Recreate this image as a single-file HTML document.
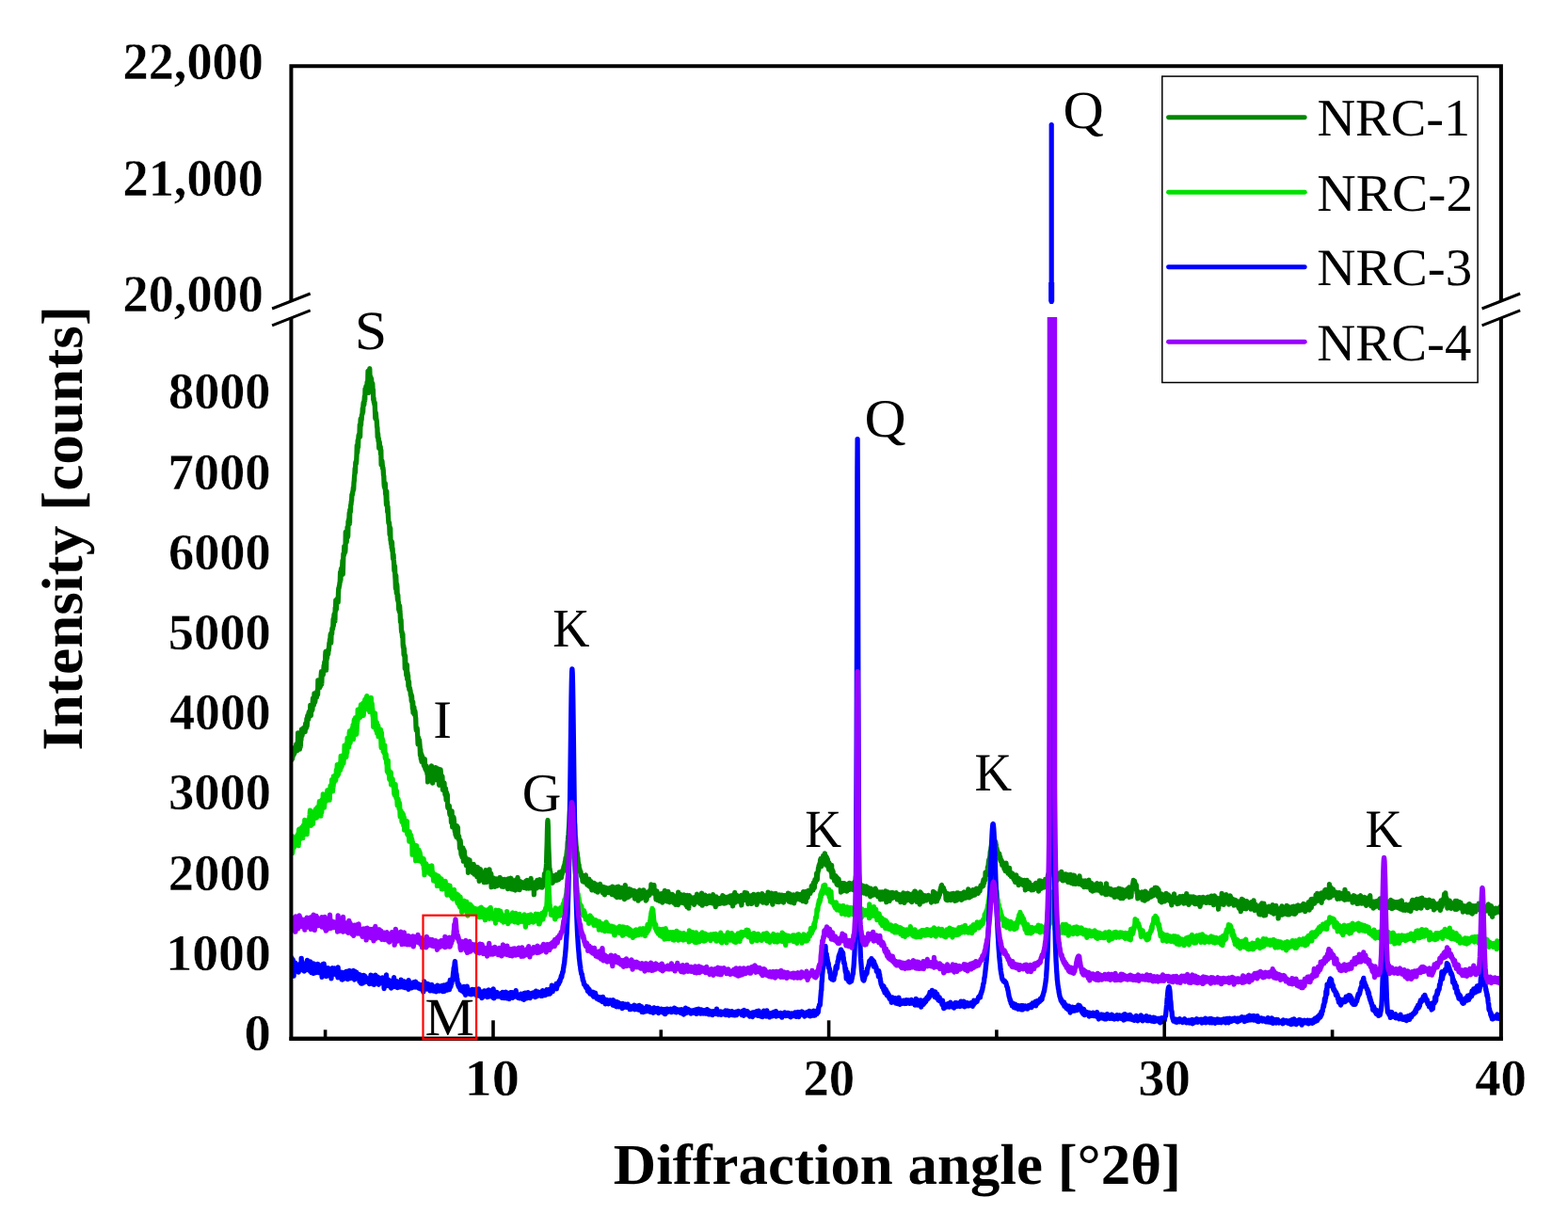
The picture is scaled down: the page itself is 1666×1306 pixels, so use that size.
<!DOCTYPE html>
<html lang="en"><head><meta charset="utf-8"><title>XRD patterns NRC-1 to NRC-4</title>
<style>html,body{margin:0;padding:0;background:#fff;}body{width:1666px;height:1306px;overflow:hidden;}svg{display:block;}</style></head>
<body>
<svg width="1666" height="1306" viewBox="0 0 1666 1306" role="img" aria-label="XRD patterns of samples NRC-1 to NRC-4">
<rect width="1666" height="1306" fill="#fff"/>
<defs><clipPath id="lo"><rect x="309.4" y="337.0" width="1285.5" height="766.8"/></clipPath></defs>
<g clip-path="url(#lo)" fill="none" stroke-width="5.3" stroke-linejoin="round" stroke-linecap="round">
<path stroke="#008800" d="M309.4,805.8 L309.7,807.6 L310.0,805.0 L310.3,797.3 L310.6,806.4 L310.9,803.8 L311.2,798.9 L311.5,803.2 L311.8,801.7 L312.1,800.8 L312.4,799.1 L312.7,800.8 L313.0,794.5 L313.3,796.5 L313.6,794.5 L313.9,798.6 L314.2,795.6 L314.5,793.6 L314.8,790.8 L315.1,792.5 L315.4,793.1 L315.7,791.3 L316.0,797.6 L316.3,795.8 L316.6,778.8 L316.9,781.8 L317.2,788.7 L317.5,787.0 L317.8,789.1 L318.1,788.4 L318.4,796.1 L318.7,781.2 L319.0,783.8 L319.3,793.7 L319.6,786.9 L319.9,786.3 L320.2,780.5 L320.5,774.8 L320.8,782.1 L321.1,781.2 L321.4,774.6 L321.7,776.3 L322.0,778.3 L322.3,773.8 L322.6,776.9 L322.9,777.0 L323.2,776.1 L323.5,773.0 L323.8,777.1 L324.1,777.7 L324.4,774.4 L324.7,768.6 L325.0,774.6 L325.3,768.3 L325.6,773.5 L325.9,764.0 L326.2,771.8 L326.5,766.8 L326.8,760.4 L327.1,763.6 L327.4,764.3 L327.7,764.4 L328.0,757.9 L328.3,756.5 L328.6,761.3 L328.9,757.4 L329.2,759.6 L329.5,761.0 L329.8,749.5 L330.1,756.9 L330.4,760.3 L330.7,752.7 L331.0,749.5 L331.3,755.4 L331.6,752.3 L331.9,754.3 L332.2,747.9 L332.5,742.0 L332.8,747.2 L333.1,744.8 L333.4,749.3 L333.7,745.9 L334.0,737.0 L334.3,738.0 L334.6,746.3 L334.9,744.5 L335.2,737.8 L335.5,739.8 L335.8,740.8 L336.1,740.1 L336.4,741.0 L336.7,737.4 L337.0,735.0 L337.3,733.4 L337.6,738.3 L337.9,722.9 L338.2,731.3 L338.5,731.1 L338.8,723.8 L339.1,730.5 L339.4,725.2 L339.7,730.8 L340.0,725.4 L340.3,727.8 L340.6,729.0 L340.9,724.2 L341.2,717.6 L341.5,713.6 L341.8,726.9 L342.1,717.5 L342.4,713.9 L342.7,716.4 L343.0,713.8 L343.3,717.2 L343.6,712.5 L343.9,711.3 L344.2,707.0 L344.5,711.0 L344.8,703.3 L345.1,709.6 L345.4,712.3 L345.7,697.7 L346.0,692.5 L346.3,704.9 L346.6,712.2 L346.9,695.5 L347.2,693.3 L347.5,700.2 L347.8,692.8 L348.1,693.1 L348.4,692.6 L348.7,695.2 L349.0,689.7 L349.3,691.2 L349.6,687.7 L349.9,683.1 L350.2,683.7 L350.5,679.3 L350.8,681.8 L351.1,675.1 L351.4,673.5 L351.7,683.1 L352.0,674.7 L352.3,673.0 L352.6,673.8 L352.9,668.0 L353.2,667.1 L353.5,668.3 L353.8,666.0 L354.1,657.9 L354.4,665.0 L354.7,657.0 L355.0,653.3 L355.3,652.2 L355.6,652.8 L355.9,659.9 L356.2,645.8 L356.5,649.8 L356.8,637.8 L357.1,645.3 L357.4,647.3 L357.7,640.3 L358.0,636.6 L358.3,638.4 L358.6,638.5 L358.9,636.3 L359.2,640.1 L359.5,630.3 L359.8,624.8 L360.1,624.9 L360.4,623.1 L360.7,621.9 L361.0,619.3 L361.3,618.3 L361.6,608.2 L361.9,617.2 L362.2,609.0 L362.5,604.4 L362.8,610.4 L363.1,611.4 L363.4,605.7 L363.7,602.3 L364.0,595.5 L364.3,610.2 L364.6,599.5 L364.9,588.6 L365.2,588.1 L365.5,589.9 L365.8,580.7 L366.1,586.2 L366.4,581.4 L366.7,586.7 L367.0,583.5 L367.3,565.3 L367.6,575.4 L367.9,566.0 L368.2,576.0 L368.5,569.8 L368.8,569.4 L369.1,560.3 L369.4,570.9 L369.7,569.7 L370.0,554.1 L370.3,558.4 L370.6,551.7 L370.9,552.4 L371.2,544.8 L371.5,556.4 L371.8,541.8 L372.1,542.5 L372.4,543.8 L372.7,536.5 L373.0,536.1 L373.3,532.5 L373.6,532.1 L373.9,525.4 L374.2,526.4 L374.5,525.2 L374.8,522.4 L375.1,521.8 L375.4,518.0 L375.7,520.2 L376.0,512.9 L376.3,511.0 L376.6,505.9 L376.9,503.6 L377.2,497.4 L377.5,502.2 L377.8,491.9 L378.1,490.7 L378.4,492.6 L378.7,489.8 L379.0,483.3 L379.3,473.4 L379.6,481.3 L379.9,478.0 L380.2,468.2 L380.5,475.4 L380.8,466.6 L381.1,462.5 L381.4,465.5 L381.7,462.1 L382.0,461.5 L382.3,451.3 L382.6,464.0 L382.9,451.2 L383.2,444.8 L383.5,452.0 L383.8,445.5 L384.1,446.3 L384.4,441.3 L384.7,440.5 L385.0,439.9 L385.3,433.7 L385.6,438.1 L385.9,431.3 L386.2,427.8 L386.5,430.2 L386.8,430.1 L387.1,425.4 L387.4,420.9 L387.7,425.7 L388.0,413.5 L388.3,415.0 L388.6,418.1 L388.9,410.4 L389.2,414.9 L389.5,412.9 L389.8,415.5 L390.1,406.0 L390.4,405.7 L390.7,408.4 L391.0,394.5 L391.3,417.4 L391.6,399.3 L391.9,397.9 L392.2,403.9 L392.5,399.4 L392.8,391.7 L393.1,402.8 L393.4,404.7 L393.7,400.2 L394.0,402.2 L394.3,407.0 L394.6,402.4 L394.9,409.9 L395.2,410.7 L395.5,408.7 L395.8,407.5 L396.1,414.7 L396.4,413.9 L396.7,424.3 L397.0,422.6 L397.3,427.6 L397.6,427.0 L397.9,430.0 L398.2,427.9 L398.5,436.9 L398.8,444.6 L399.1,438.2 L399.4,439.8 L399.7,444.5 L400.0,445.9 L400.3,447.6 L400.6,453.9 L400.9,454.5 L401.2,464.5 L401.5,460.5 L401.8,464.2 L402.1,469.2 L402.4,466.0 L402.7,475.9 L403.0,469.1 L403.3,470.5 L403.6,474.8 L403.9,478.1 L404.2,474.7 L404.5,483.0 L404.8,478.1 L405.1,493.8 L405.4,489.6 L405.7,489.4 L406.0,490.5 L406.3,495.1 L406.6,498.0 L406.9,496.7 L407.2,499.5 L407.5,505.0 L407.8,505.8 L408.1,514.5 L408.4,517.6 L408.7,514.9 L409.0,519.2 L409.3,513.6 L409.6,524.6 L409.9,524.1 L410.2,528.8 L410.5,536.4 L410.8,522.1 L411.1,536.2 L411.4,533.2 L411.7,543.6 L412.0,538.2 L412.3,544.8 L412.6,550.8 L412.9,555.6 L413.2,556.2 L413.5,555.2 L413.8,558.9 L414.1,567.8 L414.4,566.2 L414.7,561.1 L415.0,574.3 L415.3,574.4 L415.6,578.4 L415.9,575.1 L416.2,582.3 L416.5,576.0 L416.8,585.2 L417.1,582.7 L417.4,590.2 L417.7,594.1 L418.0,589.1 L418.3,594.9 L418.6,598.2 L418.9,606.2 L419.2,607.1 L419.5,601.6 L419.8,612.0 L420.1,616.2 L420.4,625.2 L420.7,611.4 L421.0,619.2 L421.3,630.0 L421.6,620.6 L421.9,623.5 L422.2,633.2 L422.5,637.5 L422.8,632.1 L423.1,639.5 L423.4,639.7 L423.7,647.9 L424.0,643.3 L424.3,649.8 L424.6,643.7 L424.9,649.3 L425.2,652.4 L425.5,660.7 L425.8,661.3 L426.1,658.6 L426.4,668.1 L426.7,671.7 L427.0,671.1 L427.3,673.7 L427.6,677.2 L427.9,673.7 L428.2,685.1 L428.5,688.2 L428.8,686.1 L429.1,695.7 L429.4,688.9 L429.7,694.8 L430.0,697.3 L430.3,710.3 L430.6,696.8 L430.9,708.5 L431.2,712.3 L431.5,712.0 L431.8,717.6 L432.1,710.0 L432.4,706.3 L432.7,721.5 L433.0,714.5 L433.3,719.9 L433.6,717.7 L433.9,729.0 L434.2,729.6 L434.5,724.1 L434.8,732.7 L435.1,730.8 L435.4,731.1 L435.7,733.5 L436.0,733.8 L436.3,738.9 L436.6,739.0 L436.9,737.6 L437.2,745.0 L437.5,739.4 L437.8,744.8 L438.1,746.9 L438.4,753.0 L438.7,745.8 L439.0,757.2 L439.3,751.9 L439.6,751.9 L439.9,751.6 L440.2,758.9 L440.5,758.4 L440.8,755.3 L441.1,757.1 L441.4,761.6 L441.7,763.0 L442.0,772.7 L442.3,776.0 L442.6,775.7 L442.9,775.4 L443.2,773.9 L443.5,778.0 L443.8,783.5 L444.1,790.9 L444.4,787.4 L444.7,783.9 L445.0,787.0 L445.3,786.3 L445.6,786.6 L445.9,790.7 L446.2,794.0 L446.5,802.7 L446.8,796.4 L447.1,803.6 L447.4,807.0 L447.7,801.1 L448.0,809.3 L448.3,806.9 L448.6,803.4 L448.9,807.8 L449.2,808.1 L449.5,808.1 L449.8,809.2 L450.1,811.5 L450.4,813.5 L450.7,808.3 L451.0,812.7 L451.3,806.7 L451.6,815.0 L451.9,817.2 L452.2,815.8 L452.5,816.9 L452.8,818.8 L453.1,813.8 L453.4,816.3 L453.7,820.1 L454.0,822.8 L454.3,820.7 L454.6,830.8 L454.9,819.7 L455.2,825.1 L455.5,826.8 L455.8,821.2 L456.1,818.7 L456.4,817.6 L456.7,823.8 L457.0,828.2 L457.3,824.6 L457.6,824.2 L457.9,821.7 L458.2,825.7 L458.5,813.9 L458.8,824.0 L459.1,823.0 L459.4,816.7 L459.7,832.0 L460.0,816.4 L460.3,817.6 L460.6,816.9 L460.9,826.8 L461.2,818.0 L461.5,824.6 L461.8,824.1 L462.1,822.5 L462.4,815.6 L462.7,818.6 L463.0,828.5 L463.3,815.8 L463.6,818.0 L463.9,821.1 L464.2,825.6 L464.5,823.5 L464.8,825.9 L465.1,818.4 L465.4,827.4 L465.7,826.1 L466.0,817.1 L466.3,830.8 L466.6,834.3 L466.9,821.5 L467.2,825.4 L467.5,831.5 L467.8,819.6 L468.1,817.9 L468.4,821.4 L468.7,825.1 L469.0,825.7 L469.3,831.4 L469.6,830.6 L469.9,824.9 L470.2,833.2 L470.5,839.4 L470.8,837.2 L471.1,837.1 L471.4,833.9 L471.7,839.0 L472.0,831.9 L472.3,840.3 L472.6,838.1 L472.9,844.4 L473.2,843.0 L473.5,837.9 L473.8,844.3 L474.1,850.1 L474.4,841.8 L474.7,845.5 L475.0,846.0 L475.3,844.4 L475.6,855.7 L475.9,858.5 L476.2,857.7 L476.5,856.7 L476.8,856.7 L477.1,859.0 L477.4,856.3 L477.7,863.9 L478.0,865.6 L478.3,866.3 L478.6,861.6 L478.9,865.1 L479.2,865.2 L479.5,874.0 L479.8,868.8 L480.1,861.8 L480.4,871.9 L480.7,878.8 L481.0,875.2 L481.3,877.0 L481.6,874.9 L481.9,868.3 L482.2,870.0 L482.5,873.3 L482.8,878.7 L483.1,881.4 L483.4,884.0 L483.7,881.1 L484.0,887.0 L484.3,883.3 L484.6,882.6 L484.9,889.4 L485.2,883.6 L485.5,877.7 L485.8,884.9 L486.1,890.1 L486.4,879.1 L486.7,890.2 L487.0,891.2 L487.3,888.0 L487.6,888.7 L487.9,893.4 L488.2,893.9 L488.5,901.5 L488.8,899.1 L489.1,892.9 L489.4,896.4 L489.7,903.0 L490.0,908.2 L490.3,903.6 L490.6,904.2 L490.9,910.6 L491.2,904.6 L491.5,904.3 L491.8,901.0 L492.1,904.9 L492.4,915.1 L492.7,902.9 L493.0,908.6 L493.3,904.2 L493.6,910.3 L493.9,913.6 L494.2,910.2 L494.5,914.2 L494.8,914.8 L495.1,914.4 L495.4,919.5 L495.7,916.8 L496.0,913.7 L496.3,913.0 L496.6,913.0 L496.9,918.2 L497.2,916.1 L497.5,927.3 L497.8,924.8 L498.1,918.2 L498.4,918.3 L498.7,925.7 L499.0,913.8 L499.3,919.1 L499.6,924.2 L499.9,918.1 L500.2,919.9 L500.5,920.7 L500.8,924.5 L501.1,923.0 L501.4,924.2 L501.7,925.1 L502.0,923.5 L502.3,927.5 L502.6,921.5 L502.9,919.4 L503.2,918.6 L503.5,919.4 L503.8,923.4 L504.1,929.0 L504.4,926.4 L504.7,924.1 L505.0,922.9 L505.3,925.0 L505.6,925.7 L505.9,925.5 L506.2,922.9 L506.5,926.4 L506.8,931.7 L507.1,921.3 L507.4,928.1 L507.7,922.1 L508.0,930.1 L508.3,927.2 L508.6,922.9 L508.9,930.4 L509.2,936.3 L509.5,930.8 L509.8,934.4 L510.1,930.5 L510.4,923.7 L510.7,932.6 L511.0,929.7 L511.3,926.4 L511.6,934.0 L511.9,932.5 L512.2,930.0 L512.5,934.7 L512.8,929.1 L513.1,934.3 L513.4,929.2 L513.7,934.2 L514.0,929.0 L514.3,937.6 L514.6,933.7 L514.9,937.7 L515.2,930.5 L515.5,931.7 L515.8,936.2 L516.1,924.6 L516.4,930.2 L516.7,937.3 L517.0,935.5 L517.3,937.4 L517.6,933.3 L517.9,936.3 L518.2,932.2 L518.5,930.3 L518.8,929.4 L519.1,933.2 L519.4,933.4 L519.7,933.3 L520.0,923.9 L520.3,929.1 L520.6,934.0 L520.9,936.7 L521.2,934.0 L521.5,933.1 L521.8,928.5 L522.1,942.6 L522.4,932.6 L522.7,941.6 L523.0,941.3 L523.3,937.2 L523.6,934.5 L523.9,936.8 L524.2,932.8 L524.5,937.4 L524.8,936.6 L525.1,938.4 L525.4,939.8 L525.7,942.3 L526.0,935.6 L526.3,940.2 L526.6,934.4 L526.9,934.2 L527.2,935.1 L527.5,934.0 L527.8,940.3 L528.1,940.2 L528.4,941.4 L528.7,937.3 L529.0,938.3 L529.3,935.6 L529.6,933.9 L529.9,939.0 L530.2,938.5 L530.5,934.2 L530.8,939.7 L531.1,932.3 L531.4,937.3 L531.7,936.0 L532.0,936.3 L532.3,934.6 L532.6,941.2 L532.9,940.0 L533.2,942.0 L533.5,938.7 L533.8,934.3 L534.1,937.2 L534.4,934.7 L534.7,940.0 L535.0,942.4 L535.3,939.7 L535.6,936.8 L535.9,937.6 L536.2,939.4 L536.5,934.3 L536.8,939.4 L537.1,939.6 L537.4,937.3 L537.7,937.8 L538.0,939.7 L538.3,936.6 L538.6,936.7 L538.9,941.8 L539.2,940.1 L539.5,944.7 L539.8,936.4 L540.1,934.0 L540.4,942.5 L540.7,942.6 L541.0,937.4 L541.3,935.2 L541.6,939.7 L541.9,934.4 L542.2,938.9 L542.5,933.2 L542.8,939.3 L543.1,933.5 L543.4,939.4 L543.7,944.9 L544.0,939.4 L544.3,942.7 L544.6,938.3 L544.9,937.6 L545.2,935.7 L545.5,943.6 L545.8,940.2 L546.1,945.4 L546.4,936.7 L546.7,939.7 L547.0,940.6 L547.3,944.7 L547.6,946.0 L547.9,938.3 L548.2,936.8 L548.5,935.0 L548.8,944.4 L549.1,940.0 L549.4,938.3 L549.7,940.1 L550.0,932.4 L550.3,935.0 L550.6,943.2 L550.9,941.5 L551.2,940.7 L551.5,937.2 L551.8,942.1 L552.1,945.7 L552.4,936.5 L552.7,940.3 L553.0,938.9 L553.3,941.3 L553.6,940.2 L553.9,939.7 L554.2,937.5 L554.5,940.1 L554.8,938.3 L555.1,939.7 L555.4,940.0 L555.7,942.1 L556.0,938.4 L556.3,939.1 L556.6,943.4 L556.9,939.4 L557.2,939.3 L557.5,942.7 L557.8,940.9 L558.1,940.3 L558.4,940.7 L558.7,936.3 L559.0,941.4 L559.3,944.0 L559.6,941.8 L559.9,935.3 L560.2,940.9 L560.5,937.3 L560.8,939.3 L561.1,940.4 L561.4,936.4 L561.7,944.0 L562.0,939.7 L562.3,942.3 L562.6,941.8 L562.9,943.9 L563.2,943.4 L563.5,935.5 L563.8,940.0 L564.1,933.5 L564.4,938.5 L564.7,941.9 L565.0,942.5 L565.3,943.6 L565.6,938.6 L565.9,940.7 L566.2,940.0 L566.5,943.4 L566.8,944.3 L567.1,938.6 L567.4,950.7 L567.7,939.6 L568.0,938.5 L568.3,941.3 L568.6,941.7 L568.9,941.1 L569.2,937.5 L569.5,943.7 L569.8,939.5 L570.1,943.8 L570.4,943.3 L570.7,935.5 L571.0,936.3 L571.3,936.2 L571.6,939.7 L571.9,939.1 L572.2,939.6 L572.5,936.5 L572.8,939.9 L573.1,942.6 L573.4,934.7 L573.7,937.9 L574.0,939.0 L574.3,937.8 L574.6,937.5 L574.9,942.8 L575.2,941.3 L575.5,939.9 L575.8,935.3 L576.1,943.2 L576.4,937.9 L576.7,935.1 L577.0,935.4 L577.3,934.7 L577.6,941.0 L577.9,935.5 L578.2,934.5 L578.5,928.4 L578.8,934.4 L579.1,929.1 L579.4,927.4 L579.7,929.1 L580.0,923.4 L580.3,922.6 L580.6,917.4 L580.9,905.5 L581.2,897.2 L581.5,883.0 L581.8,873.6 L582.0,871.7 L582.4,878.9 L582.7,894.8 L583.0,903.9 L583.3,911.0 L583.6,918.6 L583.9,924.4 L584.2,923.3 L584.5,928.1 L584.8,926.7 L585.1,933.5 L585.4,932.1 L585.7,931.4 L586.0,935.3 L586.3,930.2 L586.6,932.6 L586.9,938.3 L587.2,933.7 L587.5,937.5 L587.8,934.7 L588.1,932.5 L588.4,933.7 L588.7,934.5 L589.0,933.2 L589.3,932.1 L589.6,932.2 L589.9,930.4 L590.2,934.3 L590.5,934.9 L590.8,935.6 L591.1,929.3 L591.4,935.5 L591.7,933.4 L592.0,929.9 L592.3,933.4 L592.6,934.9 L592.9,934.0 L593.2,934.3 L593.5,934.6 L593.8,934.2 L594.1,931.8 L594.4,926.9 L594.7,929.6 L595.0,931.7 L595.3,929.6 L595.6,931.7 L595.9,931.5 L596.2,929.4 L596.5,932.7 L596.8,926.4 L597.1,929.6 L597.4,926.2 L597.7,925.0 L598.0,926.9 L598.3,923.9 L598.6,925.7 L598.9,921.2 L599.2,922.3 L599.5,919.8 L599.8,919.6 L600.1,918.1 L600.4,915.6 L600.7,916.8 L601.0,912.3 L601.3,910.9 L601.6,911.5 L601.9,909.4 L602.2,906.6 L602.5,903.5 L602.8,902.9 L603.1,895.8 L603.4,893.0 L603.7,889.1 L604.0,887.0 L604.3,882.2 L604.6,878.4 L604.9,873.6 L605.2,867.8 L605.5,862.6 L605.8,857.8 L606.1,855.5 L606.4,850.6 L606.7,846.9 L607.0,843.8 L607.3,842.2 L607.6,841.6 L607.9,842.2 L608.2,842.6 L608.5,846.7 L608.8,850.0 L609.1,854.5 L609.4,859.0 L609.7,864.3 L610.0,868.6 L610.3,874.1 L610.6,876.0 L610.9,881.7 L611.2,888.6 L611.5,889.8 L611.8,894.5 L612.1,899.0 L612.4,900.4 L612.7,905.2 L613.0,905.3 L613.3,907.0 L613.6,910.0 L613.9,911.5 L614.2,915.7 L614.5,917.0 L614.8,919.6 L615.1,918.9 L615.4,926.0 L615.7,923.0 L616.0,924.2 L616.3,926.2 L616.6,925.9 L616.9,926.1 L617.2,928.3 L617.5,930.7 L617.8,931.0 L618.1,932.2 L618.4,929.9 L618.7,930.0 L619.0,936.3 L619.3,932.2 L619.6,934.2 L619.9,935.3 L620.2,937.2 L620.5,931.6 L620.8,933.9 L621.1,934.3 L621.4,935.0 L621.7,930.5 L622.0,936.1 L622.3,929.9 L622.6,937.6 L622.9,938.4 L623.2,938.9 L623.5,934.8 L623.8,940.2 L624.1,936.1 L624.4,935.4 L624.7,936.2 L625.0,936.7 L625.3,939.4 L625.6,941.2 L625.9,934.1 L626.2,938.2 L626.5,942.0 L626.8,940.4 L627.1,941.4 L627.4,936.4 L627.7,942.8 L628.0,936.6 L628.3,941.2 L628.6,944.4 L628.9,945.9 L629.2,942.5 L629.5,943.6 L629.8,939.8 L630.1,940.3 L630.4,944.7 L630.7,941.8 L631.0,941.6 L631.3,938.3 L631.6,942.5 L631.9,944.0 L632.2,940.3 L632.5,941.1 L632.8,946.8 L633.1,943.2 L633.4,942.0 L633.7,939.8 L634.0,941.3 L634.3,942.4 L634.6,946.9 L634.9,941.6 L635.2,948.2 L635.5,940.9 L635.8,942.6 L636.1,945.9 L636.4,943.1 L636.7,941.6 L637.0,943.5 L637.3,945.2 L637.6,939.4 L637.9,943.5 L638.2,943.9 L638.5,943.2 L638.8,946.4 L639.1,942.9 L639.4,943.5 L639.7,944.7 L640.0,946.7 L640.3,944.1 L640.6,949.0 L640.9,942.4 L641.2,948.5 L641.5,942.7 L641.8,944.7 L642.1,946.2 L642.4,950.9 L642.7,947.8 L643.0,944.3 L643.3,949.0 L643.6,944.9 L643.9,943.4 L644.2,946.9 L644.5,946.0 L644.8,948.4 L645.1,944.3 L645.4,947.0 L645.7,947.7 L646.0,946.8 L646.3,946.0 L646.6,944.2 L646.9,948.7 L647.2,946.6 L647.5,947.6 L647.8,945.3 L648.1,946.4 L648.4,943.5 L648.7,946.7 L649.0,948.6 L649.3,946.8 L649.6,949.0 L649.9,947.5 L650.2,950.5 L650.5,946.2 L650.8,942.2 L651.1,948.0 L651.4,946.4 L651.7,944.2 L652.0,948.8 L652.3,947.8 L652.6,948.3 L652.9,946.2 L653.2,947.7 L653.5,947.9 L653.8,952.2 L654.1,945.4 L654.4,947.3 L654.7,948.4 L655.0,942.6 L655.3,943.0 L655.6,953.5 L655.9,942.6 L656.2,949.2 L656.5,945.3 L656.8,945.6 L657.1,942.2 L657.4,945.3 L657.7,950.0 L658.0,944.0 L658.3,949.5 L658.6,948.8 L658.9,953.6 L659.2,946.7 L659.5,951.6 L659.8,950.6 L660.1,947.3 L660.4,943.5 L660.7,952.4 L661.0,944.5 L661.3,947.0 L661.6,950.8 L661.9,951.5 L662.2,946.1 L662.5,948.4 L662.8,947.8 L663.1,951.8 L663.4,955.6 L663.7,943.5 L664.0,951.2 L664.3,940.7 L664.6,948.8 L664.9,945.7 L665.2,954.4 L665.5,949.3 L665.8,946.9 L666.1,947.6 L666.4,947.4 L666.7,949.5 L667.0,948.6 L667.3,950.9 L667.6,953.4 L667.9,951.1 L668.2,945.8 L668.5,944.7 L668.8,947.2 L669.1,952.2 L669.4,948.4 L669.7,947.5 L670.0,949.8 L670.3,945.5 L670.6,946.3 L670.9,950.9 L671.2,948.7 L671.5,948.3 L671.8,950.5 L672.1,948.0 L672.4,947.8 L672.7,948.5 L673.0,951.5 L673.3,950.0 L673.6,946.5 L673.9,949.0 L674.2,951.7 L674.5,955.1 L674.8,946.8 L675.1,951.0 L675.4,949.3 L675.7,952.4 L676.0,951.4 L676.3,954.2 L676.6,951.6 L676.9,948.7 L677.2,948.8 L677.5,951.4 L677.8,951.4 L678.1,957.0 L678.4,955.0 L678.7,947.2 L679.0,951.4 L679.3,946.8 L679.6,945.9 L679.9,952.6 L680.2,952.1 L680.5,947.8 L680.8,955.2 L681.1,948.0 L681.4,947.5 L681.7,952.6 L682.0,951.4 L682.3,950.4 L682.6,950.7 L682.9,951.5 L683.2,950.6 L683.5,950.5 L683.8,945.8 L684.1,947.3 L684.4,952.8 L684.7,949.2 L685.0,952.6 L685.3,954.6 L685.6,950.2 L685.9,952.0 L686.2,957.0 L686.5,953.2 L686.8,956.3 L687.1,955.5 L687.4,953.3 L687.7,950.8 L688.0,948.8 L688.3,947.9 L688.6,952.0 L688.9,951.6 L689.2,949.5 L689.5,951.6 L689.8,947.4 L690.1,950.9 L690.4,947.5 L690.7,946.5 L691.0,945.7 L691.3,944.7 L691.6,949.3 L691.9,940.0 L692.2,943.1 L692.5,944.8 L692.8,943.5 L693.0,941.4 L693.4,945.7 L693.7,940.6 L694.0,940.6 L694.3,945.3 L694.6,941.8 L694.9,940.6 L695.2,948.8 L695.5,949.5 L695.8,950.3 L696.1,948.2 L696.4,950.5 L696.7,948.2 L697.0,955.6 L697.3,953.6 L697.6,953.8 L697.9,946.8 L698.2,954.4 L698.5,956.5 L698.8,955.8 L699.1,954.8 L699.4,952.7 L699.7,951.8 L700.0,954.4 L700.3,953.9 L700.6,953.5 L700.9,952.1 L701.2,957.6 L701.5,949.8 L701.8,953.0 L702.1,951.5 L702.4,955.9 L702.7,957.0 L703.0,956.6 L703.3,955.3 L703.6,949.4 L703.9,959.0 L704.2,954.7 L704.5,953.1 L704.8,953.4 L705.1,952.5 L705.4,954.6 L705.7,954.3 L706.0,952.5 L706.3,946.5 L706.6,953.5 L706.9,954.9 L707.2,955.1 L707.5,953.3 L707.8,955.0 L708.1,956.6 L708.4,952.5 L708.7,957.9 L709.0,948.6 L709.3,950.5 L709.6,951.5 L709.9,947.3 L710.2,951.3 L710.5,957.5 L710.8,957.5 L711.1,954.4 L711.4,958.9 L711.7,954.9 L712.0,952.9 L712.3,955.0 L712.6,954.0 L712.9,956.4 L713.2,950.3 L713.5,957.2 L713.8,953.2 L714.1,956.9 L714.4,950.4 L714.7,953.5 L715.0,954.8 L715.3,957.1 L715.6,951.4 L715.9,959.3 L716.2,956.1 L716.5,953.4 L716.8,958.2 L717.1,955.2 L717.4,958.1 L717.7,961.3 L718.0,957.1 L718.3,953.6 L718.6,953.9 L718.9,956.7 L719.2,955.9 L719.5,952.9 L719.8,953.4 L720.1,957.1 L720.4,961.6 L720.7,948.2 L721.0,957.3 L721.3,954.8 L721.6,957.5 L721.9,957.8 L722.2,955.7 L722.5,952.8 L722.8,951.8 L723.1,950.6 L723.4,959.0 L723.7,955.1 L724.0,954.3 L724.3,955.0 L724.6,952.2 L724.9,956.7 L725.2,959.4 L725.5,959.0 L725.8,951.7 L726.1,959.7 L726.4,954.0 L726.7,950.9 L727.0,952.8 L727.3,953.5 L727.6,956.1 L727.9,953.4 L728.2,952.2 L728.5,955.6 L728.8,961.5 L729.1,954.5 L729.4,957.6 L729.7,956.6 L730.0,963.6 L730.3,951.4 L730.6,959.5 L730.9,953.1 L731.2,955.0 L731.5,956.4 L731.8,965.2 L732.1,954.7 L732.4,951.7 L732.7,960.3 L733.0,954.6 L733.3,956.2 L733.6,956.8 L733.9,957.1 L734.2,956.4 L734.5,957.6 L734.8,957.9 L735.1,959.1 L735.4,955.7 L735.7,954.8 L736.0,953.9 L736.3,958.4 L736.6,956.7 L736.9,958.2 L737.2,958.2 L737.5,961.3 L737.8,957.3 L738.1,958.7 L738.4,953.5 L738.7,953.8 L739.0,955.9 L739.3,953.4 L739.6,958.5 L739.9,953.1 L740.2,956.8 L740.5,950.1 L740.8,953.7 L741.1,955.7 L741.4,955.9 L741.7,951.8 L742.0,956.9 L742.3,959.2 L742.6,958.3 L742.9,954.8 L743.2,955.0 L743.5,953.4 L743.8,958.2 L744.1,960.4 L744.4,955.1 L744.7,952.0 L745.0,957.0 L745.3,958.4 L745.6,949.2 L745.9,956.8 L746.2,962.2 L746.5,958.6 L746.8,957.9 L747.1,957.5 L747.4,959.2 L747.7,953.9 L748.0,954.1 L748.3,957.5 L748.6,954.5 L748.9,957.0 L749.2,951.2 L749.5,958.4 L749.8,958.6 L750.1,956.4 L750.4,956.7 L750.7,960.6 L751.0,953.4 L751.3,953.8 L751.6,953.3 L751.9,955.1 L752.2,953.5 L752.5,956.3 L752.8,954.5 L753.1,952.3 L753.4,952.1 L753.7,959.4 L754.0,956.0 L754.3,955.6 L754.6,956.2 L754.9,955.9 L755.2,958.2 L755.5,957.6 L755.8,954.5 L756.1,953.9 L756.4,953.2 L756.7,952.7 L757.0,959.8 L757.3,953.6 L757.6,950.7 L757.9,953.8 L758.2,953.9 L758.5,956.9 L758.8,953.6 L759.1,957.4 L759.4,957.0 L759.7,959.4 L760.0,961.8 L760.3,963.6 L760.6,959.6 L760.9,952.8 L761.2,954.9 L761.5,956.6 L761.8,961.4 L762.1,957.7 L762.4,959.1 L762.7,955.4 L763.0,957.4 L763.3,957.8 L763.6,954.6 L763.9,957.9 L764.2,958.7 L764.5,955.4 L764.8,958.5 L765.1,960.2 L765.4,956.0 L765.7,955.8 L766.0,954.9 L766.3,954.1 L766.6,956.2 L766.9,954.6 L767.2,954.9 L767.5,953.7 L767.8,951.6 L768.1,953.2 L768.4,956.6 L768.7,952.5 L769.0,953.9 L769.3,960.0 L769.6,958.6 L769.9,953.8 L770.2,957.2 L770.5,953.9 L770.8,959.9 L771.1,954.0 L771.4,955.8 L771.7,959.3 L772.0,953.4 L772.3,959.0 L772.6,953.4 L772.9,956.2 L773.2,954.7 L773.5,955.3 L773.8,955.9 L774.1,955.3 L774.4,952.8 L774.7,957.8 L775.0,957.4 L775.3,958.9 L775.6,959.1 L775.9,951.8 L776.2,958.8 L776.5,958.9 L776.8,954.0 L777.1,958.1 L777.4,959.3 L777.7,953.9 L778.0,951.7 L778.3,954.4 L778.6,962.8 L778.9,955.9 L779.2,952.1 L779.5,954.6 L779.8,952.6 L780.1,954.2 L780.4,955.5 L780.7,948.4 L781.0,956.2 L781.3,959.0 L781.6,954.7 L781.9,954.2 L782.2,958.1 L782.5,951.8 L782.8,951.9 L783.1,951.5 L783.4,954.7 L783.7,956.2 L784.0,954.9 L784.3,956.6 L784.6,957.3 L784.9,956.4 L785.2,952.9 L785.5,954.4 L785.8,958.4 L786.1,952.3 L786.4,954.4 L786.7,953.9 L787.0,954.6 L787.3,952.2 L787.6,951.4 L787.9,961.8 L788.2,957.5 L788.5,953.1 L788.8,954.8 L789.1,956.8 L789.4,954.0 L789.7,956.6 L790.0,953.3 L790.3,954.0 L790.6,954.7 L790.9,953.7 L791.2,948.4 L791.5,955.0 L791.8,955.6 L792.1,956.2 L792.4,952.3 L792.7,955.8 L793.0,955.5 L793.3,950.2 L793.6,949.0 L793.9,956.1 L794.2,952.3 L794.5,957.5 L794.8,960.5 L795.1,953.3 L795.4,953.0 L795.7,954.8 L796.0,956.6 L796.3,951.8 L796.6,958.1 L796.9,957.5 L797.2,956.6 L797.5,953.4 L797.8,957.3 L798.1,957.1 L798.4,951.6 L798.7,960.4 L799.0,954.0 L799.3,955.8 L799.6,953.4 L799.9,955.8 L800.2,957.9 L800.5,952.7 L800.8,950.4 L801.1,953.6 L801.4,951.3 L801.7,952.8 L802.0,954.4 L802.3,954.6 L802.6,958.2 L802.9,952.1 L803.2,955.7 L803.5,953.4 L803.8,958.4 L804.1,961.4 L804.4,955.6 L804.7,959.2 L805.0,953.3 L805.3,950.5 L805.6,951.4 L805.9,950.6 L806.2,952.2 L806.5,954.1 L806.8,957.8 L807.1,956.6 L807.4,955.9 L807.7,953.6 L808.0,952.8 L808.3,954.8 L808.6,955.1 L808.9,955.4 L809.2,955.7 L809.5,954.4 L809.8,949.6 L810.1,951.7 L810.4,952.5 L810.7,959.2 L811.0,953.5 L811.3,956.4 L811.6,958.5 L811.9,955.5 L812.2,953.6 L812.5,953.9 L812.8,951.9 L813.1,955.5 L813.4,957.6 L813.7,956.1 L814.0,956.7 L814.3,956.5 L814.6,959.9 L814.9,952.9 L815.2,955.0 L815.5,956.5 L815.8,957.9 L816.1,948.2 L816.4,953.2 L816.7,954.0 L817.0,951.9 L817.3,956.8 L817.6,955.2 L817.9,953.5 L818.2,950.3 L818.5,951.1 L818.8,952.0 L819.1,955.8 L819.4,951.4 L819.7,949.1 L820.0,950.7 L820.3,953.0 L820.6,959.0 L820.9,961.1 L821.2,953.3 L821.5,957.0 L821.8,958.2 L822.1,957.9 L822.4,954.2 L822.7,951.1 L823.0,953.2 L823.3,949.6 L823.6,955.1 L823.9,956.6 L824.2,949.5 L824.5,954.4 L824.8,955.3 L825.1,957.8 L825.4,958.1 L825.7,956.6 L826.0,952.7 L826.3,953.5 L826.6,957.6 L826.9,952.9 L827.2,954.4 L827.5,958.6 L827.8,954.8 L828.1,950.8 L828.4,953.7 L828.7,956.1 L829.0,953.9 L829.3,957.5 L829.6,957.8 L829.9,952.7 L830.2,953.1 L830.5,954.1 L830.8,951.2 L831.1,955.3 L831.4,953.8 L831.7,956.3 L832.0,952.7 L832.3,951.9 L832.6,959.0 L832.9,951.8 L833.2,952.6 L833.5,952.2 L833.8,953.3 L834.1,951.6 L834.4,953.9 L834.7,952.1 L835.0,952.9 L835.3,954.9 L835.6,955.7 L835.9,955.1 L836.2,951.9 L836.5,954.8 L836.8,953.5 L837.1,953.5 L837.4,949.2 L837.7,955.5 L838.0,953.3 L838.3,958.1 L838.6,955.3 L838.9,950.6 L839.2,949.9 L839.5,956.5 L839.8,951.2 L840.1,955.3 L840.4,952.6 L840.7,958.9 L841.0,953.6 L841.3,957.3 L841.6,956.8 L841.9,952.1 L842.2,952.4 L842.5,957.1 L842.8,953.2 L843.1,950.9 L843.4,956.3 L843.7,959.9 L844.0,953.0 L844.3,956.8 L844.6,952.7 L844.9,956.6 L845.2,952.4 L845.5,956.5 L845.8,954.4 L846.1,952.5 L846.4,953.6 L846.7,951.5 L847.0,949.9 L847.3,950.1 L847.6,952.7 L847.9,950.1 L848.2,954.0 L848.5,954.2 L848.8,954.0 L849.1,951.4 L849.4,952.9 L849.7,952.6 L850.0,956.1 L850.3,950.5 L850.6,951.6 L850.9,952.0 L851.2,952.2 L851.5,950.6 L851.8,950.9 L852.1,955.2 L852.4,950.8 L852.7,954.8 L853.0,957.7 L853.3,955.7 L853.6,947.6 L853.9,954.3 L854.2,953.5 L854.5,953.7 L854.8,947.9 L855.1,954.2 L855.4,949.3 L855.7,955.4 L856.0,954.7 L856.3,958.5 L856.6,950.5 L856.9,947.3 L857.2,953.8 L857.5,953.1 L857.8,949.5 L858.1,953.9 L858.4,951.9 L858.7,946.4 L859.0,948.6 L859.3,948.1 L859.6,948.7 L859.9,949.2 L860.2,946.6 L860.5,947.7 L860.8,949.5 L861.1,947.5 L861.4,946.7 L861.7,946.4 L862.0,946.6 L862.3,941.5 L862.6,946.6 L862.9,942.9 L863.2,945.3 L863.5,940.3 L863.8,945.9 L864.1,943.2 L864.4,937.9 L864.7,941.3 L865.0,937.6 L865.3,943.6 L865.6,939.1 L865.9,934.6 L866.2,936.5 L866.5,934.8 L866.8,937.2 L867.1,933.9 L867.4,933.4 L867.7,927.9 L868.0,932.2 L868.3,934.8 L868.6,929.7 L868.9,926.8 L869.2,926.3 L869.5,922.2 L869.8,924.3 L870.1,919.6 L870.4,921.8 L870.7,919.6 L871.0,917.3 L871.3,920.3 L871.6,913.5 L871.9,916.7 L872.2,912.3 L872.5,920.7 L872.8,920.5 L873.1,916.8 L873.4,919.3 L873.7,915.0 L874.0,914.4 L874.3,911.2 L874.6,909.3 L874.9,911.9 L875.2,909.6 L875.5,909.7 L875.8,913.0 L876.1,910.7 L876.4,906.8 L876.7,911.0 L877.0,909.9 L877.3,911.7 L877.6,909.8 L877.9,916.9 L878.2,919.4 L878.5,911.2 L878.8,916.8 L879.1,917.3 L879.4,913.2 L879.7,917.3 L880.0,921.8 L880.3,921.0 L880.6,924.0 L880.9,917.0 L881.2,919.0 L881.5,922.7 L881.8,923.7 L882.1,923.6 L882.4,923.2 L882.7,923.9 L883.0,924.1 L883.3,927.7 L883.6,919.4 L883.9,932.0 L884.2,926.7 L884.5,924.7 L884.8,930.7 L885.1,925.9 L885.4,931.4 L885.7,929.7 L886.0,933.0 L886.3,934.1 L886.6,936.0 L886.9,931.6 L887.2,932.7 L887.5,934.0 L887.8,930.6 L888.1,936.5 L888.4,935.6 L888.7,932.0 L889.0,939.2 L889.3,939.9 L889.6,933.0 L889.9,938.4 L890.2,940.5 L890.5,939.7 L890.8,935.1 L891.1,934.2 L891.4,938.0 L891.7,937.3 L892.0,938.9 L892.3,938.9 L892.6,940.9 L892.9,938.2 L893.2,939.6 L893.5,948.2 L893.8,940.2 L894.1,942.7 L894.4,941.6 L894.7,941.5 L895.0,938.6 L895.3,942.5 L895.6,941.0 L895.9,943.4 L896.2,946.7 L896.5,941.8 L896.8,943.4 L897.1,938.7 L897.4,941.8 L897.7,945.6 L898.0,941.4 L898.3,939.9 L898.6,942.2 L898.9,941.2 L899.2,941.1 L899.5,940.8 L899.8,947.1 L900.1,939.6 L900.4,940.9 L900.7,940.5 L901.0,945.3 L901.3,941.3 L901.6,945.5 L901.9,942.6 L902.2,942.1 L902.5,938.4 L902.8,945.3 L903.1,943.6 L903.4,943.3 L903.7,941.9 L904.0,941.1 L904.3,939.0 L904.6,944.6 L904.9,942.8 L905.2,941.1 L905.5,940.4 L905.8,942.1 L906.1,941.5 L906.4,945.6 L906.7,943.2 L907.0,939.6 L907.3,938.1 L907.6,939.6 L907.9,937.5 L908.2,938.9 L908.5,938.6 L908.8,937.6 L909.1,935.2 L909.4,931.5 L909.7,929.4 L910.0,922.7 L910.3,918.5 L910.6,914.2 L911.0,910.1 L911.2,909.4 L911.5,913.7 L911.8,918.6 L912.1,928.8 L912.4,927.8 L912.7,933.4 L913.0,939.6 L913.3,940.1 L913.6,942.1 L913.9,939.3 L914.2,943.0 L914.5,949.0 L914.8,942.5 L915.1,944.1 L915.4,942.7 L915.7,943.8 L916.0,945.1 L916.3,947.8 L916.6,942.4 L916.9,941.3 L917.2,945.1 L917.5,945.8 L917.8,949.0 L918.1,947.4 L918.4,944.1 L918.7,947.3 L919.0,948.8 L919.3,946.9 L919.6,945.4 L919.9,948.1 L920.2,945.6 L920.5,941.8 L920.8,950.1 L921.1,943.5 L921.4,946.0 L921.7,946.2 L922.0,946.2 L922.3,946.4 L922.6,943.5 L922.9,948.7 L923.2,947.5 L923.5,947.6 L923.8,950.4 L924.1,950.6 L924.4,951.3 L924.7,952.7 L925.0,949.1 L925.3,944.1 L925.6,948.7 L925.9,948.3 L926.2,948.5 L926.5,946.8 L926.8,946.2 L927.1,950.6 L927.4,951.2 L927.7,945.8 L928.0,950.2 L928.3,948.4 L928.6,948.0 L928.9,950.8 L929.2,949.0 L929.5,947.8 L929.8,949.4 L930.1,944.2 L930.4,947.9 L930.7,948.4 L931.0,946.0 L931.3,950.1 L931.6,950.4 L931.9,948.2 L932.2,949.4 L932.5,951.7 L932.8,952.8 L933.1,948.1 L933.4,951.1 L933.7,952.9 L934.0,950.2 L934.3,948.4 L934.6,948.5 L934.9,949.7 L935.2,948.0 L935.5,955.9 L935.8,949.3 L936.1,951.8 L936.4,951.4 L936.7,952.6 L937.0,950.1 L937.3,947.8 L937.6,955.5 L937.9,951.1 L938.2,951.7 L938.5,952.0 L938.8,954.8 L939.1,953.6 L939.4,954.7 L939.7,953.8 L940.0,952.2 L940.3,952.5 L940.6,950.0 L940.9,946.9 L941.2,951.3 L941.5,949.2 L941.8,958.7 L942.1,956.1 L942.4,955.1 L942.7,950.7 L943.0,957.4 L943.3,947.8 L943.6,949.1 L943.9,950.2 L944.2,949.8 L944.5,952.6 L944.8,952.8 L945.1,957.3 L945.4,954.9 L945.7,955.5 L946.0,953.5 L946.3,952.1 L946.6,950.7 L946.9,948.6 L947.2,950.3 L947.5,951.6 L947.8,954.6 L948.1,948.3 L948.4,949.2 L948.7,953.3 L949.0,950.0 L949.3,953.6 L949.6,951.7 L949.9,950.9 L950.2,949.4 L950.5,952.6 L950.8,951.0 L951.1,951.4 L951.4,951.3 L951.7,953.5 L952.0,953.4 L952.3,948.7 L952.6,952.7 L952.9,954.1 L953.2,955.8 L953.5,955.2 L953.8,953.7 L954.1,950.3 L954.4,951.3 L954.7,955.6 L955.0,951.5 L955.3,956.0 L955.6,956.6 L955.9,950.7 L956.2,954.6 L956.5,953.2 L956.8,958.7 L957.1,955.7 L957.4,952.3 L957.7,954.6 L958.0,951.3 L958.3,953.3 L958.6,954.2 L958.9,954.1 L959.2,954.5 L959.5,951.4 L959.8,949.0 L960.1,952.9 L960.4,951.5 L960.7,952.0 L961.0,959.3 L961.3,956.8 L961.6,953.4 L961.9,950.2 L962.2,950.5 L962.5,954.8 L962.8,956.6 L963.1,953.1 L963.4,954.2 L963.7,954.5 L964.0,956.6 L964.3,949.1 L964.6,954.3 L964.9,955.0 L965.2,956.4 L965.5,954.9 L965.8,951.1 L966.1,952.5 L966.4,950.1 L966.7,954.5 L967.0,954.5 L967.3,955.3 L967.6,951.5 L967.9,951.1 L968.2,957.9 L968.5,954.5 L968.8,958.5 L969.1,955.1 L969.4,950.3 L969.7,956.1 L970.0,957.2 L970.3,952.9 L970.6,949.1 L970.9,955.7 L971.2,953.7 L971.5,954.8 L971.8,947.2 L972.1,955.2 L972.4,947.1 L972.7,951.9 L973.0,956.4 L973.3,949.5 L973.6,949.4 L973.9,953.0 L974.2,958.3 L974.5,958.2 L974.8,952.6 L975.1,956.7 L975.4,955.6 L975.7,954.8 L976.0,955.1 L976.3,952.3 L976.6,956.2 L976.9,956.9 L977.2,961.0 L977.5,956.5 L977.8,948.0 L978.1,951.1 L978.4,955.0 L978.7,954.4 L979.0,949.5 L979.3,953.9 L979.6,953.3 L979.9,954.1 L980.2,953.9 L980.5,956.6 L980.8,958.0 L981.1,956.0 L981.4,951.4 L981.7,952.1 L982.0,952.6 L982.3,954.1 L982.6,953.2 L982.9,953.4 L983.2,951.9 L983.5,956.7 L983.8,956.5 L984.1,956.7 L984.4,954.1 L984.7,955.5 L985.0,952.0 L985.3,951.8 L985.6,952.9 L985.9,955.8 L986.2,954.0 L986.5,951.5 L986.8,954.6 L987.1,955.4 L987.4,954.8 L987.7,952.7 L988.0,954.5 L988.3,953.3 L988.6,953.6 L988.9,954.2 L989.2,956.3 L989.5,959.0 L989.8,958.3 L990.1,956.0 L990.4,953.4 L990.7,953.6 L991.0,953.7 L991.3,957.3 L991.6,947.4 L991.9,955.1 L992.2,949.4 L992.5,954.4 L992.8,957.7 L993.1,952.1 L993.4,948.6 L993.7,957.6 L994.0,958.0 L994.3,955.4 L994.6,957.2 L994.9,951.9 L995.2,956.6 L995.5,957.6 L995.8,954.8 L996.1,953.5 L996.4,955.5 L996.7,954.6 L997.0,949.8 L997.3,953.8 L997.6,951.7 L997.9,949.7 L998.2,951.3 L998.5,949.7 L998.8,948.5 L999.1,945.3 L999.4,947.1 L999.7,942.9 L1000.0,944.1 L1000.3,940.9 L1000.6,940.6 L1001.0,944.2 L1001.2,943.3 L1001.5,943.8 L1001.8,945.0 L1002.1,945.0 L1002.4,943.3 L1002.7,945.7 L1003.0,946.2 L1003.3,946.0 L1003.6,947.6 L1003.9,947.8 L1004.2,948.0 L1004.5,949.3 L1004.8,951.2 L1005.1,955.9 L1005.4,949.9 L1005.7,953.4 L1006.0,949.1 L1006.3,956.6 L1006.6,952.3 L1006.9,953.6 L1007.2,956.5 L1007.5,955.9 L1007.8,949.9 L1008.1,955.0 L1008.4,953.1 L1008.7,955.2 L1009.0,954.1 L1009.3,955.5 L1009.6,954.4 L1009.9,953.3 L1010.2,956.6 L1010.5,949.8 L1010.8,952.5 L1011.1,951.2 L1011.4,953.2 L1011.7,952.4 L1012.0,953.1 L1012.3,952.2 L1012.6,952.2 L1012.9,949.3 L1013.2,953.2 L1013.5,954.1 L1013.8,951.8 L1014.1,951.6 L1014.4,951.6 L1014.7,957.3 L1015.0,953.6 L1015.3,954.1 L1015.6,952.3 L1015.9,951.8 L1016.2,950.9 L1016.5,956.8 L1016.8,948.8 L1017.1,953.7 L1017.4,952.8 L1017.7,952.2 L1018.0,949.0 L1018.3,949.7 L1018.6,955.2 L1018.9,951.0 L1019.2,954.8 L1019.5,954.3 L1019.8,954.0 L1020.1,954.4 L1020.4,949.6 L1020.7,951.3 L1021.0,954.1 L1021.3,949.3 L1021.6,956.4 L1021.9,951.0 L1022.2,952.1 L1022.5,949.7 L1022.8,953.1 L1023.1,950.4 L1023.4,951.5 L1023.7,949.3 L1024.0,954.9 L1024.3,948.0 L1024.6,953.0 L1024.9,952.5 L1025.2,952.9 L1025.5,949.3 L1025.8,954.2 L1026.1,954.0 L1026.4,952.0 L1026.7,952.3 L1027.0,951.2 L1027.3,953.0 L1027.6,949.5 L1027.9,952.7 L1028.2,952.3 L1028.5,947.9 L1028.8,944.9 L1029.1,950.9 L1029.4,950.7 L1029.7,953.9 L1030.0,951.0 L1030.3,949.6 L1030.6,947.5 L1030.9,950.3 L1031.2,949.1 L1031.5,947.7 L1031.8,949.9 L1032.1,952.5 L1032.4,950.1 L1032.7,947.3 L1033.0,950.4 L1033.3,946.9 L1033.6,945.6 L1033.9,950.3 L1034.2,947.7 L1034.5,951.4 L1034.8,949.4 L1035.1,946.7 L1035.4,948.8 L1035.7,951.1 L1036.0,947.6 L1036.3,945.4 L1036.6,946.1 L1036.9,945.6 L1037.2,944.6 L1037.5,944.2 L1037.8,947.8 L1038.1,949.1 L1038.4,945.6 L1038.7,947.9 L1039.0,948.0 L1039.3,949.4 L1039.6,945.1 L1039.9,944.5 L1040.2,945.9 L1040.5,944.9 L1040.8,945.1 L1041.1,946.9 L1041.4,943.0 L1041.7,944.0 L1042.0,941.2 L1042.3,942.5 L1042.6,941.2 L1042.9,940.6 L1043.2,941.3 L1043.5,940.5 L1043.8,941.6 L1044.1,942.0 L1044.4,937.1 L1044.7,941.3 L1045.0,934.6 L1045.3,938.5 L1045.6,938.5 L1045.9,935.2 L1046.2,935.1 L1046.5,933.1 L1046.8,935.0 L1047.1,927.1 L1047.4,929.8 L1047.7,927.1 L1048.0,929.3 L1048.3,929.8 L1048.6,928.3 L1048.9,926.1 L1049.2,924.0 L1049.5,921.1 L1049.8,922.3 L1050.1,919.8 L1050.4,916.2 L1050.7,913.9 L1051.0,912.9 L1051.3,913.1 L1051.6,911.4 L1051.9,909.8 L1052.2,905.2 L1052.5,903.7 L1052.8,903.6 L1053.1,900.5 L1053.4,899.3 L1053.7,895.5 L1054.0,895.0 L1054.3,894.0 L1054.6,892.6 L1054.9,891.7 L1055.2,890.0 L1055.5,892.8 L1055.8,891.3 L1056.1,889.9 L1056.4,892.8 L1056.7,892.5 L1057.0,894.0 L1057.3,894.0 L1057.6,894.4 L1057.9,895.6 L1058.2,898.0 L1058.5,899.8 L1058.8,900.7 L1059.1,902.1 L1059.4,904.0 L1059.7,904.0 L1060.0,906.0 L1060.3,907.2 L1060.6,907.0 L1060.9,907.4 L1061.2,907.6 L1061.5,907.2 L1061.8,907.3 L1062.1,912.4 L1062.4,910.9 L1062.7,910.6 L1063.0,914.8 L1063.3,914.5 L1063.6,913.6 L1063.9,915.9 L1064.2,914.4 L1064.5,916.1 L1064.8,919.4 L1065.1,918.6 L1065.4,916.6 L1065.7,919.0 L1066.0,920.4 L1066.3,918.3 L1066.6,918.1 L1066.9,923.2 L1067.2,919.2 L1067.5,917.4 L1067.8,920.8 L1068.1,925.7 L1068.4,922.5 L1068.7,923.5 L1069.0,917.1 L1069.3,920.9 L1069.6,925.1 L1069.9,921.9 L1070.2,926.1 L1070.5,924.6 L1070.8,924.8 L1071.1,928.2 L1071.4,923.7 L1071.7,924.2 L1072.0,925.9 L1072.3,926.6 L1072.6,922.5 L1072.9,929.7 L1073.2,927.8 L1073.5,927.3 L1073.8,929.5 L1074.1,927.5 L1074.4,931.6 L1074.7,929.3 L1075.0,931.2 L1075.3,927.8 L1075.6,929.6 L1075.9,931.5 L1076.2,928.7 L1076.5,929.7 L1076.8,931.5 L1077.1,934.6 L1077.4,934.1 L1077.7,934.8 L1078.0,933.7 L1078.3,935.5 L1078.6,937.4 L1078.9,934.3 L1079.2,935.3 L1079.5,936.0 L1079.8,929.9 L1080.1,934.8 L1080.4,936.4 L1080.7,937.4 L1081.0,935.0 L1081.3,938.3 L1081.6,934.6 L1081.9,935.9 L1082.2,940.7 L1082.5,933.4 L1082.8,936.7 L1083.1,936.7 L1083.4,937.0 L1083.7,936.1 L1084.0,939.2 L1084.3,935.1 L1084.6,934.7 L1084.9,939.3 L1085.2,935.3 L1085.5,939.4 L1085.8,938.7 L1086.1,937.1 L1086.4,938.1 L1086.7,938.9 L1087.0,940.4 L1087.3,937.9 L1087.6,939.1 L1087.9,936.2 L1088.2,939.3 L1088.5,935.3 L1088.8,940.2 L1089.1,939.3 L1089.4,945.8 L1089.7,944.0 L1090.0,940.6 L1090.3,943.5 L1090.6,942.0 L1090.9,938.5 L1091.2,935.5 L1091.5,944.5 L1091.8,942.8 L1092.1,937.0 L1092.4,943.5 L1092.7,944.3 L1093.0,940.3 L1093.3,944.0 L1093.6,937.7 L1093.9,941.5 L1094.2,942.1 L1094.5,944.0 L1094.8,943.1 L1095.1,942.6 L1095.4,943.5 L1095.7,940.4 L1096.0,945.8 L1096.3,941.2 L1096.6,944.1 L1096.9,942.1 L1097.2,941.5 L1097.5,943.6 L1097.8,943.2 L1098.1,945.5 L1098.4,944.8 L1098.7,940.7 L1099.0,943.4 L1099.3,942.4 L1099.6,940.1 L1099.9,939.3 L1100.2,942.7 L1100.5,940.6 L1100.8,938.4 L1101.1,941.6 L1101.4,942.3 L1101.7,941.9 L1102.0,938.5 L1102.3,940.0 L1102.6,944.9 L1102.9,939.4 L1103.2,940.4 L1103.5,947.0 L1103.8,941.9 L1104.1,939.7 L1104.4,936.0 L1104.7,941.6 L1105.0,937.2 L1105.3,940.5 L1105.6,938.3 L1105.9,936.2 L1106.2,944.4 L1106.5,939.9 L1106.8,942.4 L1107.1,941.8 L1107.4,938.0 L1107.7,939.9 L1108.0,938.7 L1108.3,941.8 L1108.6,940.3 L1108.9,938.2 L1109.2,943.0 L1109.5,940.0 L1109.8,939.7 L1110.1,936.4 L1110.4,939.1 L1110.7,934.3 L1111.0,938.7 L1111.3,935.1 L1111.6,937.4 L1111.9,936.0 L1112.2,936.8 L1112.5,936.6 L1112.8,935.2 L1113.1,934.6 L1113.4,930.8 L1113.7,929.2 L1114.0,934.9 L1114.3,932.3 L1114.6,926.8 L1114.9,931.3 L1115.2,924.1 L1115.5,923.1 L1115.8,918.7 L1116.1,912.7 L1116.4,905.9 L1116.7,894.8 L1117.0,886.4 L1117.3,878.9 L1117.5,877.3 L1117.9,882.9 L1118.2,891.6 L1118.5,900.5 L1118.8,910.1 L1119.1,913.6 L1119.4,919.7 L1119.7,922.9 L1120.0,924.5 L1120.3,927.2 L1120.6,928.8 L1120.9,927.6 L1121.2,930.2 L1121.5,934.2 L1121.8,928.1 L1122.1,930.1 L1122.4,929.3 L1122.7,935.9 L1123.0,928.0 L1123.3,931.5 L1123.6,933.8 L1123.9,929.4 L1124.2,931.2 L1124.5,929.7 L1124.8,928.1 L1125.1,931.2 L1125.4,932.6 L1125.7,930.2 L1126.0,931.6 L1126.3,932.8 L1126.6,934.1 L1126.9,927.9 L1127.2,932.6 L1127.5,929.5 L1127.8,926.3 L1128.1,929.3 L1128.4,933.0 L1128.7,932.3 L1129.0,928.8 L1129.3,935.9 L1129.6,932.9 L1129.9,931.8 L1130.2,930.7 L1130.5,933.3 L1130.8,931.3 L1131.1,935.3 L1131.4,933.3 L1131.7,934.2 L1132.0,931.9 L1132.3,928.9 L1132.6,934.2 L1132.9,930.3 L1133.2,932.8 L1133.5,933.1 L1133.8,931.2 L1134.1,935.7 L1134.4,929.7 L1134.7,937.4 L1135.0,932.1 L1135.3,936.2 L1135.6,937.2 L1135.9,931.6 L1136.2,932.0 L1136.5,936.5 L1136.8,934.6 L1137.1,934.4 L1137.4,929.5 L1137.7,930.1 L1138.0,935.9 L1138.3,938.3 L1138.6,932.8 L1138.9,932.5 L1139.2,935.4 L1139.5,936.1 L1139.8,936.5 L1140.1,933.9 L1140.4,930.1 L1140.7,939.1 L1141.0,934.0 L1141.3,938.7 L1141.6,930.3 L1141.9,936.6 L1142.2,934.4 L1142.5,932.9 L1142.8,938.4 L1143.1,939.3 L1143.4,934.5 L1143.7,937.8 L1144.0,933.4 L1144.3,934.6 L1144.6,935.7 L1144.9,935.5 L1145.2,938.2 L1145.5,933.5 L1145.8,939.2 L1146.1,939.3 L1146.4,936.3 L1146.7,933.9 L1147.0,930.9 L1147.3,937.0 L1147.6,935.5 L1147.9,937.7 L1148.2,934.8 L1148.5,937.7 L1148.8,937.6 L1149.1,937.9 L1149.4,938.7 L1149.7,938.9 L1150.0,940.7 L1150.3,936.3 L1150.6,940.3 L1150.9,939.0 L1151.2,937.6 L1151.5,936.2 L1151.8,942.7 L1152.1,939.6 L1152.4,937.8 L1152.7,939.4 L1153.0,939.3 L1153.3,938.1 L1153.6,936.0 L1153.9,940.1 L1154.2,939.4 L1154.5,939.2 L1154.8,942.5 L1155.1,936.7 L1155.4,937.8 L1155.7,940.7 L1156.0,942.6 L1156.3,942.1 L1156.6,942.5 L1156.9,935.1 L1157.2,942.2 L1157.5,942.1 L1157.8,942.9 L1158.1,939.5 L1158.4,942.6 L1158.7,944.0 L1159.0,945.7 L1159.3,942.3 L1159.6,938.4 L1159.9,942.0 L1160.2,943.7 L1160.5,943.4 L1160.8,947.1 L1161.1,941.8 L1161.4,939.8 L1161.7,940.9 L1162.0,944.4 L1162.3,940.7 L1162.6,940.2 L1162.9,940.9 L1163.2,946.2 L1163.5,943.8 L1163.8,942.5 L1164.1,945.6 L1164.4,945.3 L1164.7,941.2 L1165.0,945.9 L1165.3,944.5 L1165.6,938.7 L1165.9,941.1 L1166.2,944.9 L1166.5,945.6 L1166.8,943.7 L1167.1,942.0 L1167.4,945.3 L1167.7,940.1 L1168.0,946.3 L1168.3,944.5 L1168.6,944.9 L1168.9,943.4 L1169.2,947.2 L1169.5,939.2 L1169.8,943.0 L1170.1,946.7 L1170.4,943.5 L1170.7,949.1 L1171.0,946.5 L1171.3,943.5 L1171.6,948.3 L1171.9,945.3 L1172.2,947.1 L1172.5,944.1 L1172.8,944.2 L1173.1,947.6 L1173.4,946.1 L1173.7,943.9 L1174.0,943.7 L1174.3,947.6 L1174.6,950.5 L1174.9,943.9 L1175.2,947.9 L1175.5,938.8 L1175.8,942.7 L1176.1,948.0 L1176.4,950.4 L1176.7,946.5 L1177.0,947.8 L1177.3,947.1 L1177.6,949.1 L1177.9,943.8 L1178.2,948.3 L1178.5,945.6 L1178.8,945.9 L1179.1,946.8 L1179.4,946.3 L1179.7,944.9 L1180.0,946.3 L1180.3,944.6 L1180.6,950.8 L1180.9,948.9 L1181.2,946.1 L1181.5,951.2 L1181.8,950.5 L1182.1,948.5 L1182.4,946.0 L1182.7,948.0 L1183.0,948.9 L1183.3,951.0 L1183.6,947.1 L1183.9,946.1 L1184.2,953.4 L1184.5,951.2 L1184.8,948.5 L1185.1,945.4 L1185.4,949.0 L1185.7,950.7 L1186.0,949.8 L1186.3,950.0 L1186.6,948.1 L1186.9,950.9 L1187.2,946.6 L1187.5,947.0 L1187.8,946.9 L1188.1,946.6 L1188.4,953.2 L1188.7,944.1 L1189.0,949.0 L1189.3,945.9 L1189.6,945.3 L1189.9,948.8 L1190.2,944.6 L1190.5,948.4 L1190.8,954.5 L1191.1,948.4 L1191.4,949.9 L1191.7,946.7 L1192.0,950.1 L1192.3,945.1 L1192.6,949.4 L1192.9,948.7 L1193.2,954.5 L1193.5,948.8 L1193.8,948.2 L1194.1,947.7 L1194.4,946.1 L1194.7,951.2 L1195.0,952.9 L1195.3,948.3 L1195.6,951.1 L1195.9,948.5 L1196.2,950.4 L1196.5,950.6 L1196.8,945.8 L1197.1,947.6 L1197.4,951.9 L1197.7,944.7 L1198.0,949.6 L1198.3,948.8 L1198.6,947.3 L1198.9,949.7 L1199.2,950.4 L1199.5,950.9 L1199.8,942.8 L1200.1,953.4 L1200.4,947.8 L1200.7,951.1 L1201.0,947.9 L1201.3,946.2 L1201.6,946.7 L1201.9,952.8 L1202.2,948.2 L1202.5,943.1 L1202.8,943.1 L1203.1,943.5 L1203.4,941.2 L1203.7,939.2 L1204.0,937.8 L1204.3,935.5 L1204.6,938.0 L1205.0,938.4 L1205.2,940.3 L1205.5,936.2 L1205.8,938.8 L1206.1,938.6 L1206.4,942.0 L1206.7,940.9 L1207.0,941.1 L1207.3,940.3 L1207.6,946.4 L1207.9,946.4 L1208.2,949.6 L1208.5,946.8 L1208.8,954.8 L1209.1,947.7 L1209.4,951.2 L1209.7,951.3 L1210.0,953.4 L1210.3,950.5 L1210.6,948.8 L1210.9,948.7 L1211.2,953.4 L1211.5,951.7 L1211.8,952.3 L1212.1,949.4 L1212.4,951.9 L1212.7,952.2 L1213.0,953.2 L1213.3,948.0 L1213.6,949.8 L1213.9,956.2 L1214.2,950.8 L1214.5,951.6 L1214.8,950.9 L1215.1,948.1 L1215.4,949.2 L1215.7,952.9 L1216.0,950.3 L1216.3,957.2 L1216.6,948.3 L1216.9,947.2 L1217.2,951.2 L1217.5,949.1 L1217.8,955.7 L1218.1,951.1 L1218.4,953.5 L1218.7,948.6 L1219.0,953.8 L1219.3,953.7 L1219.6,955.2 L1219.9,952.6 L1220.2,953.2 L1220.5,952.3 L1220.8,954.0 L1221.1,950.6 L1221.4,952.7 L1221.7,949.8 L1222.0,952.6 L1222.3,950.0 L1222.6,948.9 L1222.9,948.5 L1223.2,953.0 L1223.5,945.9 L1223.8,945.7 L1224.1,949.9 L1224.4,946.0 L1224.7,946.8 L1225.0,946.4 L1225.3,951.8 L1225.6,945.5 L1225.9,945.1 L1226.2,945.6 L1226.5,946.8 L1226.8,947.2 L1227.1,943.4 L1227.4,947.2 L1227.7,950.4 L1228.0,943.2 L1228.3,948.2 L1228.6,948.9 L1228.9,948.1 L1229.2,947.8 L1229.5,943.6 L1229.8,951.6 L1230.1,948.8 L1230.4,949.5 L1230.7,953.1 L1231.0,945.5 L1231.3,951.1 L1231.6,953.0 L1231.9,953.7 L1232.2,953.7 L1232.5,957.5 L1232.8,953.5 L1233.1,955.5 L1233.4,955.2 L1233.7,949.8 L1234.0,951.7 L1234.3,958.9 L1234.6,953.2 L1234.9,953.8 L1235.2,950.7 L1235.5,953.2 L1235.8,950.9 L1236.1,952.7 L1236.4,955.7 L1236.7,952.2 L1237.0,952.8 L1237.3,957.8 L1237.6,955.6 L1237.9,955.8 L1238.2,957.0 L1238.5,953.2 L1238.8,953.6 L1239.1,949.4 L1239.4,956.5 L1239.7,954.2 L1240.0,954.7 L1240.3,952.0 L1240.6,956.4 L1240.9,956.4 L1241.2,955.3 L1241.5,950.9 L1241.8,952.8 L1242.1,954.9 L1242.4,952.9 L1242.7,956.0 L1243.0,957.5 L1243.3,953.1 L1243.6,954.6 L1243.9,953.3 L1244.2,957.7 L1244.5,957.3 L1244.8,961.8 L1245.1,955.1 L1245.4,952.8 L1245.7,956.2 L1246.0,954.6 L1246.3,955.7 L1246.6,958.3 L1246.9,954.5 L1247.2,957.1 L1247.5,949.9 L1247.8,957.9 L1248.1,955.6 L1248.4,954.7 L1248.7,954.1 L1249.0,958.9 L1249.3,954.1 L1249.6,958.6 L1249.9,954.1 L1250.2,955.5 L1250.5,956.3 L1250.8,960.5 L1251.1,956.1 L1251.4,956.1 L1251.7,955.3 L1252.0,954.8 L1252.3,954.0 L1252.6,960.1 L1252.9,959.3 L1253.2,953.9 L1253.5,956.0 L1253.8,952.7 L1254.1,958.0 L1254.4,957.4 L1254.7,956.0 L1255.0,953.7 L1255.3,957.6 L1255.6,957.3 L1255.9,955.3 L1256.2,957.6 L1256.5,952.4 L1256.8,954.3 L1257.1,953.4 L1257.4,956.1 L1257.7,960.0 L1258.0,956.0 L1258.3,958.7 L1258.6,955.8 L1258.9,954.9 L1259.2,958.5 L1259.5,957.3 L1259.8,959.5 L1260.1,958.4 L1260.4,954.0 L1260.7,949.6 L1261.0,956.4 L1261.3,953.1 L1261.6,952.5 L1261.9,952.4 L1262.2,954.5 L1262.5,955.6 L1262.8,956.1 L1263.1,961.3 L1263.4,953.1 L1263.7,956.1 L1264.0,953.1 L1264.3,953.7 L1264.6,956.4 L1264.9,957.3 L1265.2,953.0 L1265.5,959.1 L1265.8,953.9 L1266.1,958.7 L1266.4,956.2 L1266.7,958.6 L1267.0,957.8 L1267.3,955.6 L1267.6,957.6 L1267.9,953.0 L1268.2,953.1 L1268.5,955.5 L1268.8,959.9 L1269.1,954.6 L1269.4,955.0 L1269.7,960.7 L1270.0,956.6 L1270.3,956.5 L1270.6,953.9 L1270.9,956.7 L1271.2,958.0 L1271.5,956.4 L1271.8,958.5 L1272.1,957.4 L1272.4,959.3 L1272.7,958.7 L1273.0,956.3 L1273.3,958.9 L1273.6,961.2 L1273.9,957.5 L1274.2,953.7 L1274.5,957.2 L1274.8,956.3 L1275.1,963.3 L1275.4,958.7 L1275.7,954.0 L1276.0,956.4 L1276.3,960.5 L1276.6,953.9 L1276.9,955.6 L1277.2,956.9 L1277.5,956.5 L1277.8,955.4 L1278.1,957.2 L1278.4,953.4 L1278.7,955.5 L1279.0,955.4 L1279.3,956.2 L1279.6,956.2 L1279.9,956.9 L1280.2,956.1 L1280.5,955.9 L1280.8,957.8 L1281.1,959.2 L1281.4,959.3 L1281.7,954.0 L1282.0,957.5 L1282.3,958.8 L1282.6,956.3 L1282.9,958.1 L1283.2,956.4 L1283.5,957.9 L1283.8,953.1 L1284.1,958.1 L1284.4,955.7 L1284.7,955.1 L1285.0,956.2 L1285.3,959.4 L1285.6,959.3 L1285.9,957.5 L1286.2,959.1 L1286.5,955.9 L1286.8,953.8 L1287.1,952.2 L1287.4,956.8 L1287.7,956.5 L1288.0,957.0 L1288.3,957.1 L1288.6,959.9 L1288.9,954.6 L1289.2,955.0 L1289.5,961.7 L1289.8,958.8 L1290.1,956.1 L1290.4,951.8 L1290.7,954.8 L1291.0,956.0 L1291.3,956.7 L1291.6,957.4 L1291.9,956.3 L1292.2,959.8 L1292.5,953.9 L1292.8,956.2 L1293.1,955.2 L1293.4,958.8 L1293.7,957.3 L1294.0,958.8 L1294.3,957.1 L1294.6,966.2 L1294.9,958.7 L1295.2,955.0 L1295.5,956.8 L1295.8,955.8 L1296.1,958.7 L1296.4,959.2 L1296.7,957.7 L1297.0,956.3 L1297.3,955.0 L1297.6,960.6 L1297.9,959.3 L1298.2,949.3 L1298.5,956.5 L1298.8,954.2 L1299.1,955.2 L1299.4,960.1 L1299.7,953.1 L1300.0,953.2 L1300.3,961.3 L1300.6,954.2 L1300.9,954.6 L1301.2,957.7 L1301.5,953.7 L1301.8,954.7 L1302.1,955.1 L1302.4,957.5 L1302.7,950.6 L1303.0,952.3 L1303.3,953.8 L1303.6,956.0 L1303.9,952.5 L1304.2,955.0 L1304.5,952.9 L1304.8,953.2 L1305.1,957.1 L1305.4,953.8 L1305.7,961.2 L1306.0,955.5 L1306.3,957.5 L1306.6,956.9 L1306.9,951.8 L1307.2,952.1 L1307.5,957.1 L1307.8,953.6 L1308.1,955.2 L1308.4,955.9 L1308.7,954.7 L1309.0,960.0 L1309.3,959.2 L1309.6,958.0 L1309.9,959.1 L1310.2,955.6 L1310.5,960.2 L1310.8,956.1 L1311.1,962.1 L1311.4,956.8 L1311.7,957.2 L1312.0,961.5 L1312.3,960.3 L1312.6,956.5 L1312.9,960.4 L1313.2,959.0 L1313.5,959.2 L1313.8,960.7 L1314.1,960.8 L1314.4,961.9 L1314.7,960.7 L1315.0,960.3 L1315.3,959.4 L1315.6,963.4 L1315.9,957.9 L1316.2,964.6 L1316.5,965.4 L1316.8,965.4 L1317.1,959.8 L1317.4,965.4 L1317.7,963.1 L1318.0,963.0 L1318.3,968.6 L1318.6,961.0 L1318.9,962.0 L1319.2,957.6 L1319.5,955.3 L1319.8,961.6 L1320.1,962.0 L1320.4,962.8 L1320.7,961.9 L1321.0,956.3 L1321.3,962.2 L1321.6,964.1 L1321.9,965.3 L1322.2,959.2 L1322.5,959.4 L1322.8,960.0 L1323.1,960.2 L1323.4,957.9 L1323.7,960.2 L1324.0,965.9 L1324.3,959.5 L1324.6,957.6 L1324.9,961.6 L1325.2,961.1 L1325.5,964.1 L1325.8,960.7 L1326.1,962.1 L1326.4,960.6 L1326.7,960.3 L1327.0,963.7 L1327.3,963.2 L1327.6,962.8 L1327.9,964.3 L1328.2,961.1 L1328.5,963.2 L1328.8,963.7 L1329.1,966.2 L1329.4,958.7 L1329.7,962.6 L1330.0,964.6 L1330.3,962.1 L1330.6,963.8 L1330.9,965.4 L1331.2,964.9 L1331.5,959.6 L1331.8,960.9 L1332.1,957.0 L1332.4,965.6 L1332.7,964.6 L1333.0,967.4 L1333.3,964.3 L1333.6,961.5 L1333.9,967.0 L1334.2,961.2 L1334.5,964.5 L1334.8,964.0 L1335.1,966.5 L1335.4,966.9 L1335.7,963.7 L1336.0,963.0 L1336.3,964.8 L1336.6,963.5 L1336.9,967.3 L1337.2,966.0 L1337.5,968.6 L1337.8,971.6 L1338.1,963.2 L1338.4,963.9 L1338.7,966.6 L1339.0,966.5 L1339.3,964.7 L1339.6,961.4 L1339.9,971.9 L1340.2,965.9 L1340.5,962.9 L1340.8,960.0 L1341.1,969.4 L1341.4,966.8 L1341.7,966.1 L1342.0,963.6 L1342.3,965.9 L1342.6,965.3 L1342.9,960.2 L1343.2,972.9 L1343.5,967.5 L1343.8,965.7 L1344.1,964.2 L1344.4,965.2 L1344.7,972.6 L1345.0,967.7 L1345.3,963.6 L1345.6,969.1 L1345.9,968.1 L1346.2,968.2 L1346.5,966.7 L1346.8,966.6 L1347.1,967.6 L1347.4,966.5 L1347.7,963.6 L1348.0,964.6 L1348.3,967.1 L1348.6,963.2 L1348.9,966.8 L1349.2,966.4 L1349.5,968.9 L1349.8,967.6 L1350.1,966.5 L1350.4,966.5 L1350.7,968.3 L1351.0,969.5 L1351.3,964.6 L1351.6,963.5 L1351.9,965.5 L1352.2,961.6 L1352.5,965.4 L1352.8,969.4 L1353.1,969.7 L1353.4,971.1 L1353.7,967.5 L1354.0,967.8 L1354.3,966.0 L1354.6,966.1 L1354.9,968.1 L1355.2,969.7 L1355.5,968.5 L1355.8,962.5 L1356.1,968.7 L1356.4,967.5 L1356.7,966.1 L1357.0,967.9 L1357.3,969.8 L1357.6,967.9 L1357.9,965.8 L1358.2,975.8 L1358.5,966.1 L1358.8,968.8 L1359.1,970.7 L1359.4,965.6 L1359.7,969.0 L1360.0,965.6 L1360.3,967.1 L1360.6,965.9 L1360.9,972.0 L1361.2,964.4 L1361.5,969.0 L1361.8,967.9 L1362.1,963.0 L1362.4,972.0 L1362.7,966.4 L1363.0,967.2 L1363.3,968.4 L1363.6,965.7 L1363.9,966.0 L1364.2,967.8 L1364.5,965.8 L1364.8,968.2 L1365.1,971.0 L1365.4,965.5 L1365.7,964.1 L1366.0,967.7 L1366.3,969.0 L1366.6,969.7 L1366.9,965.4 L1367.2,962.3 L1367.5,970.2 L1367.8,969.8 L1368.1,971.8 L1368.4,965.8 L1368.7,969.5 L1369.0,970.6 L1369.3,963.7 L1369.6,970.7 L1369.9,971.7 L1370.2,969.6 L1370.5,969.5 L1370.8,969.9 L1371.1,967.4 L1371.4,964.5 L1371.7,965.7 L1372.0,967.5 L1372.3,965.8 L1372.6,970.3 L1372.9,966.7 L1373.2,967.4 L1373.5,963.3 L1373.8,968.5 L1374.1,965.8 L1374.4,971.1 L1374.7,963.2 L1375.0,968.1 L1375.3,966.3 L1375.6,966.3 L1375.9,971.3 L1376.2,969.4 L1376.5,965.0 L1376.8,970.4 L1377.1,965.3 L1377.4,968.8 L1377.7,962.6 L1378.0,966.0 L1378.3,966.0 L1378.6,965.8 L1378.9,962.7 L1379.2,961.9 L1379.5,966.4 L1379.8,967.9 L1380.1,966.4 L1380.4,965.5 L1380.7,962.6 L1381.0,965.5 L1381.3,964.8 L1381.6,964.3 L1381.9,966.4 L1382.2,966.4 L1382.5,966.9 L1382.8,965.2 L1383.1,963.7 L1383.4,965.2 L1383.7,964.9 L1384.0,961.6 L1384.3,964.7 L1384.6,961.4 L1384.9,960.6 L1385.2,963.4 L1385.5,963.7 L1385.8,966.9 L1386.1,964.4 L1386.4,966.4 L1386.7,968.6 L1387.0,965.3 L1387.3,965.8 L1387.6,963.0 L1387.9,966.5 L1388.2,964.4 L1388.5,964.2 L1388.8,961.0 L1389.1,961.2 L1389.4,961.5 L1389.7,963.2 L1390.0,965.3 L1390.3,958.6 L1390.6,961.2 L1390.9,961.0 L1391.2,967.1 L1391.5,960.8 L1391.8,959.6 L1392.1,962.5 L1392.4,957.7 L1392.7,961.5 L1393.0,955.7 L1393.3,964.6 L1393.6,959.2 L1393.9,958.0 L1394.2,955.5 L1394.5,958.1 L1394.8,958.4 L1395.1,956.1 L1395.4,960.6 L1395.7,956.6 L1396.0,957.3 L1396.3,957.5 L1396.6,960.0 L1396.9,955.4 L1397.2,956.2 L1397.5,956.6 L1397.8,957.1 L1398.1,950.8 L1398.4,958.1 L1398.7,954.7 L1399.0,952.9 L1399.3,954.5 L1399.6,949.5 L1399.9,952.2 L1400.2,954.4 L1400.5,957.1 L1400.8,953.3 L1401.1,954.3 L1401.4,952.4 L1401.7,955.1 L1402.0,951.7 L1402.3,953.7 L1402.6,951.4 L1402.9,949.6 L1403.2,949.4 L1403.5,950.0 L1403.8,954.4 L1404.1,959.3 L1404.4,950.5 L1404.7,949.0 L1405.0,952.0 L1405.3,951.7 L1405.6,948.9 L1405.9,955.0 L1406.2,952.2 L1406.5,952.2 L1406.8,949.9 L1407.1,949.9 L1407.4,952.0 L1407.7,945.8 L1408.0,947.2 L1408.3,949.4 L1408.6,945.3 L1408.9,953.2 L1409.2,947.3 L1409.5,947.7 L1409.8,949.5 L1410.1,952.4 L1410.4,948.3 L1410.7,946.4 L1411.0,945.9 L1411.3,948.7 L1411.6,946.6 L1411.9,954.0 L1412.2,951.1 L1412.5,939.7 L1412.8,945.3 L1413.1,948.6 L1413.4,953.6 L1413.7,942.6 L1414.0,946.7 L1414.3,951.0 L1414.6,946.2 L1414.9,948.3 L1415.2,946.9 L1415.5,950.0 L1415.8,945.6 L1416.1,948.6 L1416.4,945.0 L1416.7,951.3 L1417.0,950.4 L1417.3,948.9 L1417.6,949.2 L1417.9,949.3 L1418.2,948.4 L1418.5,949.8 L1418.8,950.5 L1419.1,949.5 L1419.4,948.2 L1419.7,948.8 L1420.0,948.8 L1420.3,951.2 L1420.6,950.6 L1420.9,955.3 L1421.2,949.9 L1421.5,950.6 L1421.8,948.9 L1422.1,950.9 L1422.4,949.6 L1422.7,948.6 L1423.0,951.3 L1423.3,955.0 L1423.6,948.9 L1423.9,949.5 L1424.2,951.2 L1424.5,952.0 L1424.8,954.7 L1425.1,949.9 L1425.4,951.3 L1425.7,949.7 L1426.0,949.6 L1426.3,950.7 L1426.6,949.1 L1426.9,953.2 L1427.2,954.8 L1427.5,950.9 L1427.8,950.5 L1428.1,955.7 L1428.4,951.9 L1428.7,956.3 L1429.0,945.3 L1429.3,952.3 L1429.6,950.3 L1429.9,951.6 L1430.2,955.0 L1430.5,955.8 L1430.8,952.7 L1431.1,955.6 L1431.4,950.5 L1431.7,954.1 L1432.0,953.1 L1432.3,949.3 L1432.6,955.9 L1432.9,952.1 L1433.2,954.9 L1433.5,952.0 L1433.8,954.4 L1434.1,955.6 L1434.4,954.1 L1434.7,953.0 L1435.0,955.8 L1435.3,954.9 L1435.6,953.4 L1435.9,954.6 L1436.2,954.4 L1436.5,953.8 L1436.8,957.0 L1437.1,959.2 L1437.4,953.6 L1437.7,954.7 L1438.0,952.7 L1438.3,951.8 L1438.6,958.1 L1438.9,953.6 L1439.2,956.2 L1439.5,952.1 L1439.8,953.9 L1440.1,956.8 L1440.4,956.9 L1440.7,956.4 L1441.0,956.9 L1441.3,956.5 L1441.6,958.5 L1441.9,960.3 L1442.2,957.6 L1442.5,955.9 L1442.8,953.7 L1443.1,955.2 L1443.4,955.6 L1443.7,960.1 L1444.0,952.7 L1444.3,954.7 L1444.6,954.2 L1444.9,959.0 L1445.2,955.2 L1445.5,952.4 L1445.8,951.9 L1446.1,957.9 L1446.4,953.1 L1446.7,960.0 L1447.0,960.0 L1447.3,954.6 L1447.6,956.7 L1447.9,957.6 L1448.2,953.9 L1448.5,954.6 L1448.8,956.2 L1449.1,957.8 L1449.4,958.6 L1449.7,953.3 L1450.0,958.7 L1450.3,957.9 L1450.6,957.6 L1450.9,957.1 L1451.2,960.9 L1451.5,962.3 L1451.8,957.3 L1452.1,958.0 L1452.4,954.5 L1452.7,957.5 L1453.0,960.2 L1453.3,958.3 L1453.6,959.5 L1453.9,958.3 L1454.2,958.9 L1454.5,960.3 L1454.8,960.6 L1455.1,953.9 L1455.4,958.2 L1455.7,951.6 L1456.0,958.9 L1456.3,957.5 L1456.6,957.4 L1456.9,962.8 L1457.2,959.8 L1457.5,961.8 L1457.8,960.6 L1458.1,963.2 L1458.4,958.5 L1458.7,958.5 L1459.0,958.9 L1459.3,965.2 L1459.6,958.1 L1459.9,959.3 L1460.2,962.6 L1460.5,961.6 L1460.8,958.1 L1461.1,963.6 L1461.4,960.5 L1461.7,963.0 L1462.0,960.9 L1462.3,961.4 L1462.6,957.6 L1462.9,963.0 L1463.2,957.8 L1463.5,959.7 L1463.8,962.3 L1464.1,958.7 L1464.4,959.9 L1464.7,959.7 L1465.0,960.0 L1465.3,961.1 L1465.6,956.0 L1465.9,958.4 L1466.2,964.9 L1466.5,955.0 L1466.8,958.2 L1467.1,961.8 L1467.4,955.3 L1467.7,957.8 L1468.0,957.9 L1468.3,963.8 L1468.6,957.8 L1468.9,961.6 L1469.2,958.5 L1469.5,960.1 L1469.8,957.3 L1470.1,956.5 L1470.4,959.0 L1470.7,956.7 L1471.0,959.7 L1471.3,960.5 L1471.6,961.2 L1471.9,964.0 L1472.2,963.8 L1472.5,957.6 L1472.8,958.5 L1473.1,964.5 L1473.4,960.2 L1473.7,959.4 L1474.0,963.1 L1474.3,958.9 L1474.6,962.8 L1474.9,959.8 L1475.2,963.7 L1475.5,960.2 L1475.8,962.6 L1476.1,963.2 L1476.4,964.6 L1476.7,958.7 L1477.0,959.7 L1477.3,957.2 L1477.6,956.5 L1477.9,959.5 L1478.2,961.2 L1478.5,963.9 L1478.8,959.8 L1479.1,965.6 L1479.4,961.3 L1479.7,963.1 L1480.0,960.3 L1480.3,957.9 L1480.6,964.9 L1480.9,960.4 L1481.2,963.9 L1481.5,960.3 L1481.8,962.7 L1482.1,961.0 L1482.4,960.6 L1482.7,961.1 L1483.0,963.2 L1483.3,958.7 L1483.6,959.3 L1483.9,964.2 L1484.2,960.1 L1484.5,962.4 L1484.8,958.7 L1485.1,961.5 L1485.4,964.8 L1485.7,962.4 L1486.0,962.8 L1486.3,961.4 L1486.6,962.7 L1486.9,958.1 L1487.2,958.6 L1487.5,963.6 L1487.8,958.4 L1488.1,966.0 L1488.4,964.9 L1488.7,960.0 L1489.0,957.7 L1489.3,957.1 L1489.6,963.9 L1489.9,963.0 L1490.2,966.6 L1490.5,964.5 L1490.8,967.2 L1491.1,965.7 L1491.4,961.3 L1491.7,963.2 L1492.0,961.7 L1492.3,963.0 L1492.6,962.6 L1492.9,963.4 L1493.2,967.3 L1493.5,962.7 L1493.8,961.2 L1494.1,962.7 L1494.4,963.1 L1494.7,962.9 L1495.0,964.0 L1495.3,963.3 L1495.6,967.0 L1495.9,966.5 L1496.2,962.3 L1496.5,966.5 L1496.8,967.4 L1497.1,963.9 L1497.4,961.7 L1497.7,964.7 L1498.0,963.3 L1498.3,964.2 L1498.6,960.7 L1498.9,968.3 L1499.2,962.6 L1499.5,964.2 L1499.8,961.4 L1500.1,963.1 L1500.4,957.0 L1500.7,959.3 L1501.0,956.3 L1501.3,964.7 L1501.6,958.8 L1501.9,958.2 L1502.2,964.7 L1502.5,960.6 L1502.8,961.3 L1503.1,964.3 L1503.4,962.7 L1503.7,962.2 L1504.0,962.9 L1504.3,956.4 L1504.6,964.2 L1504.9,964.2 L1505.2,965.4 L1505.5,955.5 L1505.8,958.5 L1506.1,959.1 L1506.4,964.6 L1506.7,961.7 L1507.0,964.5 L1507.3,961.2 L1507.6,958.3 L1507.9,956.6 L1508.2,958.3 L1508.5,963.0 L1508.8,957.4 L1509.1,954.9 L1509.4,959.9 L1509.7,962.5 L1510.0,965.1 L1510.3,962.0 L1510.6,961.2 L1510.9,954.2 L1511.2,957.6 L1511.5,957.5 L1511.8,958.7 L1512.1,956.0 L1512.4,960.2 L1512.7,961.4 L1513.0,958.5 L1513.3,957.6 L1513.6,958.9 L1513.9,959.4 L1514.2,960.6 L1514.5,956.5 L1514.8,962.4 L1515.1,959.0 L1515.4,958.5 L1515.7,960.8 L1516.0,957.4 L1516.3,961.4 L1516.6,964.7 L1516.9,960.5 L1517.2,960.0 L1517.5,958.4 L1517.8,963.4 L1518.1,962.6 L1518.4,956.2 L1518.7,962.4 L1519.0,958.4 L1519.3,957.3 L1519.6,960.1 L1519.9,958.7 L1520.2,963.3 L1520.5,957.4 L1520.8,957.5 L1521.1,958.4 L1521.4,960.5 L1521.7,962.4 L1522.0,958.3 L1522.3,959.3 L1522.6,957.3 L1522.9,960.8 L1523.2,958.9 L1523.5,966.8 L1523.8,966.3 L1524.1,959.4 L1524.4,962.1 L1524.7,962.9 L1525.0,960.5 L1525.3,960.9 L1525.6,963.5 L1525.9,961.2 L1526.2,961.2 L1526.5,961.8 L1526.8,964.9 L1527.1,961.2 L1527.4,962.8 L1527.7,962.4 L1528.0,963.6 L1528.3,961.3 L1528.6,960.6 L1528.9,960.1 L1529.2,962.3 L1529.5,962.1 L1529.8,961.1 L1530.1,962.2 L1530.4,967.4 L1530.7,963.5 L1531.0,957.0 L1531.3,964.5 L1531.6,961.4 L1531.9,958.3 L1532.2,963.4 L1532.5,959.4 L1532.8,961.1 L1533.1,956.5 L1533.4,958.9 L1533.7,954.9 L1534.0,956.1 L1534.3,954.7 L1534.6,950.2 L1534.9,952.3 L1535.2,952.3 L1535.5,951.5 L1535.8,949.0 L1536.1,953.6 L1536.4,953.5 L1536.7,957.7 L1537.0,954.3 L1537.3,959.7 L1537.6,958.9 L1537.9,965.1 L1538.2,957.6 L1538.5,962.7 L1538.8,959.4 L1539.1,958.6 L1539.4,963.7 L1539.7,962.6 L1540.0,963.7 L1540.3,957.2 L1540.6,958.2 L1540.9,962.6 L1541.2,959.1 L1541.5,964.4 L1541.8,965.2 L1542.1,960.8 L1542.4,961.2 L1542.7,961.2 L1543.0,960.4 L1543.3,961.0 L1543.6,960.5 L1543.9,962.1 L1544.2,960.2 L1544.5,959.8 L1544.8,960.3 L1545.1,959.6 L1545.4,960.9 L1545.7,962.5 L1546.0,966.3 L1546.3,957.4 L1546.6,958.1 L1546.9,961.4 L1547.2,961.7 L1547.5,961.6 L1547.8,966.4 L1548.1,957.4 L1548.4,961.6 L1548.7,958.9 L1549.0,961.4 L1549.3,963.5 L1549.6,958.8 L1549.9,964.9 L1550.2,960.4 L1550.5,960.0 L1550.8,958.6 L1551.1,961.1 L1551.4,961.0 L1551.7,965.0 L1552.0,959.2 L1552.3,963.6 L1552.6,965.3 L1552.9,962.7 L1553.2,965.3 L1553.5,961.8 L1553.8,964.6 L1554.1,962.8 L1554.4,969.0 L1554.7,963.1 L1555.0,963.2 L1555.3,965.0 L1555.6,962.8 L1555.9,963.7 L1556.2,965.1 L1556.5,966.5 L1556.8,963.0 L1557.1,964.7 L1557.4,964.2 L1557.7,966.4 L1558.0,966.8 L1558.3,965.8 L1558.6,965.6 L1558.9,969.4 L1559.2,963.0 L1559.5,969.2 L1559.8,966.6 L1560.1,961.7 L1560.4,965.8 L1560.7,962.1 L1561.0,965.3 L1561.3,960.7 L1561.6,967.4 L1561.9,963.7 L1562.2,969.6 L1562.5,963.8 L1562.8,965.7 L1563.1,962.2 L1563.4,965.1 L1563.7,965.4 L1564.0,966.5 L1564.3,971.2 L1564.6,969.2 L1564.9,967.0 L1565.2,964.2 L1565.5,964.3 L1565.8,964.2 L1566.1,962.8 L1566.4,966.4 L1566.7,964.6 L1567.0,966.0 L1567.3,964.0 L1567.6,965.5 L1567.9,968.8 L1568.2,965.3 L1568.5,966.7 L1568.8,962.3 L1569.1,963.9 L1569.4,963.3 L1569.7,965.4 L1570.0,964.9 L1570.3,962.4 L1570.6,964.9 L1570.9,964.3 L1571.2,960.1 L1571.5,963.8 L1571.8,966.7 L1572.1,961.6 L1572.4,966.4 L1572.7,965.4 L1573.0,964.0 L1573.3,964.6 L1573.6,961.5 L1573.9,965.2 L1574.2,959.9 L1574.5,960.6 L1574.8,964.7 L1575.1,960.7 L1575.4,968.4 L1575.7,964.4 L1576.0,965.9 L1576.3,966.2 L1576.6,963.0 L1576.9,964.2 L1577.2,965.4 L1577.5,964.4 L1577.8,968.4 L1578.1,967.2 L1578.4,965.3 L1578.7,968.0 L1579.0,965.3 L1579.3,967.1 L1579.6,965.8 L1579.9,964.8 L1580.2,963.3 L1580.5,964.0 L1580.8,966.0 L1581.1,967.1 L1581.4,961.0 L1581.7,965.3 L1582.0,967.8 L1582.3,966.1 L1582.6,964.0 L1582.9,964.3 L1583.2,971.0 L1583.5,963.2 L1583.8,966.4 L1584.1,969.3 L1584.4,962.6 L1584.7,969.2 L1585.0,963.9 L1585.3,970.3 L1585.6,974.4 L1585.9,965.0 L1586.2,967.9 L1586.5,968.9 L1586.8,966.7 L1587.1,969.3 L1587.4,966.3 L1587.7,966.6 L1588.0,965.9 L1588.3,967.8 L1588.6,969.0 L1588.9,970.2 L1589.2,967.5 L1589.5,965.1 L1589.8,966.5 L1590.1,966.4 L1590.4,966.7 L1590.7,969.0 L1591.0,967.2 L1591.3,967.7 L1591.6,967.6 L1591.9,967.2 L1592.2,966.3 L1592.5,969.1 L1592.8,967.1 L1593.1,967.0 L1593.4,964.5 L1593.7,965.5 L1594.0,965.7 L1594.3,968.5 L1594.6,962.9 L1594.9,968.9"/>
<path stroke="#00e000" d="M309.4,900.9 L309.7,897.5 L310.0,897.7 L310.3,888.4 L310.6,906.7 L310.9,903.4 L311.2,896.5 L311.5,901.0 L311.8,898.4 L312.1,894.3 L312.4,900.6 L312.7,894.5 L313.0,894.0 L313.3,891.6 L313.6,896.7 L313.9,893.8 L314.2,896.2 L314.5,890.7 L314.8,893.6 L315.1,888.7 L315.4,895.9 L315.7,892.6 L316.0,892.8 L316.3,892.7 L316.6,886.1 L316.9,893.5 L317.2,898.7 L317.5,882.0 L317.8,881.1 L318.1,881.7 L318.4,891.5 L318.7,887.9 L319.0,891.7 L319.3,889.6 L319.6,886.9 L319.9,886.8 L320.2,884.3 L320.5,888.4 L320.8,879.2 L321.1,881.8 L321.4,884.3 L321.7,890.7 L322.0,878.9 L322.3,877.1 L322.6,878.9 L322.9,885.2 L323.2,879.4 L323.5,885.8 L323.8,871.3 L324.1,884.1 L324.4,883.2 L324.7,872.0 L325.0,878.5 L325.3,882.8 L325.6,877.4 L325.9,881.0 L326.2,886.7 L326.5,877.0 L326.8,874.2 L327.1,871.6 L327.4,877.5 L327.7,873.4 L328.0,873.0 L328.3,873.0 L328.6,875.9 L328.9,868.0 L329.2,865.5 L329.5,861.1 L329.8,876.7 L330.1,871.4 L330.4,877.3 L330.7,870.2 L331.0,866.6 L331.3,871.6 L331.6,868.7 L331.9,863.1 L332.2,864.4 L332.5,875.6 L332.8,869.0 L333.1,868.9 L333.4,865.5 L333.7,863.2 L334.0,869.8 L334.3,865.0 L334.6,861.7 L334.9,864.1 L335.2,860.3 L335.5,864.7 L335.8,868.4 L336.1,859.4 L336.4,869.0 L336.7,859.4 L337.0,862.6 L337.3,857.8 L337.6,860.1 L337.9,860.9 L338.2,858.4 L338.5,856.8 L338.8,856.5 L339.1,855.5 L339.4,851.7 L339.7,857.0 L340.0,859.5 L340.3,861.3 L340.6,859.7 L340.9,867.2 L341.2,857.3 L341.5,853.4 L341.8,863.2 L342.1,849.9 L342.4,858.3 L342.7,849.4 L343.0,854.7 L343.3,844.0 L343.6,856.2 L343.9,851.1 L344.2,847.1 L344.5,858.2 L344.8,853.8 L345.1,850.1 L345.4,846.2 L345.7,848.8 L346.0,847.8 L346.3,851.3 L346.6,851.2 L346.9,844.3 L347.2,844.3 L347.5,843.9 L347.8,839.9 L348.1,842.7 L348.4,844.4 L348.7,847.4 L349.0,849.6 L349.3,839.6 L349.6,844.9 L349.9,839.9 L350.2,850.2 L350.5,840.2 L350.8,841.9 L351.1,834.9 L351.4,834.7 L351.7,838.4 L352.0,835.2 L352.3,837.7 L352.6,828.6 L352.9,837.6 L353.2,830.0 L353.5,840.9 L353.8,831.3 L354.1,836.7 L354.4,825.0 L354.7,832.3 L355.0,825.8 L355.3,826.9 L355.6,828.4 L355.9,826.2 L356.2,828.0 L356.5,829.5 L356.8,828.3 L357.1,824.4 L357.4,818.0 L357.7,819.8 L358.0,821.7 L358.3,812.6 L358.6,824.5 L358.9,819.4 L359.2,818.7 L359.5,823.2 L359.8,821.3 L360.1,818.6 L360.4,812.5 L360.7,817.5 L361.0,816.9 L361.3,810.8 L361.6,818.4 L361.9,815.3 L362.2,803.5 L362.5,811.9 L362.8,804.9 L363.1,814.6 L363.4,812.3 L363.7,803.1 L364.0,803.2 L364.3,806.7 L364.6,804.3 L364.9,811.2 L365.2,806.9 L365.5,801.5 L365.8,804.5 L366.1,792.1 L366.4,801.6 L366.7,803.2 L367.0,797.7 L367.3,794.5 L367.6,799.3 L367.9,804.5 L368.2,796.0 L368.5,789.3 L368.8,799.7 L369.1,784.3 L369.4,793.9 L369.7,788.2 L370.0,794.0 L370.3,785.4 L370.6,794.1 L370.9,788.7 L371.2,778.9 L371.5,777.0 L371.8,783.4 L372.1,789.6 L372.4,783.7 L372.7,782.6 L373.0,780.4 L373.3,783.9 L373.6,781.5 L373.9,780.3 L374.2,774.0 L374.5,782.8 L374.8,782.9 L375.1,770.5 L375.4,785.6 L375.7,778.0 L376.0,772.0 L376.3,765.0 L376.6,775.6 L376.9,774.4 L377.2,768.7 L377.5,762.7 L377.8,774.8 L378.1,766.6 L378.4,766.4 L378.7,780.3 L379.0,776.4 L379.3,770.5 L379.6,763.6 L379.9,767.8 L380.2,754.2 L380.5,764.0 L380.8,759.5 L381.1,756.5 L381.4,754.5 L381.7,763.0 L382.0,760.4 L382.3,760.0 L382.6,762.3 L382.9,754.3 L383.2,751.9 L383.5,748.9 L383.8,754.7 L384.1,759.0 L384.4,754.5 L384.7,757.4 L385.0,748.9 L385.3,751.6 L385.6,749.8 L385.9,747.1 L386.2,760.3 L386.5,755.4 L386.8,747.8 L387.1,747.3 L387.4,749.9 L387.7,743.3 L388.0,751.0 L388.3,742.9 L388.6,746.5 L388.9,743.1 L389.2,745.1 L389.5,740.9 L389.8,739.6 L390.1,742.1 L390.4,743.4 L390.7,745.3 L391.0,747.2 L391.3,754.1 L391.6,751.4 L391.9,747.3 L392.2,752.1 L392.5,746.4 L392.8,756.3 L393.1,752.9 L393.4,745.1 L393.7,755.0 L394.0,755.9 L394.3,741.3 L394.6,750.7 L394.9,752.8 L395.2,747.4 L395.5,752.1 L395.8,753.6 L396.1,761.0 L396.4,761.1 L396.7,772.3 L397.0,760.0 L397.3,767.7 L397.6,764.0 L397.9,765.7 L398.2,760.3 L398.5,757.9 L398.8,763.8 L399.1,771.3 L399.4,775.8 L399.7,772.3 L400.0,772.7 L400.3,767.6 L400.6,778.9 L400.9,778.9 L401.2,771.4 L401.5,774.4 L401.8,771.1 L402.1,782.7 L402.4,778.9 L402.7,777.5 L403.0,780.5 L403.3,781.5 L403.6,778.6 L403.9,775.8 L404.2,776.4 L404.5,775.3 L404.8,785.8 L405.1,794.5 L405.4,778.3 L405.7,787.5 L406.0,789.8 L406.3,785.0 L406.6,791.5 L406.9,787.0 L407.2,798.4 L407.5,791.8 L407.8,796.2 L408.1,800.0 L408.4,796.5 L408.7,791.8 L409.0,798.6 L409.3,805.6 L409.6,803.2 L409.9,805.8 L410.2,801.4 L410.5,808.1 L410.8,811.9 L411.1,810.2 L411.4,819.7 L411.7,811.7 L412.0,809.3 L412.3,808.0 L412.6,821.4 L412.9,817.3 L413.2,823.1 L413.5,821.8 L413.8,828.0 L414.1,827.5 L414.4,821.3 L414.7,825.2 L415.0,829.8 L415.3,820.7 L415.6,833.6 L415.9,833.6 L416.2,833.6 L416.5,829.5 L416.8,832.8 L417.1,827.6 L417.4,833.8 L417.7,832.0 L418.0,836.0 L418.3,834.5 L418.6,839.0 L418.9,844.0 L419.2,834.1 L419.5,845.0 L419.8,833.3 L420.1,833.6 L420.4,843.6 L420.7,845.2 L421.0,848.2 L421.3,840.1 L421.6,848.1 L421.9,850.0 L422.2,855.9 L422.5,851.0 L422.8,854.8 L423.1,849.2 L423.4,853.6 L423.7,853.5 L424.0,859.4 L424.3,853.1 L424.6,854.7 L424.9,861.7 L425.2,867.9 L425.5,862.8 L425.8,863.4 L426.1,861.6 L426.4,868.7 L426.7,867.3 L427.0,873.3 L427.3,868.4 L427.6,863.9 L427.9,866.5 L428.2,865.7 L428.5,865.6 L428.8,877.0 L429.1,876.1 L429.4,868.6 L429.7,882.0 L430.0,876.6 L430.3,872.7 L430.6,879.1 L430.9,878.2 L431.2,876.3 L431.5,872.5 L431.8,881.5 L432.1,883.4 L432.4,872.6 L432.7,886.1 L433.0,887.1 L433.3,883.5 L433.6,886.5 L433.9,885.6 L434.2,884.0 L434.5,886.6 L434.8,894.2 L435.1,883.6 L435.4,891.0 L435.7,891.5 L436.0,888.6 L436.3,890.4 L436.6,887.3 L436.9,890.1 L437.2,894.2 L437.5,896.1 L437.8,892.0 L438.1,908.2 L438.4,894.6 L438.7,898.0 L439.0,897.3 L439.3,897.3 L439.6,904.6 L439.9,898.4 L440.2,906.1 L440.5,906.0 L440.8,898.2 L441.1,906.9 L441.4,901.1 L441.7,914.7 L442.0,903.4 L442.3,901.8 L442.6,898.6 L442.9,901.5 L443.2,904.7 L443.5,903.6 L443.8,903.1 L444.1,905.6 L444.4,907.9 L444.7,914.6 L445.0,903.1 L445.3,907.9 L445.6,906.9 L445.9,905.2 L446.2,906.6 L446.5,908.4 L446.8,914.9 L447.1,912.0 L447.4,911.1 L447.7,915.8 L448.0,915.1 L448.3,913.6 L448.6,916.3 L448.9,912.3 L449.2,918.1 L449.5,918.0 L449.8,915.1 L450.1,912.6 L450.4,923.2 L450.7,918.3 L451.0,929.7 L451.3,916.5 L451.6,922.4 L451.9,918.1 L452.2,921.1 L452.5,923.6 L452.8,918.0 L453.1,921.0 L453.4,922.3 L453.7,922.5 L454.0,924.6 L454.3,926.6 L454.6,926.3 L454.9,924.6 L455.2,922.8 L455.5,920.3 L455.8,922.1 L456.1,923.3 L456.4,928.0 L456.7,924.6 L457.0,921.8 L457.3,928.9 L457.6,924.2 L457.9,924.7 L458.2,927.0 L458.5,929.9 L458.8,920.0 L459.1,925.0 L459.4,930.0 L459.7,928.5 L460.0,927.1 L460.3,928.6 L460.6,935.8 L460.9,929.7 L461.2,934.1 L461.5,934.8 L461.8,930.8 L462.1,934.2 L462.4,931.4 L462.7,931.1 L463.0,929.6 L463.3,936.9 L463.6,932.8 L463.9,932.5 L464.2,930.8 L464.5,941.3 L464.8,937.9 L465.1,935.2 L465.4,933.5 L465.7,930.9 L466.0,937.5 L466.3,937.8 L466.6,932.2 L466.9,941.4 L467.2,940.3 L467.5,934.6 L467.8,936.3 L468.1,937.1 L468.4,939.4 L468.7,938.6 L469.0,933.8 L469.3,944.7 L469.6,941.0 L469.9,944.6 L470.2,944.8 L470.5,940.1 L470.8,942.3 L471.1,943.9 L471.4,944.3 L471.7,941.4 L472.0,940.1 L472.3,942.6 L472.6,940.0 L472.9,941.1 L473.2,936.4 L473.5,943.7 L473.8,940.3 L474.1,942.1 L474.4,944.0 L474.7,945.5 L475.0,951.0 L475.3,945.6 L475.6,940.5 L475.9,945.9 L476.2,943.7 L476.5,947.2 L476.8,943.9 L477.1,944.1 L477.4,945.0 L477.7,944.8 L478.0,941.1 L478.3,945.2 L478.6,947.6 L478.9,951.8 L479.2,947.2 L479.5,947.1 L479.8,950.5 L480.1,950.6 L480.4,954.4 L480.7,951.3 L481.0,949.5 L481.3,954.2 L481.6,955.1 L481.9,948.8 L482.2,951.1 L482.5,945.3 L482.8,949.9 L483.1,948.5 L483.4,950.9 L483.7,950.4 L484.0,951.7 L484.3,952.3 L484.6,954.6 L484.9,954.2 L485.2,952.0 L485.5,950.1 L485.8,958.6 L486.1,959.6 L486.4,954.0 L486.7,957.7 L487.0,951.4 L487.3,951.8 L487.6,956.3 L487.9,962.3 L488.2,954.7 L488.5,955.8 L488.8,963.9 L489.1,953.2 L489.4,961.7 L489.7,961.6 L490.0,959.8 L490.3,961.4 L490.6,969.4 L490.9,958.0 L491.2,960.8 L491.5,961.3 L491.8,960.0 L492.1,958.1 L492.4,967.4 L492.7,963.3 L493.0,957.2 L493.3,960.6 L493.6,964.2 L493.9,964.3 L494.2,958.7 L494.5,963.0 L494.8,964.2 L495.1,964.8 L495.4,964.9 L495.7,958.2 L496.0,969.6 L496.3,964.7 L496.6,969.7 L496.9,973.1 L497.2,963.9 L497.5,960.7 L497.8,967.3 L498.1,964.2 L498.4,963.5 L498.7,961.8 L499.0,970.3 L499.3,963.9 L499.6,961.1 L499.9,964.1 L500.2,962.1 L500.5,966.2 L500.8,964.6 L501.1,962.8 L501.4,968.0 L501.7,964.3 L502.0,968.6 L502.3,970.3 L502.6,965.5 L502.9,964.8 L503.2,967.5 L503.5,969.7 L503.8,967.1 L504.1,967.7 L504.4,967.3 L504.7,968.4 L505.0,969.5 L505.3,965.6 L505.6,966.4 L505.9,968.1 L506.2,966.1 L506.5,968.6 L506.8,970.0 L507.1,968.4 L507.4,966.8 L507.7,966.3 L508.0,974.1 L508.3,971.5 L508.6,965.6 L508.9,966.5 L509.2,974.7 L509.5,973.7 L509.8,969.6 L510.1,972.8 L510.4,964.9 L510.7,969.5 L511.0,971.8 L511.3,964.1 L511.6,967.3 L511.9,972.1 L512.2,973.2 L512.5,968.1 L512.8,970.8 L513.1,974.8 L513.4,969.0 L513.7,966.2 L514.0,970.1 L514.3,969.2 L514.6,974.3 L514.9,970.9 L515.2,968.2 L515.5,977.7 L515.8,969.2 L516.1,972.2 L516.4,972.8 L516.7,973.2 L517.0,971.5 L517.3,972.8 L517.6,970.9 L517.9,967.0 L518.2,970.6 L518.5,970.7 L518.8,970.9 L519.1,971.9 L519.4,969.7 L519.7,975.5 L520.0,976.3 L520.3,965.3 L520.6,971.8 L520.9,969.8 L521.2,964.3 L521.5,973.2 L521.8,970.3 L522.1,971.1 L522.4,970.3 L522.7,975.5 L523.0,976.0 L523.3,973.3 L523.6,974.6 L523.9,972.3 L524.2,973.1 L524.5,970.6 L524.8,972.9 L525.1,970.8 L525.4,974.0 L525.7,975.4 L526.0,974.0 L526.3,976.6 L526.6,981.0 L526.9,967.2 L527.2,973.4 L527.5,971.8 L527.8,972.2 L528.1,969.7 L528.4,973.8 L528.7,973.0 L529.0,972.0 L529.3,973.1 L529.6,972.2 L529.9,967.3 L530.2,977.2 L530.5,973.3 L530.8,971.5 L531.1,975.2 L531.4,972.5 L531.7,968.2 L532.0,977.0 L532.3,969.8 L532.6,974.0 L532.9,975.0 L533.2,978.6 L533.5,978.2 L533.8,975.3 L534.1,972.6 L534.4,973.7 L534.7,978.0 L535.0,980.0 L535.3,976.5 L535.6,973.2 L535.9,978.0 L536.2,974.0 L536.5,973.9 L536.8,974.3 L537.1,976.8 L537.4,976.0 L537.7,978.0 L538.0,978.9 L538.3,976.7 L538.6,968.7 L538.9,970.5 L539.2,975.8 L539.5,975.2 L539.8,981.6 L540.1,975.4 L540.4,975.1 L540.7,978.2 L541.0,978.6 L541.3,974.9 L541.6,977.0 L541.9,972.5 L542.2,973.0 L542.5,979.2 L542.8,971.8 L543.1,978.4 L543.4,977.7 L543.7,978.0 L544.0,978.4 L544.3,977.5 L544.6,969.9 L544.9,973.1 L545.2,974.3 L545.5,978.6 L545.8,972.9 L546.1,974.1 L546.4,975.1 L546.7,979.8 L547.0,972.1 L547.3,972.4 L547.6,978.0 L547.9,970.3 L548.2,977.2 L548.5,975.1 L548.8,972.0 L549.1,975.2 L549.4,973.6 L549.7,976.9 L550.0,977.5 L550.3,980.6 L550.6,976.5 L550.9,976.8 L551.2,975.0 L551.5,976.5 L551.8,979.6 L552.1,971.3 L552.4,978.5 L552.7,975.2 L553.0,977.0 L553.3,977.7 L553.6,979.2 L553.9,977.5 L554.2,975.8 L554.5,977.8 L554.8,977.0 L555.1,976.4 L555.4,977.5 L555.7,979.4 L556.0,977.4 L556.3,977.5 L556.6,973.5 L556.9,976.7 L557.2,972.0 L557.5,979.0 L557.8,974.5 L558.1,980.6 L558.4,985.2 L558.7,975.9 L559.0,980.6 L559.3,978.0 L559.6,975.4 L559.9,974.6 L560.2,978.4 L560.5,980.7 L560.8,977.8 L561.1,972.7 L561.4,974.0 L561.7,976.1 L562.0,980.4 L562.3,977.5 L562.6,977.6 L562.9,979.9 L563.2,976.1 L563.5,976.4 L563.8,976.1 L564.1,971.8 L564.4,977.8 L564.7,977.6 L565.0,979.1 L565.3,973.2 L565.6,974.2 L565.9,978.9 L566.2,977.2 L566.5,980.0 L566.8,974.0 L567.1,976.8 L567.4,974.4 L567.7,977.0 L568.0,974.9 L568.3,977.5 L568.6,978.9 L568.9,977.8 L569.2,971.2 L569.5,978.4 L569.8,977.1 L570.1,973.1 L570.4,973.5 L570.7,975.8 L571.0,977.2 L571.3,974.5 L571.6,971.4 L571.9,976.3 L572.2,976.0 L572.5,981.8 L572.8,972.0 L573.1,981.9 L573.4,979.8 L573.7,976.0 L574.0,979.4 L574.3,975.3 L574.6,977.4 L574.9,972.9 L575.2,974.9 L575.5,972.0 L575.8,970.5 L576.1,973.6 L576.4,972.5 L576.7,975.4 L577.0,976.9 L577.3,973.2 L577.6,973.5 L577.9,973.5 L578.2,968.7 L578.5,972.9 L578.8,971.8 L579.1,971.0 L579.4,967.9 L579.7,965.1 L580.0,967.4 L580.3,966.7 L580.6,966.0 L580.9,962.0 L581.2,957.3 L581.5,948.7 L581.8,940.7 L582.1,930.5 L582.4,927.2 L582.7,931.4 L583.0,942.2 L583.3,948.3 L583.6,952.9 L583.9,961.8 L584.2,961.6 L584.5,965.2 L584.8,966.5 L585.1,966.4 L585.4,972.0 L585.7,971.1 L586.0,969.0 L586.3,970.9 L586.6,970.1 L586.9,972.7 L587.2,970.6 L587.5,969.8 L587.8,970.2 L588.1,970.7 L588.4,972.4 L588.7,969.6 L589.0,971.5 L589.3,972.7 L589.6,976.9 L589.9,973.5 L590.2,964.8 L590.5,970.3 L590.8,970.4 L591.1,971.9 L591.4,974.6 L591.7,972.6 L592.0,965.8 L592.3,971.4 L592.6,970.8 L592.9,971.2 L593.2,973.0 L593.5,967.6 L593.8,972.0 L594.1,966.0 L594.4,969.3 L594.7,969.7 L595.0,973.2 L595.3,966.9 L595.6,964.6 L595.9,968.9 L596.2,965.8 L596.5,969.6 L596.8,964.9 L597.1,964.0 L597.4,967.3 L597.7,964.6 L598.0,965.6 L598.3,960.7 L598.6,965.1 L598.9,960.5 L599.2,961.9 L599.5,958.0 L599.8,956.1 L600.1,957.0 L600.4,956.3 L600.7,956.9 L601.0,953.6 L601.3,952.4 L601.6,950.5 L601.9,951.4 L602.2,944.5 L602.5,944.5 L602.8,940.3 L603.1,937.8 L603.4,933.9 L603.7,932.2 L604.0,926.3 L604.3,922.4 L604.6,919.2 L604.9,914.1 L605.2,910.9 L605.5,906.3 L605.8,900.5 L606.1,897.0 L606.4,891.9 L606.7,888.5 L607.0,885.5 L607.3,884.4 L607.6,882.1 L607.9,881.4 L608.2,882.4 L608.5,885.5 L608.8,886.7 L609.1,891.0 L609.4,895.2 L609.7,898.4 L610.0,904.3 L610.3,910.1 L610.6,914.3 L610.9,917.9 L611.2,923.5 L611.5,927.5 L611.8,932.7 L612.1,933.7 L612.4,937.3 L612.7,940.7 L613.0,943.3 L613.3,946.1 L613.6,948.2 L613.9,949.6 L614.2,950.3 L614.5,953.4 L614.8,953.9 L615.1,955.8 L615.4,957.9 L615.7,960.7 L616.0,962.5 L616.3,960.6 L616.6,963.8 L616.9,965.5 L617.2,965.0 L617.5,963.1 L617.8,962.9 L618.1,968.7 L618.4,969.6 L618.7,969.1 L619.0,967.2 L619.3,972.4 L619.6,972.5 L619.9,970.6 L620.2,970.7 L620.5,967.7 L620.8,973.4 L621.1,969.1 L621.4,974.0 L621.7,974.5 L622.0,973.5 L622.3,976.9 L622.6,973.2 L622.9,975.4 L623.2,976.1 L623.5,975.2 L623.8,974.0 L624.1,977.8 L624.4,976.3 L624.7,975.2 L625.0,975.4 L625.3,976.3 L625.6,981.3 L625.9,976.7 L626.2,976.1 L626.5,974.5 L626.8,974.3 L627.1,973.0 L627.4,978.1 L627.7,977.9 L628.0,975.7 L628.3,974.8 L628.6,977.7 L628.9,977.5 L629.2,975.8 L629.5,979.8 L629.8,979.7 L630.1,979.4 L630.4,981.5 L630.7,978.4 L631.0,983.3 L631.3,977.9 L631.6,981.7 L631.9,982.2 L632.2,980.3 L632.5,981.9 L632.8,978.2 L633.1,977.8 L633.4,981.1 L633.7,980.0 L634.0,983.4 L634.3,982.2 L634.6,983.8 L634.9,983.2 L635.2,983.1 L635.5,983.0 L635.8,982.1 L636.1,982.0 L636.4,988.2 L636.7,979.2 L637.0,983.1 L637.3,986.2 L637.6,984.9 L637.9,987.5 L638.2,985.6 L638.5,981.3 L638.8,983.7 L639.1,981.3 L639.4,987.2 L639.7,988.5 L640.0,984.1 L640.3,986.6 L640.6,984.4 L640.9,982.1 L641.2,984.6 L641.5,982.0 L641.8,984.6 L642.1,986.7 L642.4,988.1 L642.7,989.6 L643.0,985.7 L643.3,987.2 L643.6,987.7 L643.9,988.1 L644.2,979.9 L644.5,985.0 L644.8,988.9 L645.1,984.3 L645.4,987.7 L645.7,989.2 L646.0,982.6 L646.3,986.8 L646.6,987.9 L646.9,987.4 L647.2,983.7 L647.5,988.4 L647.8,986.2 L648.1,989.7 L648.4,988.8 L648.7,986.4 L649.0,988.3 L649.3,986.2 L649.6,986.2 L649.9,984.1 L650.2,987.5 L650.5,990.1 L650.8,988.5 L651.1,988.2 L651.4,986.7 L651.7,987.0 L652.0,990.2 L652.3,984.8 L652.6,993.5 L652.9,988.4 L653.2,993.9 L653.5,991.5 L653.8,987.7 L654.1,990.6 L654.4,989.4 L654.7,990.0 L655.0,990.9 L655.3,987.6 L655.6,987.5 L655.9,988.0 L656.2,985.8 L656.5,988.5 L656.8,989.8 L657.1,989.9 L657.4,989.8 L657.7,988.4 L658.0,991.3 L658.3,984.5 L658.6,988.5 L658.9,988.8 L659.2,991.8 L659.5,991.3 L659.8,991.7 L660.1,989.8 L660.4,992.1 L660.7,987.4 L661.0,990.1 L661.3,984.8 L661.6,994.2 L661.9,993.9 L662.2,988.6 L662.5,988.1 L662.8,985.1 L663.1,986.5 L663.4,990.6 L663.7,990.0 L664.0,986.8 L664.3,989.2 L664.6,988.9 L664.9,991.7 L665.2,992.3 L665.5,990.1 L665.8,991.0 L666.1,990.7 L666.4,985.7 L666.7,991.3 L667.0,990.7 L667.3,992.8 L667.6,986.5 L667.9,992.9 L668.2,989.5 L668.5,991.7 L668.8,994.0 L669.1,987.5 L669.4,987.9 L669.7,993.5 L670.0,988.3 L670.3,988.8 L670.6,992.6 L670.9,990.6 L671.2,993.0 L671.5,991.8 L671.8,991.1 L672.1,993.5 L672.4,996.4 L672.7,990.9 L673.0,994.7 L673.3,993.9 L673.6,991.4 L673.9,992.3 L674.2,988.9 L674.5,989.7 L674.8,991.8 L675.1,991.0 L675.4,994.3 L675.7,988.0 L676.0,990.4 L676.3,989.6 L676.6,990.8 L676.9,993.9 L677.2,988.2 L677.5,993.2 L677.8,989.7 L678.1,990.3 L678.4,993.5 L678.7,990.4 L679.0,992.7 L679.3,991.3 L679.6,990.6 L679.9,990.2 L680.2,986.9 L680.5,989.2 L680.8,991.4 L681.1,991.4 L681.4,987.4 L681.7,993.2 L682.0,992.2 L682.3,987.8 L682.6,988.3 L682.9,991.9 L683.2,986.6 L683.5,988.9 L683.8,990.4 L684.1,990.2 L684.4,990.2 L684.7,991.2 L685.0,988.4 L685.3,988.9 L685.6,994.5 L685.9,986.6 L686.2,988.6 L686.5,989.6 L686.8,987.8 L687.1,991.6 L687.4,988.8 L687.7,989.9 L688.0,982.5 L688.3,989.9 L688.6,989.3 L688.9,984.9 L689.2,988.2 L689.5,985.4 L689.8,985.6 L690.1,986.0 L690.4,981.6 L690.7,978.2 L691.0,978.1 L691.3,974.2 L691.6,972.7 L691.9,970.6 L692.2,968.5 L692.5,969.1 L692.8,967.7 L693.0,965.4 L693.4,968.7 L693.7,966.7 L694.0,970.1 L694.3,973.0 L694.6,977.2 L694.9,978.7 L695.2,980.2 L695.5,983.3 L695.8,983.8 L696.1,986.3 L696.4,983.4 L696.7,982.5 L697.0,985.7 L697.3,988.8 L697.6,988.3 L697.9,990.1 L698.2,990.1 L698.5,990.1 L698.8,991.1 L699.1,988.1 L699.4,992.3 L699.7,987.9 L700.0,990.1 L700.3,987.4 L700.6,991.9 L700.9,987.4 L701.2,994.2 L701.5,988.1 L701.8,991.9 L702.1,991.1 L702.4,989.6 L702.7,994.6 L703.0,990.8 L703.3,995.3 L703.6,989.6 L703.9,990.2 L704.2,987.5 L704.5,993.5 L704.8,994.4 L705.1,992.9 L705.4,992.1 L705.7,990.4 L706.0,998.1 L706.3,994.4 L706.6,988.4 L706.9,992.0 L707.2,986.7 L707.5,996.6 L707.8,997.6 L708.1,996.5 L708.4,992.9 L708.7,991.7 L709.0,989.8 L709.3,994.5 L709.6,991.5 L709.9,992.4 L710.2,991.8 L710.5,992.7 L710.8,995.6 L711.1,997.5 L711.4,993.9 L711.7,993.6 L712.0,991.0 L712.3,990.8 L712.6,991.2 L712.9,995.9 L713.2,994.4 L713.5,996.2 L713.8,994.9 L714.1,993.0 L714.4,991.0 L714.7,993.1 L715.0,990.7 L715.3,998.9 L715.6,994.8 L715.9,993.3 L716.2,999.0 L716.5,993.3 L716.8,995.6 L717.1,993.9 L717.4,995.2 L717.7,993.5 L718.0,995.6 L718.3,997.9 L718.6,991.5 L718.9,989.3 L719.2,997.8 L719.5,995.0 L719.8,996.8 L720.1,994.0 L720.4,998.4 L720.7,999.1 L721.0,992.0 L721.3,996.5 L721.6,993.4 L721.9,991.1 L722.2,994.2 L722.5,996.3 L722.8,991.7 L723.1,992.0 L723.4,998.0 L723.7,995.2 L724.0,996.1 L724.3,992.4 L724.6,993.6 L724.9,995.5 L725.2,995.7 L725.5,995.6 L725.8,999.1 L726.1,995.7 L726.4,991.7 L726.7,993.3 L727.0,995.3 L727.3,998.5 L727.6,993.8 L727.9,994.6 L728.2,995.5 L728.5,993.9 L728.8,993.6 L729.1,995.0 L729.4,998.0 L729.7,996.8 L730.0,995.0 L730.3,996.7 L730.6,992.7 L730.9,998.2 L731.2,997.6 L731.5,996.6 L731.8,992.0 L732.1,1000.8 L732.4,989.0 L732.7,993.6 L733.0,993.8 L733.3,997.7 L733.6,992.4 L733.9,996.6 L734.2,995.6 L734.5,995.3 L734.8,998.1 L735.1,999.4 L735.4,997.0 L735.7,995.4 L736.0,990.6 L736.3,999.5 L736.6,995.3 L736.9,991.6 L737.2,996.4 L737.5,999.5 L737.8,995.7 L738.1,993.3 L738.4,1001.4 L738.7,997.5 L739.0,996.9 L739.3,998.5 L739.6,990.9 L739.9,995.9 L740.2,995.7 L740.5,1001.5 L740.8,994.7 L741.1,994.8 L741.4,992.8 L741.7,994.1 L742.0,995.6 L742.3,996.7 L742.6,995.6 L742.9,1000.9 L743.2,997.3 L743.5,997.6 L743.8,999.4 L744.1,997.6 L744.4,994.9 L744.7,992.4 L745.0,997.0 L745.3,994.1 L745.6,999.3 L745.9,994.3 L746.2,990.8 L746.5,996.2 L746.8,998.7 L747.1,995.6 L747.4,996.6 L747.7,996.5 L748.0,1000.2 L748.3,996.9 L748.6,996.0 L748.9,994.7 L749.2,992.2 L749.5,999.5 L749.8,998.9 L750.1,993.9 L750.4,997.6 L750.7,996.9 L751.0,995.2 L751.3,995.4 L751.6,997.9 L751.9,993.3 L752.2,994.9 L752.5,995.9 L752.8,996.1 L753.1,995.6 L753.4,996.7 L753.7,997.4 L754.0,994.0 L754.3,996.3 L754.6,994.9 L754.9,999.7 L755.2,992.8 L755.5,995.6 L755.8,997.8 L756.1,995.5 L756.4,995.3 L756.7,994.9 L757.0,996.9 L757.3,993.4 L757.6,996.0 L757.9,995.9 L758.2,992.7 L758.5,996.8 L758.8,995.1 L759.1,996.9 L759.4,998.2 L759.7,997.0 L760.0,993.4 L760.3,997.0 L760.6,992.4 L760.9,994.4 L761.2,1000.2 L761.5,996.2 L761.8,999.9 L762.1,995.8 L762.4,996.2 L762.7,993.6 L763.0,998.5 L763.3,995.8 L763.6,997.7 L763.9,997.3 L764.2,997.5 L764.5,997.0 L764.8,996.2 L765.1,996.3 L765.4,994.6 L765.7,991.2 L766.0,997.4 L766.3,1001.2 L766.6,998.9 L766.9,1001.8 L767.2,997.5 L767.5,994.0 L767.8,994.0 L768.1,998.1 L768.4,997.2 L768.7,996.0 L769.0,998.1 L769.3,994.3 L769.6,997.6 L769.9,995.7 L770.2,996.7 L770.5,999.2 L770.8,996.1 L771.1,999.6 L771.4,999.5 L771.7,994.6 L772.0,1001.9 L772.3,993.5 L772.6,996.2 L772.9,998.2 L773.2,991.0 L773.5,998.9 L773.8,999.1 L774.1,996.2 L774.4,997.1 L774.7,996.9 L775.0,995.9 L775.3,999.0 L775.6,995.5 L775.9,996.3 L776.2,997.3 L776.5,998.4 L776.8,999.0 L777.1,992.9 L777.4,991.6 L777.7,996.1 L778.0,996.3 L778.3,993.9 L778.6,997.2 L778.9,997.9 L779.2,997.3 L779.5,1000.3 L779.8,994.0 L780.1,996.5 L780.4,1001.0 L780.7,998.0 L781.0,993.8 L781.3,996.9 L781.6,999.2 L781.9,1001.3 L782.2,998.0 L782.5,999.2 L782.8,993.8 L783.1,995.8 L783.4,999.2 L783.7,994.2 L784.0,996.3 L784.3,992.0 L784.6,999.9 L784.9,996.1 L785.2,997.7 L785.5,992.8 L785.8,993.2 L786.1,1000.4 L786.4,995.2 L786.7,994.5 L787.0,996.7 L787.3,996.6 L787.6,990.4 L787.9,992.5 L788.2,994.6 L788.5,994.3 L788.8,994.8 L789.1,992.7 L789.4,992.8 L789.7,993.7 L790.0,991.3 L790.3,990.7 L790.6,991.1 L790.9,992.2 L791.2,991.6 L791.5,990.6 L791.8,990.9 L792.1,991.3 L792.4,992.1 L792.7,992.2 L793.0,988.4 L793.3,994.0 L793.6,988.1 L793.9,993.5 L794.2,990.7 L794.5,994.0 L794.8,995.4 L795.1,988.7 L795.4,994.8 L795.7,994.3 L796.0,992.8 L796.3,995.0 L796.6,993.2 L796.9,994.9 L797.2,992.4 L797.5,997.0 L797.8,996.8 L798.1,997.4 L798.4,994.3 L798.7,1000.3 L799.0,1000.8 L799.3,996.1 L799.6,995.4 L799.9,995.4 L800.2,998.0 L800.5,998.8 L800.8,994.7 L801.1,991.7 L801.4,997.5 L801.7,996.4 L802.0,996.9 L802.3,997.7 L802.6,993.9 L802.9,996.7 L803.2,995.8 L803.5,997.4 L803.8,999.4 L804.1,996.5 L804.4,994.5 L804.7,999.5 L805.0,998.2 L805.3,996.1 L805.6,992.4 L805.9,994.5 L806.2,996.9 L806.5,997.9 L806.8,995.4 L807.1,997.6 L807.4,995.1 L807.7,995.6 L808.0,997.9 L808.3,996.0 L808.6,997.0 L808.9,998.7 L809.2,999.3 L809.5,995.3 L809.8,996.1 L810.1,993.6 L810.4,993.6 L810.7,997.4 L811.0,995.5 L811.3,992.4 L811.6,997.9 L811.9,994.8 L812.2,996.0 L812.5,997.7 L812.8,997.7 L813.1,996.6 L813.4,992.1 L813.7,998.1 L814.0,995.4 L814.3,993.5 L814.6,991.7 L814.9,999.9 L815.2,997.1 L815.5,997.1 L815.8,998.2 L816.1,996.7 L816.4,993.4 L816.7,998.4 L817.0,999.2 L817.3,998.1 L817.6,1000.5 L817.9,1001.3 L818.2,995.1 L818.5,995.9 L818.8,999.0 L819.1,997.4 L819.4,997.5 L819.7,999.1 L820.0,998.7 L820.3,996.0 L820.6,997.3 L820.9,995.4 L821.2,996.6 L821.5,994.5 L821.8,992.5 L822.1,995.9 L822.4,995.7 L822.7,999.1 L823.0,1000.7 L823.3,997.2 L823.6,998.2 L823.9,995.7 L824.2,995.0 L824.5,996.5 L824.8,996.5 L825.1,997.9 L825.4,997.5 L825.7,1001.0 L826.0,996.7 L826.3,993.4 L826.6,997.5 L826.9,995.7 L827.2,997.7 L827.5,999.9 L827.8,995.8 L828.1,997.1 L828.4,998.5 L828.7,995.1 L829.0,997.8 L829.3,998.6 L829.6,999.2 L829.9,999.9 L830.2,998.6 L830.5,998.2 L830.8,994.2 L831.1,991.2 L831.4,995.1 L831.7,1000.6 L832.0,997.6 L832.3,992.2 L832.6,996.4 L832.9,998.2 L833.2,993.1 L833.5,998.6 L833.8,994.7 L834.1,999.7 L834.4,997.4 L834.7,1004.4 L835.0,994.3 L835.3,997.9 L835.6,993.9 L835.9,999.9 L836.2,997.6 L836.5,999.4 L836.8,997.5 L837.1,994.6 L837.4,995.8 L837.7,994.4 L838.0,994.9 L838.3,997.6 L838.6,999.7 L838.9,999.2 L839.2,998.4 L839.5,995.9 L839.8,998.4 L840.1,995.3 L840.4,997.7 L840.7,999.1 L841.0,996.8 L841.3,996.1 L841.6,996.2 L841.9,998.6 L842.2,996.5 L842.5,993.9 L842.8,996.2 L843.1,994.7 L843.4,1000.6 L843.7,997.2 L844.0,993.8 L844.3,997.8 L844.6,998.8 L844.9,998.0 L845.2,996.3 L845.5,997.5 L845.8,997.8 L846.1,999.4 L846.4,997.9 L846.7,1002.3 L847.0,996.6 L847.3,1000.6 L847.6,997.1 L847.9,993.2 L848.2,994.4 L848.5,992.9 L848.8,993.2 L849.1,999.8 L849.4,995.6 L849.7,998.4 L850.0,995.0 L850.3,997.0 L850.6,994.6 L850.9,999.0 L851.2,996.5 L851.5,996.0 L851.8,996.6 L852.1,1002.0 L852.4,998.0 L852.7,998.9 L853.0,994.2 L853.3,995.5 L853.6,997.7 L853.9,992.8 L854.2,1000.0 L854.5,997.6 L854.8,996.9 L855.1,996.5 L855.4,996.4 L855.7,995.8 L856.0,1000.1 L856.3,998.5 L856.6,999.7 L856.9,996.2 L857.2,994.9 L857.5,999.9 L857.8,993.9 L858.1,995.1 L858.4,997.8 L858.7,998.3 L859.0,992.4 L859.3,994.3 L859.6,994.6 L859.9,993.7 L860.2,991.6 L860.5,994.7 L860.8,991.5 L861.1,991.7 L861.4,986.6 L861.7,991.1 L862.0,986.4 L862.3,992.1 L862.6,991.1 L862.9,988.3 L863.2,989.4 L863.5,988.7 L863.8,987.3 L864.1,987.7 L864.4,985.5 L864.7,983.5 L865.0,981.5 L865.3,986.0 L865.6,981.2 L865.9,979.3 L866.2,979.7 L866.5,975.7 L866.8,974.4 L867.1,975.6 L867.4,975.1 L867.7,972.9 L868.0,966.2 L868.3,968.7 L868.6,967.1 L868.9,967.0 L869.2,962.3 L869.5,960.5 L869.8,961.5 L870.1,958.2 L870.4,956.4 L870.7,957.6 L871.0,958.8 L871.3,955.5 L871.6,956.8 L871.9,950.2 L872.2,953.6 L872.5,950.8 L872.8,947.8 L873.1,948.2 L873.4,946.3 L873.7,947.3 L874.0,945.1 L874.3,949.7 L874.6,944.7 L874.9,941.2 L875.2,943.8 L875.5,944.7 L875.8,942.4 L876.1,945.2 L876.4,940.4 L876.7,940.7 L877.0,947.6 L877.3,943.7 L877.6,945.5 L877.9,945.9 L878.2,946.5 L878.5,945.6 L878.8,945.5 L879.1,949.3 L879.4,945.7 L879.7,947.8 L880.0,949.8 L880.3,947.6 L880.6,945.2 L880.9,951.0 L881.2,953.3 L881.5,951.8 L881.8,947.5 L882.1,954.1 L882.4,958.2 L882.7,949.8 L883.0,947.5 L883.3,954.5 L883.6,956.0 L883.9,958.4 L884.2,959.1 L884.5,957.9 L884.8,959.6 L885.1,959.7 L885.4,959.6 L885.7,959.6 L886.0,959.9 L886.3,962.4 L886.6,962.1 L886.9,960.4 L887.2,964.6 L887.5,960.5 L887.8,962.2 L888.1,963.5 L888.4,958.9 L888.7,963.1 L889.0,966.5 L889.3,966.8 L889.6,962.2 L889.9,963.5 L890.2,963.1 L890.5,965.4 L890.8,966.0 L891.1,962.5 L891.4,967.3 L891.7,966.8 L892.0,966.6 L892.3,965.3 L892.6,966.6 L892.9,962.9 L893.2,967.9 L893.5,968.0 L893.8,967.4 L894.1,965.0 L894.4,971.0 L894.7,970.8 L895.0,963.7 L895.3,969.4 L895.6,968.9 L895.9,962.4 L896.2,969.9 L896.5,970.3 L896.8,970.5 L897.1,969.2 L897.4,967.3 L897.7,967.6 L898.0,970.1 L898.3,971.7 L898.6,967.8 L898.9,968.3 L899.2,970.6 L899.5,963.8 L899.8,970.1 L900.1,968.5 L900.4,963.8 L900.7,970.9 L901.0,966.9 L901.3,970.9 L901.6,972.3 L901.9,966.1 L902.2,966.2 L902.5,969.0 L902.8,964.9 L903.1,970.7 L903.4,969.5 L903.7,971.3 L904.0,964.7 L904.3,969.4 L904.6,969.9 L904.9,964.7 L905.2,970.8 L905.5,965.5 L905.8,968.9 L906.1,965.4 L906.4,969.9 L906.7,971.7 L907.0,967.8 L907.3,967.3 L907.6,969.6 L907.9,965.3 L908.2,965.7 L908.5,966.2 L908.8,964.2 L909.1,964.6 L909.4,961.5 L909.7,959.5 L910.0,952.6 L910.3,949.4 L910.6,942.5 L911.0,941.4 L911.2,943.2 L911.5,947.7 L911.8,948.1 L912.1,954.0 L912.4,959.0 L912.7,959.2 L913.0,963.7 L913.3,965.3 L913.6,964.5 L913.9,965.3 L914.2,965.2 L914.5,968.3 L914.8,970.9 L915.1,969.2 L915.4,975.0 L915.7,965.8 L916.0,968.0 L916.3,971.1 L916.6,967.1 L916.9,970.6 L917.2,971.8 L917.5,970.5 L917.8,969.6 L918.1,972.4 L918.4,971.2 L918.7,971.9 L919.0,971.4 L919.3,968.5 L919.6,967.4 L919.9,969.1 L920.2,970.3 L920.5,969.4 L920.8,972.0 L921.1,970.3 L921.4,971.9 L921.7,969.8 L922.0,967.7 L922.3,971.4 L922.6,970.4 L922.9,967.2 L923.2,968.1 L923.5,975.7 L923.8,960.8 L924.1,971.5 L924.4,968.8 L924.7,968.4 L925.0,967.8 L925.3,967.2 L925.6,974.0 L925.9,967.2 L926.2,967.4 L926.5,970.1 L926.8,969.1 L927.1,967.8 L927.4,967.7 L927.7,965.4 L928.0,971.5 L928.3,966.6 L928.6,963.6 L928.9,972.3 L929.2,971.9 L929.5,971.2 L929.8,969.4 L930.1,973.8 L930.4,968.6 L930.7,966.3 L931.0,972.2 L931.3,974.1 L931.6,973.9 L931.9,977.7 L932.2,975.1 L932.5,972.8 L932.8,973.2 L933.1,976.1 L933.4,974.2 L933.7,974.3 L934.0,970.8 L934.3,974.6 L934.6,972.6 L934.9,976.6 L935.2,976.7 L935.5,978.4 L935.8,981.3 L936.1,977.0 L936.4,981.2 L936.7,975.4 L937.0,978.8 L937.3,981.0 L937.6,983.7 L937.9,976.9 L938.2,979.2 L938.5,980.5 L938.8,980.2 L939.1,978.6 L939.4,977.3 L939.7,978.6 L940.0,981.5 L940.3,978.8 L940.6,986.4 L940.9,985.3 L941.2,978.1 L941.5,981.6 L941.8,986.0 L942.1,986.5 L942.4,985.9 L942.7,980.1 L943.0,982.8 L943.3,986.8 L943.6,984.3 L943.9,983.1 L944.2,985.6 L944.5,986.9 L944.8,985.1 L945.1,985.5 L945.4,987.6 L945.7,984.0 L946.0,983.3 L946.3,987.4 L946.6,983.0 L946.9,987.1 L947.2,984.5 L947.5,988.3 L947.8,983.8 L948.1,989.3 L948.4,987.5 L948.7,986.4 L949.0,985.3 L949.3,987.1 L949.6,985.4 L949.9,984.9 L950.2,990.3 L950.5,989.3 L950.8,990.9 L951.1,985.0 L951.4,983.7 L951.7,984.6 L952.0,989.8 L952.3,990.3 L952.6,984.2 L952.9,990.9 L953.2,987.6 L953.5,985.9 L953.8,988.6 L954.1,990.2 L954.4,988.4 L954.7,988.6 L955.0,987.1 L955.3,985.9 L955.6,988.3 L955.9,985.6 L956.2,990.7 L956.5,987.5 L956.8,992.5 L957.1,985.9 L957.4,992.9 L957.7,987.7 L958.0,987.8 L958.3,990.5 L958.6,992.0 L958.9,989.9 L959.2,989.3 L959.5,994.7 L959.8,991.4 L960.1,987.6 L960.4,989.8 L960.7,994.3 L961.0,991.3 L961.3,992.5 L961.6,995.3 L961.9,989.4 L962.2,991.6 L962.5,989.3 L962.8,990.8 L963.1,992.1 L963.4,987.8 L963.7,991.2 L964.0,991.2 L964.3,993.3 L964.6,989.6 L964.9,988.1 L965.2,991.9 L965.5,988.4 L965.8,991.4 L966.1,992.3 L966.4,989.0 L966.7,990.8 L967.0,988.7 L967.3,984.6 L967.6,987.8 L967.9,986.4 L968.2,991.2 L968.5,988.7 L968.8,990.8 L969.1,991.1 L969.4,993.6 L969.7,990.4 L970.0,990.3 L970.3,992.4 L970.6,994.9 L970.9,991.1 L971.2,992.1 L971.5,990.9 L971.8,989.7 L972.1,987.8 L972.4,991.2 L972.7,990.8 L973.0,990.8 L973.3,995.9 L973.6,990.7 L973.9,992.2 L974.2,990.7 L974.5,994.2 L974.8,990.9 L975.1,995.7 L975.4,990.9 L975.7,993.3 L976.0,993.9 L976.3,991.1 L976.6,993.6 L976.9,991.8 L977.2,989.9 L977.5,990.1 L977.8,992.4 L978.1,995.7 L978.4,990.6 L978.7,992.9 L979.0,989.8 L979.3,992.2 L979.6,988.7 L979.9,989.8 L980.2,991.6 L980.5,989.9 L980.8,991.0 L981.1,993.9 L981.4,991.3 L981.7,989.9 L982.0,988.7 L982.3,990.3 L982.6,994.1 L982.9,991.3 L983.2,991.2 L983.5,993.1 L983.8,993.4 L984.1,993.7 L984.4,990.6 L984.7,989.4 L985.0,987.7 L985.3,989.9 L985.6,990.6 L985.9,993.0 L986.2,992.1 L986.5,990.1 L986.8,993.3 L987.1,988.5 L987.4,988.9 L987.7,988.7 L988.0,988.8 L988.3,990.7 L988.6,989.4 L988.9,989.5 L989.2,994.3 L989.5,987.9 L989.8,988.9 L990.1,990.7 L990.4,992.2 L990.7,992.3 L991.0,990.6 L991.3,990.3 L991.6,990.5 L991.9,992.8 L992.2,989.0 L992.5,985.8 L992.8,991.5 L993.1,988.4 L993.4,990.9 L993.7,994.2 L994.0,991.2 L994.3,995.1 L994.6,987.4 L994.9,991.5 L995.2,991.8 L995.5,992.8 L995.8,989.3 L996.1,991.3 L996.4,991.2 L996.7,991.1 L997.0,987.8 L997.3,987.0 L997.6,992.1 L997.9,991.6 L998.2,990.9 L998.5,992.3 L998.8,993.2 L999.1,988.2 L999.4,992.5 L999.7,994.1 L1000.0,993.1 L1000.3,992.1 L1000.6,992.3 L1000.9,987.5 L1001.2,989.6 L1001.5,993.0 L1001.8,994.0 L1002.1,991.7 L1002.4,989.7 L1002.7,990.4 L1003.0,992.6 L1003.3,995.2 L1003.6,992.4 L1003.9,989.5 L1004.2,992.0 L1004.5,991.6 L1004.8,995.9 L1005.1,991.9 L1005.4,990.6 L1005.7,990.4 L1006.0,987.8 L1006.3,988.2 L1006.6,989.4 L1006.9,988.7 L1007.2,990.9 L1007.5,990.7 L1007.8,992.5 L1008.1,993.8 L1008.4,990.7 L1008.7,989.9 L1009.0,986.2 L1009.3,991.2 L1009.6,991.8 L1009.9,988.6 L1010.2,989.4 L1010.5,988.7 L1010.8,992.6 L1011.1,991.6 L1011.4,992.9 L1011.7,987.5 L1012.0,996.0 L1012.3,988.2 L1012.6,987.8 L1012.9,990.5 L1013.2,988.8 L1013.5,994.0 L1013.8,989.1 L1014.1,988.5 L1014.4,992.1 L1014.7,992.6 L1015.0,988.1 L1015.3,988.8 L1015.6,989.1 L1015.9,989.5 L1016.2,993.6 L1016.5,992.5 L1016.8,992.1 L1017.1,992.5 L1017.4,989.7 L1017.7,991.6 L1018.0,989.5 L1018.3,988.0 L1018.6,993.2 L1018.9,985.7 L1019.2,989.5 L1019.5,988.2 L1019.8,985.8 L1020.1,988.6 L1020.4,989.5 L1020.7,990.3 L1021.0,987.5 L1021.3,990.9 L1021.6,989.9 L1021.9,991.0 L1022.2,985.0 L1022.5,988.2 L1022.8,987.8 L1023.1,990.3 L1023.4,987.4 L1023.7,987.9 L1024.0,986.5 L1024.3,986.3 L1024.6,986.8 L1024.9,990.9 L1025.2,986.5 L1025.5,983.5 L1025.8,989.3 L1026.1,987.7 L1026.4,989.7 L1026.7,989.7 L1027.0,987.8 L1027.3,987.5 L1027.6,987.2 L1027.9,988.3 L1028.2,986.6 L1028.5,988.6 L1028.8,991.1 L1029.1,986.7 L1029.4,986.7 L1029.7,986.6 L1030.0,989.2 L1030.3,989.2 L1030.6,990.8 L1030.9,989.2 L1031.2,987.9 L1031.5,988.5 L1031.8,984.8 L1032.1,988.5 L1032.4,987.7 L1032.7,991.5 L1033.0,989.9 L1033.3,985.4 L1033.6,985.8 L1033.9,988.6 L1034.2,982.6 L1034.5,984.8 L1034.8,987.3 L1035.1,987.7 L1035.4,986.6 L1035.7,988.5 L1036.0,985.5 L1036.3,986.1 L1036.6,985.4 L1036.9,983.5 L1037.2,985.6 L1037.5,984.2 L1037.8,985.3 L1038.1,980.0 L1038.4,985.0 L1038.7,983.6 L1039.0,983.3 L1039.3,984.3 L1039.6,983.1 L1039.9,985.5 L1040.2,985.9 L1040.5,984.9 L1040.8,984.8 L1041.1,983.5 L1041.4,982.6 L1041.7,980.0 L1042.0,981.3 L1042.3,983.7 L1042.6,982.5 L1042.9,980.0 L1043.2,980.7 L1043.5,981.8 L1043.8,979.4 L1044.1,981.8 L1044.4,977.5 L1044.7,979.4 L1045.0,978.7 L1045.3,977.3 L1045.6,976.8 L1045.9,976.5 L1046.2,971.7 L1046.5,974.9 L1046.8,975.0 L1047.1,973.0 L1047.4,973.1 L1047.7,969.0 L1048.0,969.4 L1048.3,968.7 L1048.6,966.7 L1048.9,967.1 L1049.2,964.8 L1049.5,962.2 L1049.8,962.0 L1050.1,960.2 L1050.4,957.0 L1050.7,956.1 L1051.0,953.8 L1051.3,951.6 L1051.6,947.9 L1051.9,947.7 L1052.2,944.7 L1052.5,941.8 L1052.8,939.6 L1053.1,937.3 L1053.4,934.5 L1053.7,932.3 L1054.0,930.9 L1054.3,928.9 L1054.6,927.7 L1054.9,926.5 L1055.2,926.7 L1055.5,927.6 L1055.8,927.5 L1056.1,928.4 L1056.4,929.4 L1056.7,931.0 L1057.0,932.1 L1057.3,936.5 L1057.6,937.0 L1057.9,938.7 L1058.2,942.6 L1058.5,944.9 L1058.8,946.6 L1059.1,948.0 L1059.4,950.2 L1059.7,955.1 L1060.0,955.5 L1060.3,956.9 L1060.6,961.3 L1060.9,960.4 L1061.2,961.5 L1061.5,964.7 L1061.8,965.8 L1062.1,968.6 L1062.4,965.9 L1062.7,969.3 L1063.0,967.7 L1063.3,971.6 L1063.6,970.9 L1063.9,972.0 L1064.2,972.4 L1064.5,975.4 L1064.8,977.2 L1065.1,975.3 L1065.4,975.6 L1065.7,975.8 L1066.0,977.9 L1066.3,975.9 L1066.6,983.8 L1066.9,978.0 L1067.2,981.7 L1067.5,979.4 L1067.8,977.2 L1068.1,977.2 L1068.4,979.4 L1068.7,979.2 L1069.0,980.3 L1069.3,978.9 L1069.6,985.5 L1069.9,985.3 L1070.2,978.4 L1070.5,982.8 L1070.8,984.4 L1071.1,981.7 L1071.4,982.1 L1071.7,984.8 L1072.0,983.9 L1072.3,980.7 L1072.6,985.6 L1072.9,982.4 L1073.2,987.1 L1073.5,981.8 L1073.8,979.3 L1074.1,984.1 L1074.4,986.5 L1074.7,985.2 L1075.0,984.6 L1075.3,982.5 L1075.6,986.3 L1075.9,980.8 L1076.2,986.2 L1076.5,982.2 L1076.8,983.5 L1077.1,982.1 L1077.4,982.9 L1077.7,987.7 L1078.0,982.2 L1078.3,984.9 L1078.6,982.7 L1078.9,986.1 L1079.2,981.1 L1079.5,983.4 L1079.8,984.6 L1080.1,986.5 L1080.4,979.4 L1080.7,979.3 L1081.0,979.9 L1081.3,981.6 L1081.6,976.5 L1081.9,978.5 L1082.2,975.3 L1082.5,973.8 L1082.8,972.1 L1083.1,974.0 L1083.4,974.6 L1083.7,972.6 L1084.0,969.5 L1084.3,971.6 L1084.6,974.0 L1084.9,974.2 L1085.2,973.8 L1085.5,976.3 L1085.8,973.0 L1086.1,973.9 L1086.4,980.7 L1086.7,979.0 L1087.0,978.6 L1087.3,979.1 L1087.6,976.3 L1087.9,983.4 L1088.2,978.8 L1088.5,979.7 L1088.8,984.1 L1089.1,987.8 L1089.4,984.4 L1089.7,986.4 L1090.0,985.1 L1090.3,987.1 L1090.6,982.9 L1090.9,991.3 L1091.2,984.7 L1091.5,988.2 L1091.8,982.5 L1092.1,991.0 L1092.4,988.1 L1092.7,991.7 L1093.0,985.8 L1093.3,989.6 L1093.6,986.9 L1093.9,987.2 L1094.2,990.3 L1094.5,985.4 L1094.8,989.1 L1095.1,991.8 L1095.4,991.4 L1095.7,989.9 L1096.0,988.3 L1096.3,985.4 L1096.6,990.8 L1096.9,986.1 L1097.2,990.3 L1097.5,986.9 L1097.8,987.7 L1098.1,987.7 L1098.4,989.0 L1098.7,986.7 L1099.0,988.1 L1099.3,986.6 L1099.6,988.9 L1099.9,988.4 L1100.2,988.7 L1100.5,985.9 L1100.8,988.5 L1101.1,987.9 L1101.4,989.1 L1101.7,987.9 L1102.0,985.6 L1102.3,989.4 L1102.6,986.3 L1102.9,988.5 L1103.2,983.2 L1103.5,989.0 L1103.8,989.3 L1104.1,985.8 L1104.4,989.1 L1104.7,987.0 L1105.0,990.9 L1105.3,989.3 L1105.6,985.1 L1105.9,987.4 L1106.2,983.9 L1106.5,987.1 L1106.8,989.0 L1107.1,989.6 L1107.4,987.5 L1107.7,987.2 L1108.0,988.0 L1108.3,986.3 L1108.6,988.3 L1108.9,990.0 L1109.2,987.9 L1109.5,989.3 L1109.8,985.6 L1110.1,986.1 L1110.4,987.9 L1110.7,991.4 L1111.0,989.1 L1111.3,990.5 L1111.6,986.7 L1111.9,989.1 L1112.2,982.7 L1112.5,987.1 L1112.8,981.4 L1113.1,987.9 L1113.4,986.0 L1113.7,986.9 L1114.0,984.8 L1114.3,982.3 L1114.6,980.9 L1114.9,981.5 L1115.2,982.1 L1115.5,978.6 L1115.8,974.0 L1116.1,970.4 L1116.4,965.5 L1116.7,960.2 L1117.0,953.9 L1117.3,948.7 L1117.5,948.1 L1117.9,950.6 L1118.2,959.8 L1118.5,964.7 L1118.8,971.6 L1119.1,974.0 L1119.4,976.3 L1119.7,979.0 L1120.0,980.9 L1120.3,980.6 L1120.6,982.0 L1120.9,987.2 L1121.2,986.0 L1121.5,983.6 L1121.8,986.1 L1122.1,983.6 L1122.4,988.6 L1122.7,983.7 L1123.0,988.0 L1123.3,986.3 L1123.6,986.5 L1123.9,984.7 L1124.2,986.0 L1124.5,985.0 L1124.8,984.9 L1125.1,987.9 L1125.4,992.4 L1125.7,986.2 L1126.0,989.2 L1126.3,987.0 L1126.6,985.5 L1126.9,990.1 L1127.2,988.6 L1127.5,989.8 L1127.8,987.5 L1128.1,987.6 L1128.4,985.5 L1128.7,986.8 L1129.0,991.2 L1129.3,982.4 L1129.6,988.4 L1129.9,990.9 L1130.2,989.4 L1130.5,989.6 L1130.8,987.1 L1131.1,990.3 L1131.4,990.3 L1131.7,987.7 L1132.0,991.6 L1132.3,986.7 L1132.6,982.3 L1132.9,987.9 L1133.2,987.7 L1133.5,986.0 L1133.8,986.9 L1134.1,986.8 L1134.4,983.9 L1134.7,990.8 L1135.0,988.1 L1135.3,994.2 L1135.6,988.1 L1135.9,989.0 L1136.2,984.7 L1136.5,990.5 L1136.8,985.7 L1137.1,989.4 L1137.4,990.3 L1137.7,990.0 L1138.0,986.4 L1138.3,986.5 L1138.6,990.0 L1138.9,991.0 L1139.2,991.6 L1139.5,988.3 L1139.8,988.2 L1140.1,992.5 L1140.4,987.1 L1140.7,990.2 L1141.0,987.8 L1141.3,985.3 L1141.6,986.0 L1141.9,989.6 L1142.2,989.0 L1142.5,989.7 L1142.8,987.8 L1143.1,987.5 L1143.4,989.3 L1143.7,988.2 L1144.0,985.0 L1144.3,987.7 L1144.6,992.5 L1144.9,987.0 L1145.2,990.0 L1145.5,988.6 L1145.8,990.4 L1146.1,986.8 L1146.4,986.0 L1146.7,989.9 L1147.0,987.4 L1147.3,989.0 L1147.6,988.4 L1147.9,991.4 L1148.2,989.9 L1148.5,989.7 L1148.8,987.3 L1149.1,986.0 L1149.4,987.8 L1149.7,991.6 L1150.0,991.4 L1150.3,991.2 L1150.6,989.1 L1150.9,987.8 L1151.2,992.8 L1151.5,990.7 L1151.8,991.5 L1152.1,988.3 L1152.4,989.0 L1152.7,992.0 L1153.0,992.3 L1153.3,988.5 L1153.6,991.5 L1153.9,988.3 L1154.2,993.8 L1154.5,992.6 L1154.8,996.3 L1155.1,994.7 L1155.4,989.9 L1155.7,991.9 L1156.0,990.5 L1156.3,991.9 L1156.6,993.5 L1156.9,991.8 L1157.2,992.0 L1157.5,989.0 L1157.8,993.3 L1158.1,992.1 L1158.4,993.6 L1158.7,994.6 L1159.0,992.5 L1159.3,994.0 L1159.6,991.2 L1159.9,994.8 L1160.2,992.7 L1160.5,991.5 L1160.8,992.4 L1161.1,989.8 L1161.4,991.6 L1161.7,992.2 L1162.0,993.3 L1162.3,993.1 L1162.6,992.0 L1162.9,993.1 L1163.2,988.9 L1163.5,993.9 L1163.8,995.0 L1164.1,995.6 L1164.4,996.3 L1164.7,993.6 L1165.0,993.9 L1165.3,993.1 L1165.6,993.2 L1165.9,994.6 L1166.2,997.4 L1166.5,990.8 L1166.8,993.5 L1167.1,995.3 L1167.4,992.6 L1167.7,995.7 L1168.0,991.9 L1168.3,994.2 L1168.6,991.3 L1168.9,995.6 L1169.2,993.2 L1169.5,996.4 L1169.8,994.3 L1170.1,992.8 L1170.4,994.0 L1170.7,995.1 L1171.0,994.8 L1171.3,994.3 L1171.6,994.0 L1171.9,994.8 L1172.2,996.6 L1172.5,993.5 L1172.8,995.7 L1173.1,991.8 L1173.4,996.7 L1173.7,995.5 L1174.0,993.9 L1174.3,993.9 L1174.6,990.9 L1174.9,994.8 L1175.2,994.1 L1175.5,991.5 L1175.8,993.6 L1176.1,995.8 L1176.4,994.9 L1176.7,995.1 L1177.0,993.3 L1177.3,996.4 L1177.6,994.4 L1177.9,996.3 L1178.2,999.3 L1178.5,990.1 L1178.8,993.3 L1179.1,994.4 L1179.4,992.8 L1179.7,996.7 L1180.0,993.6 L1180.3,998.0 L1180.6,996.0 L1180.9,995.3 L1181.2,994.3 L1181.5,996.2 L1181.8,995.4 L1182.1,997.5 L1182.4,995.2 L1182.7,996.5 L1183.0,995.2 L1183.3,995.0 L1183.6,990.8 L1183.9,994.2 L1184.2,995.1 L1184.5,991.6 L1184.8,991.1 L1185.1,993.5 L1185.4,994.8 L1185.7,990.4 L1186.0,994.8 L1186.3,996.2 L1186.6,993.5 L1186.9,994.6 L1187.2,995.1 L1187.5,992.6 L1187.8,995.4 L1188.1,995.0 L1188.4,991.3 L1188.7,995.1 L1189.0,995.9 L1189.3,991.6 L1189.6,995.8 L1189.9,993.3 L1190.2,991.0 L1190.5,991.6 L1190.8,992.0 L1191.1,995.1 L1191.4,992.9 L1191.7,993.1 L1192.0,991.2 L1192.3,994.0 L1192.6,991.3 L1192.9,992.5 L1193.2,995.4 L1193.5,995.5 L1193.8,992.9 L1194.1,994.0 L1194.4,995.2 L1194.7,994.1 L1195.0,996.8 L1195.3,997.1 L1195.6,993.9 L1195.9,991.4 L1196.2,993.8 L1196.5,997.1 L1196.8,996.6 L1197.1,996.8 L1197.4,996.6 L1197.7,993.0 L1198.0,994.7 L1198.3,996.5 L1198.6,994.7 L1198.9,996.0 L1199.2,991.8 L1199.5,991.3 L1199.8,998.1 L1200.1,995.3 L1200.4,994.8 L1200.7,996.4 L1201.0,997.7 L1201.3,998.7 L1201.6,987.5 L1201.9,992.7 L1202.2,993.5 L1202.5,987.2 L1202.8,987.0 L1203.1,989.4 L1203.4,992.4 L1203.7,989.9 L1204.0,991.1 L1204.3,987.1 L1204.6,987.5 L1204.9,987.4 L1205.2,984.8 L1205.5,983.3 L1205.8,982.8 L1206.1,976.6 L1206.4,982.0 L1206.7,978.4 L1207.0,979.6 L1207.3,981.7 L1207.6,981.2 L1207.9,977.9 L1208.2,981.8 L1208.5,982.5 L1208.8,982.2 L1209.1,983.6 L1209.4,984.1 L1209.7,981.4 L1210.0,984.5 L1210.3,985.2 L1210.6,984.5 L1210.9,987.3 L1211.2,986.8 L1211.5,988.9 L1211.8,988.2 L1212.1,992.5 L1212.4,995.4 L1212.7,990.6 L1213.0,992.3 L1213.3,992.8 L1213.6,994.0 L1213.9,993.1 L1214.2,989.0 L1214.5,994.7 L1214.8,993.9 L1215.1,992.0 L1215.4,994.1 L1215.7,993.5 L1216.0,995.2 L1216.3,994.1 L1216.6,994.3 L1216.9,995.2 L1217.2,995.5 L1217.5,995.0 L1217.8,997.6 L1218.1,995.6 L1218.4,993.3 L1218.7,998.8 L1219.0,995.2 L1219.3,998.3 L1219.6,992.5 L1219.9,995.9 L1220.2,998.2 L1220.5,997.0 L1220.8,994.3 L1221.1,992.5 L1221.4,992.1 L1221.7,992.5 L1222.0,990.4 L1222.3,990.3 L1222.6,989.1 L1222.9,988.3 L1223.2,989.6 L1223.5,985.2 L1223.8,987.3 L1224.1,987.0 L1224.4,983.2 L1224.7,982.0 L1225.0,982.1 L1225.3,980.7 L1225.6,980.7 L1225.9,975.7 L1226.2,977.1 L1226.5,978.0 L1226.8,975.5 L1227.1,976.9 L1227.4,976.9 L1227.7,973.5 L1228.0,975.9 L1228.3,974.9 L1228.6,974.7 L1228.9,975.0 L1229.2,975.9 L1229.5,976.0 L1229.8,978.0 L1230.1,980.7 L1230.4,982.5 L1230.7,981.6 L1231.0,984.2 L1231.3,985.5 L1231.6,982.4 L1231.9,988.6 L1232.2,986.5 L1232.5,987.7 L1232.8,992.2 L1233.1,994.8 L1233.4,990.4 L1233.7,991.5 L1234.0,992.0 L1234.3,993.3 L1234.6,994.1 L1234.9,993.5 L1235.2,992.2 L1235.5,999.6 L1235.8,995.0 L1236.1,994.6 L1236.4,998.4 L1236.7,995.8 L1237.0,999.1 L1237.3,998.5 L1237.6,999.0 L1237.9,996.1 L1238.2,998.4 L1238.5,993.7 L1238.8,994.2 L1239.1,997.4 L1239.4,996.6 L1239.7,1000.3 L1240.0,996.8 L1240.3,993.6 L1240.6,997.7 L1240.9,996.9 L1241.2,998.1 L1241.5,995.1 L1241.8,996.0 L1242.1,997.9 L1242.4,999.5 L1242.7,998.8 L1243.0,999.6 L1243.3,994.8 L1243.6,997.6 L1243.9,998.6 L1244.2,1000.3 L1244.5,998.8 L1244.8,997.8 L1245.1,998.1 L1245.4,998.2 L1245.7,995.3 L1246.0,998.6 L1246.3,1000.3 L1246.6,1000.2 L1246.9,994.6 L1247.2,998.7 L1247.5,995.5 L1247.8,1001.2 L1248.1,1000.1 L1248.4,1000.5 L1248.7,997.6 L1249.0,994.8 L1249.3,996.8 L1249.6,998.4 L1249.9,995.9 L1250.2,997.1 L1250.5,1003.2 L1250.8,996.5 L1251.1,1000.6 L1251.4,995.4 L1251.7,1000.1 L1252.0,1001.4 L1252.3,1000.6 L1252.6,1002.3 L1252.9,1003.7 L1253.2,996.8 L1253.5,1000.4 L1253.8,1001.0 L1254.1,1000.8 L1254.4,1003.3 L1254.7,1000.5 L1255.0,1002.5 L1255.3,1002.3 L1255.6,1000.1 L1255.9,1001.0 L1256.2,998.1 L1256.5,1000.4 L1256.8,1000.1 L1257.1,999.3 L1257.4,998.6 L1257.7,1001.7 L1258.0,999.3 L1258.3,1004.5 L1258.6,1002.3 L1258.9,1001.1 L1259.2,998.1 L1259.5,1001.3 L1259.8,999.6 L1260.1,999.5 L1260.4,996.9 L1260.7,1000.5 L1261.0,999.8 L1261.3,998.2 L1261.6,997.7 L1261.9,998.5 L1262.2,996.2 L1262.5,997.8 L1262.8,1002.0 L1263.1,997.6 L1263.4,1004.0 L1263.7,996.0 L1264.0,1001.2 L1264.3,1001.2 L1264.6,1001.3 L1264.9,1000.0 L1265.2,995.2 L1265.5,1001.2 L1265.8,1001.0 L1266.1,998.7 L1266.4,993.4 L1266.7,1000.9 L1267.0,996.5 L1267.3,997.9 L1267.6,1001.1 L1267.9,1001.3 L1268.2,999.2 L1268.5,997.1 L1268.8,1002.0 L1269.1,1000.8 L1269.4,997.9 L1269.7,996.0 L1270.0,998.7 L1270.3,995.1 L1270.6,1001.9 L1270.9,999.1 L1271.2,997.2 L1271.5,998.8 L1271.8,994.2 L1272.1,997.7 L1272.4,996.4 L1272.7,994.3 L1273.0,996.3 L1273.3,998.4 L1273.6,994.5 L1273.9,997.2 L1274.2,994.3 L1274.5,998.0 L1274.8,993.6 L1275.1,999.0 L1275.4,998.9 L1275.7,999.2 L1276.0,1001.3 L1276.3,997.7 L1276.6,997.5 L1276.9,998.5 L1277.2,996.1 L1277.5,992.9 L1277.8,994.4 L1278.1,994.4 L1278.4,997.5 L1278.7,995.6 L1279.0,996.2 L1279.3,998.3 L1279.6,997.5 L1279.9,1001.5 L1280.2,997.1 L1280.5,995.1 L1280.8,1000.0 L1281.1,996.4 L1281.4,997.2 L1281.7,999.5 L1282.0,997.8 L1282.3,999.0 L1282.6,996.1 L1282.9,996.9 L1283.2,999.0 L1283.5,996.4 L1283.8,996.8 L1284.1,997.6 L1284.4,1001.2 L1284.7,1001.0 L1285.0,998.3 L1285.3,998.0 L1285.6,996.4 L1285.9,1000.9 L1286.2,998.9 L1286.5,1000.1 L1286.8,995.0 L1287.1,999.9 L1287.4,998.5 L1287.7,999.9 L1288.0,1000.5 L1288.3,998.3 L1288.6,997.5 L1288.9,999.9 L1289.2,995.8 L1289.5,1001.6 L1289.8,999.3 L1290.1,996.1 L1290.4,1001.4 L1290.7,1000.8 L1291.0,1002.0 L1291.3,1000.9 L1291.6,999.9 L1291.9,998.7 L1292.2,996.5 L1292.5,1000.6 L1292.8,1000.2 L1293.1,998.1 L1293.4,1000.3 L1293.7,997.1 L1294.0,1001.4 L1294.3,999.5 L1294.6,999.7 L1294.9,997.6 L1295.2,1001.3 L1295.5,999.6 L1295.8,998.1 L1296.1,1000.2 L1296.4,998.9 L1296.7,1001.6 L1297.0,996.1 L1297.3,996.9 L1297.6,1003.7 L1297.9,998.3 L1298.2,1000.3 L1298.5,998.3 L1298.8,999.5 L1299.1,1004.5 L1299.4,994.6 L1299.7,999.7 L1300.0,998.4 L1300.3,998.0 L1300.6,995.9 L1300.9,995.2 L1301.2,999.1 L1301.5,996.8 L1301.8,993.0 L1302.1,994.5 L1302.4,991.3 L1302.7,997.6 L1303.0,992.5 L1303.3,988.1 L1303.6,991.4 L1303.9,990.0 L1304.2,988.7 L1304.5,987.6 L1304.8,985.9 L1305.1,985.7 L1305.4,982.7 L1305.7,986.8 L1306.0,987.5 L1306.3,985.4 L1306.6,985.6 L1306.9,983.2 L1307.2,984.9 L1307.5,984.0 L1307.8,984.8 L1308.1,988.1 L1308.4,990.3 L1308.7,989.1 L1309.0,993.9 L1309.3,992.4 L1309.6,988.6 L1309.9,992.5 L1310.2,996.3 L1310.5,995.4 L1310.8,997.8 L1311.1,993.7 L1311.4,999.9 L1311.7,995.9 L1312.0,999.5 L1312.3,1003.5 L1312.6,999.9 L1312.9,999.7 L1313.2,1002.1 L1313.5,999.1 L1313.8,999.1 L1314.1,1003.4 L1314.4,998.3 L1314.7,999.0 L1315.0,1005.6 L1315.3,999.2 L1315.6,1003.0 L1315.9,1004.6 L1316.2,1002.2 L1316.5,1000.1 L1316.8,1004.3 L1317.1,1000.6 L1317.4,1007.3 L1317.7,1007.7 L1318.0,1000.8 L1318.3,1004.3 L1318.6,1001.7 L1318.9,1004.1 L1319.2,1002.9 L1319.5,1001.4 L1319.8,1004.7 L1320.1,1000.2 L1320.4,1004.5 L1320.7,1003.6 L1321.0,1002.4 L1321.3,1006.1 L1321.6,1004.3 L1321.9,1003.6 L1322.2,1004.1 L1322.5,1004.1 L1322.8,1006.7 L1323.1,1004.1 L1323.4,998.7 L1323.7,998.3 L1324.0,1002.8 L1324.3,1002.5 L1324.6,1004.7 L1324.9,1002.5 L1325.2,1003.8 L1325.5,1008.4 L1325.8,1002.8 L1326.1,1007.6 L1326.4,1005.6 L1326.7,1008.8 L1327.0,1008.0 L1327.3,1006.3 L1327.6,1008.5 L1327.9,1006.7 L1328.2,1003.8 L1328.5,1007.2 L1328.8,1007.1 L1329.1,1005.7 L1329.4,1006.4 L1329.7,1004.9 L1330.0,1006.4 L1330.3,1005.0 L1330.6,1002.2 L1330.9,1004.9 L1331.2,1008.8 L1331.5,1007.0 L1331.8,1008.4 L1332.1,1005.1 L1332.4,1004.2 L1332.7,1002.7 L1333.0,1005.2 L1333.3,1006.9 L1333.6,1006.4 L1333.9,1006.2 L1334.2,1003.4 L1334.5,1004.6 L1334.8,1002.7 L1335.1,1006.0 L1335.4,1005.4 L1335.7,1002.7 L1336.0,1004.2 L1336.3,999.0 L1336.6,1005.3 L1336.9,1001.9 L1337.2,1002.8 L1337.5,1004.8 L1337.8,1004.9 L1338.1,1001.9 L1338.4,1006.7 L1338.7,1007.5 L1339.0,1006.2 L1339.3,1005.8 L1339.6,1003.0 L1339.9,1005.8 L1340.2,1000.8 L1340.5,1000.3 L1340.8,1002.9 L1341.1,1003.0 L1341.4,1000.5 L1341.7,1006.1 L1342.0,999.0 L1342.3,997.6 L1342.6,1001.2 L1342.9,1005.5 L1343.2,1003.5 L1343.5,1002.5 L1343.8,1002.0 L1344.1,1002.8 L1344.4,1002.2 L1344.7,1001.6 L1345.0,1001.1 L1345.3,997.8 L1345.6,1003.3 L1345.9,1000.3 L1346.2,1002.0 L1346.5,1002.3 L1346.8,1003.5 L1347.1,999.6 L1347.4,1003.1 L1347.7,1003.2 L1348.0,1001.2 L1348.3,1001.4 L1348.6,1001.8 L1348.9,999.4 L1349.2,1000.6 L1349.5,999.2 L1349.8,1004.3 L1350.1,1000.1 L1350.4,999.5 L1350.7,1002.2 L1351.0,1003.1 L1351.3,1001.2 L1351.6,999.9 L1351.9,1003.0 L1352.2,1003.9 L1352.5,998.6 L1352.8,1004.1 L1353.1,998.4 L1353.4,1003.7 L1353.7,1001.4 L1354.0,1001.8 L1354.3,1004.0 L1354.6,1005.6 L1354.9,1007.0 L1355.2,1005.5 L1355.5,1004.1 L1355.8,999.8 L1356.1,1001.8 L1356.4,1003.1 L1356.7,1001.5 L1357.0,1004.1 L1357.3,1002.4 L1357.6,1006.8 L1357.9,1002.6 L1358.2,1000.3 L1358.5,1002.0 L1358.8,1001.6 L1359.1,1004.7 L1359.4,1006.3 L1359.7,1005.5 L1360.0,1005.6 L1360.3,1001.9 L1360.6,1001.1 L1360.9,1001.8 L1361.2,1003.6 L1361.5,1002.9 L1361.8,1004.3 L1362.1,1005.9 L1362.4,1003.9 L1362.7,1007.5 L1363.0,1002.2 L1363.3,1005.3 L1363.6,1003.9 L1363.9,1006.2 L1364.2,1004.0 L1364.5,1003.0 L1364.8,1003.9 L1365.1,1002.3 L1365.4,1001.9 L1365.7,1006.0 L1366.0,1003.1 L1366.3,1007.0 L1366.6,1009.8 L1366.9,1003.7 L1367.2,1006.4 L1367.5,1004.4 L1367.8,1000.6 L1368.1,1004.5 L1368.4,1007.9 L1368.7,1002.2 L1369.0,1004.5 L1369.3,1004.5 L1369.6,1001.8 L1369.9,1005.6 L1370.2,1004.6 L1370.5,1006.1 L1370.8,1005.0 L1371.1,1001.8 L1371.4,1005.0 L1371.7,1005.9 L1372.0,1004.0 L1372.3,1005.6 L1372.6,1005.5 L1372.9,999.6 L1373.2,1005.5 L1373.5,999.7 L1373.8,1001.2 L1374.1,1003.6 L1374.4,1001.7 L1374.7,1001.9 L1375.0,1006.0 L1375.3,1001.2 L1375.6,1005.9 L1375.9,1007.2 L1376.2,1006.2 L1376.5,1000.8 L1376.8,999.7 L1377.1,1003.1 L1377.4,1007.4 L1377.7,1002.3 L1378.0,1001.5 L1378.3,1002.3 L1378.6,1004.1 L1378.9,1005.0 L1379.2,1002.3 L1379.5,1002.0 L1379.8,1003.2 L1380.1,1002.1 L1380.4,1001.1 L1380.7,998.1 L1381.0,1002.1 L1381.3,1000.4 L1381.6,1001.1 L1381.9,1000.9 L1382.2,999.5 L1382.5,1002.6 L1382.8,1003.6 L1383.1,1002.3 L1383.4,999.7 L1383.7,1001.4 L1384.0,1002.4 L1384.3,1000.6 L1384.6,1002.3 L1384.9,997.6 L1385.2,1000.1 L1385.5,1003.6 L1385.8,1002.6 L1386.1,1000.0 L1386.4,1000.5 L1386.7,1004.8 L1387.0,1002.4 L1387.3,998.4 L1387.6,1000.4 L1387.9,998.6 L1388.2,998.1 L1388.5,996.5 L1388.8,1000.4 L1389.1,1003.5 L1389.4,1000.3 L1389.7,995.3 L1390.0,999.1 L1390.3,994.5 L1390.6,997.9 L1390.9,999.5 L1391.2,1000.2 L1391.5,997.0 L1391.8,997.2 L1392.1,996.2 L1392.4,995.6 L1392.7,999.2 L1393.0,993.4 L1393.3,991.7 L1393.6,998.9 L1393.9,999.8 L1394.2,991.0 L1394.5,996.3 L1394.8,995.8 L1395.1,992.8 L1395.4,991.4 L1395.7,993.6 L1396.0,992.3 L1396.3,994.6 L1396.6,991.1 L1396.9,994.9 L1397.2,990.6 L1397.5,995.4 L1397.8,993.5 L1398.1,993.9 L1398.4,990.2 L1398.7,990.3 L1399.0,990.4 L1399.3,993.0 L1399.6,988.6 L1399.9,988.1 L1400.2,989.1 L1400.5,990.2 L1400.8,989.0 L1401.1,988.8 L1401.4,985.7 L1401.7,987.0 L1402.0,985.8 L1402.3,990.3 L1402.6,987.6 L1402.9,989.0 L1403.2,984.3 L1403.5,986.9 L1403.8,987.7 L1404.1,984.2 L1404.4,984.9 L1404.7,984.9 L1405.0,986.2 L1405.3,986.3 L1405.6,982.2 L1405.9,985.9 L1406.2,985.4 L1406.5,985.4 L1406.8,982.5 L1407.1,984.1 L1407.4,986.9 L1407.7,986.4 L1408.0,982.1 L1408.3,987.0 L1408.6,982.1 L1408.9,980.8 L1409.2,985.2 L1409.5,983.1 L1409.8,987.3 L1410.1,981.2 L1410.4,981.7 L1410.7,982.8 L1411.0,981.4 L1411.3,979.4 L1411.6,980.0 L1411.9,979.6 L1412.2,979.2 L1412.5,978.8 L1412.8,975.0 L1413.1,980.3 L1413.4,976.4 L1413.7,976.9 L1414.0,975.3 L1414.3,976.4 L1414.6,979.0 L1414.9,979.6 L1415.2,977.5 L1415.5,977.3 L1415.8,976.1 L1416.1,977.0 L1416.4,978.6 L1416.7,978.1 L1417.0,976.6 L1417.3,979.4 L1417.6,977.3 L1417.9,984.9 L1418.2,981.2 L1418.5,979.6 L1418.8,982.4 L1419.1,980.0 L1419.4,981.6 L1419.7,986.2 L1420.0,986.0 L1420.3,980.7 L1420.6,981.3 L1420.9,983.1 L1421.2,989.9 L1421.5,985.3 L1421.8,986.1 L1422.1,984.8 L1422.4,989.4 L1422.7,989.0 L1423.0,983.3 L1423.3,985.7 L1423.6,983.9 L1423.9,985.7 L1424.2,986.7 L1424.5,985.7 L1424.8,987.3 L1425.1,990.3 L1425.4,991.2 L1425.7,988.9 L1426.0,990.2 L1426.3,985.4 L1426.6,991.8 L1426.9,993.5 L1427.2,988.0 L1427.5,989.5 L1427.8,989.0 L1428.1,983.2 L1428.4,990.3 L1428.7,989.0 L1429.0,984.2 L1429.3,986.8 L1429.6,990.4 L1429.9,989.0 L1430.2,984.5 L1430.5,986.2 L1430.8,985.9 L1431.1,987.7 L1431.4,985.7 L1431.7,987.3 L1432.0,986.8 L1432.3,983.7 L1432.6,988.0 L1432.9,987.5 L1433.2,985.3 L1433.5,988.5 L1433.8,992.0 L1434.1,983.1 L1434.4,987.1 L1434.7,988.4 L1435.0,986.5 L1435.3,985.1 L1435.6,991.3 L1435.9,985.1 L1436.2,985.9 L1436.5,984.6 L1436.8,988.8 L1437.1,981.1 L1437.4,983.9 L1437.7,984.8 L1438.0,986.5 L1438.3,986.5 L1438.6,987.9 L1438.9,985.3 L1439.2,983.8 L1439.5,985.3 L1439.8,983.4 L1440.1,984.1 L1440.4,984.1 L1440.7,985.9 L1441.0,987.0 L1441.3,982.5 L1441.6,983.7 L1441.9,985.0 L1442.2,985.1 L1442.5,984.5 L1442.8,986.5 L1443.1,984.7 L1443.4,981.2 L1443.7,988.3 L1444.0,982.4 L1444.3,989.1 L1444.6,985.9 L1444.9,986.1 L1445.2,982.1 L1445.5,986.1 L1445.8,985.0 L1446.1,983.6 L1446.4,986.8 L1446.7,987.3 L1447.0,988.3 L1447.3,982.9 L1447.6,983.9 L1447.9,988.9 L1448.2,987.0 L1448.5,987.7 L1448.8,984.7 L1449.1,986.7 L1449.4,987.8 L1449.7,983.3 L1450.0,984.6 L1450.3,986.8 L1450.6,989.5 L1450.9,985.6 L1451.2,988.2 L1451.5,985.0 L1451.8,984.4 L1452.1,988.7 L1452.4,985.2 L1452.7,987.7 L1453.0,986.6 L1453.3,989.2 L1453.6,985.4 L1453.9,985.2 L1454.2,985.4 L1454.5,988.3 L1454.8,991.7 L1455.1,990.9 L1455.4,989.7 L1455.7,989.1 L1456.0,992.3 L1456.3,989.5 L1456.6,992.3 L1456.9,993.1 L1457.2,991.8 L1457.5,991.4 L1457.8,991.5 L1458.1,990.7 L1458.4,991.6 L1458.7,989.3 L1459.0,989.5 L1459.3,995.0 L1459.6,991.5 L1459.9,988.2 L1460.2,995.1 L1460.5,995.2 L1460.8,993.4 L1461.1,989.9 L1461.4,997.0 L1461.7,995.3 L1462.0,995.8 L1462.3,992.8 L1462.6,994.4 L1462.9,993.0 L1463.2,993.3 L1463.5,991.3 L1463.8,992.3 L1464.1,992.9 L1464.4,994.2 L1464.7,996.3 L1465.0,995.4 L1465.3,990.3 L1465.6,996.5 L1465.9,991.0 L1466.2,995.4 L1466.5,993.9 L1466.8,994.5 L1467.1,993.4 L1467.4,992.2 L1467.7,998.0 L1468.0,989.2 L1468.3,992.6 L1468.6,997.5 L1468.9,994.6 L1469.2,994.7 L1469.5,992.9 L1469.8,992.3 L1470.1,996.1 L1470.4,994.5 L1470.7,995.6 L1471.0,996.6 L1471.3,991.2 L1471.6,992.7 L1471.9,993.5 L1472.2,995.5 L1472.5,996.6 L1472.8,992.9 L1473.1,994.7 L1473.4,995.0 L1473.7,995.0 L1474.0,998.7 L1474.3,993.7 L1474.6,995.7 L1474.9,990.3 L1475.2,995.2 L1475.5,995.7 L1475.8,997.0 L1476.1,994.4 L1476.4,994.3 L1476.7,993.0 L1477.0,994.5 L1477.3,1000.9 L1477.6,992.0 L1477.9,992.0 L1478.2,996.0 L1478.5,993.8 L1478.8,998.6 L1479.1,992.6 L1479.4,999.5 L1479.7,995.0 L1480.0,992.4 L1480.3,991.2 L1480.6,994.1 L1480.9,994.7 L1481.2,997.0 L1481.5,993.4 L1481.8,1002.9 L1482.1,998.1 L1482.4,995.9 L1482.7,995.2 L1483.0,1002.3 L1483.3,994.8 L1483.6,998.1 L1483.9,999.8 L1484.2,994.5 L1484.5,997.9 L1484.8,995.6 L1485.1,999.7 L1485.4,999.9 L1485.7,998.0 L1486.0,997.2 L1486.3,994.2 L1486.6,1002.3 L1486.9,1000.3 L1487.2,998.6 L1487.5,1000.3 L1487.8,997.1 L1488.1,994.7 L1488.4,999.2 L1488.7,995.1 L1489.0,996.1 L1489.3,998.9 L1489.6,993.9 L1489.9,997.4 L1490.2,996.7 L1490.5,994.9 L1490.8,994.8 L1491.1,997.0 L1491.4,996.9 L1491.7,997.9 L1492.0,994.3 L1492.3,997.8 L1492.6,994.8 L1492.9,995.8 L1493.2,999.6 L1493.5,996.0 L1493.8,996.3 L1494.1,995.5 L1494.4,997.2 L1494.7,998.9 L1495.0,996.2 L1495.3,998.3 L1495.6,993.9 L1495.9,997.7 L1496.2,996.4 L1496.5,996.7 L1496.8,994.4 L1497.1,995.0 L1497.4,996.9 L1497.7,993.5 L1498.0,997.7 L1498.3,995.0 L1498.6,996.8 L1498.9,993.2 L1499.2,992.1 L1499.5,997.0 L1499.8,997.0 L1500.1,995.3 L1500.4,996.7 L1500.7,995.1 L1501.0,996.5 L1501.3,995.3 L1501.6,992.7 L1501.9,997.2 L1502.2,992.5 L1502.5,999.6 L1502.8,994.2 L1503.1,992.3 L1503.4,993.8 L1503.7,994.3 L1504.0,994.4 L1504.3,995.3 L1504.6,992.6 L1504.9,989.3 L1505.2,991.8 L1505.5,994.6 L1505.8,996.0 L1506.1,989.0 L1506.4,993.6 L1506.7,995.8 L1507.0,990.0 L1507.3,996.9 L1507.6,991.3 L1507.9,992.6 L1508.2,991.7 L1508.5,996.7 L1508.8,994.6 L1509.1,992.8 L1509.4,991.6 L1509.7,988.6 L1510.0,991.6 L1510.3,990.8 L1510.6,991.7 L1510.9,987.6 L1511.2,994.7 L1511.5,993.8 L1511.8,995.2 L1512.1,990.2 L1512.4,991.4 L1512.7,988.6 L1513.0,993.3 L1513.3,990.7 L1513.6,995.0 L1513.9,992.9 L1514.2,993.1 L1514.5,992.7 L1514.8,988.2 L1515.1,993.3 L1515.4,988.2 L1515.7,992.6 L1516.0,993.4 L1516.3,989.6 L1516.6,990.9 L1516.9,992.1 L1517.2,993.2 L1517.5,993.4 L1517.8,992.9 L1518.1,991.0 L1518.4,993.7 L1518.7,998.8 L1519.0,992.1 L1519.3,997.1 L1519.6,991.0 L1519.9,992.3 L1520.2,996.9 L1520.5,995.9 L1520.8,997.7 L1521.1,995.6 L1521.4,993.1 L1521.7,994.7 L1522.0,993.7 L1522.3,997.1 L1522.6,996.3 L1522.9,997.8 L1523.2,993.7 L1523.5,994.8 L1523.8,994.5 L1524.1,994.8 L1524.4,995.3 L1524.7,998.6 L1525.0,996.1 L1525.3,998.4 L1525.6,996.1 L1525.9,991.6 L1526.2,992.4 L1526.5,994.9 L1526.8,997.8 L1527.1,995.1 L1527.4,991.6 L1527.7,995.0 L1528.0,994.1 L1528.3,995.8 L1528.6,996.2 L1528.9,994.9 L1529.2,992.7 L1529.5,991.7 L1529.8,993.0 L1530.1,993.5 L1530.4,994.4 L1530.7,992.4 L1531.0,991.9 L1531.3,994.2 L1531.6,994.8 L1531.9,993.5 L1532.2,990.4 L1532.5,991.9 L1532.8,997.3 L1533.1,989.9 L1533.4,991.4 L1533.7,994.1 L1534.0,989.8 L1534.3,991.1 L1534.6,994.5 L1534.9,993.7 L1535.2,987.3 L1535.5,992.6 L1535.8,990.4 L1536.1,987.8 L1536.4,993.2 L1536.7,989.5 L1537.0,990.5 L1537.3,988.5 L1537.6,992.1 L1537.9,992.3 L1538.2,992.1 L1538.5,995.7 L1538.8,991.9 L1539.1,989.9 L1539.4,992.1 L1539.7,991.8 L1540.0,992.9 L1540.3,986.2 L1540.6,993.6 L1540.9,996.4 L1541.2,994.1 L1541.5,991.0 L1541.8,997.4 L1542.1,994.5 L1542.4,997.6 L1542.7,995.5 L1543.0,992.8 L1543.3,990.1 L1543.6,994.2 L1543.9,995.3 L1544.2,993.5 L1544.5,991.6 L1544.8,996.6 L1545.1,993.3 L1545.4,998.2 L1545.7,994.1 L1546.0,996.3 L1546.3,995.0 L1546.6,996.8 L1546.9,997.3 L1547.2,991.6 L1547.5,994.9 L1547.8,995.4 L1548.1,995.5 L1548.4,996.8 L1548.7,999.7 L1549.0,995.1 L1549.3,998.7 L1549.6,996.8 L1549.9,996.4 L1550.2,994.8 L1550.5,996.6 L1550.8,996.0 L1551.1,999.6 L1551.4,1002.1 L1551.7,1000.2 L1552.0,1000.8 L1552.3,997.6 L1552.6,1001.0 L1552.9,997.9 L1553.2,997.9 L1553.5,1000.6 L1553.8,998.7 L1554.1,1001.6 L1554.4,1000.5 L1554.7,999.6 L1555.0,998.9 L1555.3,1000.6 L1555.6,1000.7 L1555.9,1000.2 L1556.2,1002.4 L1556.5,998.7 L1556.8,996.9 L1557.1,997.0 L1557.4,997.7 L1557.7,997.7 L1558.0,999.3 L1558.3,1003.1 L1558.6,997.3 L1558.9,997.7 L1559.2,998.3 L1559.5,997.2 L1559.8,997.7 L1560.1,1000.8 L1560.4,1002.0 L1560.7,997.6 L1561.0,998.9 L1561.3,1001.0 L1561.6,999.7 L1561.9,998.5 L1562.2,999.6 L1562.5,998.6 L1562.8,997.3 L1563.1,999.8 L1563.4,997.3 L1563.7,997.5 L1564.0,999.1 L1564.3,996.0 L1564.6,999.9 L1564.9,996.8 L1565.2,996.2 L1565.5,999.4 L1565.8,999.6 L1566.1,1000.1 L1566.4,1000.9 L1566.7,995.8 L1567.0,997.4 L1567.3,995.5 L1567.6,996.2 L1567.9,999.6 L1568.2,998.3 L1568.5,998.2 L1568.8,998.4 L1569.1,996.6 L1569.4,1000.1 L1569.7,995.3 L1570.0,998.9 L1570.3,996.2 L1570.6,995.6 L1570.9,1002.0 L1571.2,997.0 L1571.5,999.4 L1571.8,996.3 L1572.1,996.6 L1572.4,1000.8 L1572.7,999.3 L1573.0,998.7 L1573.3,999.6 L1573.6,1000.1 L1573.9,1000.7 L1574.2,1000.0 L1574.5,1000.6 L1574.8,999.9 L1575.1,999.7 L1575.4,1001.9 L1575.7,995.0 L1576.0,1001.5 L1576.3,999.9 L1576.6,1000.4 L1576.9,999.6 L1577.2,998.8 L1577.5,1001.7 L1577.8,998.0 L1578.1,998.5 L1578.4,998.6 L1578.7,1004.3 L1579.0,1000.9 L1579.3,1001.0 L1579.6,998.2 L1579.9,1001.5 L1580.2,1003.2 L1580.5,999.2 L1580.8,1001.8 L1581.1,1002.2 L1581.4,1003.2 L1581.7,1004.1 L1582.0,1006.3 L1582.3,1002.2 L1582.6,1002.4 L1582.9,1001.2 L1583.2,1004.6 L1583.5,1002.7 L1583.8,1003.8 L1584.1,1004.5 L1584.4,1002.8 L1584.7,1002.9 L1585.0,1003.7 L1585.3,1003.8 L1585.6,1003.7 L1585.9,1003.4 L1586.2,1003.6 L1586.5,1006.3 L1586.8,1002.5 L1587.1,1004.0 L1587.4,1003.8 L1587.7,1006.0 L1588.0,1002.7 L1588.3,1003.3 L1588.6,1002.8 L1588.9,1005.5 L1589.2,1005.1 L1589.5,1004.7 L1589.8,1004.1 L1590.1,1008.5 L1590.4,1004.5 L1590.7,999.9 L1591.0,1000.8 L1591.3,1000.9 L1591.6,1002.9 L1591.9,1000.7 L1592.2,1003.8 L1592.5,1000.8 L1592.8,1003.7 L1593.1,1002.5 L1593.4,1004.8 L1593.7,1004.1 L1594.0,1001.8 L1594.3,1007.5 L1594.6,1001.5 L1594.9,1002.7"/>
<path stroke="#0000ff" d="M309.4,1032.7 L309.7,1017.6 L310.0,1027.4 L310.3,1024.2 L310.6,1024.6 L310.9,1025.5 L311.2,1019.6 L311.5,1025.5 L311.8,1023.5 L312.1,1037.2 L312.4,1027.1 L312.7,1025.3 L313.0,1025.5 L313.3,1024.3 L313.6,1023.1 L313.9,1025.3 L314.2,1028.2 L314.5,1025.9 L314.8,1029.8 L315.1,1026.1 L315.4,1026.8 L315.7,1031.8 L316.0,1028.6 L316.3,1025.2 L316.6,1026.3 L316.9,1028.7 L317.2,1033.2 L317.5,1026.2 L317.8,1026.3 L318.1,1030.3 L318.4,1024.3 L318.7,1026.2 L319.0,1030.1 L319.3,1029.1 L319.6,1027.6 L319.9,1029.5 L320.2,1018.3 L320.5,1030.7 L320.8,1024.4 L321.1,1022.2 L321.4,1028.4 L321.7,1029.8 L322.0,1026.2 L322.3,1024.2 L322.6,1027.8 L322.9,1027.6 L323.2,1032.2 L323.5,1030.2 L323.8,1028.5 L324.1,1031.4 L324.4,1027.3 L324.7,1025.0 L325.0,1029.8 L325.3,1029.9 L325.6,1027.4 L325.9,1025.7 L326.2,1028.9 L326.5,1020.4 L326.8,1030.4 L327.1,1029.8 L327.4,1023.2 L327.7,1028.6 L328.0,1025.4 L328.3,1030.8 L328.6,1022.1 L328.9,1025.7 L329.2,1030.8 L329.5,1032.2 L329.8,1021.9 L330.1,1027.1 L330.4,1029.7 L330.7,1026.9 L331.0,1033.7 L331.3,1025.1 L331.6,1030.0 L331.9,1025.7 L332.2,1033.3 L332.5,1028.9 L332.8,1027.9 L333.1,1023.8 L333.4,1034.3 L333.7,1031.5 L334.0,1031.5 L334.3,1032.7 L334.6,1030.3 L334.9,1027.3 L335.2,1026.9 L335.5,1026.9 L335.8,1033.6 L336.1,1025.0 L336.4,1027.7 L336.7,1028.6 L337.0,1030.3 L337.3,1031.4 L337.6,1025.9 L337.9,1024.5 L338.2,1029.8 L338.5,1033.6 L338.8,1032.2 L339.1,1030.7 L339.4,1029.1 L339.7,1031.0 L340.0,1029.4 L340.3,1032.7 L340.6,1027.9 L340.9,1030.8 L341.2,1030.1 L341.5,1032.1 L341.8,1031.2 L342.1,1038.3 L342.4,1035.2 L342.7,1035.2 L343.0,1024.7 L343.3,1029.8 L343.6,1029.1 L343.9,1032.6 L344.2,1024.2 L344.5,1034.6 L344.8,1034.3 L345.1,1027.3 L345.4,1028.3 L345.7,1028.9 L346.0,1031.5 L346.3,1033.3 L346.6,1037.6 L346.9,1031.0 L347.2,1033.9 L347.5,1032.1 L347.8,1037.0 L348.1,1034.0 L348.4,1035.9 L348.7,1028.7 L349.0,1031.4 L349.3,1029.6 L349.6,1036.5 L349.9,1034.1 L350.2,1031.3 L350.5,1031.0 L350.8,1033.8 L351.1,1030.3 L351.4,1029.7 L351.7,1033.9 L352.0,1039.8 L352.3,1031.9 L352.6,1031.1 L352.9,1029.3 L353.2,1028.9 L353.5,1034.4 L353.8,1035.4 L354.1,1033.0 L354.4,1034.0 L354.7,1033.5 L355.0,1033.6 L355.3,1028.8 L355.6,1032.0 L355.9,1033.7 L356.2,1031.2 L356.5,1032.1 L356.8,1031.2 L357.1,1032.6 L357.4,1036.1 L357.7,1032.5 L358.0,1033.3 L358.3,1036.2 L358.6,1035.7 L358.9,1038.8 L359.2,1028.0 L359.5,1036.5 L359.8,1032.8 L360.1,1034.6 L360.4,1036.6 L360.7,1037.4 L361.0,1037.3 L361.3,1034.9 L361.6,1039.1 L361.9,1033.8 L362.2,1034.2 L362.5,1036.9 L362.8,1033.2 L363.1,1040.9 L363.4,1037.7 L363.7,1041.1 L364.0,1034.9 L364.3,1033.9 L364.6,1035.6 L364.9,1037.2 L365.2,1033.6 L365.5,1036.3 L365.8,1035.3 L366.1,1039.9 L366.4,1033.6 L366.7,1038.4 L367.0,1033.8 L367.3,1032.9 L367.6,1033.7 L367.9,1032.4 L368.2,1036.2 L368.5,1038.7 L368.8,1036.4 L369.1,1037.7 L369.4,1040.6 L369.7,1036.9 L370.0,1036.7 L370.3,1035.5 L370.6,1031.8 L370.9,1038.4 L371.2,1031.5 L371.5,1038.3 L371.8,1036.5 L372.1,1039.7 L372.4,1036.5 L372.7,1034.4 L373.0,1037.7 L373.3,1035.3 L373.6,1036.4 L373.9,1037.0 L374.2,1036.6 L374.5,1036.5 L374.8,1034.8 L375.1,1036.7 L375.4,1031.4 L375.7,1036.9 L376.0,1034.1 L376.3,1040.5 L376.6,1040.9 L376.9,1032.2 L377.2,1038.0 L377.5,1037.3 L377.8,1034.9 L378.1,1039.2 L378.4,1036.6 L378.7,1033.1 L379.0,1037.2 L379.3,1037.6 L379.6,1038.4 L379.9,1034.8 L380.2,1039.8 L380.5,1040.2 L380.8,1035.2 L381.1,1036.6 L381.4,1038.2 L381.7,1037.0 L382.0,1043.2 L382.3,1039.2 L382.6,1036.0 L382.9,1036.6 L383.2,1038.6 L383.5,1045.0 L383.8,1038.4 L384.1,1039.3 L384.4,1040.4 L384.7,1039.0 L385.0,1045.2 L385.3,1037.8 L385.6,1041.2 L385.9,1039.7 L386.2,1041.0 L386.5,1036.3 L386.8,1044.2 L387.1,1039.2 L387.4,1039.7 L387.7,1037.2 L388.0,1037.8 L388.3,1041.3 L388.6,1042.4 L388.9,1041.9 L389.2,1043.1 L389.5,1041.9 L389.8,1040.2 L390.1,1042.3 L390.4,1041.8 L390.7,1040.0 L391.0,1042.2 L391.3,1043.7 L391.6,1041.1 L391.9,1039.6 L392.2,1042.4 L392.5,1045.6 L392.8,1040.1 L393.1,1040.5 L393.4,1040.4 L393.7,1044.0 L394.0,1036.1 L394.3,1041.9 L394.6,1044.1 L394.9,1039.0 L395.2,1045.0 L395.5,1042.6 L395.8,1039.9 L396.1,1041.9 L396.4,1037.4 L396.7,1040.0 L397.0,1046.2 L397.3,1039.3 L397.6,1046.4 L397.9,1041.5 L398.2,1044.3 L398.5,1041.9 L398.8,1036.1 L399.1,1040.4 L399.4,1042.4 L399.7,1039.0 L400.0,1038.6 L400.3,1043.0 L400.6,1040.4 L400.9,1037.8 L401.2,1040.4 L401.5,1044.4 L401.8,1041.1 L402.1,1044.7 L402.4,1046.2 L402.7,1042.5 L403.0,1039.6 L403.3,1039.2 L403.6,1042.5 L403.9,1044.8 L404.2,1043.3 L404.5,1044.1 L404.8,1041.6 L405.1,1043.5 L405.4,1041.6 L405.7,1042.0 L406.0,1039.7 L406.3,1039.0 L406.6,1041.8 L406.9,1040.3 L407.2,1040.7 L407.5,1044.8 L407.8,1042.9 L408.1,1050.5 L408.4,1045.6 L408.7,1041.7 L409.0,1045.3 L409.3,1044.3 L409.6,1041.7 L409.9,1046.2 L410.2,1041.6 L410.5,1036.0 L410.8,1045.6 L411.1,1042.1 L411.4,1047.4 L411.7,1042.1 L412.0,1040.9 L412.3,1047.7 L412.6,1041.2 L412.9,1044.4 L413.2,1047.6 L413.5,1044.3 L413.8,1043.9 L414.1,1044.4 L414.4,1046.2 L414.7,1042.2 L415.0,1045.8 L415.3,1045.7 L415.6,1050.1 L415.9,1043.6 L416.2,1042.2 L416.5,1046.3 L416.8,1043.6 L417.1,1045.3 L417.4,1044.9 L417.7,1047.5 L418.0,1043.1 L418.3,1044.5 L418.6,1038.6 L418.9,1042.7 L419.2,1048.6 L419.5,1043.3 L419.8,1043.3 L420.1,1042.1 L420.4,1046.5 L420.7,1045.5 L421.0,1042.3 L421.3,1046.8 L421.6,1045.9 L421.9,1047.1 L422.2,1043.8 L422.5,1049.6 L422.8,1046.4 L423.1,1045.2 L423.4,1044.2 L423.7,1044.9 L424.0,1047.6 L424.3,1044.9 L424.6,1048.2 L424.9,1047.0 L425.2,1048.9 L425.5,1047.6 L425.8,1045.6 L426.1,1041.2 L426.4,1046.5 L426.7,1047.7 L427.0,1046.2 L427.3,1047.2 L427.6,1044.8 L427.9,1045.0 L428.2,1043.7 L428.5,1049.2 L428.8,1046.4 L429.1,1044.9 L429.4,1042.9 L429.7,1045.7 L430.0,1049.6 L430.3,1047.3 L430.6,1044.5 L430.9,1049.6 L431.2,1049.6 L431.5,1048.6 L431.8,1048.2 L432.1,1049.1 L432.4,1047.6 L432.7,1048.2 L433.0,1044.6 L433.3,1050.0 L433.6,1047.0 L433.9,1051.3 L434.2,1041.7 L434.5,1048.2 L434.8,1048.9 L435.1,1045.8 L435.4,1047.7 L435.7,1048.4 L436.0,1048.1 L436.3,1045.5 L436.6,1046.4 L436.9,1049.2 L437.2,1049.8 L437.5,1047.1 L437.8,1047.1 L438.1,1047.4 L438.4,1049.4 L438.7,1044.5 L439.0,1043.9 L439.3,1047.3 L439.6,1044.5 L439.9,1045.7 L440.2,1047.3 L440.5,1048.3 L440.8,1044.7 L441.1,1049.1 L441.4,1043.1 L441.7,1048.5 L442.0,1043.7 L442.3,1044.4 L442.6,1048.9 L442.9,1046.5 L443.2,1045.6 L443.5,1046.4 L443.8,1048.6 L444.1,1047.4 L444.4,1047.5 L444.7,1050.0 L445.0,1046.0 L445.3,1046.5 L445.6,1046.5 L445.9,1050.4 L446.2,1050.0 L446.5,1050.7 L446.8,1047.7 L447.1,1047.4 L447.4,1049.8 L447.7,1047.0 L448.0,1049.8 L448.3,1049.6 L448.6,1046.4 L448.9,1047.8 L449.2,1047.8 L449.5,1052.0 L449.8,1054.0 L450.1,1047.9 L450.4,1048.2 L450.7,1043.0 L451.0,1048.7 L451.3,1048.3 L451.6,1045.9 L451.9,1050.1 L452.2,1044.8 L452.5,1047.9 L452.8,1048.8 L453.1,1045.7 L453.4,1050.5 L453.7,1050.9 L454.0,1045.5 L454.3,1045.5 L454.6,1050.0 L454.9,1048.6 L455.2,1046.0 L455.5,1048.1 L455.8,1048.5 L456.1,1048.5 L456.4,1050.7 L456.7,1049.7 L457.0,1052.9 L457.3,1052.0 L457.6,1050.5 L457.9,1051.4 L458.2,1052.0 L458.5,1050.7 L458.8,1046.4 L459.1,1051.1 L459.4,1049.3 L459.7,1052.8 L460.0,1049.4 L460.3,1050.4 L460.6,1050.0 L460.9,1053.0 L461.2,1049.7 L461.5,1048.8 L461.8,1050.1 L462.1,1048.5 L462.4,1049.8 L462.7,1049.5 L463.0,1050.1 L463.3,1053.8 L463.6,1048.7 L463.9,1049.7 L464.2,1049.2 L464.5,1051.1 L464.8,1047.1 L465.1,1048.2 L465.4,1049.7 L465.7,1051.0 L466.0,1049.7 L466.3,1048.7 L466.6,1047.9 L466.9,1051.0 L467.2,1053.0 L467.5,1050.6 L467.8,1050.3 L468.1,1050.9 L468.4,1047.9 L468.7,1049.3 L469.0,1049.4 L469.3,1050.6 L469.6,1049.9 L469.9,1047.4 L470.2,1052.4 L470.5,1053.6 L470.8,1049.5 L471.1,1050.9 L471.4,1050.6 L471.7,1051.7 L472.0,1046.9 L472.3,1053.4 L472.6,1049.0 L472.9,1052.6 L473.2,1050.1 L473.5,1049.1 L473.8,1049.5 L474.1,1051.6 L474.4,1047.9 L474.7,1048.9 L475.0,1048.6 L475.3,1046.0 L475.6,1052.0 L475.9,1050.4 L476.2,1049.1 L476.5,1051.3 L476.8,1046.9 L477.1,1048.5 L477.4,1051.7 L477.7,1050.0 L478.0,1043.6 L478.3,1041.3 L478.6,1045.1 L478.9,1048.4 L479.2,1045.1 L479.5,1044.8 L479.8,1045.3 L480.1,1041.9 L480.4,1042.4 L480.7,1041.8 L481.0,1039.5 L481.3,1037.4 L481.6,1033.7 L481.9,1032.5 L482.2,1028.6 L482.5,1027.9 L482.8,1027.2 L483.2,1022.8 L483.4,1021.6 L483.7,1024.8 L484.0,1027.9 L484.3,1031.4 L484.6,1034.3 L484.9,1034.6 L485.2,1036.9 L485.5,1041.8 L485.8,1040.0 L486.1,1044.8 L486.4,1044.0 L486.7,1046.6 L487.0,1047.4 L487.3,1048.3 L487.6,1049.0 L487.9,1046.3 L488.2,1049.1 L488.5,1049.0 L488.8,1049.9 L489.1,1052.0 L489.4,1049.4 L489.7,1048.8 L490.0,1049.0 L490.3,1050.0 L490.6,1052.3 L490.9,1049.4 L491.2,1053.4 L491.5,1051.9 L491.8,1051.0 L492.1,1048.9 L492.4,1052.2 L492.7,1053.2 L493.0,1048.4 L493.3,1054.4 L493.6,1055.4 L493.9,1052.9 L494.2,1053.3 L494.5,1057.3 L494.8,1055.0 L495.1,1050.8 L495.4,1052.6 L495.7,1052.4 L496.0,1052.5 L496.3,1048.1 L496.6,1054.5 L496.9,1051.7 L497.2,1053.4 L497.5,1052.9 L497.8,1055.0 L498.1,1052.7 L498.4,1051.7 L498.7,1054.5 L499.0,1056.3 L499.3,1052.9 L499.6,1056.4 L499.9,1054.2 L500.2,1052.6 L500.5,1056.9 L500.8,1052.2 L501.1,1055.9 L501.4,1052.9 L501.7,1054.9 L502.0,1051.5 L502.3,1052.4 L502.6,1056.3 L502.9,1054.6 L503.2,1054.3 L503.5,1053.4 L503.8,1055.2 L504.1,1051.6 L504.4,1052.2 L504.7,1054.2 L505.0,1052.9 L505.3,1053.2 L505.6,1054.5 L505.9,1054.4 L506.2,1054.3 L506.5,1058.1 L506.8,1056.9 L507.1,1057.3 L507.4,1054.9 L507.7,1054.0 L508.0,1052.1 L508.3,1054.4 L508.6,1050.9 L508.9,1054.0 L509.2,1056.7 L509.5,1058.4 L509.8,1057.1 L510.1,1053.5 L510.4,1056.3 L510.7,1053.7 L511.0,1057.0 L511.3,1055.2 L511.6,1057.1 L511.9,1060.6 L512.2,1057.3 L512.5,1060.1 L512.8,1055.9 L513.1,1054.9 L513.4,1058.2 L513.7,1059.1 L514.0,1054.6 L514.3,1055.8 L514.6,1052.9 L514.9,1055.4 L515.2,1057.5 L515.5,1055.6 L515.8,1054.7 L516.1,1053.1 L516.4,1056.6 L516.7,1057.5 L517.0,1057.1 L517.3,1056.5 L517.6,1053.5 L517.9,1059.5 L518.2,1056.0 L518.5,1055.8 L518.8,1057.6 L519.1,1051.9 L519.4,1056.1 L519.7,1056.0 L520.0,1057.0 L520.3,1058.9 L520.6,1057.2 L520.9,1052.7 L521.2,1055.7 L521.5,1056.8 L521.8,1056.7 L522.1,1053.9 L522.4,1053.2 L522.7,1057.6 L523.0,1057.2 L523.3,1056.5 L523.6,1053.2 L523.9,1060.1 L524.2,1051.0 L524.5,1056.0 L524.8,1060.8 L525.1,1056.4 L525.4,1057.2 L525.7,1054.5 L526.0,1059.5 L526.3,1054.3 L526.6,1057.4 L526.9,1057.2 L527.2,1054.9 L527.5,1058.7 L527.8,1054.3 L528.1,1055.7 L528.4,1057.0 L528.7,1056.3 L529.0,1058.0 L529.3,1058.9 L529.6,1056.6 L529.9,1056.1 L530.2,1056.2 L530.5,1056.5 L530.8,1058.8 L531.1,1056.9 L531.4,1058.1 L531.7,1057.2 L532.0,1055.8 L532.3,1059.1 L532.6,1055.4 L532.9,1057.5 L533.2,1060.3 L533.5,1055.4 L533.8,1057.4 L534.1,1054.5 L534.4,1056.6 L534.7,1054.7 L535.0,1056.9 L535.3,1056.5 L535.6,1057.8 L535.9,1060.6 L536.2,1058.2 L536.5,1058.9 L536.8,1057.5 L537.1,1057.2 L537.4,1056.1 L537.7,1054.3 L538.0,1057.8 L538.3,1060.8 L538.6,1058.6 L538.9,1056.7 L539.2,1060.9 L539.5,1057.0 L539.8,1056.6 L540.1,1055.5 L540.4,1056.0 L540.7,1057.4 L541.0,1061.6 L541.3,1057.5 L541.6,1055.9 L541.9,1056.7 L542.2,1057.5 L542.5,1054.7 L542.8,1058.2 L543.1,1059.2 L543.4,1058.5 L543.7,1059.1 L544.0,1055.5 L544.3,1054.8 L544.6,1060.4 L544.9,1060.0 L545.2,1055.1 L545.5,1058.4 L545.8,1058.1 L546.1,1059.1 L546.4,1058.4 L546.7,1057.1 L547.0,1058.4 L547.3,1058.4 L547.6,1058.0 L547.9,1054.7 L548.2,1052.6 L548.5,1056.7 L548.8,1055.1 L549.1,1058.6 L549.4,1059.5 L549.7,1058.7 L550.0,1057.5 L550.3,1058.3 L550.6,1060.4 L550.9,1056.9 L551.2,1059.9 L551.5,1059.5 L551.8,1058.7 L552.1,1060.9 L552.4,1056.9 L552.7,1060.0 L553.0,1056.6 L553.3,1056.9 L553.6,1056.4 L553.9,1059.1 L554.2,1056.6 L554.5,1058.4 L554.8,1056.3 L555.1,1060.3 L555.4,1061.7 L555.7,1058.8 L556.0,1061.3 L556.3,1059.4 L556.6,1062.3 L556.9,1058.5 L557.2,1055.5 L557.5,1061.1 L557.8,1058.1 L558.1,1056.4 L558.4,1057.1 L558.7,1055.3 L559.0,1057.9 L559.3,1056.3 L559.6,1060.9 L559.9,1059.3 L560.2,1055.1 L560.5,1055.4 L560.8,1057.0 L561.1,1054.6 L561.4,1057.8 L561.7,1057.9 L562.0,1056.5 L562.3,1056.9 L562.6,1058.8 L562.9,1060.4 L563.2,1060.5 L563.5,1057.8 L563.8,1059.3 L564.1,1056.4 L564.4,1058.4 L564.7,1055.9 L565.0,1058.9 L565.3,1055.4 L565.6,1055.8 L565.9,1057.5 L566.2,1058.4 L566.5,1054.9 L566.8,1056.4 L567.1,1057.6 L567.4,1057.7 L567.7,1055.8 L568.0,1057.4 L568.3,1056.7 L568.6,1059.6 L568.9,1058.1 L569.2,1054.7 L569.5,1053.1 L569.8,1057.1 L570.1,1059.0 L570.4,1057.2 L570.7,1058.4 L571.0,1055.9 L571.3,1054.4 L571.6,1058.0 L571.9,1056.8 L572.2,1057.8 L572.5,1054.1 L572.8,1056.8 L573.1,1055.3 L573.4,1057.8 L573.7,1055.3 L574.0,1055.2 L574.3,1055.2 L574.6,1058.3 L574.9,1056.1 L575.2,1054.7 L575.5,1054.2 L575.8,1054.1 L576.1,1058.3 L576.4,1052.7 L576.7,1054.3 L577.0,1056.7 L577.3,1057.5 L577.6,1055.2 L577.9,1056.7 L578.2,1056.5 L578.5,1056.8 L578.8,1055.1 L579.1,1057.7 L579.4,1055.2 L579.7,1057.3 L580.0,1052.9 L580.3,1056.1 L580.6,1052.4 L580.9,1051.9 L581.2,1055.0 L581.5,1052.8 L581.8,1054.7 L582.1,1052.1 L582.4,1056.3 L582.7,1053.6 L583.0,1051.7 L583.3,1053.6 L583.6,1054.6 L583.9,1051.8 L584.2,1053.7 L584.5,1056.0 L584.8,1053.9 L585.1,1052.4 L585.4,1051.4 L585.7,1053.0 L586.0,1049.6 L586.3,1047.1 L586.6,1050.5 L586.9,1049.7 L587.2,1053.7 L587.5,1051.1 L587.8,1049.2 L588.1,1048.7 L588.4,1050.9 L588.7,1048.7 L589.0,1048.8 L589.3,1049.3 L589.6,1049.3 L589.9,1049.0 L590.2,1048.8 L590.5,1050.1 L590.8,1050.4 L591.1,1045.5 L591.4,1050.9 L591.7,1047.3 L592.0,1048.5 L592.3,1045.5 L592.6,1046.5 L592.9,1046.0 L593.2,1045.4 L593.5,1045.9 L593.8,1045.1 L594.1,1042.6 L594.4,1043.1 L594.7,1043.5 L595.0,1042.8 L595.3,1040.9 L595.6,1040.3 L595.9,1039.6 L596.2,1037.8 L596.5,1036.7 L596.8,1038.6 L597.1,1035.6 L597.4,1034.9 L597.7,1032.9 L598.0,1033.4 L598.3,1032.3 L598.6,1029.0 L598.9,1027.8 L599.2,1024.9 L599.5,1024.7 L599.8,1021.7 L600.1,1017.9 L600.4,1016.5 L600.7,1012.8 L601.0,1009.4 L601.3,1005.5 L601.6,1000.6 L601.9,995.9 L602.2,991.1 L602.5,984.7 L602.8,977.5 L603.1,971.0 L603.4,961.3 L603.7,951.3 L604.0,940.0 L604.3,927.6 L604.6,913.2 L604.9,896.7 L605.2,878.5 L605.5,857.7 L605.8,835.8 L606.1,812.3 L606.4,788.2 L606.7,764.7 L607.0,743.0 L607.3,726.3 L607.6,714.5 L607.9,710.8 L608.2,714.8 L608.5,726.2 L608.8,743.5 L609.1,764.5 L609.4,788.4 L609.7,813.0 L610.0,836.3 L610.3,858.4 L610.6,878.4 L610.9,897.6 L611.2,913.9 L611.5,928.0 L611.8,941.1 L612.1,952.5 L612.4,962.1 L612.7,971.2 L613.0,979.2 L613.3,986.3 L613.6,992.8 L613.9,997.7 L614.2,1002.3 L614.5,1007.1 L614.8,1010.4 L615.1,1013.5 L615.4,1018.3 L615.7,1020.1 L616.0,1023.1 L616.3,1025.9 L616.6,1026.7 L616.9,1030.1 L617.2,1031.8 L617.5,1033.0 L617.8,1035.0 L618.1,1035.4 L618.4,1035.3 L618.7,1038.3 L619.0,1038.9 L619.3,1041.7 L619.6,1042.1 L619.9,1042.2 L620.2,1043.6 L620.5,1045.9 L620.8,1046.4 L621.1,1046.3 L621.4,1047.0 L621.7,1046.8 L622.0,1047.6 L622.3,1049.0 L622.6,1048.7 L622.9,1049.7 L623.2,1048.5 L623.5,1048.2 L623.8,1048.6 L624.1,1050.6 L624.4,1053.2 L624.7,1053.4 L625.0,1051.0 L625.3,1050.6 L625.6,1054.0 L625.9,1053.9 L626.2,1051.7 L626.5,1055.3 L626.8,1054.3 L627.1,1056.2 L627.4,1055.1 L627.7,1056.1 L628.0,1055.5 L628.3,1054.0 L628.6,1055.2 L628.9,1054.8 L629.2,1057.2 L629.5,1054.8 L629.8,1054.2 L630.1,1057.6 L630.4,1058.5 L630.7,1059.1 L631.0,1058.8 L631.3,1055.3 L631.6,1056.7 L631.9,1057.1 L632.2,1058.1 L632.5,1055.1 L632.8,1058.5 L633.1,1059.1 L633.4,1057.5 L633.7,1059.2 L634.0,1061.0 L634.3,1059.5 L634.6,1061.2 L634.9,1061.3 L635.2,1060.6 L635.5,1060.7 L635.8,1059.7 L636.1,1062.3 L636.4,1059.9 L636.7,1059.7 L637.0,1062.0 L637.3,1060.0 L637.6,1061.9 L637.9,1063.0 L638.2,1061.7 L638.5,1061.9 L638.8,1063.3 L639.1,1063.2 L639.4,1059.8 L639.7,1060.3 L640.0,1064.5 L640.3,1063.2 L640.6,1059.5 L640.9,1060.8 L641.2,1063.0 L641.5,1061.6 L641.8,1064.0 L642.1,1063.5 L642.4,1064.3 L642.7,1061.8 L643.0,1064.7 L643.3,1066.9 L643.6,1062.7 L643.9,1066.1 L644.2,1065.7 L644.5,1065.2 L644.8,1064.2 L645.1,1062.6 L645.4,1063.1 L645.7,1065.8 L646.0,1066.2 L646.3,1066.7 L646.6,1066.3 L646.9,1066.3 L647.2,1064.3 L647.5,1063.2 L647.8,1065.5 L648.1,1066.0 L648.4,1065.5 L648.7,1063.0 L649.0,1064.7 L649.3,1063.3 L649.6,1065.9 L649.9,1064.1 L650.2,1065.5 L650.5,1066.4 L650.8,1066.2 L651.1,1068.2 L651.4,1064.4 L651.7,1062.8 L652.0,1067.7 L652.3,1068.5 L652.6,1068.6 L652.9,1066.9 L653.2,1067.4 L653.5,1066.8 L653.8,1064.7 L654.1,1065.9 L654.4,1067.6 L654.7,1066.0 L655.0,1069.9 L655.3,1064.6 L655.6,1066.4 L655.9,1068.9 L656.2,1066.3 L656.5,1065.6 L656.8,1065.3 L657.1,1066.3 L657.4,1069.9 L657.7,1068.2 L658.0,1068.5 L658.3,1066.9 L658.6,1069.1 L658.9,1068.0 L659.2,1066.5 L659.5,1067.3 L659.8,1068.4 L660.1,1070.0 L660.4,1068.1 L660.7,1069.0 L661.0,1071.5 L661.3,1067.2 L661.6,1066.5 L661.9,1070.1 L662.2,1069.3 L662.5,1068.5 L662.8,1069.1 L663.1,1068.3 L663.4,1069.7 L663.7,1068.4 L664.0,1070.2 L664.3,1067.2 L664.6,1067.9 L664.9,1069.4 L665.2,1068.5 L665.5,1070.4 L665.8,1069.3 L666.1,1068.6 L666.4,1069.8 L666.7,1068.7 L667.0,1067.2 L667.3,1067.9 L667.6,1068.5 L667.9,1069.1 L668.2,1070.0 L668.5,1071.3 L668.8,1070.8 L669.1,1072.7 L669.4,1072.0 L669.7,1069.8 L670.0,1072.7 L670.3,1072.0 L670.6,1069.5 L670.9,1070.7 L671.2,1072.0 L671.5,1070.7 L671.8,1072.0 L672.1,1071.1 L672.4,1071.6 L672.7,1070.1 L673.0,1071.2 L673.3,1070.1 L673.6,1071.7 L673.9,1068.1 L674.2,1071.3 L674.5,1072.7 L674.8,1071.7 L675.1,1070.9 L675.4,1071.8 L675.7,1069.7 L676.0,1069.8 L676.3,1070.5 L676.6,1070.9 L676.9,1072.6 L677.2,1069.9 L677.5,1072.8 L677.8,1068.9 L678.1,1070.2 L678.4,1071.3 L678.7,1073.2 L679.0,1070.5 L679.3,1068.3 L679.6,1072.2 L679.9,1071.6 L680.2,1070.0 L680.5,1070.1 L680.8,1070.7 L681.1,1071.9 L681.4,1072.8 L681.7,1069.6 L682.0,1075.4 L682.3,1071.9 L682.6,1071.4 L682.9,1073.1 L683.2,1072.3 L683.5,1075.7 L683.8,1073.8 L684.1,1071.7 L684.4,1071.7 L684.7,1071.6 L685.0,1071.8 L685.3,1073.4 L685.6,1071.5 L685.9,1074.9 L686.2,1072.4 L686.5,1072.3 L686.8,1074.0 L687.1,1069.7 L687.4,1071.3 L687.7,1073.6 L688.0,1072.8 L688.3,1072.8 L688.6,1073.4 L688.9,1072.0 L689.2,1072.7 L689.5,1070.9 L689.8,1070.2 L690.1,1075.0 L690.4,1071.7 L690.7,1072.1 L691.0,1075.3 L691.3,1074.8 L691.6,1072.5 L691.9,1072.5 L692.2,1073.2 L692.5,1071.9 L692.8,1074.2 L693.1,1073.6 L693.4,1073.6 L693.7,1074.5 L694.0,1074.5 L694.3,1076.2 L694.6,1075.7 L694.9,1070.9 L695.2,1074.8 L695.5,1071.8 L695.8,1071.4 L696.1,1074.5 L696.4,1072.5 L696.7,1073.0 L697.0,1075.1 L697.3,1072.5 L697.6,1072.2 L697.9,1074.0 L698.2,1075.4 L698.5,1074.4 L698.8,1071.3 L699.1,1072.6 L699.4,1073.4 L699.7,1076.5 L700.0,1075.0 L700.3,1074.9 L700.6,1075.4 L700.9,1073.2 L701.2,1074.4 L701.5,1074.4 L701.8,1072.3 L702.1,1073.7 L702.4,1074.6 L702.7,1072.1 L703.0,1075.0 L703.3,1074.9 L703.6,1075.3 L703.9,1072.6 L704.2,1074.0 L704.5,1076.0 L704.8,1075.0 L705.1,1072.7 L705.4,1074.2 L705.7,1076.0 L706.0,1073.8 L706.3,1074.4 L706.6,1077.7 L706.9,1073.8 L707.2,1073.7 L707.5,1072.4 L707.8,1073.0 L708.1,1076.1 L708.4,1073.7 L708.7,1072.2 L709.0,1072.6 L709.3,1074.0 L709.6,1075.1 L709.9,1072.9 L710.2,1075.1 L710.5,1073.3 L710.8,1074.6 L711.1,1074.8 L711.4,1074.9 L711.7,1073.4 L712.0,1073.8 L712.3,1074.8 L712.6,1072.2 L712.9,1074.3 L713.2,1074.9 L713.5,1075.6 L713.8,1074.1 L714.1,1073.9 L714.4,1074.3 L714.7,1073.1 L715.0,1073.8 L715.3,1074.8 L715.6,1074.6 L715.9,1072.6 L716.2,1073.7 L716.5,1071.1 L716.8,1075.4 L717.1,1073.4 L717.4,1074.6 L717.7,1072.6 L718.0,1074.1 L718.3,1074.9 L718.6,1075.7 L718.9,1072.3 L719.2,1075.5 L719.5,1074.0 L719.8,1073.2 L720.1,1075.0 L720.4,1073.9 L720.7,1073.9 L721.0,1073.3 L721.3,1074.7 L721.6,1074.4 L721.9,1074.1 L722.2,1073.0 L722.5,1073.6 L722.8,1075.0 L723.1,1076.3 L723.4,1074.4 L723.7,1076.5 L724.0,1074.4 L724.3,1072.8 L724.6,1075.4 L724.9,1073.0 L725.2,1075.1 L725.5,1076.0 L725.8,1074.0 L726.1,1074.4 L726.4,1078.1 L726.7,1074.9 L727.0,1074.9 L727.3,1075.7 L727.6,1074.4 L727.9,1074.4 L728.2,1075.1 L728.5,1071.1 L728.8,1076.7 L729.1,1073.0 L729.4,1073.0 L729.7,1075.4 L730.0,1074.7 L730.3,1072.8 L730.6,1075.0 L730.9,1073.0 L731.2,1073.7 L731.5,1072.5 L731.8,1073.5 L732.1,1075.3 L732.4,1074.9 L732.7,1075.2 L733.0,1076.1 L733.3,1074.7 L733.6,1073.8 L733.9,1074.4 L734.2,1077.2 L734.5,1074.8 L734.8,1075.3 L735.1,1074.7 L735.4,1075.2 L735.7,1075.5 L736.0,1074.8 L736.3,1074.6 L736.6,1073.7 L736.9,1073.7 L737.2,1075.5 L737.5,1076.0 L737.8,1076.3 L738.1,1075.0 L738.4,1073.7 L738.7,1075.9 L739.0,1075.9 L739.3,1072.8 L739.6,1076.1 L739.9,1075.8 L740.2,1077.4 L740.5,1073.4 L740.8,1073.2 L741.1,1076.2 L741.4,1072.5 L741.7,1074.0 L742.0,1073.5 L742.3,1073.6 L742.6,1072.3 L742.9,1074.8 L743.2,1076.5 L743.5,1075.8 L743.8,1075.8 L744.1,1074.6 L744.4,1077.2 L744.7,1075.9 L745.0,1076.7 L745.3,1073.0 L745.6,1075.7 L745.9,1073.6 L746.2,1075.7 L746.5,1075.5 L746.8,1073.6 L747.1,1075.5 L747.4,1077.0 L747.7,1076.0 L748.0,1076.2 L748.3,1074.1 L748.6,1074.4 L748.9,1073.8 L749.2,1075.5 L749.5,1077.1 L749.8,1076.0 L750.1,1075.4 L750.4,1073.8 L750.7,1076.1 L751.0,1075.1 L751.3,1072.7 L751.6,1073.0 L751.9,1075.0 L752.2,1074.2 L752.5,1077.8 L752.8,1075.5 L753.1,1074.0 L753.4,1074.8 L753.7,1077.8 L754.0,1074.2 L754.3,1076.7 L754.6,1076.2 L754.9,1077.7 L755.2,1076.3 L755.5,1075.0 L755.8,1076.4 L756.1,1075.7 L756.4,1077.0 L756.7,1075.6 L757.0,1078.5 L757.3,1075.5 L757.6,1076.3 L757.9,1074.8 L758.2,1075.9 L758.5,1075.8 L758.8,1076.0 L759.1,1077.0 L759.4,1075.0 L759.7,1074.6 L760.0,1077.3 L760.3,1075.4 L760.6,1074.8 L760.9,1077.4 L761.2,1076.9 L761.5,1072.1 L761.8,1075.3 L762.1,1077.0 L762.4,1077.0 L762.7,1075.1 L763.0,1078.1 L763.3,1074.8 L763.6,1075.6 L763.9,1076.1 L764.2,1075.9 L764.5,1077.1 L764.8,1077.4 L765.1,1075.9 L765.4,1078.0 L765.7,1075.0 L766.0,1075.7 L766.3,1078.4 L766.6,1076.2 L766.9,1077.5 L767.2,1075.4 L767.5,1075.7 L767.8,1075.9 L768.1,1076.3 L768.4,1075.6 L768.7,1076.1 L769.0,1077.1 L769.3,1077.8 L769.6,1076.3 L769.9,1077.1 L770.2,1077.5 L770.5,1074.7 L770.8,1074.0 L771.1,1078.5 L771.4,1078.1 L771.7,1076.3 L772.0,1076.7 L772.3,1074.9 L772.6,1074.3 L772.9,1076.7 L773.2,1074.2 L773.5,1077.6 L773.8,1075.3 L774.1,1076.7 L774.4,1079.0 L774.7,1079.0 L775.0,1076.0 L775.3,1077.8 L775.6,1074.9 L775.9,1075.5 L776.2,1076.9 L776.5,1078.3 L776.8,1075.6 L777.1,1077.2 L777.4,1076.6 L777.7,1074.7 L778.0,1076.3 L778.3,1078.6 L778.6,1076.3 L778.9,1077.2 L779.2,1077.6 L779.5,1075.5 L779.8,1078.2 L780.1,1078.6 L780.4,1078.8 L780.7,1078.4 L781.0,1075.9 L781.3,1075.7 L781.6,1075.5 L781.9,1075.3 L782.2,1075.5 L782.5,1078.0 L782.8,1078.6 L783.1,1075.7 L783.4,1077.8 L783.7,1074.9 L784.0,1076.2 L784.3,1075.3 L784.6,1074.4 L784.9,1076.7 L785.2,1076.8 L785.5,1076.1 L785.8,1076.0 L786.1,1075.3 L786.4,1076.5 L786.7,1075.9 L787.0,1077.1 L787.3,1075.1 L787.6,1077.1 L787.9,1077.5 L788.2,1078.5 L788.5,1078.3 L788.8,1077.1 L789.1,1075.9 L789.4,1074.3 L789.7,1076.8 L790.0,1078.8 L790.3,1079.2 L790.6,1073.3 L790.9,1075.8 L791.2,1076.4 L791.5,1075.4 L791.8,1077.1 L792.1,1076.9 L792.4,1076.2 L792.7,1076.9 L793.0,1074.7 L793.3,1075.6 L793.6,1075.7 L793.9,1078.2 L794.2,1074.7 L794.5,1076.7 L794.8,1078.1 L795.1,1076.9 L795.4,1078.1 L795.7,1076.1 L796.0,1077.6 L796.3,1078.3 L796.6,1080.1 L796.9,1078.0 L797.2,1079.0 L797.5,1077.1 L797.8,1077.2 L798.1,1079.3 L798.4,1077.9 L798.7,1079.1 L799.0,1078.1 L799.3,1080.1 L799.6,1080.4 L799.9,1076.0 L800.2,1079.7 L800.5,1077.8 L800.8,1077.8 L801.1,1077.0 L801.4,1078.2 L801.7,1075.7 L802.0,1076.2 L802.3,1076.2 L802.6,1077.6 L802.9,1078.5 L803.2,1078.3 L803.5,1077.8 L803.8,1076.4 L804.1,1074.8 L804.4,1077.8 L804.7,1077.5 L805.0,1077.8 L805.3,1079.3 L805.6,1077.1 L805.9,1077.1 L806.2,1074.1 L806.5,1078.1 L806.8,1077.3 L807.1,1076.3 L807.4,1077.9 L807.7,1075.9 L808.0,1076.6 L808.3,1080.1 L808.6,1078.4 L808.9,1078.7 L809.2,1078.5 L809.5,1078.3 L809.8,1077.7 L810.1,1080.6 L810.4,1077.4 L810.7,1078.5 L811.0,1077.2 L811.3,1077.0 L811.6,1074.1 L811.9,1074.9 L812.2,1079.6 L812.5,1079.6 L812.8,1076.9 L813.1,1077.5 L813.4,1078.4 L813.7,1076.2 L814.0,1080.0 L814.3,1076.1 L814.6,1076.6 L814.9,1073.8 L815.2,1079.7 L815.5,1077.7 L815.8,1079.8 L816.1,1076.2 L816.4,1078.1 L816.7,1077.7 L817.0,1077.9 L817.3,1080.5 L817.6,1080.8 L817.9,1079.6 L818.2,1077.1 L818.5,1078.9 L818.8,1079.5 L819.1,1078.5 L819.4,1078.5 L819.7,1078.4 L820.0,1076.5 L820.3,1078.1 L820.6,1079.9 L820.9,1076.4 L821.2,1077.9 L821.5,1078.9 L821.8,1075.9 L822.1,1077.6 L822.4,1075.5 L822.7,1077.0 L823.0,1075.9 L823.3,1076.6 L823.6,1077.1 L823.9,1077.4 L824.2,1077.6 L824.5,1074.6 L824.8,1080.0 L825.1,1077.5 L825.4,1076.4 L825.7,1077.0 L826.0,1078.3 L826.3,1076.5 L826.6,1077.3 L826.9,1077.3 L827.2,1078.6 L827.5,1076.9 L827.8,1078.5 L828.1,1078.4 L828.4,1077.7 L828.7,1079.6 L829.0,1078.0 L829.3,1076.4 L829.6,1078.4 L829.9,1078.2 L830.2,1077.9 L830.5,1078.3 L830.8,1081.2 L831.1,1078.3 L831.4,1078.6 L831.7,1077.7 L832.0,1079.8 L832.3,1078.0 L832.6,1077.0 L832.9,1076.4 L833.2,1078.8 L833.5,1079.1 L833.8,1075.9 L834.1,1077.1 L834.4,1079.0 L834.7,1079.5 L835.0,1076.3 L835.3,1077.6 L835.6,1079.3 L835.9,1077.4 L836.2,1077.5 L836.5,1077.4 L836.8,1076.4 L837.1,1078.2 L837.4,1078.6 L837.7,1076.3 L838.0,1078.3 L838.3,1079.7 L838.6,1078.5 L838.9,1079.5 L839.2,1077.5 L839.5,1080.1 L839.8,1077.2 L840.1,1080.8 L840.4,1077.6 L840.7,1077.2 L841.0,1077.0 L841.3,1077.6 L841.6,1077.5 L841.9,1077.2 L842.2,1077.7 L842.5,1079.0 L842.8,1079.3 L843.1,1077.6 L843.4,1079.7 L843.7,1076.7 L844.0,1076.6 L844.3,1076.5 L844.6,1078.8 L844.9,1075.9 L845.2,1076.1 L845.5,1079.7 L845.8,1080.2 L846.1,1079.7 L846.4,1075.9 L846.7,1077.9 L847.0,1079.0 L847.3,1078.0 L847.6,1075.6 L847.9,1077.3 L848.2,1075.5 L848.5,1076.1 L848.8,1080.7 L849.1,1078.7 L849.4,1075.7 L849.7,1075.7 L850.0,1078.3 L850.3,1076.8 L850.6,1078.4 L850.9,1076.8 L851.2,1077.3 L851.5,1077.9 L851.8,1076.2 L852.1,1075.0 L852.4,1075.9 L852.7,1076.6 L853.0,1077.2 L853.3,1077.4 L853.6,1077.4 L853.9,1078.1 L854.2,1076.2 L854.5,1079.3 L854.8,1080.1 L855.1,1077.9 L855.4,1077.6 L855.7,1079.0 L856.0,1078.2 L856.3,1077.6 L856.6,1077.1 L856.9,1076.3 L857.2,1075.7 L857.5,1078.1 L857.8,1078.8 L858.1,1075.8 L858.4,1077.1 L858.7,1077.5 L859.0,1076.6 L859.3,1076.1 L859.6,1076.6 L859.9,1074.4 L860.2,1077.0 L860.5,1076.7 L860.8,1079.9 L861.1,1078.3 L861.4,1076.5 L861.7,1077.0 L862.0,1079.3 L862.3,1079.1 L862.6,1077.2 L862.9,1076.7 L863.2,1074.9 L863.5,1076.4 L863.8,1076.6 L864.1,1075.8 L864.4,1079.2 L864.7,1074.2 L865.0,1076.6 L865.3,1077.3 L865.6,1077.3 L865.9,1079.0 L866.2,1074.8 L866.5,1075.7 L866.8,1076.8 L867.1,1076.8 L867.4,1075.9 L867.7,1075.2 L868.0,1077.4 L868.3,1074.0 L868.6,1074.1 L868.9,1076.2 L869.2,1075.9 L869.5,1073.9 L869.8,1070.7 L870.1,1069.9 L870.4,1068.9 L870.7,1067.6 L871.0,1067.3 L871.3,1068.1 L871.6,1064.3 L871.9,1059.9 L872.2,1056.5 L872.5,1052.2 L872.8,1052.4 L873.1,1042.8 L873.4,1043.0 L873.7,1035.9 L874.0,1032.8 L874.3,1028.1 L874.6,1029.2 L874.9,1023.5 L875.2,1025.6 L875.5,1014.6 L875.8,1011.4 L876.1,1012.6 L876.4,1011.0 L876.7,1008.7 L877.0,1005.4 L877.3,1013.7 L877.6,1013.1 L877.9,1014.3 L878.2,1013.8 L878.5,1017.9 L878.8,1017.0 L879.1,1019.7 L879.4,1020.7 L879.7,1024.9 L880.0,1022.9 L880.3,1024.5 L880.6,1028.7 L880.9,1028.3 L881.2,1029.2 L881.5,1030.1 L881.8,1033.7 L882.1,1032.0 L882.4,1035.5 L882.7,1039.7 L883.0,1038.0 L883.3,1037.1 L883.6,1037.5 L883.9,1040.8 L884.2,1038.9 L884.5,1038.4 L884.8,1039.6 L885.1,1038.5 L885.4,1041.3 L885.7,1036.2 L886.0,1040.8 L886.3,1035.7 L886.6,1036.3 L886.9,1036.5 L887.2,1034.7 L887.5,1034.7 L887.8,1030.6 L888.1,1027.3 L888.4,1030.2 L888.7,1026.4 L889.0,1027.3 L889.3,1029.1 L889.6,1025.6 L889.9,1023.6 L890.2,1021.2 L890.5,1021.5 L890.8,1020.4 L891.1,1016.2 L891.4,1018.6 L891.7,1014.5 L892.0,1015.7 L892.3,1013.0 L892.6,1014.6 L892.9,1013.0 L893.2,1010.2 L893.5,1009.1 L893.8,1009.8 L894.1,1011.8 L894.4,1011.8 L894.7,1011.1 L895.0,1012.8 L895.3,1016.9 L895.6,1012.4 L895.9,1018.3 L896.2,1017.3 L896.5,1023.2 L896.8,1021.5 L897.1,1023.9 L897.4,1023.8 L897.7,1027.3 L898.0,1030.1 L898.3,1033.0 L898.6,1029.1 L898.9,1031.6 L899.2,1040.0 L899.5,1036.1 L899.8,1035.5 L900.1,1037.3 L900.4,1033.2 L900.7,1041.0 L901.0,1039.6 L901.3,1038.1 L901.6,1042.9 L901.9,1041.0 L902.2,1041.1 L902.5,1043.8 L902.8,1043.8 L903.1,1042.6 L903.4,1043.0 L903.7,1041.0 L904.0,1040.4 L904.3,1042.9 L904.6,1042.7 L904.9,1040.8 L905.2,1039.8 L905.5,1037.8 L905.8,1036.7 L906.1,1034.3 L906.4,1034.9 L906.7,1030.2 L907.0,1028.1 L907.3,1024.0 L907.6,1018.3 L907.9,1014.6 L908.2,1005.4 L908.5,995.0 L908.8,981.7 L909.1,962.1 L909.4,935.0 L909.7,894.2 L910.0,833.3 L910.3,741.7 L910.6,617.0 L910.9,497.5 L911.1,466.7 L911.5,572.8 L911.8,703.4 L912.1,806.8 L912.4,877.4 L912.7,923.2 L913.0,955.0 L913.3,976.3 L913.6,992.1 L913.9,1002.9 L914.2,1011.5 L914.5,1018.4 L914.8,1022.2 L915.1,1025.5 L915.4,1030.5 L915.7,1032.8 L916.0,1035.6 L916.3,1038.0 L916.6,1038.6 L916.9,1041.3 L917.2,1040.7 L917.5,1041.2 L917.8,1042.0 L918.1,1041.3 L918.4,1039.7 L918.7,1039.2 L919.0,1037.0 L919.3,1036.2 L919.6,1036.1 L919.9,1036.1 L920.2,1033.1 L920.5,1033.9 L920.8,1034.6 L921.1,1033.9 L921.4,1029.5 L921.7,1030.2 L922.0,1028.5 L922.3,1027.9 L922.6,1027.0 L922.9,1025.5 L923.2,1025.1 L923.5,1023.0 L923.8,1021.2 L924.1,1021.3 L924.4,1021.1 L924.7,1022.1 L925.0,1020.3 L925.3,1021.1 L925.6,1022.6 L925.9,1018.6 L926.2,1020.2 L926.5,1022.1 L926.8,1021.6 L927.1,1020.0 L927.4,1024.2 L927.7,1022.6 L928.0,1021.3 L928.3,1027.2 L928.6,1021.7 L928.9,1024.6 L929.2,1023.9 L929.5,1026.0 L929.8,1027.6 L930.1,1025.7 L930.4,1027.8 L930.7,1028.5 L931.0,1027.7 L931.3,1032.4 L931.6,1031.3 L931.9,1031.2 L932.2,1031.3 L932.5,1032.6 L932.8,1034.2 L933.1,1033.9 L933.4,1037.8 L933.7,1031.7 L934.0,1033.2 L934.3,1037.5 L934.6,1035.5 L934.9,1039.6 L935.2,1039.4 L935.5,1042.5 L935.8,1043.1 L936.1,1045.6 L936.4,1045.8 L936.7,1047.2 L937.0,1046.9 L937.3,1048.7 L937.6,1048.6 L937.9,1047.7 L938.2,1047.5 L938.5,1048.4 L938.8,1052.1 L939.1,1048.1 L939.4,1053.0 L939.7,1052.0 L940.0,1054.9 L940.3,1054.5 L940.6,1053.3 L940.9,1054.8 L941.2,1051.5 L941.5,1055.9 L941.8,1056.6 L942.1,1053.2 L942.4,1057.8 L942.7,1056.6 L943.0,1057.4 L943.3,1055.2 L943.6,1058.7 L943.9,1059.0 L944.2,1058.4 L944.5,1057.2 L944.8,1060.2 L945.1,1061.3 L945.4,1060.3 L945.7,1061.5 L946.0,1059.3 L946.3,1060.6 L946.6,1061.2 L946.9,1061.0 L947.2,1065.3 L947.5,1061.7 L947.8,1060.3 L948.1,1062.6 L948.4,1059.8 L948.7,1062.2 L949.0,1062.9 L949.3,1061.1 L949.6,1061.5 L949.9,1060.7 L950.2,1062.5 L950.5,1061.4 L950.8,1065.2 L951.1,1063.7 L951.4,1062.5 L951.7,1060.8 L952.0,1066.2 L952.3,1065.2 L952.6,1064.1 L952.9,1063.8 L953.2,1063.9 L953.5,1063.0 L953.8,1066.7 L954.1,1064.2 L954.4,1061.8 L954.7,1063.0 L955.0,1060.2 L955.3,1065.1 L955.6,1065.3 L955.9,1066.8 L956.2,1067.3 L956.5,1063.0 L956.8,1064.9 L957.1,1065.7 L957.4,1065.4 L957.7,1063.5 L958.0,1065.5 L958.3,1065.1 L958.6,1066.4 L958.9,1064.3 L959.2,1064.0 L959.5,1063.6 L959.8,1063.8 L960.1,1063.3 L960.4,1063.9 L960.7,1065.2 L961.0,1065.2 L961.3,1066.5 L961.6,1066.2 L961.9,1065.5 L962.2,1062.8 L962.5,1065.4 L962.8,1066.4 L963.1,1062.7 L963.4,1063.0 L963.7,1063.2 L964.0,1063.1 L964.3,1064.3 L964.6,1063.3 L964.9,1065.3 L965.2,1062.9 L965.5,1064.6 L965.8,1064.1 L966.1,1063.4 L966.4,1066.4 L966.7,1064.9 L967.0,1065.7 L967.3,1064.4 L967.6,1066.0 L967.9,1065.9 L968.2,1064.7 L968.5,1062.3 L968.8,1066.2 L969.1,1066.0 L969.4,1065.3 L969.7,1065.4 L970.0,1065.3 L970.3,1065.4 L970.6,1063.6 L970.9,1065.1 L971.2,1065.6 L971.5,1064.3 L971.8,1063.8 L972.1,1068.0 L972.4,1066.1 L972.7,1064.8 L973.0,1064.6 L973.3,1061.4 L973.6,1063.2 L973.9,1065.0 L974.2,1067.3 L974.5,1062.3 L974.8,1064.4 L975.1,1068.2 L975.4,1066.4 L975.7,1066.1 L976.0,1067.2 L976.3,1065.3 L976.6,1065.3 L976.9,1066.6 L977.2,1066.8 L977.5,1064.0 L977.8,1067.8 L978.1,1063.0 L978.4,1064.6 L978.7,1070.2 L979.0,1064.9 L979.3,1066.6 L979.6,1064.1 L979.9,1065.0 L980.2,1064.3 L980.5,1064.6 L980.8,1065.9 L981.1,1067.3 L981.4,1065.7 L981.7,1066.5 L982.0,1063.1 L982.3,1065.8 L982.6,1064.1 L982.9,1065.1 L983.2,1062.1 L983.5,1062.1 L983.8,1064.2 L984.1,1062.8 L984.4,1061.8 L984.7,1060.3 L985.0,1060.9 L985.3,1061.5 L985.6,1061.6 L985.9,1059.3 L986.2,1059.4 L986.5,1060.2 L986.8,1057.6 L987.1,1060.4 L987.4,1058.6 L987.7,1058.1 L988.0,1054.3 L988.3,1055.2 L988.6,1055.8 L988.9,1056.2 L989.2,1055.0 L989.5,1057.0 L989.8,1056.3 L990.1,1055.4 L990.4,1052.3 L990.7,1057.5 L991.0,1054.6 L991.3,1055.9 L991.6,1053.9 L991.9,1055.1 L992.2,1056.4 L992.5,1055.9 L992.8,1057.4 L993.1,1055.9 L993.4,1059.7 L993.7,1054.0 L994.0,1056.4 L994.3,1059.1 L994.6,1057.5 L994.9,1057.6 L995.2,1055.9 L995.5,1060.8 L995.8,1056.4 L996.1,1060.4 L996.4,1060.3 L996.7,1061.7 L997.0,1062.9 L997.3,1060.1 L997.6,1060.3 L997.9,1061.4 L998.2,1059.8 L998.5,1063.9 L998.8,1062.6 L999.1,1063.8 L999.4,1062.3 L999.7,1064.4 L1000.0,1063.9 L1000.3,1065.1 L1000.6,1064.0 L1000.9,1067.5 L1001.2,1065.5 L1001.5,1063.2 L1001.8,1068.1 L1002.1,1067.2 L1002.4,1066.7 L1002.7,1071.7 L1003.0,1068.4 L1003.3,1066.8 L1003.6,1067.9 L1003.9,1069.3 L1004.2,1068.4 L1004.5,1070.4 L1004.8,1070.1 L1005.1,1067.6 L1005.4,1068.7 L1005.7,1069.5 L1006.0,1068.0 L1006.3,1067.9 L1006.6,1069.7 L1006.9,1069.1 L1007.2,1066.6 L1007.5,1067.7 L1007.8,1067.9 L1008.1,1068.2 L1008.4,1067.4 L1008.7,1070.1 L1009.0,1067.0 L1009.3,1066.8 L1009.6,1068.5 L1009.9,1065.2 L1010.2,1066.8 L1010.5,1069.0 L1010.8,1066.3 L1011.1,1066.9 L1011.4,1069.5 L1011.7,1068.6 L1012.0,1068.0 L1012.3,1068.2 L1012.6,1067.0 L1012.9,1068.3 L1013.2,1067.5 L1013.5,1071.1 L1013.8,1068.4 L1014.1,1067.2 L1014.4,1067.6 L1014.7,1067.7 L1015.0,1065.7 L1015.3,1066.4 L1015.6,1069.5 L1015.9,1065.6 L1016.2,1066.6 L1016.5,1068.7 L1016.8,1069.3 L1017.1,1065.9 L1017.4,1069.1 L1017.7,1066.7 L1018.0,1069.2 L1018.3,1067.7 L1018.6,1066.6 L1018.9,1067.9 L1019.2,1067.6 L1019.5,1065.8 L1019.8,1069.5 L1020.1,1066.3 L1020.4,1068.1 L1020.7,1066.0 L1021.0,1064.2 L1021.3,1065.1 L1021.6,1066.4 L1021.9,1067.5 L1022.2,1068.9 L1022.5,1066.8 L1022.8,1066.4 L1023.1,1065.3 L1023.4,1066.8 L1023.7,1067.3 L1024.0,1064.2 L1024.3,1068.6 L1024.6,1068.4 L1024.9,1069.9 L1025.2,1066.0 L1025.5,1067.2 L1025.8,1067.2 L1026.1,1065.6 L1026.4,1066.2 L1026.7,1066.1 L1027.0,1067.9 L1027.3,1067.8 L1027.6,1068.9 L1027.9,1066.9 L1028.2,1065.7 L1028.5,1067.9 L1028.8,1067.8 L1029.1,1068.1 L1029.4,1068.8 L1029.7,1066.7 L1030.0,1068.2 L1030.3,1066.2 L1030.6,1067.4 L1030.9,1068.0 L1031.2,1067.1 L1031.5,1067.4 L1031.8,1065.6 L1032.1,1066.4 L1032.4,1067.2 L1032.7,1065.7 L1033.0,1065.9 L1033.3,1069.3 L1033.6,1066.9 L1033.9,1065.7 L1034.2,1065.3 L1034.5,1067.6 L1034.8,1063.2 L1035.1,1065.5 L1035.4,1066.2 L1035.7,1064.8 L1036.0,1065.7 L1036.3,1063.9 L1036.6,1064.7 L1036.9,1064.4 L1037.2,1064.1 L1037.5,1064.0 L1037.8,1063.5 L1038.1,1064.2 L1038.4,1062.6 L1038.7,1061.9 L1039.0,1061.8 L1039.3,1061.4 L1039.6,1059.9 L1039.9,1059.1 L1040.2,1059.1 L1040.5,1059.9 L1040.8,1058.6 L1041.1,1058.2 L1041.4,1060.0 L1041.7,1058.0 L1042.0,1056.2 L1042.3,1055.2 L1042.6,1055.7 L1042.9,1053.3 L1043.2,1053.7 L1043.5,1052.2 L1043.8,1051.6 L1044.1,1049.1 L1044.4,1048.8 L1044.7,1045.8 L1045.0,1045.3 L1045.3,1044.3 L1045.6,1042.3 L1045.9,1039.1 L1046.2,1038.3 L1046.5,1036.0 L1046.8,1033.3 L1047.1,1030.4 L1047.4,1027.8 L1047.7,1024.7 L1048.0,1022.0 L1048.3,1018.2 L1048.6,1014.6 L1048.9,1010.2 L1049.2,1005.0 L1049.5,1000.6 L1049.8,995.9 L1050.1,989.2 L1050.4,983.4 L1050.7,976.5 L1051.0,969.3 L1051.3,962.0 L1051.6,954.1 L1051.9,945.7 L1052.2,936.9 L1052.5,928.1 L1052.8,918.7 L1053.1,910.4 L1053.4,902.0 L1053.7,894.2 L1054.0,887.5 L1054.3,882.0 L1054.6,878.4 L1054.9,875.9 L1055.2,875.5 L1055.5,877.3 L1055.8,880.5 L1056.1,885.5 L1056.4,892.1 L1056.7,899.2 L1057.0,907.4 L1057.3,916.4 L1057.6,924.6 L1057.9,933.9 L1058.2,942.9 L1058.5,951.4 L1058.8,959.8 L1059.1,966.8 L1059.4,974.4 L1059.7,981.0 L1060.0,987.2 L1060.3,993.0 L1060.6,998.2 L1060.9,1003.8 L1061.2,1008.6 L1061.5,1012.2 L1061.8,1016.7 L1062.1,1019.8 L1062.4,1022.8 L1062.7,1025.1 L1063.0,1029.4 L1063.3,1031.6 L1063.6,1033.3 L1063.9,1035.2 L1064.2,1036.3 L1064.5,1038.7 L1064.8,1039.6 L1065.1,1040.9 L1065.4,1041.4 L1065.7,1041.1 L1066.0,1041.5 L1066.3,1042.9 L1066.6,1041.9 L1066.9,1043.1 L1067.2,1043.5 L1067.5,1042.4 L1067.8,1043.7 L1068.1,1043.6 L1068.4,1044.2 L1068.7,1044.0 L1069.0,1045.0 L1069.3,1046.1 L1069.6,1047.8 L1069.9,1048.3 L1070.2,1049.4 L1070.5,1049.6 L1070.8,1052.0 L1071.1,1052.7 L1071.4,1054.6 L1071.7,1056.3 L1072.0,1058.2 L1072.3,1059.3 L1072.6,1060.2 L1072.9,1061.2 L1073.2,1063.4 L1073.5,1062.5 L1073.8,1064.1 L1074.1,1066.0 L1074.4,1065.3 L1074.7,1066.8 L1075.0,1067.3 L1075.3,1068.8 L1075.6,1068.4 L1075.9,1066.0 L1076.2,1067.9 L1076.5,1068.4 L1076.8,1069.2 L1077.1,1068.9 L1077.4,1070.6 L1077.7,1070.0 L1078.0,1067.8 L1078.3,1068.5 L1078.6,1067.2 L1078.9,1071.2 L1079.2,1069.4 L1079.5,1069.5 L1079.8,1068.0 L1080.1,1069.3 L1080.4,1070.3 L1080.7,1069.5 L1081.0,1069.6 L1081.3,1069.4 L1081.6,1072.3 L1081.9,1069.6 L1082.2,1068.7 L1082.5,1069.8 L1082.8,1070.0 L1083.1,1070.3 L1083.4,1070.2 L1083.7,1069.3 L1084.0,1070.3 L1084.3,1071.0 L1084.6,1069.0 L1084.9,1072.9 L1085.2,1072.6 L1085.5,1068.6 L1085.8,1070.3 L1086.1,1071.9 L1086.4,1072.3 L1086.7,1072.8 L1087.0,1068.6 L1087.3,1069.5 L1087.6,1070.1 L1087.9,1071.3 L1088.2,1069.4 L1088.5,1071.1 L1088.8,1071.1 L1089.1,1071.4 L1089.4,1069.0 L1089.7,1070.6 L1090.0,1070.4 L1090.3,1069.8 L1090.6,1071.8 L1090.9,1069.8 L1091.2,1071.8 L1091.5,1069.3 L1091.8,1072.0 L1092.1,1071.8 L1092.4,1068.8 L1092.7,1070.1 L1093.0,1070.0 L1093.3,1068.4 L1093.6,1070.4 L1093.9,1070.1 L1094.2,1068.3 L1094.5,1069.3 L1094.8,1070.1 L1095.1,1068.8 L1095.4,1068.0 L1095.7,1070.7 L1096.0,1067.5 L1096.3,1068.9 L1096.6,1069.7 L1096.9,1069.2 L1097.2,1066.0 L1097.5,1067.6 L1097.8,1067.7 L1098.1,1067.5 L1098.4,1068.3 L1098.7,1068.1 L1099.0,1067.4 L1099.3,1067.4 L1099.6,1068.1 L1099.9,1068.2 L1100.2,1064.4 L1100.5,1068.9 L1100.8,1065.5 L1101.1,1066.8 L1101.4,1063.9 L1101.7,1064.9 L1102.0,1063.9 L1102.3,1066.4 L1102.6,1066.0 L1102.9,1064.8 L1103.2,1064.4 L1103.5,1064.8 L1103.8,1063.2 L1104.1,1063.3 L1104.4,1062.9 L1104.7,1064.3 L1105.0,1063.1 L1105.3,1061.5 L1105.6,1062.8 L1105.9,1062.6 L1106.2,1063.0 L1106.5,1060.6 L1106.8,1061.0 L1107.1,1062.0 L1107.4,1059.1 L1107.7,1058.4 L1108.0,1058.5 L1108.3,1056.7 L1108.6,1056.3 L1108.9,1054.8 L1109.2,1053.4 L1109.5,1053.5 L1109.8,1051.1 L1110.1,1049.0 L1110.4,1047.7 L1110.7,1045.7 L1111.0,1043.6 L1111.3,1041.2 L1111.6,1038.5 L1111.9,1033.1 L1112.2,1029.3 L1112.5,1023.3 L1112.8,1018.1 L1113.1,1010.7 L1113.4,1001.1 L1113.7,989.7 L1114.0,975.4 L1114.3,957.0 L1114.6,933.7 L1114.9,901.9 L1115.2,857.5 L1115.5,795.8 L1115.8,704.8 L1116.1,567.5 L1116.4,355.3 L1116.7,300.0 L1117.0,300.0 L1117.4,300.0 L1117.6,300.0 L1117.9,300.0 L1118.2,300.0 L1118.5,437.0 L1118.8,620.3 L1119.1,739.5 L1119.4,819.2 L1119.7,874.5 L1120.0,914.1 L1120.3,942.6 L1120.6,964.8 L1120.9,982.3 L1121.2,994.5 L1121.5,1005.9 L1121.8,1014.5 L1122.1,1021.9 L1122.4,1026.7 L1122.7,1032.6 L1123.0,1035.8 L1123.3,1041.0 L1123.6,1042.8 L1123.9,1046.3 L1124.2,1047.9 L1124.5,1050.6 L1124.8,1051.2 L1125.1,1054.2 L1125.4,1055.9 L1125.7,1056.8 L1126.0,1059.3 L1126.3,1059.3 L1126.6,1060.7 L1126.9,1061.3 L1127.2,1063.4 L1127.5,1061.8 L1127.8,1062.9 L1128.1,1063.5 L1128.4,1065.0 L1128.7,1065.1 L1129.0,1066.2 L1129.3,1066.2 L1129.6,1065.8 L1129.9,1066.6 L1130.2,1067.6 L1130.5,1065.0 L1130.8,1069.3 L1131.1,1067.5 L1131.4,1068.0 L1131.7,1069.0 L1132.0,1068.7 L1132.3,1067.6 L1132.6,1069.2 L1132.9,1071.3 L1133.2,1071.1 L1133.5,1071.6 L1133.8,1069.7 L1134.1,1070.3 L1134.4,1072.0 L1134.7,1072.7 L1135.0,1071.1 L1135.3,1070.1 L1135.6,1069.1 L1135.9,1073.3 L1136.2,1069.9 L1136.5,1072.4 L1136.8,1073.1 L1137.1,1076.1 L1137.4,1072.5 L1137.7,1072.2 L1138.0,1073.1 L1138.3,1073.2 L1138.6,1074.3 L1138.9,1073.6 L1139.2,1071.8 L1139.5,1070.1 L1139.8,1073.0 L1140.1,1071.7 L1140.4,1074.2 L1140.7,1070.7 L1141.0,1072.5 L1141.3,1071.2 L1141.6,1070.9 L1141.9,1074.1 L1142.2,1072.0 L1142.5,1071.5 L1142.8,1072.5 L1143.1,1070.4 L1143.4,1070.8 L1143.7,1070.4 L1144.0,1073.7 L1144.3,1071.4 L1144.6,1071.7 L1144.9,1072.2 L1145.2,1070.4 L1145.5,1070.3 L1145.8,1068.2 L1146.1,1071.1 L1146.4,1070.9 L1146.7,1070.1 L1147.0,1072.5 L1147.3,1068.7 L1147.6,1072.0 L1147.9,1069.8 L1148.2,1070.5 L1148.5,1072.0 L1148.8,1074.4 L1149.1,1071.3 L1149.4,1071.8 L1149.7,1071.8 L1150.0,1076.4 L1150.3,1074.7 L1150.6,1074.9 L1150.9,1077.4 L1151.2,1075.2 L1151.5,1072.4 L1151.8,1074.8 L1152.1,1074.2 L1152.4,1078.7 L1152.7,1074.4 L1153.0,1076.9 L1153.3,1075.9 L1153.6,1076.2 L1153.9,1076.9 L1154.2,1076.7 L1154.5,1076.1 L1154.8,1075.4 L1155.1,1076.3 L1155.4,1075.8 L1155.7,1076.0 L1156.0,1077.4 L1156.3,1077.2 L1156.6,1078.0 L1156.9,1077.2 L1157.2,1080.0 L1157.5,1076.7 L1157.8,1076.4 L1158.1,1079.1 L1158.4,1076.9 L1158.7,1078.0 L1159.0,1079.2 L1159.3,1077.8 L1159.6,1077.6 L1159.9,1079.3 L1160.2,1078.6 L1160.5,1077.5 L1160.8,1076.7 L1161.1,1077.8 L1161.4,1076.2 L1161.7,1077.3 L1162.0,1077.1 L1162.3,1078.9 L1162.6,1079.6 L1162.9,1077.8 L1163.2,1078.2 L1163.5,1077.4 L1163.8,1077.1 L1164.1,1078.3 L1164.4,1079.7 L1164.7,1079.6 L1165.0,1079.8 L1165.3,1078.8 L1165.6,1075.7 L1165.9,1080.4 L1166.2,1081.0 L1166.5,1080.5 L1166.8,1080.6 L1167.1,1080.9 L1167.4,1083.0 L1167.7,1080.0 L1168.0,1081.6 L1168.3,1080.7 L1168.6,1080.6 L1168.9,1079.6 L1169.2,1079.3 L1169.5,1078.3 L1169.8,1080.6 L1170.1,1079.4 L1170.4,1078.3 L1170.7,1078.9 L1171.0,1078.4 L1171.3,1082.0 L1171.6,1079.6 L1171.9,1080.1 L1172.2,1078.4 L1172.5,1078.7 L1172.8,1081.3 L1173.1,1079.7 L1173.4,1080.3 L1173.7,1082.4 L1174.0,1082.8 L1174.3,1081.0 L1174.6,1080.7 L1174.9,1080.4 L1175.2,1079.8 L1175.5,1082.8 L1175.8,1078.6 L1176.1,1080.1 L1176.4,1077.7 L1176.7,1078.6 L1177.0,1080.8 L1177.3,1080.9 L1177.6,1080.7 L1177.9,1079.9 L1178.2,1079.4 L1178.5,1079.6 L1178.8,1079.9 L1179.1,1081.8 L1179.4,1082.3 L1179.7,1081.0 L1180.0,1079.7 L1180.3,1079.2 L1180.6,1080.8 L1180.9,1080.2 L1181.2,1078.1 L1181.5,1082.3 L1181.8,1080.5 L1182.1,1080.1 L1182.4,1079.4 L1182.7,1079.4 L1183.0,1081.7 L1183.3,1079.4 L1183.6,1080.7 L1183.9,1081.4 L1184.2,1083.0 L1184.5,1081.4 L1184.8,1080.6 L1185.1,1080.1 L1185.4,1081.8 L1185.7,1082.0 L1186.0,1080.2 L1186.3,1081.5 L1186.6,1080.6 L1186.9,1078.7 L1187.2,1079.5 L1187.5,1081.8 L1187.8,1082.7 L1188.1,1081.7 L1188.4,1080.6 L1188.7,1079.9 L1189.0,1081.6 L1189.3,1081.3 L1189.6,1078.8 L1189.9,1081.8 L1190.2,1080.0 L1190.5,1081.8 L1190.8,1081.7 L1191.1,1081.9 L1191.4,1082.4 L1191.7,1081.9 L1192.0,1079.7 L1192.3,1079.7 L1192.6,1082.4 L1192.9,1081.7 L1193.2,1079.1 L1193.5,1078.5 L1193.8,1082.3 L1194.1,1084.0 L1194.4,1082.2 L1194.7,1080.9 L1195.0,1081.5 L1195.3,1077.7 L1195.6,1079.9 L1195.9,1082.5 L1196.2,1082.3 L1196.5,1078.5 L1196.8,1082.8 L1197.1,1082.0 L1197.4,1082.5 L1197.7,1081.1 L1198.0,1081.3 L1198.3,1080.0 L1198.6,1081.8 L1198.9,1082.5 L1199.2,1080.2 L1199.5,1081.9 L1199.8,1080.7 L1200.1,1082.8 L1200.4,1082.7 L1200.7,1078.4 L1201.0,1082.1 L1201.3,1082.8 L1201.6,1080.8 L1201.9,1081.2 L1202.2,1081.3 L1202.5,1080.1 L1202.8,1081.4 L1203.1,1083.6 L1203.4,1082.2 L1203.7,1083.6 L1204.0,1082.9 L1204.3,1083.2 L1204.6,1081.8 L1204.9,1082.7 L1205.2,1084.3 L1205.5,1083.6 L1205.8,1082.1 L1206.1,1080.9 L1206.4,1080.6 L1206.7,1082.1 L1207.0,1082.4 L1207.3,1079.5 L1207.6,1082.2 L1207.9,1082.4 L1208.2,1082.3 L1208.5,1081.3 L1208.8,1084.9 L1209.1,1083.1 L1209.4,1080.3 L1209.7,1081.2 L1210.0,1083.1 L1210.3,1082.8 L1210.6,1082.3 L1210.9,1082.1 L1211.2,1081.9 L1211.5,1081.6 L1211.8,1080.9 L1212.1,1083.0 L1212.4,1078.8 L1212.7,1081.4 L1213.0,1083.9 L1213.3,1081.4 L1213.6,1080.9 L1213.9,1084.8 L1214.2,1083.7 L1214.5,1082.3 L1214.8,1081.7 L1215.1,1082.2 L1215.4,1082.1 L1215.7,1082.2 L1216.0,1081.6 L1216.3,1083.3 L1216.6,1081.9 L1216.9,1080.4 L1217.2,1081.0 L1217.5,1082.7 L1217.8,1081.4 L1218.1,1079.6 L1218.4,1084.6 L1218.7,1083.4 L1219.0,1082.2 L1219.3,1082.2 L1219.6,1083.5 L1219.9,1084.6 L1220.2,1082.1 L1220.5,1083.4 L1220.8,1082.2 L1221.1,1083.4 L1221.4,1081.6 L1221.7,1080.7 L1222.0,1083.1 L1222.3,1083.0 L1222.6,1084.0 L1222.9,1082.3 L1223.2,1084.9 L1223.5,1083.3 L1223.8,1085.1 L1224.1,1082.8 L1224.4,1085.1 L1224.7,1083.2 L1225.0,1083.5 L1225.3,1084.5 L1225.6,1081.1 L1225.9,1082.0 L1226.2,1085.7 L1226.5,1081.5 L1226.8,1082.8 L1227.1,1084.1 L1227.4,1085.3 L1227.7,1082.9 L1228.0,1083.7 L1228.3,1082.2 L1228.6,1083.1 L1228.9,1084.9 L1229.2,1084.1 L1229.5,1083.6 L1229.8,1084.2 L1230.1,1083.9 L1230.4,1083.9 L1230.7,1083.3 L1231.0,1082.5 L1231.3,1084.6 L1231.6,1082.4 L1231.9,1085.1 L1232.2,1086.4 L1232.5,1085.7 L1232.8,1086.7 L1233.1,1082.6 L1233.4,1084.2 L1233.7,1082.9 L1234.0,1083.0 L1234.3,1081.8 L1234.6,1082.4 L1234.9,1085.0 L1235.2,1084.8 L1235.5,1085.4 L1235.8,1085.3 L1236.1,1084.8 L1236.4,1082.7 L1236.7,1083.3 L1237.0,1084.0 L1237.3,1084.2 L1237.6,1081.6 L1237.9,1080.5 L1238.2,1079.3 L1238.5,1079.7 L1238.8,1076.5 L1239.1,1073.2 L1239.4,1069.9 L1239.7,1067.5 L1240.0,1062.5 L1240.3,1059.8 L1240.6,1056.2 L1240.9,1053.1 L1241.2,1051.0 L1241.5,1049.4 L1241.9,1049.8 L1242.1,1048.6 L1242.4,1050.0 L1242.7,1051.3 L1243.0,1053.6 L1243.3,1058.4 L1243.6,1062.6 L1243.9,1064.3 L1244.2,1068.4 L1244.5,1072.6 L1244.8,1074.7 L1245.1,1074.8 L1245.4,1080.0 L1245.7,1080.5 L1246.0,1082.6 L1246.3,1081.6 L1246.6,1084.4 L1246.9,1085.0 L1247.2,1083.2 L1247.5,1084.9 L1247.8,1083.6 L1248.1,1083.9 L1248.4,1083.4 L1248.7,1084.1 L1249.0,1083.8 L1249.3,1086.1 L1249.6,1084.4 L1249.9,1083.3 L1250.2,1086.3 L1250.5,1085.4 L1250.8,1085.9 L1251.1,1084.6 L1251.4,1085.6 L1251.7,1084.6 L1252.0,1083.6 L1252.3,1084.9 L1252.6,1085.0 L1252.9,1085.0 L1253.2,1085.8 L1253.5,1082.7 L1253.8,1085.2 L1254.1,1083.9 L1254.4,1084.5 L1254.7,1085.4 L1255.0,1084.9 L1255.3,1084.1 L1255.6,1085.8 L1255.9,1084.8 L1256.2,1086.0 L1256.5,1086.4 L1256.8,1084.5 L1257.1,1083.6 L1257.4,1085.0 L1257.7,1085.9 L1258.0,1085.3 L1258.3,1083.5 L1258.6,1082.8 L1258.9,1083.8 L1259.2,1083.8 L1259.5,1085.7 L1259.8,1085.0 L1260.1,1086.0 L1260.4,1084.8 L1260.7,1086.9 L1261.0,1084.9 L1261.3,1085.6 L1261.6,1084.4 L1261.9,1085.5 L1262.2,1086.2 L1262.5,1085.9 L1262.8,1086.5 L1263.1,1084.2 L1263.4,1085.5 L1263.7,1087.0 L1264.0,1085.2 L1264.3,1084.7 L1264.6,1084.7 L1264.9,1084.3 L1265.2,1085.1 L1265.5,1086.6 L1265.8,1085.5 L1266.1,1084.9 L1266.4,1084.0 L1266.7,1083.6 L1267.0,1087.8 L1267.3,1084.4 L1267.6,1085.1 L1267.9,1084.3 L1268.2,1085.1 L1268.5,1084.4 L1268.8,1085.1 L1269.1,1086.7 L1269.4,1084.0 L1269.7,1085.6 L1270.0,1084.8 L1270.3,1085.8 L1270.6,1084.1 L1270.9,1085.4 L1271.2,1083.7 L1271.5,1082.7 L1271.8,1083.3 L1272.1,1083.8 L1272.4,1083.5 L1272.7,1084.5 L1273.0,1086.2 L1273.3,1083.5 L1273.6,1085.4 L1273.9,1085.1 L1274.2,1084.0 L1274.5,1083.8 L1274.8,1085.4 L1275.1,1085.4 L1275.4,1084.5 L1275.7,1084.7 L1276.0,1084.9 L1276.3,1083.3 L1276.6,1085.0 L1276.9,1085.2 L1277.2,1087.0 L1277.5,1083.3 L1277.8,1083.8 L1278.1,1085.0 L1278.4,1084.2 L1278.7,1084.4 L1279.0,1084.9 L1279.3,1084.5 L1279.6,1084.8 L1279.9,1085.4 L1280.2,1082.9 L1280.5,1085.5 L1280.8,1082.2 L1281.1,1086.9 L1281.4,1086.0 L1281.7,1084.2 L1282.0,1086.1 L1282.3,1084.7 L1282.6,1085.4 L1282.9,1085.8 L1283.2,1085.3 L1283.5,1084.9 L1283.8,1085.6 L1284.1,1084.7 L1284.4,1084.4 L1284.7,1083.8 L1285.0,1082.7 L1285.3,1086.8 L1285.6,1085.8 L1285.9,1083.2 L1286.2,1085.4 L1286.5,1085.1 L1286.8,1082.3 L1287.1,1083.9 L1287.4,1084.8 L1287.7,1086.9 L1288.0,1086.2 L1288.3,1086.4 L1288.6,1085.3 L1288.9,1086.1 L1289.2,1083.5 L1289.5,1085.6 L1289.8,1085.8 L1290.1,1083.4 L1290.4,1085.2 L1290.7,1086.7 L1291.0,1087.2 L1291.3,1086.6 L1291.6,1084.1 L1291.9,1084.8 L1292.2,1084.3 L1292.5,1086.4 L1292.8,1083.9 L1293.1,1083.7 L1293.4,1083.0 L1293.7,1085.2 L1294.0,1085.4 L1294.3,1084.2 L1294.6,1084.0 L1294.9,1084.7 L1295.2,1086.5 L1295.5,1083.3 L1295.8,1084.9 L1296.1,1085.2 L1296.4,1085.4 L1296.7,1086.4 L1297.0,1085.9 L1297.3,1085.3 L1297.6,1086.7 L1297.9,1086.3 L1298.2,1085.3 L1298.5,1085.2 L1298.8,1083.5 L1299.1,1085.1 L1299.4,1084.0 L1299.7,1083.6 L1300.0,1084.6 L1300.3,1082.9 L1300.6,1083.9 L1300.9,1084.3 L1301.2,1085.3 L1301.5,1084.6 L1301.8,1085.4 L1302.1,1086.8 L1302.4,1085.9 L1302.7,1083.5 L1303.0,1082.8 L1303.3,1083.8 L1303.6,1083.8 L1303.9,1082.4 L1304.2,1082.7 L1304.5,1082.7 L1304.8,1083.9 L1305.1,1086.3 L1305.4,1086.6 L1305.7,1083.3 L1306.0,1083.9 L1306.3,1082.8 L1306.6,1082.4 L1306.9,1084.2 L1307.2,1084.3 L1307.5,1083.5 L1307.8,1084.9 L1308.1,1083.8 L1308.4,1085.4 L1308.7,1083.5 L1309.0,1085.0 L1309.3,1083.7 L1309.6,1084.1 L1309.9,1084.6 L1310.2,1082.3 L1310.5,1082.9 L1310.8,1083.7 L1311.1,1083.4 L1311.4,1084.0 L1311.7,1082.7 L1312.0,1082.0 L1312.3,1083.4 L1312.6,1083.9 L1312.9,1082.5 L1313.2,1084.9 L1313.5,1084.3 L1313.8,1084.4 L1314.1,1084.3 L1314.4,1082.3 L1314.7,1085.9 L1315.0,1082.4 L1315.3,1083.7 L1315.6,1084.1 L1315.9,1083.6 L1316.2,1083.4 L1316.5,1082.1 L1316.8,1082.6 L1317.1,1083.1 L1317.4,1084.6 L1317.7,1082.2 L1318.0,1083.8 L1318.3,1083.5 L1318.6,1083.0 L1318.9,1082.2 L1319.2,1082.7 L1319.5,1080.7 L1319.8,1082.9 L1320.1,1083.1 L1320.4,1082.1 L1320.7,1083.3 L1321.0,1083.0 L1321.3,1081.7 L1321.6,1083.6 L1321.9,1081.9 L1322.2,1085.5 L1322.5,1081.2 L1322.8,1081.4 L1323.1,1081.6 L1323.4,1082.7 L1323.7,1083.8 L1324.0,1082.4 L1324.3,1081.7 L1324.6,1084.6 L1324.9,1083.4 L1325.2,1081.8 L1325.5,1082.0 L1325.8,1080.2 L1326.1,1082.1 L1326.4,1084.2 L1326.7,1080.7 L1327.0,1080.4 L1327.3,1082.3 L1327.6,1079.2 L1327.9,1083.9 L1328.2,1080.4 L1328.5,1081.4 L1328.8,1082.1 L1329.1,1083.8 L1329.4,1082.8 L1329.7,1080.0 L1330.0,1080.3 L1330.3,1082.7 L1330.6,1079.9 L1330.9,1082.1 L1331.2,1081.5 L1331.5,1083.5 L1331.8,1084.0 L1332.1,1079.5 L1332.4,1083.1 L1332.7,1083.4 L1333.0,1081.7 L1333.3,1081.9 L1333.6,1081.2 L1333.9,1082.3 L1334.2,1083.2 L1334.5,1084.4 L1334.8,1084.6 L1335.1,1082.5 L1335.4,1081.9 L1335.7,1084.1 L1336.0,1079.6 L1336.3,1081.3 L1336.6,1083.8 L1336.9,1085.7 L1337.2,1082.1 L1337.5,1083.2 L1337.8,1081.8 L1338.1,1083.1 L1338.4,1083.1 L1338.7,1082.3 L1339.0,1083.7 L1339.3,1083.1 L1339.6,1083.9 L1339.9,1083.1 L1340.2,1081.9 L1340.5,1083.6 L1340.8,1084.5 L1341.1,1082.5 L1341.4,1085.1 L1341.7,1084.1 L1342.0,1083.1 L1342.3,1083.7 L1342.6,1083.1 L1342.9,1082.6 L1343.2,1084.8 L1343.5,1084.8 L1343.8,1083.2 L1344.1,1083.6 L1344.4,1083.6 L1344.7,1084.7 L1345.0,1085.7 L1345.3,1083.2 L1345.6,1084.3 L1345.9,1084.0 L1346.2,1084.7 L1346.5,1085.8 L1346.8,1083.1 L1347.1,1081.7 L1347.4,1084.0 L1347.7,1082.3 L1348.0,1086.2 L1348.3,1083.4 L1348.6,1084.0 L1348.9,1084.6 L1349.2,1084.6 L1349.5,1083.9 L1349.8,1084.4 L1350.1,1085.6 L1350.4,1084.1 L1350.7,1086.7 L1351.0,1085.0 L1351.3,1081.8 L1351.6,1085.7 L1351.9,1082.5 L1352.2,1085.1 L1352.5,1087.4 L1352.8,1086.0 L1353.1,1083.4 L1353.4,1083.8 L1353.7,1084.8 L1354.0,1086.6 L1354.3,1084.0 L1354.6,1086.2 L1354.9,1085.3 L1355.2,1084.8 L1355.5,1084.8 L1355.8,1087.0 L1356.1,1083.3 L1356.4,1083.7 L1356.7,1086.2 L1357.0,1086.3 L1357.3,1083.6 L1357.6,1084.1 L1357.9,1083.9 L1358.2,1085.9 L1358.5,1084.5 L1358.8,1087.0 L1359.1,1086.3 L1359.4,1085.7 L1359.7,1085.6 L1360.0,1086.1 L1360.3,1086.5 L1360.6,1085.5 L1360.9,1085.8 L1361.2,1086.5 L1361.5,1085.5 L1361.8,1086.8 L1362.1,1085.5 L1362.4,1084.8 L1362.7,1085.9 L1363.0,1087.7 L1363.3,1087.5 L1363.6,1083.9 L1363.9,1086.2 L1364.2,1085.3 L1364.5,1085.5 L1364.8,1085.5 L1365.1,1085.7 L1365.4,1085.3 L1365.7,1085.7 L1366.0,1086.3 L1366.3,1084.6 L1366.6,1084.6 L1366.9,1084.8 L1367.2,1084.8 L1367.5,1086.8 L1367.8,1084.9 L1368.1,1086.1 L1368.4,1086.3 L1368.7,1087.1 L1369.0,1086.3 L1369.3,1087.6 L1369.6,1086.3 L1369.9,1086.7 L1370.2,1087.3 L1370.5,1084.7 L1370.8,1086.9 L1371.1,1088.1 L1371.4,1086.5 L1371.7,1086.1 L1372.0,1088.6 L1372.3,1086.5 L1372.6,1087.8 L1372.9,1083.6 L1373.2,1086.4 L1373.5,1085.7 L1373.8,1086.7 L1374.1,1087.7 L1374.4,1086.1 L1374.7,1086.0 L1375.0,1083.0 L1375.3,1087.2 L1375.6,1087.8 L1375.9,1086.4 L1376.2,1085.7 L1376.5,1086.6 L1376.8,1087.4 L1377.1,1086.9 L1377.4,1088.6 L1377.7,1085.5 L1378.0,1084.6 L1378.3,1086.7 L1378.6,1087.6 L1378.9,1085.6 L1379.2,1086.1 L1379.5,1085.3 L1379.8,1084.6 L1380.1,1085.2 L1380.4,1083.6 L1380.7,1086.4 L1381.0,1086.6 L1381.3,1087.0 L1381.6,1085.0 L1381.9,1085.2 L1382.2,1084.0 L1382.5,1084.3 L1382.8,1087.0 L1383.1,1089.2 L1383.4,1084.7 L1383.7,1085.5 L1384.0,1087.0 L1384.3,1085.1 L1384.6,1086.6 L1384.9,1085.5 L1385.2,1085.5 L1385.5,1086.9 L1385.8,1085.5 L1386.1,1084.3 L1386.4,1086.8 L1386.7,1085.8 L1387.0,1085.1 L1387.3,1084.8 L1387.6,1086.4 L1387.9,1084.9 L1388.2,1085.9 L1388.5,1086.9 L1388.8,1085.6 L1389.1,1087.0 L1389.4,1084.1 L1389.7,1086.4 L1390.0,1086.3 L1390.3,1087.8 L1390.6,1085.7 L1390.9,1086.7 L1391.2,1085.4 L1391.5,1084.4 L1391.8,1084.6 L1392.1,1084.8 L1392.4,1086.5 L1392.7,1084.7 L1393.0,1085.6 L1393.3,1086.6 L1393.6,1087.0 L1393.9,1086.6 L1394.2,1087.3 L1394.5,1084.2 L1394.8,1084.9 L1395.1,1085.8 L1395.4,1086.7 L1395.7,1085.9 L1396.0,1084.4 L1396.3,1084.9 L1396.6,1083.0 L1396.9,1085.7 L1397.2,1082.4 L1397.5,1084.5 L1397.8,1085.3 L1398.1,1084.9 L1398.4,1081.6 L1398.7,1083.6 L1399.0,1082.7 L1399.3,1082.5 L1399.6,1084.6 L1399.9,1082.7 L1400.2,1080.4 L1400.5,1080.6 L1400.8,1082.6 L1401.1,1081.7 L1401.4,1079.8 L1401.7,1078.8 L1402.0,1080.0 L1402.3,1079.8 L1402.6,1081.1 L1402.9,1078.8 L1403.2,1079.8 L1403.5,1079.8 L1403.8,1075.3 L1404.1,1075.8 L1404.4,1077.8 L1404.7,1074.2 L1405.0,1073.9 L1405.3,1074.4 L1405.6,1071.0 L1405.9,1070.6 L1406.2,1067.9 L1406.5,1070.0 L1406.8,1067.3 L1407.1,1066.2 L1407.4,1061.5 L1407.7,1065.2 L1408.0,1063.2 L1408.3,1059.2 L1408.6,1060.7 L1408.9,1053.1 L1409.2,1055.2 L1409.5,1050.9 L1409.8,1056.6 L1410.1,1046.1 L1410.4,1047.1 L1410.7,1046.7 L1411.0,1048.4 L1411.3,1047.7 L1411.6,1046.2 L1411.9,1044.4 L1412.2,1047.9 L1412.5,1042.2 L1412.8,1043.5 L1413.1,1045.5 L1413.4,1039.9 L1413.7,1040.6 L1414.0,1044.2 L1414.3,1043.6 L1414.6,1041.1 L1414.9,1044.2 L1415.2,1048.3 L1415.5,1045.3 L1415.8,1047.9 L1416.1,1047.6 L1416.4,1047.0 L1416.7,1051.7 L1417.0,1051.4 L1417.3,1052.5 L1417.6,1051.0 L1417.9,1052.1 L1418.2,1053.0 L1418.5,1054.1 L1418.8,1053.5 L1419.1,1054.0 L1419.4,1057.6 L1419.7,1054.4 L1420.0,1056.2 L1420.3,1057.0 L1420.6,1057.5 L1420.9,1057.1 L1421.2,1058.5 L1421.5,1061.7 L1421.8,1060.6 L1422.1,1060.7 L1422.4,1065.1 L1422.7,1061.2 L1423.0,1065.5 L1423.3,1065.2 L1423.6,1063.2 L1423.9,1065.1 L1424.2,1065.4 L1424.5,1068.0 L1424.8,1067.4 L1425.1,1065.4 L1425.4,1063.8 L1425.7,1062.7 L1426.0,1064.7 L1426.3,1062.5 L1426.6,1064.0 L1426.9,1063.7 L1427.2,1064.2 L1427.5,1064.9 L1427.8,1063.3 L1428.1,1063.6 L1428.4,1062.3 L1428.7,1064.0 L1429.0,1063.5 L1429.3,1064.5 L1429.6,1063.9 L1429.9,1060.5 L1430.2,1059.2 L1430.5,1062.2 L1430.8,1062.8 L1431.1,1059.8 L1431.4,1063.0 L1431.7,1060.7 L1432.0,1060.2 L1432.3,1060.8 L1432.6,1058.1 L1432.9,1057.8 L1433.2,1060.0 L1433.5,1058.9 L1433.8,1061.0 L1434.1,1061.4 L1434.4,1057.8 L1434.7,1060.9 L1435.0,1063.3 L1435.3,1059.3 L1435.6,1062.7 L1435.9,1061.5 L1436.2,1060.9 L1436.5,1065.9 L1436.8,1066.1 L1437.1,1064.1 L1437.4,1064.2 L1437.7,1067.3 L1438.0,1067.3 L1438.3,1065.8 L1438.6,1067.3 L1438.9,1066.4 L1439.2,1066.0 L1439.5,1067.4 L1439.8,1065.8 L1440.1,1067.0 L1440.4,1065.3 L1440.7,1064.4 L1441.0,1063.4 L1441.3,1064.2 L1441.6,1064.1 L1441.9,1062.4 L1442.2,1059.6 L1442.5,1061.0 L1442.8,1057.8 L1443.1,1056.5 L1443.4,1057.1 L1443.7,1057.9 L1444.0,1056.8 L1444.3,1055.7 L1444.6,1056.1 L1444.9,1054.3 L1445.2,1051.3 L1445.5,1052.3 L1445.8,1049.6 L1446.1,1049.7 L1446.4,1049.1 L1446.7,1047.0 L1447.0,1043.6 L1447.3,1045.0 L1447.6,1043.8 L1447.9,1043.3 L1448.2,1042.1 L1448.5,1040.4 L1448.8,1039.4 L1449.1,1043.6 L1449.4,1044.2 L1449.7,1044.1 L1450.0,1044.1 L1450.3,1048.3 L1450.6,1046.8 L1450.9,1046.5 L1451.2,1048.6 L1451.5,1047.9 L1451.8,1050.0 L1452.1,1050.0 L1452.4,1051.3 L1452.7,1051.3 L1453.0,1051.3 L1453.3,1053.9 L1453.6,1055.8 L1453.9,1053.6 L1454.2,1055.2 L1454.5,1055.4 L1454.8,1059.6 L1455.1,1058.9 L1455.4,1061.7 L1455.7,1060.1 L1456.0,1063.6 L1456.3,1062.5 L1456.6,1063.7 L1456.9,1066.1 L1457.2,1065.6 L1457.5,1066.0 L1457.8,1068.9 L1458.1,1068.3 L1458.4,1070.8 L1458.7,1073.3 L1459.0,1069.6 L1459.3,1070.6 L1459.6,1069.6 L1459.9,1070.8 L1460.2,1073.9 L1460.5,1074.1 L1460.8,1074.6 L1461.1,1075.3 L1461.4,1073.9 L1461.7,1073.1 L1462.0,1077.1 L1462.3,1076.2 L1462.6,1077.6 L1462.9,1076.3 L1463.2,1077.6 L1463.5,1076.1 L1463.8,1077.0 L1464.1,1077.0 L1464.4,1077.9 L1464.7,1079.4 L1465.0,1078.5 L1465.3,1074.0 L1465.6,1077.6 L1465.9,1077.7 L1466.2,1078.5 L1466.5,1077.3 L1466.8,1075.5 L1467.1,1074.3 L1467.4,1073.1 L1467.7,1070.0 L1468.0,1068.0 L1468.3,1061.8 L1468.6,1054.4 L1468.9,1046.4 L1469.2,1037.2 L1469.5,1025.8 L1469.8,1015.7 L1470.1,1006.6 L1470.4,999.4 L1470.7,995.6 L1470.9,994.7 L1471.3,998.2 L1471.6,1004.2 L1471.9,1012.8 L1472.2,1022.1 L1472.5,1033.3 L1472.8,1042.3 L1473.1,1051.6 L1473.4,1060.1 L1473.7,1066.1 L1474.0,1070.6 L1474.3,1074.9 L1474.6,1075.9 L1474.9,1075.8 L1475.2,1076.7 L1475.5,1076.4 L1475.8,1078.0 L1476.1,1076.9 L1476.4,1077.1 L1476.7,1076.7 L1477.0,1075.8 L1477.3,1081.3 L1477.6,1079.3 L1477.9,1075.5 L1478.2,1078.9 L1478.5,1077.7 L1478.8,1075.7 L1479.1,1078.3 L1479.4,1078.9 L1479.7,1079.5 L1480.0,1080.2 L1480.3,1077.8 L1480.6,1078.9 L1480.9,1079.9 L1481.2,1079.8 L1481.5,1079.7 L1481.8,1079.5 L1482.1,1081.0 L1482.4,1077.9 L1482.7,1077.7 L1483.0,1081.9 L1483.3,1080.3 L1483.6,1081.3 L1483.9,1080.2 L1484.2,1079.6 L1484.5,1079.5 L1484.8,1080.4 L1485.1,1079.7 L1485.4,1080.3 L1485.7,1080.4 L1486.0,1081.6 L1486.3,1081.6 L1486.6,1082.7 L1486.9,1079.9 L1487.2,1080.9 L1487.5,1082.2 L1487.8,1081.5 L1488.1,1078.2 L1488.4,1081.7 L1488.7,1081.3 L1489.0,1080.9 L1489.3,1081.0 L1489.6,1080.7 L1489.9,1083.1 L1490.2,1082.6 L1490.5,1082.1 L1490.8,1083.3 L1491.1,1083.2 L1491.4,1081.1 L1491.7,1081.0 L1492.0,1081.1 L1492.3,1083.3 L1492.6,1082.4 L1492.9,1083.8 L1493.2,1082.9 L1493.5,1082.0 L1493.8,1080.5 L1494.1,1081.6 L1494.4,1084.5 L1494.7,1080.8 L1495.0,1080.5 L1495.3,1081.1 L1495.6,1082.9 L1495.9,1081.0 L1496.2,1079.6 L1496.5,1080.0 L1496.8,1080.5 L1497.1,1080.6 L1497.4,1081.6 L1497.7,1083.3 L1498.0,1081.8 L1498.3,1080.7 L1498.6,1079.7 L1498.9,1078.6 L1499.2,1080.2 L1499.5,1080.9 L1499.8,1080.1 L1500.1,1078.7 L1500.4,1079.4 L1500.7,1077.9 L1501.0,1077.7 L1501.3,1077.2 L1501.6,1077.3 L1501.9,1076.7 L1502.2,1077.8 L1502.5,1076.1 L1502.8,1075.6 L1503.1,1076.8 L1503.4,1075.9 L1503.7,1076.2 L1504.0,1073.3 L1504.3,1075.7 L1504.6,1073.5 L1504.9,1071.6 L1505.2,1072.4 L1505.5,1070.4 L1505.8,1070.2 L1506.1,1070.5 L1506.4,1071.9 L1506.7,1068.1 L1507.0,1069.9 L1507.3,1068.5 L1507.6,1070.6 L1507.9,1068.1 L1508.2,1068.2 L1508.5,1068.8 L1508.8,1064.6 L1509.1,1065.2 L1509.4,1063.0 L1509.7,1063.4 L1510.0,1064.7 L1510.3,1063.6 L1510.6,1064.0 L1510.9,1062.5 L1511.2,1061.7 L1511.5,1062.2 L1511.8,1060.7 L1512.1,1060.1 L1512.4,1059.0 L1512.7,1060.9 L1513.0,1061.5 L1513.3,1058.9 L1513.6,1060.0 L1513.9,1057.3 L1514.2,1059.3 L1514.5,1061.6 L1514.8,1060.0 L1515.1,1063.1 L1515.4,1062.4 L1515.7,1064.1 L1516.0,1063.3 L1516.3,1062.5 L1516.6,1065.1 L1516.9,1066.7 L1517.2,1065.3 L1517.5,1067.1 L1517.8,1066.0 L1518.1,1066.9 L1518.4,1069.6 L1518.7,1068.2 L1519.0,1067.3 L1519.3,1069.8 L1519.6,1069.5 L1519.9,1069.1 L1520.2,1071.1 L1520.5,1066.4 L1520.8,1071.3 L1521.1,1073.0 L1521.4,1070.5 L1521.7,1067.0 L1522.0,1070.9 L1522.3,1071.9 L1522.6,1068.5 L1522.9,1065.5 L1523.2,1065.4 L1523.5,1065.5 L1523.8,1065.2 L1524.1,1066.0 L1524.4,1064.4 L1524.7,1059.6 L1525.0,1061.7 L1525.3,1061.2 L1525.6,1063.5 L1525.9,1059.0 L1526.2,1056.8 L1526.5,1057.5 L1526.8,1057.3 L1527.1,1053.0 L1527.4,1056.5 L1527.7,1053.5 L1528.0,1053.9 L1528.3,1052.6 L1528.6,1051.2 L1528.9,1051.6 L1529.2,1050.9 L1529.5,1046.4 L1529.8,1045.9 L1530.1,1046.6 L1530.4,1044.1 L1530.7,1041.7 L1531.0,1041.8 L1531.3,1039.1 L1531.6,1038.7 L1531.9,1032.6 L1532.2,1038.1 L1532.5,1040.4 L1532.8,1037.7 L1533.1,1037.1 L1533.4,1035.6 L1533.7,1033.3 L1534.0,1035.0 L1534.3,1033.6 L1534.6,1032.7 L1534.9,1032.8 L1535.2,1030.7 L1535.5,1031.4 L1535.8,1031.8 L1536.1,1031.9 L1536.4,1029.7 L1536.7,1030.4 L1537.0,1028.6 L1537.3,1023.6 L1537.6,1023.8 L1537.9,1026.7 L1538.2,1025.0 L1538.5,1028.3 L1538.8,1025.2 L1539.1,1027.5 L1539.4,1027.9 L1539.7,1028.2 L1540.0,1029.2 L1540.3,1031.0 L1540.6,1031.9 L1540.9,1031.5 L1541.2,1033.5 L1541.5,1034.9 L1541.8,1034.3 L1542.1,1034.1 L1542.4,1034.9 L1542.7,1036.0 L1543.0,1036.6 L1543.3,1038.5 L1543.6,1043.8 L1543.9,1041.9 L1544.2,1040.8 L1544.5,1042.7 L1544.8,1043.6 L1545.1,1045.7 L1545.4,1046.9 L1545.7,1043.8 L1546.0,1050.2 L1546.3,1045.9 L1546.6,1048.5 L1546.9,1047.9 L1547.2,1047.5 L1547.5,1048.3 L1547.8,1055.4 L1548.1,1055.5 L1548.4,1052.4 L1548.7,1053.1 L1549.0,1058.0 L1549.3,1054.9 L1549.6,1057.8 L1549.9,1060.9 L1550.2,1059.5 L1550.5,1061.2 L1550.8,1059.8 L1551.1,1057.4 L1551.4,1059.3 L1551.7,1058.4 L1552.0,1062.2 L1552.3,1060.3 L1552.6,1063.0 L1552.9,1062.6 L1553.2,1062.9 L1553.5,1065.1 L1553.8,1063.9 L1554.1,1063.6 L1554.4,1066.3 L1554.7,1064.7 L1555.0,1062.4 L1555.3,1066.0 L1555.6,1061.9 L1555.9,1064.1 L1556.2,1064.3 L1556.5,1062.8 L1556.8,1061.7 L1557.1,1062.2 L1557.4,1061.8 L1557.7,1060.4 L1558.0,1063.1 L1558.3,1060.6 L1558.6,1060.2 L1558.9,1063.1 L1559.2,1059.6 L1559.5,1058.1 L1559.8,1060.0 L1560.1,1059.8 L1560.4,1059.6 L1560.7,1062.4 L1561.0,1058.0 L1561.3,1060.6 L1561.6,1059.6 L1561.9,1060.2 L1562.2,1057.4 L1562.5,1056.8 L1562.8,1056.6 L1563.1,1057.1 L1563.4,1057.8 L1563.7,1058.6 L1564.0,1052.8 L1564.3,1057.0 L1564.6,1055.6 L1564.9,1054.7 L1565.2,1052.7 L1565.5,1054.6 L1565.8,1050.8 L1566.1,1055.4 L1566.4,1051.6 L1566.7,1052.7 L1567.0,1052.4 L1567.3,1053.4 L1567.6,1050.1 L1567.9,1053.4 L1568.2,1052.5 L1568.5,1054.2 L1568.8,1052.0 L1569.1,1051.1 L1569.4,1047.9 L1569.7,1050.3 L1570.0,1053.4 L1570.3,1049.8 L1570.6,1049.6 L1570.9,1050.0 L1571.2,1051.6 L1571.5,1047.2 L1571.8,1052.8 L1572.1,1050.3 L1572.4,1049.6 L1572.7,1047.0 L1573.0,1047.4 L1573.3,1040.9 L1573.6,1037.9 L1573.9,1031.7 L1574.2,1024.4 L1574.5,1019.0 L1574.8,1013.7 L1575.1,1008.5 L1575.4,1005.7 L1575.6,1005.6 L1576.0,1007.4 L1576.3,1011.6 L1576.6,1018.2 L1576.9,1024.1 L1577.2,1031.9 L1577.5,1038.2 L1577.8,1044.0 L1578.1,1047.8 L1578.4,1049.1 L1578.7,1052.2 L1579.0,1051.3 L1579.3,1054.8 L1579.6,1054.4 L1579.9,1058.4 L1580.2,1056.6 L1580.5,1059.7 L1580.8,1060.2 L1581.1,1064.5 L1581.4,1066.7 L1581.7,1066.6 L1582.0,1073.0 L1582.3,1073.0 L1582.6,1072.3 L1582.9,1074.7 L1583.2,1074.7 L1583.5,1075.5 L1583.8,1078.5 L1584.1,1076.6 L1584.4,1080.1 L1584.7,1077.9 L1585.0,1079.8 L1585.3,1082.8 L1585.6,1080.5 L1585.9,1081.1 L1586.2,1082.8 L1586.5,1080.9 L1586.8,1082.0 L1587.1,1080.4 L1587.4,1080.9 L1587.7,1081.5 L1588.0,1081.3 L1588.3,1080.3 L1588.6,1081.5 L1588.9,1081.9 L1589.2,1081.9 L1589.5,1081.1 L1589.8,1079.9 L1590.1,1081.9 L1590.4,1082.0 L1590.7,1079.7 L1591.0,1078.0 L1591.3,1080.6 L1591.6,1082.1 L1591.9,1081.9 L1592.2,1079.3 L1592.5,1082.4 L1592.8,1079.6 L1593.1,1081.8 L1593.4,1080.1 L1593.7,1081.8 L1594.0,1081.2 L1594.3,1080.2 L1594.6,1081.4 L1594.9,1079.7"/>
<path stroke="#9800ff" d="M309.4,979.4 L309.7,981.2 L310.0,988.4 L310.3,984.4 L310.6,975.4 L310.9,981.8 L311.2,979.3 L311.5,982.3 L311.8,975.4 L312.1,982.6 L312.4,982.5 L312.7,987.7 L313.0,982.8 L313.3,983.5 L313.6,975.7 L313.9,990.2 L314.2,974.0 L314.5,985.7 L314.8,980.1 L315.1,977.9 L315.4,978.7 L315.7,978.7 L316.0,982.7 L316.3,980.8 L316.6,986.9 L316.9,974.0 L317.2,981.1 L317.5,977.6 L317.8,984.0 L318.1,972.8 L318.4,979.6 L318.7,981.7 L319.0,975.2 L319.3,984.7 L319.6,981.5 L319.9,984.7 L320.2,984.5 L320.5,977.0 L320.8,977.6 L321.1,979.9 L321.4,983.5 L321.7,983.9 L322.0,977.8 L322.3,978.2 L322.6,977.4 L322.9,978.2 L323.2,979.5 L323.5,979.9 L323.8,988.2 L324.1,978.4 L324.4,979.2 L324.7,982.0 L325.0,976.6 L325.3,978.8 L325.6,980.2 L325.9,983.1 L326.2,975.1 L326.5,985.3 L326.8,978.7 L327.1,980.7 L327.4,983.2 L327.7,982.5 L328.0,983.9 L328.3,980.5 L328.6,979.8 L328.9,981.0 L329.2,976.0 L329.5,984.4 L329.8,976.8 L330.1,974.9 L330.4,987.4 L330.7,979.1 L331.0,975.1 L331.3,986.6 L331.6,978.3 L331.9,983.5 L332.2,976.3 L332.5,978.5 L332.8,973.0 L333.1,972.2 L333.4,975.6 L333.7,979.0 L334.0,982.3 L334.3,988.4 L334.6,975.3 L334.9,983.0 L335.2,976.9 L335.5,978.5 L335.8,973.5 L336.1,973.5 L336.4,976.1 L336.7,974.6 L337.0,979.0 L337.3,976.4 L337.6,983.8 L337.9,979.7 L338.2,979.9 L338.5,983.5 L338.8,981.3 L339.1,979.3 L339.4,979.1 L339.7,979.1 L340.0,983.6 L340.3,982.6 L340.6,981.1 L340.9,982.7 L341.2,977.8 L341.5,981.8 L341.8,974.7 L342.1,985.0 L342.4,980.4 L342.7,980.8 L343.0,982.4 L343.3,980.2 L343.6,979.4 L343.9,984.8 L344.2,980.9 L344.5,977.2 L344.8,982.2 L345.1,974.4 L345.4,986.8 L345.7,980.1 L346.0,981.0 L346.3,989.1 L346.6,988.8 L346.9,981.4 L347.2,983.3 L347.5,985.1 L347.8,987.3 L348.1,980.8 L348.4,981.8 L348.7,985.8 L349.0,982.4 L349.3,984.2 L349.6,983.8 L349.9,977.5 L350.2,978.6 L350.5,972.2 L350.8,980.9 L351.1,986.7 L351.4,977.9 L351.7,986.4 L352.0,985.6 L352.3,981.9 L352.6,982.1 L352.9,982.5 L353.2,979.2 L353.5,981.3 L353.8,982.2 L354.1,984.7 L354.4,985.4 L354.7,979.9 L355.0,985.6 L355.3,979.9 L355.6,982.2 L355.9,984.2 L356.2,982.8 L356.5,982.5 L356.8,984.0 L357.1,981.1 L357.4,980.8 L357.7,982.5 L358.0,986.7 L358.3,983.0 L358.6,990.1 L358.9,984.2 L359.2,973.0 L359.5,982.0 L359.8,989.5 L360.1,983.7 L360.4,982.2 L360.7,980.7 L361.0,988.5 L361.3,987.5 L361.6,986.4 L361.9,985.6 L362.2,989.2 L362.5,987.1 L362.8,979.9 L363.1,987.0 L363.4,985.0 L363.7,984.0 L364.0,987.2 L364.3,984.7 L364.6,974.4 L364.9,990.1 L365.2,988.4 L365.5,984.4 L365.8,983.6 L366.1,985.7 L366.4,980.5 L366.7,986.1 L367.0,984.3 L367.3,984.0 L367.6,982.0 L367.9,982.9 L368.2,989.2 L368.5,990.0 L368.8,987.2 L369.1,985.4 L369.4,982.6 L369.7,988.2 L370.0,991.3 L370.3,980.2 L370.6,989.9 L370.9,978.5 L371.2,984.8 L371.5,987.4 L371.8,981.4 L372.1,981.0 L372.4,986.9 L372.7,989.3 L373.0,984.7 L373.3,991.0 L373.6,983.8 L373.9,992.5 L374.2,987.0 L374.5,987.5 L374.8,988.8 L375.1,987.9 L375.4,993.1 L375.7,994.4 L376.0,988.8 L376.3,986.5 L376.6,983.1 L376.9,984.6 L377.2,987.3 L377.5,986.9 L377.8,987.2 L378.1,987.4 L378.4,989.1 L378.7,983.0 L379.0,984.1 L379.3,991.4 L379.6,990.5 L379.9,986.0 L380.2,992.2 L380.5,985.6 L380.8,987.1 L381.1,981.9 L381.4,990.9 L381.7,988.1 L382.0,991.8 L382.3,990.6 L382.6,988.7 L382.9,989.0 L383.2,992.5 L383.5,988.0 L383.8,988.1 L384.1,988.9 L384.4,991.4 L384.7,991.9 L385.0,995.3 L385.3,988.7 L385.6,993.2 L385.9,986.9 L386.2,991.2 L386.5,989.7 L386.8,995.1 L387.1,991.4 L387.4,988.0 L387.7,991.4 L388.0,990.7 L388.3,988.6 L388.6,988.8 L388.9,986.7 L389.2,998.9 L389.5,990.4 L389.8,993.2 L390.1,986.2 L390.4,986.5 L390.7,989.7 L391.0,989.7 L391.3,992.9 L391.6,987.1 L391.9,992.2 L392.2,995.4 L392.5,987.6 L392.8,993.6 L393.1,987.5 L393.4,991.9 L393.7,992.0 L394.0,996.5 L394.3,988.7 L394.6,991.5 L394.9,994.4 L395.2,987.3 L395.5,991.1 L395.8,988.4 L396.1,989.0 L396.4,993.6 L396.7,993.7 L397.0,999.8 L397.3,996.0 L397.6,995.8 L397.9,991.1 L398.2,990.8 L398.5,992.2 L398.8,984.5 L399.1,997.3 L399.4,989.9 L399.7,988.7 L400.0,990.7 L400.3,995.0 L400.6,996.3 L400.9,991.1 L401.2,993.8 L401.5,992.3 L401.8,989.4 L402.1,993.2 L402.4,992.8 L402.7,987.9 L403.0,996.4 L403.3,987.9 L403.6,993.7 L403.9,989.7 L404.2,990.5 L404.5,991.0 L404.8,995.5 L405.1,989.4 L405.4,992.8 L405.7,998.4 L406.0,991.4 L406.3,993.5 L406.6,995.8 L406.9,991.9 L407.2,995.4 L407.5,991.8 L407.8,996.2 L408.1,994.3 L408.4,991.2 L408.7,998.6 L409.0,994.0 L409.3,993.5 L409.6,991.5 L409.9,993.0 L410.2,994.3 L410.5,995.2 L410.8,998.2 L411.1,990.7 L411.4,993.8 L411.7,998.7 L412.0,995.6 L412.3,996.4 L412.6,1000.1 L412.9,996.3 L413.2,996.8 L413.5,995.3 L413.8,1001.0 L414.1,998.8 L414.4,993.4 L414.7,997.4 L415.0,992.2 L415.3,999.2 L415.6,998.0 L415.9,995.5 L416.2,994.8 L416.5,990.6 L416.8,998.5 L417.1,995.9 L417.4,995.4 L417.7,998.6 L418.0,994.4 L418.3,994.8 L418.6,994.5 L418.9,992.5 L419.2,1004.2 L419.5,996.2 L419.8,995.8 L420.1,999.7 L420.4,987.4 L420.7,997.0 L421.0,997.2 L421.3,994.3 L421.6,998.7 L421.9,991.2 L422.2,997.5 L422.5,1000.2 L422.8,990.8 L423.1,993.1 L423.4,997.1 L423.7,997.5 L424.0,995.6 L424.3,998.6 L424.6,998.3 L424.9,993.5 L425.2,997.3 L425.5,993.7 L425.8,991.3 L426.1,990.3 L426.4,1000.7 L426.7,997.3 L427.0,1003.6 L427.3,993.3 L427.6,996.7 L427.9,998.8 L428.2,997.4 L428.5,999.4 L428.8,998.3 L429.1,996.1 L429.4,991.0 L429.7,995.2 L430.0,1003.2 L430.3,1000.4 L430.6,1002.3 L430.9,996.5 L431.2,997.7 L431.5,995.7 L431.8,999.6 L432.1,998.6 L432.4,999.8 L432.7,1003.8 L433.0,996.1 L433.3,1000.8 L433.6,994.5 L433.9,1002.0 L434.2,997.5 L434.5,998.6 L434.8,999.3 L435.1,1003.8 L435.4,998.8 L435.7,997.5 L436.0,995.5 L436.3,999.9 L436.6,996.6 L436.9,997.6 L437.2,999.1 L437.5,1001.2 L437.8,997.1 L438.1,1001.3 L438.4,1004.5 L438.7,995.0 L439.0,1003.4 L439.3,1005.8 L439.6,997.7 L439.9,1001.3 L440.2,995.5 L440.5,1000.6 L440.8,998.7 L441.1,1000.6 L441.4,997.0 L441.7,997.4 L442.0,998.5 L442.3,997.7 L442.6,998.0 L442.9,999.3 L443.2,996.7 L443.5,999.5 L443.8,1001.4 L444.1,993.3 L444.4,1000.6 L444.7,997.9 L445.0,996.9 L445.3,996.2 L445.6,997.7 L445.9,998.0 L446.2,1001.2 L446.5,996.6 L446.8,1003.3 L447.1,998.0 L447.4,1002.4 L447.7,1003.6 L448.0,996.9 L448.3,1003.6 L448.6,1006.9 L448.9,999.4 L449.2,1002.4 L449.5,1000.4 L449.8,1001.1 L450.1,1000.3 L450.4,999.5 L450.7,1003.1 L451.0,1003.6 L451.3,1001.1 L451.6,1005.5 L451.9,1004.3 L452.2,1003.3 L452.5,999.2 L452.8,1006.8 L453.1,1005.2 L453.4,995.3 L453.7,998.3 L454.0,1000.1 L454.3,1004.2 L454.6,1005.1 L454.9,1000.8 L455.2,1002.3 L455.5,1003.7 L455.8,998.1 L456.1,1003.4 L456.4,1000.9 L456.7,1002.3 L457.0,1001.7 L457.3,998.5 L457.6,999.1 L457.9,1002.1 L458.2,1002.3 L458.5,1001.3 L458.8,1005.0 L459.1,1001.1 L459.4,998.7 L459.7,1001.2 L460.0,1001.7 L460.3,1001.8 L460.6,1005.5 L460.9,1003.7 L461.2,1005.2 L461.5,1004.1 L461.8,1001.9 L462.1,1005.3 L462.4,1001.7 L462.7,1003.1 L463.0,999.6 L463.3,1002.8 L463.6,1001.6 L463.9,1003.6 L464.2,1007.6 L464.5,1009.2 L464.8,1005.5 L465.1,1002.6 L465.4,1005.0 L465.7,1003.3 L466.0,1001.0 L466.3,1002.6 L466.6,1002.1 L466.9,1001.1 L467.2,1006.6 L467.5,1001.3 L467.8,1001.5 L468.1,1004.8 L468.4,1001.0 L468.7,999.7 L469.0,1000.6 L469.3,1004.3 L469.6,1004.0 L469.9,1003.8 L470.2,1001.7 L470.5,1000.5 L470.8,1005.5 L471.1,999.1 L471.4,1002.4 L471.7,999.4 L472.0,1001.9 L472.3,1002.6 L472.6,1006.3 L472.9,995.3 L473.2,1006.7 L473.5,1000.6 L473.8,1003.8 L474.1,1005.1 L474.4,1000.9 L474.7,1002.7 L475.0,1004.2 L475.3,1002.5 L475.6,1000.9 L475.9,1003.2 L476.2,1002.9 L476.5,998.7 L476.8,1005.9 L477.1,1002.9 L477.4,996.1 L477.7,1000.0 L478.0,1006.1 L478.3,1005.5 L478.6,1002.0 L478.9,997.0 L479.2,1000.1 L479.5,1002.7 L479.8,1000.6 L480.1,998.3 L480.4,996.7 L480.7,999.2 L481.0,995.9 L481.3,995.7 L481.6,994.4 L481.9,994.6 L482.2,989.9 L482.5,987.6 L482.8,982.1 L483.1,984.1 L483.4,981.9 L483.8,979.8 L484.0,977.0 L484.3,980.6 L484.6,983.5 L484.9,989.1 L485.2,989.3 L485.5,992.1 L485.8,994.3 L486.1,997.2 L486.4,993.9 L486.7,995.7 L487.0,996.1 L487.3,998.9 L487.6,999.5 L487.9,1001.2 L488.2,999.2 L488.5,1002.2 L488.8,1000.4 L489.1,1007.9 L489.4,1001.9 L489.7,1009.7 L490.0,1007.7 L490.3,1001.0 L490.6,1006.6 L490.9,1005.9 L491.2,1000.7 L491.5,1006.2 L491.8,1004.6 L492.1,1005.9 L492.4,1002.9 L492.7,1005.1 L493.0,1006.4 L493.3,1005.0 L493.6,1004.0 L493.9,1005.2 L494.2,1003.2 L494.5,1006.7 L494.8,999.3 L495.1,1009.9 L495.4,1006.2 L495.7,1007.4 L496.0,1008.4 L496.3,1003.1 L496.6,1012.3 L496.9,1003.5 L497.2,1007.7 L497.5,1007.4 L497.8,1010.0 L498.1,1006.6 L498.4,1003.0 L498.7,1007.6 L499.0,1000.4 L499.3,1006.4 L499.6,1005.7 L499.9,1011.1 L500.2,1006.3 L500.5,1005.9 L500.8,1005.2 L501.1,1005.0 L501.4,1005.8 L501.7,1008.8 L502.0,1003.9 L502.3,1006.8 L502.6,1003.6 L502.9,1007.0 L503.2,1007.9 L503.5,1004.3 L503.8,1006.1 L504.1,1007.9 L504.4,1009.7 L504.7,1010.2 L505.0,1007.5 L505.3,1005.2 L505.6,1003.6 L505.9,1009.9 L506.2,1011.6 L506.5,1008.9 L506.8,1012.1 L507.1,1006.9 L507.4,1007.1 L507.7,1012.2 L508.0,1005.6 L508.3,1009.8 L508.6,1009.3 L508.9,1008.7 L509.2,1012.9 L509.5,1006.1 L509.8,1007.4 L510.1,1003.1 L510.4,1005.8 L510.7,1007.3 L511.0,1007.6 L511.3,1008.2 L511.6,1009.5 L511.9,1007.1 L512.2,1003.7 L512.5,1009.3 L512.8,1010.0 L513.1,1006.0 L513.4,1007.0 L513.7,1013.6 L514.0,1011.8 L514.3,1012.0 L514.6,1010.9 L514.9,1009.6 L515.2,1008.0 L515.5,1010.8 L515.8,1008.9 L516.1,1008.3 L516.4,1009.4 L516.7,1009.3 L517.0,1011.8 L517.3,1007.1 L517.6,1016.0 L517.9,1007.1 L518.2,1008.6 L518.5,1012.2 L518.8,1007.7 L519.1,1008.6 L519.4,1010.0 L519.7,1002.4 L520.0,1008.7 L520.3,1007.6 L520.6,1009.5 L520.9,1011.4 L521.2,1011.8 L521.5,1014.1 L521.8,1013.9 L522.1,1012.9 L522.4,1010.3 L522.7,1013.1 L523.0,1007.9 L523.3,1010.2 L523.6,1014.2 L523.9,1012.6 L524.2,1007.1 L524.5,1009.2 L524.8,1013.0 L525.1,1012.3 L525.4,1013.5 L525.7,1006.4 L526.0,1007.7 L526.3,1010.3 L526.6,1008.5 L526.9,1011.0 L527.2,1011.1 L527.5,1012.0 L527.8,1010.8 L528.1,1012.6 L528.4,1013.2 L528.7,1011.7 L529.0,1008.3 L529.3,1014.6 L529.6,1012.0 L529.9,1012.5 L530.2,1012.0 L530.5,1007.5 L530.8,1013.1 L531.1,1010.0 L531.4,1008.6 L531.7,1014.9 L532.0,1011.0 L532.3,1012.5 L532.6,1014.1 L532.9,1015.9 L533.2,1007.4 L533.5,1010.0 L533.8,1013.6 L534.1,1010.2 L534.4,1003.8 L534.7,1012.2 L535.0,1012.5 L535.3,1013.9 L535.6,1012.5 L535.9,1010.8 L536.2,1012.4 L536.5,1011.8 L536.8,1010.6 L537.1,1012.5 L537.4,1012.8 L537.7,1009.4 L538.0,1014.4 L538.3,1013.9 L538.6,1013.8 L538.9,1005.1 L539.2,1012.2 L539.5,1011.6 L539.8,1009.4 L540.1,1013.3 L540.4,1008.2 L540.7,1014.9 L541.0,1012.8 L541.3,1010.6 L541.6,1015.4 L541.9,1013.0 L542.2,1012.7 L542.5,1008.7 L542.8,1013.2 L543.1,1015.3 L543.4,1014.6 L543.7,1008.7 L544.0,1015.3 L544.3,1015.8 L544.6,1013.9 L544.9,1010.9 L545.2,1008.2 L545.5,1009.6 L545.8,1010.4 L546.1,1012.5 L546.4,1013.2 L546.7,1010.0 L547.0,1007.8 L547.3,1010.8 L547.6,1008.6 L547.9,1015.0 L548.2,1008.8 L548.5,1012.9 L548.8,1013.8 L549.1,1009.4 L549.4,1014.2 L549.7,1011.4 L550.0,1009.8 L550.3,1009.4 L550.6,1012.0 L550.9,1014.3 L551.2,1007.1 L551.5,1013.1 L551.8,1011.3 L552.1,1009.8 L552.4,1011.4 L552.7,1011.6 L553.0,1011.5 L553.3,1013.6 L553.6,1009.5 L553.9,1016.4 L554.2,1013.8 L554.5,1010.2 L554.8,1007.0 L555.1,1011.6 L555.4,1010.6 L555.7,1013.4 L556.0,1013.3 L556.3,1016.2 L556.6,1011.3 L556.9,1013.5 L557.2,1010.6 L557.5,1010.7 L557.8,1015.2 L558.1,1011.2 L558.4,1011.2 L558.7,1010.6 L559.0,1012.2 L559.3,1012.8 L559.6,1011.1 L559.9,1008.6 L560.2,1012.1 L560.5,1009.3 L560.8,1010.4 L561.1,1011.7 L561.4,1011.7 L561.7,1005.6 L562.0,1015.1 L562.3,1012.9 L562.6,1015.6 L562.9,1016.9 L563.2,1008.7 L563.5,1009.5 L563.8,1011.4 L564.1,1013.0 L564.4,1009.5 L564.7,1009.9 L565.0,1013.1 L565.3,1008.5 L565.6,1011.0 L565.9,1013.0 L566.2,1009.8 L566.5,1012.2 L566.8,1010.1 L567.1,1006.6 L567.4,1009.0 L567.7,1009.7 L568.0,1009.3 L568.3,1010.1 L568.6,1010.9 L568.9,1010.6 L569.2,1010.3 L569.5,1008.8 L569.8,1009.2 L570.1,1008.8 L570.4,1008.3 L570.7,1012.7 L571.0,1005.1 L571.3,1009.9 L571.6,1005.6 L571.9,1007.9 L572.2,1011.0 L572.5,1008.5 L572.8,1012.2 L573.1,1006.8 L573.4,1008.2 L573.7,1007.4 L574.0,1008.8 L574.3,1008.0 L574.6,1007.7 L574.9,1008.7 L575.2,1010.9 L575.5,1008.7 L575.8,1008.4 L576.1,1007.5 L576.4,1006.5 L576.7,1004.8 L577.0,1005.6 L577.3,1007.9 L577.6,1003.5 L577.9,1009.1 L578.2,1006.6 L578.5,1005.4 L578.8,1006.2 L579.1,1008.7 L579.4,1008.0 L579.7,1007.6 L580.0,1010.8 L580.3,1011.9 L580.6,1004.1 L580.9,1008.7 L581.2,1005.1 L581.5,1003.7 L581.8,1005.4 L582.1,1008.6 L582.4,1005.7 L582.7,1005.2 L583.0,1009.0 L583.3,1007.0 L583.6,1005.7 L583.9,1009.5 L584.2,1006.6 L584.5,1004.0 L584.8,1003.1 L585.1,1004.3 L585.4,1005.3 L585.7,1006.7 L586.0,1006.3 L586.3,1004.7 L586.6,1001.9 L586.9,1005.9 L587.2,1004.0 L587.5,1001.5 L587.8,1001.0 L588.1,1003.5 L588.4,1003.5 L588.7,1004.1 L589.0,1000.0 L589.3,1005.6 L589.6,998.4 L589.9,1001.4 L590.2,1003.6 L590.5,1002.8 L590.8,998.9 L591.1,1001.4 L591.4,1002.2 L591.7,1001.0 L592.0,997.7 L592.3,1001.9 L592.6,995.9 L592.9,998.3 L593.2,996.1 L593.5,996.7 L593.8,996.4 L594.1,997.2 L594.4,993.9 L594.7,995.6 L595.0,996.6 L595.3,994.1 L595.6,994.0 L595.9,993.1 L596.2,990.7 L596.5,990.3 L596.8,989.9 L597.1,989.5 L597.4,990.4 L597.7,988.6 L598.0,984.8 L598.3,983.5 L598.6,981.4 L598.9,978.4 L599.2,980.7 L599.5,978.0 L599.8,973.5 L600.1,973.2 L600.4,973.0 L600.7,968.7 L601.0,965.9 L601.3,962.6 L601.6,958.4 L601.9,954.5 L602.2,950.9 L602.5,947.2 L602.8,942.3 L603.1,937.8 L603.4,933.0 L603.7,926.4 L604.0,920.2 L604.3,913.0 L604.6,905.6 L604.9,899.9 L605.2,891.9 L605.5,884.8 L605.8,877.0 L606.1,869.9 L606.4,865.0 L606.7,858.8 L607.0,855.7 L607.3,853.2 L607.6,852.7 L607.9,853.7 L608.2,856.2 L608.5,859.0 L608.8,865.2 L609.1,870.2 L609.4,878.0 L609.7,884.7 L610.0,891.9 L610.3,899.6 L610.6,906.5 L610.9,914.2 L611.2,921.4 L611.5,927.7 L611.8,933.2 L612.1,939.4 L612.4,944.3 L612.7,950.1 L613.0,953.5 L613.3,956.7 L613.6,960.6 L613.9,963.7 L614.2,967.2 L614.5,970.2 L614.8,973.7 L615.1,976.3 L615.4,977.8 L615.7,980.3 L616.0,981.1 L616.3,983.0 L616.6,982.6 L616.9,986.0 L617.2,987.7 L617.5,992.8 L617.8,989.2 L618.1,992.2 L618.4,992.7 L618.7,992.1 L619.0,995.5 L619.3,996.1 L619.6,994.9 L619.9,994.4 L620.2,998.4 L620.5,997.1 L620.8,1000.8 L621.1,1000.0 L621.4,1001.9 L621.7,1001.2 L622.0,1004.6 L622.3,1003.8 L622.6,1005.7 L622.9,1003.9 L623.2,1002.4 L623.5,1002.2 L623.8,1004.1 L624.1,1005.8 L624.4,1004.6 L624.7,1010.3 L625.0,1006.3 L625.3,1007.5 L625.6,1007.2 L625.9,1005.1 L626.2,1009.6 L626.5,1009.1 L626.8,1009.8 L627.1,1006.7 L627.4,1008.8 L627.7,1008.9 L628.0,1011.4 L628.3,1006.8 L628.6,1010.9 L628.9,1012.3 L629.2,1009.3 L629.5,1008.7 L629.8,1013.1 L630.1,1011.2 L630.4,1013.1 L630.7,1012.6 L631.0,1013.4 L631.3,1011.2 L631.6,1007.5 L631.9,1013.1 L632.2,1010.8 L632.5,1013.5 L632.8,1011.4 L633.1,1016.0 L633.4,1012.4 L633.7,1014.7 L634.0,1015.5 L634.3,1013.2 L634.6,1014.2 L634.9,1013.7 L635.2,1012.0 L635.5,1017.0 L635.8,1012.3 L636.1,1011.1 L636.4,1013.4 L636.7,1014.9 L637.0,1014.9 L637.3,1014.2 L637.6,1014.1 L637.9,1010.7 L638.2,1016.6 L638.5,1019.1 L638.8,1014.0 L639.1,1011.9 L639.4,1017.4 L639.7,1015.6 L640.0,1007.7 L640.3,1014.6 L640.6,1013.3 L640.9,1014.0 L641.2,1020.8 L641.5,1018.8 L641.8,1016.5 L642.1,1017.0 L642.4,1020.5 L642.7,1014.9 L643.0,1018.9 L643.3,1016.1 L643.6,1019.4 L643.9,1018.1 L644.2,1016.2 L644.5,1020.2 L644.8,1019.1 L645.1,1022.0 L645.4,1017.3 L645.7,1018.6 L646.0,1016.9 L646.3,1021.1 L646.6,1016.9 L646.9,1018.6 L647.2,1021.6 L647.5,1020.0 L647.8,1019.6 L648.1,1019.6 L648.4,1019.8 L648.7,1020.6 L649.0,1018.6 L649.3,1015.1 L649.6,1022.4 L649.9,1017.3 L650.2,1023.6 L650.5,1020.4 L650.8,1026.7 L651.1,1022.5 L651.4,1020.9 L651.7,1022.1 L652.0,1017.1 L652.3,1020.6 L652.6,1019.5 L652.9,1020.4 L653.2,1016.0 L653.5,1015.8 L653.8,1022.2 L654.1,1020.8 L654.4,1019.8 L654.7,1020.7 L655.0,1019.5 L655.3,1020.0 L655.6,1022.6 L655.9,1020.7 L656.2,1022.8 L656.5,1019.8 L656.8,1017.4 L657.1,1020.0 L657.4,1021.2 L657.7,1019.2 L658.0,1020.9 L658.3,1020.7 L658.6,1023.9 L658.9,1023.8 L659.2,1024.4 L659.5,1020.4 L659.8,1022.9 L660.1,1025.1 L660.4,1022.7 L660.7,1022.3 L661.0,1020.8 L661.3,1024.4 L661.6,1023.0 L661.9,1024.9 L662.2,1022.5 L662.5,1027.4 L662.8,1022.9 L663.1,1020.3 L663.4,1023.5 L663.7,1024.2 L664.0,1026.1 L664.3,1022.3 L664.6,1022.2 L664.9,1022.9 L665.2,1022.7 L665.5,1019.0 L665.8,1025.3 L666.1,1026.5 L666.4,1022.2 L666.7,1021.8 L667.0,1023.7 L667.3,1022.3 L667.6,1025.9 L667.9,1022.8 L668.2,1025.6 L668.5,1021.6 L668.8,1021.3 L669.1,1021.0 L669.4,1021.3 L669.7,1025.4 L670.0,1026.4 L670.3,1024.9 L670.6,1025.1 L670.9,1019.9 L671.2,1027.1 L671.5,1022.1 L671.8,1027.6 L672.1,1030.1 L672.4,1025.0 L672.7,1026.3 L673.0,1026.3 L673.3,1022.2 L673.6,1022.6 L673.9,1023.6 L674.2,1025.5 L674.5,1027.0 L674.8,1025.5 L675.1,1027.7 L675.4,1024.2 L675.7,1022.3 L676.0,1025.5 L676.3,1025.3 L676.6,1022.4 L676.9,1027.8 L677.2,1023.5 L677.5,1024.0 L677.8,1026.1 L678.1,1023.4 L678.4,1027.1 L678.7,1026.6 L679.0,1026.8 L679.3,1025.9 L679.6,1024.9 L679.9,1024.3 L680.2,1026.7 L680.5,1029.0 L680.8,1027.8 L681.1,1026.9 L681.4,1028.3 L681.7,1029.1 L682.0,1023.6 L682.3,1026.2 L682.6,1029.0 L682.9,1025.0 L683.2,1025.5 L683.5,1027.8 L683.8,1026.1 L684.1,1029.2 L684.4,1026.0 L684.7,1028.0 L685.0,1032.1 L685.3,1029.2 L685.6,1023.9 L685.9,1024.6 L686.2,1024.7 L686.5,1026.8 L686.8,1024.0 L687.1,1028.2 L687.4,1030.7 L687.7,1030.4 L688.0,1025.5 L688.3,1026.6 L688.6,1026.5 L688.9,1025.5 L689.2,1030.9 L689.5,1025.8 L689.8,1025.0 L690.1,1028.1 L690.4,1028.1 L690.7,1030.7 L691.0,1030.8 L691.3,1027.1 L691.6,1023.1 L691.9,1029.0 L692.2,1029.3 L692.5,1031.4 L692.8,1024.3 L693.1,1025.2 L693.4,1031.0 L693.7,1031.1 L694.0,1030.4 L694.3,1027.6 L694.6,1030.4 L694.9,1026.5 L695.2,1025.1 L695.5,1027.6 L695.8,1028.0 L696.1,1029.5 L696.4,1030.1 L696.7,1024.0 L697.0,1028.4 L697.3,1028.8 L697.6,1025.1 L697.9,1027.2 L698.2,1027.9 L698.5,1028.8 L698.8,1026.0 L699.1,1026.6 L699.4,1025.5 L699.7,1028.6 L700.0,1027.2 L700.3,1026.6 L700.6,1029.3 L700.9,1027.6 L701.2,1025.4 L701.5,1030.3 L701.8,1030.0 L702.1,1028.9 L702.4,1025.8 L702.7,1030.3 L703.0,1026.8 L703.3,1024.1 L703.6,1027.8 L703.9,1031.8 L704.2,1027.1 L704.5,1029.3 L704.8,1031.0 L705.1,1028.5 L705.4,1027.4 L705.7,1028.1 L706.0,1029.4 L706.3,1027.1 L706.6,1028.9 L706.9,1029.3 L707.2,1027.4 L707.5,1029.7 L707.8,1029.4 L708.1,1027.5 L708.4,1027.9 L708.7,1028.5 L709.0,1028.0 L709.3,1027.8 L709.6,1026.2 L709.9,1028.5 L710.2,1029.9 L710.5,1029.7 L710.8,1026.6 L711.1,1029.5 L711.4,1029.7 L711.7,1026.5 L712.0,1029.5 L712.3,1028.1 L712.6,1027.7 L712.9,1028.9 L713.2,1028.0 L713.5,1023.9 L713.8,1028.9 L714.1,1026.2 L714.4,1028.3 L714.7,1029.9 L715.0,1028.1 L715.3,1027.6 L715.6,1028.8 L715.9,1029.6 L716.2,1026.9 L716.5,1027.3 L716.8,1029.6 L717.1,1031.9 L717.4,1028.6 L717.7,1030.5 L718.0,1027.1 L718.3,1028.7 L718.6,1028.8 L718.9,1026.0 L719.2,1028.7 L719.5,1028.3 L719.8,1023.5 L720.1,1028.5 L720.4,1029.3 L720.7,1029.2 L721.0,1029.4 L721.3,1026.5 L721.6,1027.2 L721.9,1028.4 L722.2,1027.0 L722.5,1027.8 L722.8,1031.3 L723.1,1027.0 L723.4,1028.1 L723.7,1032.6 L724.0,1028.6 L724.3,1026.8 L724.6,1029.4 L724.9,1029.3 L725.2,1029.2 L725.5,1025.6 L725.8,1029.5 L726.1,1029.8 L726.4,1033.2 L726.7,1030.4 L727.0,1028.2 L727.3,1029.7 L727.6,1030.5 L727.9,1028.8 L728.2,1029.1 L728.5,1032.0 L728.8,1030.2 L729.1,1030.3 L729.4,1027.3 L729.7,1030.1 L730.0,1025.4 L730.3,1031.8 L730.6,1028.4 L730.9,1030.6 L731.2,1032.2 L731.5,1027.2 L731.8,1031.8 L732.1,1029.9 L732.4,1031.8 L732.7,1028.8 L733.0,1028.1 L733.3,1032.2 L733.6,1030.4 L733.9,1029.7 L734.2,1027.3 L734.5,1032.3 L734.8,1029.0 L735.1,1029.3 L735.4,1028.4 L735.7,1029.8 L736.0,1031.0 L736.3,1029.7 L736.6,1029.7 L736.9,1028.8 L737.2,1032.9 L737.5,1033.2 L737.8,1029.4 L738.1,1028.2 L738.4,1030.5 L738.7,1026.8 L739.0,1030.5 L739.3,1030.6 L739.6,1030.4 L739.9,1033.3 L740.2,1033.8 L740.5,1031.1 L740.8,1029.5 L741.1,1032.3 L741.4,1032.5 L741.7,1027.9 L742.0,1028.8 L742.3,1029.8 L742.6,1027.0 L742.9,1028.2 L743.2,1033.7 L743.5,1027.9 L743.8,1032.2 L744.1,1028.9 L744.4,1032.5 L744.7,1031.2 L745.0,1032.4 L745.3,1027.8 L745.6,1031.2 L745.9,1029.5 L746.2,1032.2 L746.5,1032.1 L746.8,1031.1 L747.1,1030.5 L747.4,1030.8 L747.7,1031.3 L748.0,1029.8 L748.3,1030.0 L748.6,1029.6 L748.9,1028.8 L749.2,1033.0 L749.5,1028.4 L749.8,1033.6 L750.1,1032.4 L750.4,1027.7 L750.7,1027.5 L751.0,1031.2 L751.3,1029.0 L751.6,1031.4 L751.9,1033.1 L752.2,1031.9 L752.5,1030.8 L752.8,1030.9 L753.1,1034.2 L753.4,1030.6 L753.7,1034.8 L754.0,1035.4 L754.3,1030.7 L754.6,1032.0 L754.9,1034.9 L755.2,1030.2 L755.5,1032.4 L755.8,1033.7 L756.1,1029.6 L756.4,1032.4 L756.7,1032.0 L757.0,1030.7 L757.3,1034.8 L757.6,1031.5 L757.9,1036.3 L758.2,1033.3 L758.5,1030.5 L758.8,1032.4 L759.1,1030.4 L759.4,1033.6 L759.7,1033.3 L760.0,1029.7 L760.3,1031.2 L760.6,1033.0 L760.9,1032.2 L761.2,1030.1 L761.5,1034.2 L761.8,1034.8 L762.1,1029.2 L762.4,1035.0 L762.7,1028.1 L763.0,1031.8 L763.3,1030.8 L763.6,1031.0 L763.9,1032.5 L764.2,1029.9 L764.5,1031.9 L764.8,1035.5 L765.1,1033.1 L765.4,1035.1 L765.7,1033.9 L766.0,1029.0 L766.3,1035.7 L766.6,1033.9 L766.9,1033.5 L767.2,1031.5 L767.5,1031.3 L767.8,1030.2 L768.1,1032.0 L768.4,1032.5 L768.7,1032.0 L769.0,1032.0 L769.3,1028.6 L769.6,1030.9 L769.9,1030.8 L770.2,1033.0 L770.5,1031.5 L770.8,1031.5 L771.1,1032.6 L771.4,1031.5 L771.7,1031.9 L772.0,1034.6 L772.3,1032.1 L772.6,1030.7 L772.9,1033.6 L773.2,1034.0 L773.5,1033.7 L773.8,1029.9 L774.1,1034.3 L774.4,1032.6 L774.7,1032.8 L775.0,1032.7 L775.3,1033.5 L775.6,1033.5 L775.9,1035.4 L776.2,1033.1 L776.5,1032.5 L776.8,1033.9 L777.1,1032.4 L777.4,1034.8 L777.7,1033.0 L778.0,1034.1 L778.3,1031.7 L778.6,1034.6 L778.9,1033.9 L779.2,1031.1 L779.5,1032.0 L779.8,1032.9 L780.1,1030.2 L780.4,1030.7 L780.7,1033.7 L781.0,1033.8 L781.3,1035.4 L781.6,1030.4 L781.9,1032.1 L782.2,1029.0 L782.5,1036.2 L782.8,1030.3 L783.1,1032.4 L783.4,1036.6 L783.7,1035.6 L784.0,1031.3 L784.3,1037.2 L784.6,1033.8 L784.9,1031.0 L785.2,1033.4 L785.5,1034.2 L785.8,1034.2 L786.1,1028.9 L786.4,1036.5 L786.7,1029.9 L787.0,1032.6 L787.3,1035.7 L787.6,1033.8 L787.9,1033.0 L788.2,1031.9 L788.5,1034.2 L788.8,1035.7 L789.1,1032.0 L789.4,1033.9 L789.7,1032.3 L790.0,1032.2 L790.3,1029.0 L790.6,1033.4 L790.9,1034.6 L791.2,1032.4 L791.5,1034.6 L791.8,1032.8 L792.1,1034.7 L792.4,1032.6 L792.7,1031.5 L793.0,1031.1 L793.3,1032.1 L793.6,1032.4 L793.9,1030.3 L794.2,1031.4 L794.5,1029.0 L794.8,1028.8 L795.1,1032.6 L795.4,1031.9 L795.7,1032.8 L796.0,1031.2 L796.3,1031.3 L796.6,1034.2 L796.9,1028.9 L797.2,1031.0 L797.5,1033.3 L797.8,1034.0 L798.1,1031.0 L798.4,1029.6 L798.7,1027.6 L799.0,1029.2 L799.3,1029.6 L799.6,1029.2 L799.9,1030.0 L800.2,1030.0 L800.5,1027.9 L800.8,1027.0 L801.1,1028.2 L801.4,1029.6 L801.7,1032.0 L802.0,1025.8 L802.3,1031.2 L802.6,1028.7 L802.9,1031.5 L803.2,1033.2 L803.5,1030.7 L803.8,1027.7 L804.1,1029.2 L804.4,1030.8 L804.7,1029.7 L805.0,1030.3 L805.3,1029.1 L805.6,1030.3 L805.9,1029.7 L806.2,1032.6 L806.5,1031.7 L806.8,1032.6 L807.1,1028.3 L807.4,1030.6 L807.7,1030.2 L808.0,1030.9 L808.3,1030.2 L808.6,1030.6 L808.9,1035.0 L809.2,1031.7 L809.5,1029.9 L809.8,1031.8 L810.1,1036.7 L810.4,1034.0 L810.7,1031.0 L811.0,1032.4 L811.3,1032.8 L811.6,1033.2 L811.9,1029.7 L812.2,1031.6 L812.5,1033.1 L812.8,1030.3 L813.1,1033.3 L813.4,1033.9 L813.7,1035.3 L814.0,1036.0 L814.3,1033.8 L814.6,1034.6 L814.9,1035.6 L815.2,1036.2 L815.5,1034.6 L815.8,1033.1 L816.1,1035.6 L816.4,1036.1 L816.7,1034.8 L817.0,1035.6 L817.3,1037.5 L817.6,1033.7 L817.9,1033.4 L818.2,1032.7 L818.5,1035.3 L818.8,1036.5 L819.1,1033.8 L819.4,1038.1 L819.7,1033.7 L820.0,1035.3 L820.3,1034.6 L820.6,1037.4 L820.9,1033.8 L821.2,1038.0 L821.5,1034.6 L821.8,1032.5 L822.1,1034.0 L822.4,1034.7 L822.7,1038.2 L823.0,1034.2 L823.3,1035.1 L823.6,1039.0 L823.9,1035.5 L824.2,1034.0 L824.5,1033.8 L824.8,1032.4 L825.1,1035.9 L825.4,1037.5 L825.7,1034.6 L826.0,1033.4 L826.3,1035.8 L826.6,1035.4 L826.9,1035.1 L827.2,1036.2 L827.5,1035.5 L827.8,1034.8 L828.1,1037.3 L828.4,1032.1 L828.7,1033.4 L829.0,1035.0 L829.3,1033.0 L829.6,1038.3 L829.9,1031.5 L830.2,1036.9 L830.5,1036.7 L830.8,1036.3 L831.1,1036.4 L831.4,1034.6 L831.7,1034.4 L832.0,1038.3 L832.3,1035.5 L832.6,1033.1 L832.9,1033.5 L833.2,1033.0 L833.5,1036.3 L833.8,1038.0 L834.1,1035.3 L834.4,1036.2 L834.7,1035.0 L835.0,1037.6 L835.3,1037.6 L835.6,1037.7 L835.9,1039.4 L836.2,1033.8 L836.5,1037.6 L836.8,1033.3 L837.1,1037.5 L837.4,1037.7 L837.7,1037.6 L838.0,1037.8 L838.3,1036.1 L838.6,1035.2 L838.9,1037.8 L839.2,1035.3 L839.5,1037.8 L839.8,1034.9 L840.1,1037.1 L840.4,1037.1 L840.7,1035.0 L841.0,1036.0 L841.3,1038.3 L841.6,1036.7 L841.9,1037.6 L842.2,1035.7 L842.5,1036.9 L842.8,1034.1 L843.1,1035.4 L843.4,1039.1 L843.7,1037.8 L844.0,1036.9 L844.3,1037.1 L844.6,1034.5 L844.9,1037.6 L845.2,1034.7 L845.5,1035.6 L845.8,1038.1 L846.1,1035.5 L846.4,1035.9 L846.7,1036.7 L847.0,1037.0 L847.3,1039.2 L847.6,1033.7 L847.9,1036.0 L848.2,1037.8 L848.5,1035.8 L848.8,1036.0 L849.1,1035.2 L849.4,1036.1 L849.7,1037.8 L850.0,1038.9 L850.3,1037.2 L850.6,1039.1 L850.9,1036.8 L851.2,1033.6 L851.5,1037.9 L851.8,1032.9 L852.1,1036.4 L852.4,1036.5 L852.7,1034.4 L853.0,1036.1 L853.3,1035.5 L853.6,1036.7 L853.9,1035.9 L854.2,1037.5 L854.5,1035.7 L854.8,1037.5 L855.1,1036.4 L855.4,1036.8 L855.7,1036.6 L856.0,1035.5 L856.3,1038.3 L856.6,1037.4 L856.9,1032.2 L857.2,1034.1 L857.5,1039.3 L857.8,1035.8 L858.1,1041.3 L858.4,1037.0 L858.7,1037.0 L859.0,1035.4 L859.3,1035.8 L859.6,1036.5 L859.9,1037.8 L860.2,1036.3 L860.5,1036.0 L860.8,1034.3 L861.1,1035.2 L861.4,1035.3 L861.7,1035.8 L862.0,1034.7 L862.3,1034.0 L862.6,1035.4 L862.9,1031.5 L863.2,1033.2 L863.5,1034.4 L863.8,1036.5 L864.1,1034.6 L864.4,1033.8 L864.7,1037.0 L865.0,1035.5 L865.3,1038.1 L865.6,1035.3 L865.9,1034.4 L866.2,1035.0 L866.5,1038.8 L866.8,1038.3 L867.1,1035.8 L867.4,1037.2 L867.7,1032.6 L868.0,1037.0 L868.3,1034.8 L868.6,1033.3 L868.9,1032.6 L869.2,1032.1 L869.5,1029.9 L869.8,1029.1 L870.1,1026.6 L870.4,1030.7 L870.7,1025.0 L871.0,1025.1 L871.3,1025.8 L871.6,1024.2 L871.9,1022.3 L872.2,1015.8 L872.5,1013.3 L872.8,1011.1 L873.1,1004.6 L873.4,1007.4 L873.7,999.7 L874.0,1000.5 L874.3,1000.8 L874.6,999.1 L874.9,995.1 L875.2,996.7 L875.5,996.0 L875.8,989.0 L876.1,990.9 L876.4,991.8 L876.7,990.3 L877.0,988.0 L877.3,987.5 L877.6,992.3 L877.9,986.3 L878.2,989.4 L878.5,984.8 L878.8,988.9 L879.1,990.3 L879.4,987.6 L879.7,987.6 L880.0,993.4 L880.3,989.4 L880.6,992.4 L880.9,987.5 L881.2,994.7 L881.5,987.2 L881.8,989.9 L882.1,991.0 L882.4,992.6 L882.7,993.5 L883.0,996.8 L883.3,998.2 L883.6,998.2 L883.9,996.3 L884.2,995.3 L884.5,990.9 L884.8,995.4 L885.1,994.7 L885.4,997.6 L885.7,994.5 L886.0,995.2 L886.3,995.8 L886.6,999.0 L886.9,998.4 L887.2,996.2 L887.5,995.0 L887.8,997.7 L888.1,997.7 L888.4,998.0 L888.7,999.4 L889.0,1000.7 L889.3,1000.8 L889.6,997.8 L889.9,997.6 L890.2,1002.3 L890.5,998.7 L890.8,1000.6 L891.1,999.5 L891.4,999.9 L891.7,1002.3 L892.0,998.4 L892.3,1000.9 L892.6,999.5 L892.9,997.8 L893.2,996.8 L893.5,996.4 L893.8,999.5 L894.1,998.8 L894.4,994.7 L894.7,997.0 L895.0,992.1 L895.3,995.8 L895.6,999.8 L895.9,993.3 L896.2,996.6 L896.5,995.2 L896.8,997.1 L897.1,995.4 L897.4,998.5 L897.7,994.0 L898.0,998.7 L898.3,999.2 L898.6,1000.1 L898.9,1004.8 L899.2,998.9 L899.5,1000.1 L899.8,999.1 L900.1,1002.9 L900.4,1002.2 L900.7,1000.1 L901.0,1004.3 L901.3,1003.2 L901.6,1005.5 L901.9,1004.4 L902.2,1003.2 L902.5,1001.7 L902.8,999.3 L903.1,1002.2 L903.4,1005.3 L903.7,1002.8 L904.0,1001.7 L904.3,1003.5 L904.6,1004.1 L904.9,1007.1 L905.2,1000.4 L905.5,1000.8 L905.8,998.8 L906.1,998.5 L906.4,999.8 L906.7,997.0 L907.0,993.5 L907.3,995.2 L907.6,993.2 L907.9,988.8 L908.2,982.9 L908.5,977.7 L908.8,973.0 L909.1,961.7 L909.4,948.9 L909.7,929.4 L910.0,902.9 L910.3,860.7 L910.6,804.3 L910.9,743.1 L911.2,713.7 L911.5,742.9 L911.8,804.4 L912.1,860.4 L912.4,902.3 L912.7,929.0 L913.0,948.9 L913.3,962.4 L913.6,970.1 L913.9,978.0 L914.2,982.3 L914.5,985.5 L914.8,989.2 L915.1,989.7 L915.4,993.6 L915.7,993.3 L916.0,997.7 L916.3,1000.1 L916.6,1000.8 L916.9,998.0 L917.2,999.4 L917.5,1003.2 L917.8,1002.2 L918.1,1001.2 L918.4,996.3 L918.7,999.4 L919.0,1004.0 L919.3,1000.6 L919.6,998.8 L919.9,999.6 L920.2,1003.7 L920.5,1001.4 L920.8,996.2 L921.1,996.2 L921.4,998.3 L921.7,1000.5 L922.0,996.2 L922.3,996.3 L922.6,992.2 L922.9,995.9 L923.2,998.2 L923.5,998.0 L923.8,993.6 L924.1,998.1 L924.4,994.6 L924.7,993.2 L925.0,997.0 L925.3,992.3 L925.6,994.6 L925.9,993.5 L926.2,994.9 L926.5,995.6 L926.8,994.2 L927.1,993.4 L927.4,994.2 L927.7,990.3 L928.0,995.2 L928.3,1000.0 L928.6,996.5 L928.9,998.4 L929.2,996.1 L929.5,996.3 L929.8,997.3 L930.1,998.0 L930.4,998.0 L930.7,995.1 L931.0,997.1 L931.3,994.0 L931.6,999.6 L931.9,997.6 L932.2,997.3 L932.5,995.4 L932.8,999.4 L933.1,1000.8 L933.4,999.9 L933.7,1001.5 L934.0,997.7 L934.3,1001.6 L934.6,999.9 L934.9,994.5 L935.2,1001.1 L935.5,998.7 L935.8,1000.9 L936.1,1000.2 L936.4,1000.1 L936.7,1004.6 L937.0,1001.6 L937.3,1003.5 L937.6,1005.0 L937.9,1003.1 L938.2,1001.7 L938.5,1004.9 L938.8,1005.0 L939.1,1003.8 L939.4,1006.5 L939.7,1009.5 L940.0,1009.5 L940.3,1011.3 L940.6,1011.5 L940.9,1009.7 L941.2,1009.9 L941.5,1008.3 L941.8,1013.6 L942.1,1010.6 L942.4,1013.5 L942.7,1016.3 L943.0,1013.8 L943.3,1011.1 L943.6,1012.5 L943.9,1014.5 L944.2,1018.3 L944.5,1015.4 L944.8,1016.2 L945.1,1014.7 L945.4,1017.9 L945.7,1017.8 L946.0,1019.6 L946.3,1016.4 L946.6,1019.9 L946.9,1016.2 L947.2,1018.0 L947.5,1018.6 L947.8,1019.7 L948.1,1021.2 L948.4,1016.1 L948.7,1020.9 L949.0,1020.5 L949.3,1018.9 L949.6,1021.1 L949.9,1022.8 L950.2,1021.2 L950.5,1021.3 L950.8,1023.7 L951.1,1021.1 L951.4,1024.8 L951.7,1023.6 L952.0,1023.9 L952.3,1024.3 L952.6,1025.8 L952.9,1022.1 L953.2,1025.9 L953.5,1022.1 L953.8,1024.7 L954.1,1025.3 L954.4,1024.5 L954.7,1022.2 L955.0,1022.2 L955.3,1022.6 L955.6,1024.8 L955.9,1025.3 L956.2,1026.2 L956.5,1022.3 L956.8,1026.0 L957.1,1027.4 L957.4,1025.8 L957.7,1025.5 L958.0,1027.2 L958.3,1028.6 L958.6,1028.5 L958.9,1028.6 L959.2,1023.1 L959.5,1028.4 L959.8,1025.0 L960.1,1027.3 L960.4,1024.5 L960.7,1026.3 L961.0,1024.5 L961.3,1025.1 L961.6,1029.4 L961.9,1023.3 L962.2,1027.5 L962.5,1025.8 L962.8,1023.5 L963.1,1028.2 L963.4,1025.7 L963.7,1024.6 L964.0,1026.3 L964.3,1024.1 L964.6,1028.9 L964.9,1022.8 L965.2,1024.7 L965.5,1021.8 L965.8,1026.1 L966.1,1027.2 L966.4,1027.4 L966.7,1028.6 L967.0,1025.6 L967.3,1024.8 L967.6,1027.4 L967.9,1024.5 L968.2,1026.3 L968.5,1024.8 L968.8,1024.3 L969.1,1025.6 L969.4,1027.8 L969.7,1027.4 L970.0,1026.0 L970.3,1020.6 L970.6,1025.7 L970.9,1026.4 L971.2,1026.8 L971.5,1024.3 L971.8,1027.6 L972.1,1026.3 L972.4,1022.0 L972.7,1027.1 L973.0,1028.9 L973.3,1026.2 L973.6,1024.2 L973.9,1029.2 L974.2,1027.6 L974.5,1022.2 L974.8,1027.7 L975.1,1026.5 L975.4,1026.2 L975.7,1022.3 L976.0,1022.4 L976.3,1026.0 L976.6,1029.4 L976.9,1026.0 L977.2,1025.8 L977.5,1024.4 L977.8,1024.8 L978.1,1027.6 L978.4,1024.1 L978.7,1029.2 L979.0,1026.5 L979.3,1026.1 L979.6,1025.3 L979.9,1024.1 L980.2,1025.0 L980.5,1022.6 L980.8,1025.5 L981.1,1021.7 L981.4,1029.5 L981.7,1025.1 L982.0,1022.2 L982.3,1025.6 L982.6,1025.3 L982.9,1024.0 L983.2,1025.5 L983.5,1023.4 L983.8,1024.7 L984.1,1024.6 L984.4,1025.8 L984.7,1023.8 L985.0,1025.4 L985.3,1019.4 L985.6,1026.9 L985.9,1025.1 L986.2,1025.8 L986.5,1024.2 L986.8,1026.4 L987.1,1024.6 L987.4,1025.1 L987.7,1024.8 L988.0,1023.6 L988.3,1022.8 L988.6,1025.6 L988.9,1025.8 L989.2,1024.4 L989.5,1026.9 L989.8,1024.8 L990.1,1025.4 L990.4,1026.6 L990.7,1025.8 L991.0,1024.1 L991.3,1022.3 L991.6,1022.9 L991.9,1022.3 L992.2,1025.8 L992.5,1017.5 L992.8,1028.2 L993.1,1022.7 L993.4,1026.6 L993.7,1025.2 L994.0,1025.9 L994.3,1022.5 L994.6,1027.1 L994.9,1025.2 L995.2,1026.7 L995.5,1023.9 L995.8,1025.8 L996.1,1024.7 L996.4,1026.8 L996.7,1027.7 L997.0,1026.1 L997.3,1027.6 L997.6,1027.9 L997.9,1027.0 L998.2,1026.7 L998.5,1023.8 L998.8,1029.6 L999.1,1028.1 L999.4,1027.5 L999.7,1028.5 L1000.0,1027.3 L1000.3,1027.9 L1000.6,1029.6 L1000.9,1026.0 L1001.2,1028.4 L1001.5,1029.6 L1001.8,1026.4 L1002.1,1027.5 L1002.4,1031.9 L1002.7,1033.8 L1003.0,1030.4 L1003.3,1031.1 L1003.6,1028.3 L1003.9,1032.4 L1004.2,1029.8 L1004.5,1030.0 L1004.8,1030.6 L1005.1,1028.8 L1005.4,1028.5 L1005.7,1029.7 L1006.0,1027.8 L1006.3,1028.6 L1006.6,1024.9 L1006.9,1027.7 L1007.2,1030.4 L1007.5,1031.5 L1007.8,1030.6 L1008.1,1027.9 L1008.4,1029.5 L1008.7,1027.6 L1009.0,1027.3 L1009.3,1031.0 L1009.6,1028.5 L1009.9,1028.6 L1010.2,1029.5 L1010.5,1030.8 L1010.8,1029.3 L1011.1,1028.6 L1011.4,1029.6 L1011.7,1028.8 L1012.0,1028.4 L1012.3,1024.9 L1012.6,1027.3 L1012.9,1028.6 L1013.2,1026.9 L1013.5,1032.1 L1013.8,1032.9 L1014.1,1031.8 L1014.4,1027.0 L1014.7,1029.5 L1015.0,1029.4 L1015.3,1029.2 L1015.6,1025.7 L1015.9,1030.3 L1016.2,1031.6 L1016.5,1030.0 L1016.8,1032.4 L1017.1,1028.1 L1017.4,1029.8 L1017.7,1030.9 L1018.0,1026.9 L1018.3,1028.4 L1018.6,1027.2 L1018.9,1030.1 L1019.2,1026.5 L1019.5,1029.1 L1019.8,1027.6 L1020.1,1030.1 L1020.4,1027.6 L1020.7,1028.2 L1021.0,1028.9 L1021.3,1027.1 L1021.6,1027.7 L1021.9,1028.0 L1022.2,1027.5 L1022.5,1028.8 L1022.8,1027.0 L1023.1,1028.4 L1023.4,1027.7 L1023.7,1027.1 L1024.0,1026.2 L1024.3,1024.8 L1024.6,1026.8 L1024.9,1028.9 L1025.2,1027.3 L1025.5,1030.4 L1025.8,1026.2 L1026.1,1027.1 L1026.4,1025.0 L1026.7,1029.6 L1027.0,1025.3 L1027.3,1028.3 L1027.6,1028.0 L1027.9,1031.8 L1028.2,1029.6 L1028.5,1028.7 L1028.8,1027.6 L1029.1,1030.4 L1029.4,1026.6 L1029.7,1025.1 L1030.0,1028.5 L1030.3,1026.9 L1030.6,1025.8 L1030.9,1027.5 L1031.2,1027.7 L1031.5,1024.2 L1031.8,1028.2 L1032.1,1029.8 L1032.4,1025.9 L1032.7,1024.0 L1033.0,1026.8 L1033.3,1026.1 L1033.6,1027.4 L1033.9,1027.5 L1034.2,1025.8 L1034.5,1028.3 L1034.8,1022.8 L1035.1,1024.6 L1035.4,1025.9 L1035.7,1026.1 L1036.0,1025.3 L1036.3,1026.0 L1036.6,1023.2 L1036.9,1021.6 L1037.2,1026.1 L1037.5,1026.7 L1037.8,1024.6 L1038.1,1022.7 L1038.4,1023.2 L1038.7,1024.9 L1039.0,1024.1 L1039.3,1025.5 L1039.6,1025.7 L1039.9,1024.9 L1040.2,1022.6 L1040.5,1024.0 L1040.8,1023.0 L1041.1,1022.3 L1041.4,1021.9 L1041.7,1021.2 L1042.0,1019.6 L1042.3,1021.0 L1042.6,1019.1 L1042.9,1019.6 L1043.2,1020.1 L1043.5,1019.5 L1043.8,1015.9 L1044.1,1016.7 L1044.4,1015.5 L1044.7,1016.4 L1045.0,1014.5 L1045.3,1015.5 L1045.6,1013.2 L1045.9,1013.2 L1046.2,1010.7 L1046.5,1009.9 L1046.8,1009.1 L1047.1,1008.6 L1047.4,1004.9 L1047.7,1005.5 L1048.0,1002.6 L1048.3,1002.3 L1048.6,999.0 L1048.9,998.2 L1049.2,997.4 L1049.5,995.4 L1049.8,991.2 L1050.1,990.6 L1050.4,986.5 L1050.7,984.0 L1051.0,981.3 L1051.3,977.8 L1051.6,974.7 L1051.9,971.1 L1052.2,967.8 L1052.5,963.8 L1052.8,959.8 L1053.1,955.8 L1053.4,952.2 L1053.7,949.2 L1054.0,946.4 L1054.3,943.4 L1054.6,940.8 L1054.9,939.2 L1055.2,937.6 L1055.5,937.3 L1055.8,937.5 L1056.1,938.0 L1056.4,940.1 L1056.7,942.0 L1057.0,943.9 L1057.3,947.2 L1057.6,950.3 L1057.9,953.8 L1058.2,957.5 L1058.5,961.6 L1058.8,964.8 L1059.1,968.4 L1059.4,972.3 L1059.7,975.7 L1060.0,979.5 L1060.3,981.1 L1060.6,984.9 L1060.9,986.0 L1061.2,989.8 L1061.5,991.3 L1061.8,993.4 L1062.1,996.4 L1062.4,997.5 L1062.7,999.9 L1063.0,999.5 L1063.3,1004.4 L1063.6,1002.2 L1063.9,1005.2 L1064.2,1008.4 L1064.5,1006.5 L1064.8,1010.3 L1065.1,1010.5 L1065.4,1009.9 L1065.7,1010.2 L1066.0,1010.7 L1066.3,1011.6 L1066.6,1012.6 L1066.9,1013.3 L1067.2,1010.0 L1067.5,1013.3 L1067.8,1013.3 L1068.1,1011.6 L1068.4,1014.1 L1068.7,1014.5 L1069.0,1014.9 L1069.3,1014.4 L1069.6,1015.8 L1069.9,1016.9 L1070.2,1015.4 L1070.5,1016.3 L1070.8,1016.9 L1071.1,1019.7 L1071.4,1019.0 L1071.7,1018.8 L1072.0,1019.1 L1072.3,1019.4 L1072.6,1021.9 L1072.9,1023.4 L1073.2,1024.5 L1073.5,1021.8 L1073.8,1022.3 L1074.1,1022.7 L1074.4,1023.1 L1074.7,1022.5 L1075.0,1027.1 L1075.3,1025.8 L1075.6,1024.6 L1075.9,1021.7 L1076.2,1027.7 L1076.5,1027.0 L1076.8,1026.1 L1077.1,1027.1 L1077.4,1025.1 L1077.7,1027.3 L1078.0,1025.5 L1078.3,1027.2 L1078.6,1026.3 L1078.9,1024.6 L1079.2,1025.1 L1079.5,1028.5 L1079.8,1028.5 L1080.1,1026.7 L1080.4,1025.9 L1080.7,1026.4 L1081.0,1027.8 L1081.3,1025.1 L1081.6,1028.8 L1081.9,1026.0 L1082.2,1025.6 L1082.5,1027.4 L1082.8,1030.5 L1083.1,1026.4 L1083.4,1027.0 L1083.7,1025.7 L1084.0,1028.0 L1084.3,1028.1 L1084.6,1027.7 L1084.9,1027.1 L1085.2,1028.3 L1085.5,1029.1 L1085.8,1027.1 L1086.1,1027.4 L1086.4,1026.8 L1086.7,1026.9 L1087.0,1029.8 L1087.3,1026.2 L1087.6,1028.1 L1087.9,1029.5 L1088.2,1027.0 L1088.5,1028.8 L1088.8,1029.0 L1089.1,1025.5 L1089.4,1029.4 L1089.7,1026.2 L1090.0,1028.0 L1090.3,1025.3 L1090.6,1025.2 L1090.9,1027.4 L1091.2,1030.3 L1091.5,1031.8 L1091.8,1032.1 L1092.1,1029.9 L1092.4,1029.6 L1092.7,1028.9 L1093.0,1028.7 L1093.3,1027.0 L1093.6,1026.8 L1093.9,1028.2 L1094.2,1028.2 L1094.5,1026.4 L1094.8,1025.5 L1095.1,1026.1 L1095.4,1032.6 L1095.7,1026.1 L1096.0,1029.4 L1096.3,1029.0 L1096.6,1028.7 L1096.9,1025.9 L1097.2,1030.0 L1097.5,1027.2 L1097.8,1025.7 L1098.1,1025.4 L1098.4,1026.2 L1098.7,1029.5 L1099.0,1024.2 L1099.3,1025.0 L1099.6,1025.9 L1099.9,1026.5 L1100.2,1024.0 L1100.5,1024.0 L1100.8,1024.5 L1101.1,1026.1 L1101.4,1024.7 L1101.7,1024.4 L1102.0,1024.8 L1102.3,1024.5 L1102.6,1025.4 L1102.9,1022.8 L1103.2,1023.5 L1103.5,1022.3 L1103.8,1023.9 L1104.1,1023.7 L1104.4,1021.9 L1104.7,1023.4 L1105.0,1021.2 L1105.3,1022.8 L1105.6,1020.0 L1105.9,1019.5 L1106.2,1017.6 L1106.5,1017.6 L1106.8,1017.8 L1107.1,1015.0 L1107.4,1016.7 L1107.7,1016.9 L1108.0,1015.6 L1108.3,1014.2 L1108.6,1013.6 L1108.9,1011.1 L1109.2,1009.8 L1109.5,1009.6 L1109.8,1007.0 L1110.1,1006.2 L1110.4,1002.8 L1110.7,1001.4 L1111.0,999.2 L1111.3,995.1 L1111.6,993.0 L1111.9,988.9 L1112.2,981.7 L1112.5,979.5 L1112.8,970.8 L1113.1,965.5 L1113.4,955.0 L1113.7,943.9 L1114.0,931.3 L1114.3,915.9 L1114.6,895.2 L1114.9,869.6 L1115.4,300.0 L1115.5,300.0 L1115.8,300.0 L1116.1,300.0 L1116.4,300.0 L1116.7,300.0 L1117.0,300.0 L1117.3,300.0 L1117.6,300.0 L1117.9,300.0 L1118.2,300.0 L1118.5,300.0 L1118.8,300.0 L1119.1,300.0 L1119.4,300.0 L1119.7,300.0 L1120.0,300.0 L1120.5,300.0 L1120.6,836.2 L1120.9,870.5 L1121.2,895.7 L1121.5,915.8 L1121.8,931.9 L1122.1,945.5 L1122.4,956.0 L1122.7,964.4 L1123.0,972.7 L1123.3,978.6 L1123.6,983.7 L1123.9,988.4 L1124.2,993.2 L1124.5,996.4 L1124.8,998.8 L1125.1,1002.4 L1125.4,1002.0 L1125.7,1006.7 L1126.0,1007.1 L1126.3,1009.0 L1126.6,1010.9 L1126.9,1014.5 L1127.2,1013.6 L1127.5,1014.8 L1127.8,1016.6 L1128.1,1014.6 L1128.4,1017.5 L1128.7,1019.4 L1129.0,1018.1 L1129.3,1020.7 L1129.6,1019.7 L1129.9,1019.3 L1130.2,1023.0 L1130.5,1022.4 L1130.8,1023.8 L1131.1,1023.5 L1131.4,1022.2 L1131.7,1025.5 L1132.0,1025.2 L1132.3,1025.6 L1132.6,1024.8 L1132.9,1024.2 L1133.2,1028.3 L1133.5,1027.7 L1133.8,1027.1 L1134.1,1026.3 L1134.4,1029.5 L1134.7,1026.6 L1135.0,1027.0 L1135.3,1031.7 L1135.6,1029.6 L1135.9,1030.4 L1136.2,1030.3 L1136.5,1032.8 L1136.8,1030.3 L1137.1,1030.7 L1137.4,1028.8 L1137.7,1030.5 L1138.0,1028.2 L1138.3,1030.2 L1138.6,1031.0 L1138.9,1032.3 L1139.2,1033.5 L1139.5,1030.4 L1139.8,1029.9 L1140.1,1032.1 L1140.4,1030.3 L1140.7,1034.3 L1141.0,1033.5 L1141.3,1029.7 L1141.6,1031.1 L1141.9,1032.1 L1142.2,1028.1 L1142.5,1027.8 L1142.8,1027.3 L1143.1,1027.9 L1143.4,1025.2 L1143.7,1022.8 L1144.0,1021.9 L1144.3,1020.1 L1144.6,1018.9 L1144.9,1018.1 L1145.2,1016.9 L1145.5,1016.8 L1145.8,1016.1 L1146.1,1016.0 L1146.4,1016.7 L1146.7,1016.3 L1147.0,1018.8 L1147.3,1022.8 L1147.6,1022.4 L1147.9,1024.8 L1148.2,1026.9 L1148.5,1026.8 L1148.8,1028.4 L1149.1,1030.9 L1149.4,1029.9 L1149.7,1033.6 L1150.0,1034.0 L1150.3,1034.0 L1150.6,1034.5 L1150.9,1035.6 L1151.2,1034.9 L1151.5,1030.7 L1151.8,1036.0 L1152.1,1033.6 L1152.4,1034.5 L1152.7,1034.7 L1153.0,1034.8 L1153.3,1032.7 L1153.6,1032.3 L1153.9,1035.5 L1154.2,1035.8 L1154.5,1036.5 L1154.8,1033.6 L1155.1,1035.4 L1155.4,1037.3 L1155.7,1035.4 L1156.0,1035.0 L1156.3,1039.6 L1156.6,1033.3 L1156.9,1034.8 L1157.2,1034.3 L1157.5,1035.4 L1157.8,1041.8 L1158.1,1034.6 L1158.4,1035.9 L1158.7,1035.5 L1159.0,1035.2 L1159.3,1038.0 L1159.6,1035.8 L1159.9,1038.5 L1160.2,1039.2 L1160.5,1035.9 L1160.8,1039.2 L1161.1,1034.8 L1161.4,1037.5 L1161.7,1038.7 L1162.0,1035.2 L1162.3,1036.9 L1162.6,1037.9 L1162.9,1038.1 L1163.2,1037.8 L1163.5,1040.7 L1163.8,1037.0 L1164.1,1039.4 L1164.4,1041.1 L1164.7,1036.3 L1165.0,1036.7 L1165.3,1035.6 L1165.6,1038.7 L1165.9,1040.0 L1166.2,1034.5 L1166.5,1035.9 L1166.8,1036.5 L1167.1,1041.6 L1167.4,1037.0 L1167.7,1038.4 L1168.0,1035.6 L1168.3,1039.3 L1168.6,1036.0 L1168.9,1037.7 L1169.2,1036.0 L1169.5,1037.7 L1169.8,1037.6 L1170.1,1038.3 L1170.4,1038.3 L1170.7,1041.1 L1171.0,1036.7 L1171.3,1040.3 L1171.6,1038.5 L1171.9,1037.7 L1172.2,1038.6 L1172.5,1038.5 L1172.8,1039.5 L1173.1,1039.5 L1173.4,1039.2 L1173.7,1038.6 L1174.0,1035.3 L1174.3,1039.6 L1174.6,1040.1 L1174.9,1038.8 L1175.2,1038.7 L1175.5,1036.7 L1175.8,1038.7 L1176.1,1039.7 L1176.4,1035.9 L1176.7,1037.4 L1177.0,1037.3 L1177.3,1040.4 L1177.6,1037.5 L1177.9,1035.1 L1178.2,1038.5 L1178.5,1040.6 L1178.8,1038.0 L1179.1,1037.5 L1179.4,1038.7 L1179.7,1041.3 L1180.0,1037.9 L1180.3,1037.9 L1180.6,1039.1 L1180.9,1037.0 L1181.2,1035.4 L1181.5,1038.6 L1181.8,1037.7 L1182.1,1039.0 L1182.4,1038.7 L1182.7,1039.4 L1183.0,1036.5 L1183.3,1039.0 L1183.6,1036.8 L1183.9,1039.1 L1184.2,1037.7 L1184.5,1041.5 L1184.8,1036.9 L1185.1,1034.5 L1185.4,1038.7 L1185.7,1037.7 L1186.0,1036.9 L1186.3,1038.9 L1186.6,1041.4 L1186.9,1038.3 L1187.2,1037.3 L1187.5,1041.1 L1187.8,1040.6 L1188.1,1038.6 L1188.4,1037.6 L1188.7,1039.8 L1189.0,1037.3 L1189.3,1037.5 L1189.6,1037.1 L1189.9,1039.5 L1190.2,1041.3 L1190.5,1038.7 L1190.8,1041.7 L1191.1,1035.1 L1191.4,1038.6 L1191.7,1035.6 L1192.0,1040.2 L1192.3,1040.9 L1192.6,1035.5 L1192.9,1037.3 L1193.2,1038.7 L1193.5,1036.0 L1193.8,1037.1 L1194.1,1036.8 L1194.4,1038.7 L1194.7,1037.3 L1195.0,1036.6 L1195.3,1037.2 L1195.6,1038.4 L1195.9,1038.7 L1196.2,1038.2 L1196.5,1040.7 L1196.8,1037.9 L1197.1,1038.8 L1197.4,1039.7 L1197.7,1038.0 L1198.0,1041.0 L1198.3,1040.0 L1198.6,1040.1 L1198.9,1037.1 L1199.2,1038.5 L1199.5,1039.7 L1199.8,1040.6 L1200.1,1037.7 L1200.4,1037.9 L1200.7,1036.5 L1201.0,1036.2 L1201.3,1040.7 L1201.6,1038.8 L1201.9,1039.8 L1202.2,1040.8 L1202.5,1038.8 L1202.8,1039.1 L1203.1,1037.1 L1203.4,1037.9 L1203.7,1039.7 L1204.0,1041.4 L1204.3,1040.8 L1204.6,1037.8 L1204.9,1037.7 L1205.2,1040.2 L1205.5,1039.9 L1205.8,1040.0 L1206.1,1039.5 L1206.4,1041.3 L1206.7,1039.6 L1207.0,1041.6 L1207.3,1040.1 L1207.6,1039.2 L1207.9,1037.2 L1208.2,1039.7 L1208.5,1040.8 L1208.8,1039.5 L1209.1,1037.5 L1209.4,1036.0 L1209.7,1038.7 L1210.0,1042.3 L1210.3,1037.3 L1210.6,1038.5 L1210.9,1039.6 L1211.2,1041.0 L1211.5,1037.6 L1211.8,1039.4 L1212.1,1039.8 L1212.4,1037.3 L1212.7,1040.0 L1213.0,1037.6 L1213.3,1039.6 L1213.6,1040.4 L1213.9,1039.5 L1214.2,1037.2 L1214.5,1040.6 L1214.8,1040.6 L1215.1,1039.7 L1215.4,1040.8 L1215.7,1038.6 L1216.0,1038.0 L1216.3,1039.1 L1216.6,1040.3 L1216.9,1041.0 L1217.2,1038.3 L1217.5,1039.8 L1217.8,1039.8 L1218.1,1038.6 L1218.4,1036.0 L1218.7,1036.5 L1219.0,1041.1 L1219.3,1036.9 L1219.6,1036.4 L1219.9,1037.0 L1220.2,1038.9 L1220.5,1041.7 L1220.8,1040.2 L1221.1,1038.7 L1221.4,1039.0 L1221.7,1040.3 L1222.0,1039.6 L1222.3,1036.5 L1222.6,1041.7 L1222.9,1041.2 L1223.2,1037.7 L1223.5,1039.2 L1223.8,1040.4 L1224.1,1040.1 L1224.4,1039.0 L1224.7,1039.8 L1225.0,1042.8 L1225.3,1039.1 L1225.6,1041.4 L1225.9,1040.1 L1226.2,1037.7 L1226.5,1040.8 L1226.8,1040.4 L1227.1,1041.8 L1227.4,1042.6 L1227.7,1041.6 L1228.0,1040.4 L1228.3,1040.8 L1228.6,1041.3 L1228.9,1038.5 L1229.2,1038.1 L1229.5,1041.2 L1229.8,1037.9 L1230.1,1039.4 L1230.4,1043.0 L1230.7,1041.5 L1231.0,1042.1 L1231.3,1039.8 L1231.6,1041.9 L1231.9,1038.5 L1232.2,1038.5 L1232.5,1039.6 L1232.8,1038.7 L1233.1,1042.2 L1233.4,1039.6 L1233.7,1037.9 L1234.0,1041.5 L1234.3,1041.2 L1234.6,1042.0 L1234.9,1037.9 L1235.2,1038.5 L1235.5,1036.0 L1235.8,1040.6 L1236.1,1039.8 L1236.4,1039.0 L1236.7,1042.3 L1237.0,1038.7 L1237.3,1039.1 L1237.6,1038.4 L1237.9,1038.2 L1238.2,1039.9 L1238.5,1039.6 L1238.8,1039.3 L1239.1,1038.0 L1239.4,1037.6 L1239.7,1038.9 L1240.0,1039.8 L1240.3,1038.4 L1240.6,1039.2 L1240.9,1039.3 L1241.2,1038.3 L1241.5,1037.4 L1241.8,1039.7 L1242.1,1042.8 L1242.4,1040.8 L1242.7,1039.8 L1243.0,1038.8 L1243.3,1038.9 L1243.6,1041.9 L1243.9,1038.1 L1244.2,1043.2 L1244.5,1040.3 L1244.8,1040.7 L1245.1,1039.6 L1245.4,1041.9 L1245.7,1041.9 L1246.0,1039.0 L1246.3,1043.5 L1246.6,1040.6 L1246.9,1037.7 L1247.2,1041.2 L1247.5,1040.9 L1247.8,1040.7 L1248.1,1041.9 L1248.4,1042.3 L1248.7,1038.3 L1249.0,1040.0 L1249.3,1040.2 L1249.6,1040.5 L1249.9,1037.3 L1250.2,1040.9 L1250.5,1040.5 L1250.8,1043.8 L1251.1,1039.0 L1251.4,1039.6 L1251.7,1041.2 L1252.0,1040.5 L1252.3,1042.0 L1252.6,1042.6 L1252.9,1038.9 L1253.2,1040.7 L1253.5,1041.6 L1253.8,1039.2 L1254.1,1044.4 L1254.4,1041.1 L1254.7,1040.8 L1255.0,1037.9 L1255.3,1039.4 L1255.6,1037.1 L1255.9,1041.7 L1256.2,1039.2 L1256.5,1040.7 L1256.8,1041.2 L1257.1,1040.9 L1257.4,1039.9 L1257.7,1041.9 L1258.0,1038.6 L1258.3,1037.3 L1258.6,1038.0 L1258.9,1041.9 L1259.2,1043.1 L1259.5,1039.4 L1259.8,1039.6 L1260.1,1041.3 L1260.4,1038.2 L1260.7,1039.7 L1261.0,1038.1 L1261.3,1040.7 L1261.6,1035.5 L1261.9,1037.9 L1262.2,1037.5 L1262.5,1040.4 L1262.8,1041.4 L1263.1,1040.5 L1263.4,1044.2 L1263.7,1040.7 L1264.0,1038.9 L1264.3,1039.8 L1264.6,1041.8 L1264.9,1041.4 L1265.2,1044.4 L1265.5,1041.0 L1265.8,1039.0 L1266.1,1038.8 L1266.4,1042.1 L1266.7,1035.8 L1267.0,1041.4 L1267.3,1042.2 L1267.6,1039.9 L1267.9,1041.2 L1268.2,1043.1 L1268.5,1043.4 L1268.8,1043.2 L1269.1,1042.5 L1269.4,1040.5 L1269.7,1038.7 L1270.0,1037.1 L1270.3,1044.0 L1270.6,1042.7 L1270.9,1038.6 L1271.2,1042.8 L1271.5,1040.1 L1271.8,1040.0 L1272.1,1038.8 L1272.4,1044.6 L1272.7,1038.5 L1273.0,1038.9 L1273.3,1042.2 L1273.6,1042.4 L1273.9,1041.9 L1274.2,1039.1 L1274.5,1040.6 L1274.8,1039.5 L1275.1,1040.1 L1275.4,1044.2 L1275.7,1041.5 L1276.0,1042.4 L1276.3,1039.4 L1276.6,1040.1 L1276.9,1041.9 L1277.2,1043.2 L1277.5,1040.8 L1277.8,1043.8 L1278.1,1045.4 L1278.4,1038.0 L1278.7,1041.2 L1279.0,1042.3 L1279.3,1040.8 L1279.6,1044.1 L1279.9,1041.4 L1280.2,1041.8 L1280.5,1038.4 L1280.8,1043.0 L1281.1,1040.6 L1281.4,1042.0 L1281.7,1040.8 L1282.0,1040.0 L1282.3,1040.9 L1282.6,1039.0 L1282.9,1040.8 L1283.2,1043.2 L1283.5,1042.9 L1283.8,1039.5 L1284.1,1042.7 L1284.4,1040.6 L1284.7,1040.1 L1285.0,1042.3 L1285.3,1042.6 L1285.6,1040.2 L1285.9,1043.0 L1286.2,1041.3 L1286.5,1045.2 L1286.8,1038.7 L1287.1,1040.9 L1287.4,1040.9 L1287.7,1039.9 L1288.0,1039.0 L1288.3,1043.6 L1288.6,1041.9 L1288.9,1039.0 L1289.2,1040.5 L1289.5,1040.8 L1289.8,1042.0 L1290.1,1039.7 L1290.4,1044.1 L1290.7,1041.5 L1291.0,1044.0 L1291.3,1042.5 L1291.6,1041.1 L1291.9,1041.2 L1292.2,1042.3 L1292.5,1041.9 L1292.8,1042.1 L1293.1,1043.0 L1293.4,1043.8 L1293.7,1039.8 L1294.0,1038.7 L1294.3,1040.0 L1294.6,1043.8 L1294.9,1041.3 L1295.2,1040.5 L1295.5,1042.3 L1295.8,1043.0 L1296.1,1039.7 L1296.4,1039.9 L1296.7,1041.6 L1297.0,1041.5 L1297.3,1040.4 L1297.6,1045.7 L1297.9,1043.9 L1298.2,1041.5 L1298.5,1042.9 L1298.8,1039.6 L1299.1,1043.4 L1299.4,1041.4 L1299.7,1040.5 L1300.0,1039.4 L1300.3,1043.3 L1300.6,1041.9 L1300.9,1040.8 L1301.2,1043.6 L1301.5,1041.4 L1301.8,1042.3 L1302.1,1041.0 L1302.4,1042.6 L1302.7,1039.8 L1303.0,1041.1 L1303.3,1041.9 L1303.6,1040.4 L1303.9,1040.8 L1304.2,1043.1 L1304.5,1040.9 L1304.8,1043.7 L1305.1,1042.5 L1305.4,1041.8 L1305.7,1039.1 L1306.0,1044.4 L1306.3,1044.3 L1306.6,1042.2 L1306.9,1041.9 L1307.2,1041.8 L1307.5,1040.9 L1307.8,1041.2 L1308.1,1042.4 L1308.4,1039.0 L1308.7,1041.5 L1309.0,1042.3 L1309.3,1038.5 L1309.6,1040.4 L1309.9,1038.8 L1310.2,1039.0 L1310.5,1042.5 L1310.8,1039.4 L1311.1,1046.1 L1311.4,1041.1 L1311.7,1039.9 L1312.0,1040.8 L1312.3,1041.3 L1312.6,1041.8 L1312.9,1041.9 L1313.2,1041.8 L1313.5,1043.2 L1313.8,1043.4 L1314.1,1041.4 L1314.4,1041.9 L1314.7,1039.9 L1315.0,1040.1 L1315.3,1040.5 L1315.6,1043.6 L1315.9,1039.9 L1316.2,1041.5 L1316.5,1041.4 L1316.8,1042.6 L1317.1,1040.1 L1317.4,1040.4 L1317.7,1043.0 L1318.0,1041.6 L1318.3,1040.1 L1318.6,1043.2 L1318.9,1041.3 L1319.2,1040.2 L1319.5,1042.7 L1319.8,1044.2 L1320.1,1040.3 L1320.4,1039.3 L1320.7,1036.8 L1321.0,1044.2 L1321.3,1040.0 L1321.6,1040.4 L1321.9,1039.1 L1322.2,1040.5 L1322.5,1038.9 L1322.8,1043.4 L1323.1,1041.9 L1323.4,1039.6 L1323.7,1038.3 L1324.0,1041.4 L1324.3,1038.8 L1324.6,1042.5 L1324.9,1040.7 L1325.2,1040.0 L1325.5,1037.9 L1325.8,1040.3 L1326.1,1037.5 L1326.4,1041.8 L1326.7,1036.1 L1327.0,1038.9 L1327.3,1043.7 L1327.6,1038.5 L1327.9,1040.6 L1328.2,1041.1 L1328.5,1039.8 L1328.8,1038.9 L1329.1,1040.9 L1329.4,1040.8 L1329.7,1037.9 L1330.0,1041.6 L1330.3,1041.1 L1330.6,1036.8 L1330.9,1039.5 L1331.2,1039.5 L1331.5,1038.7 L1331.8,1037.2 L1332.1,1036.1 L1332.4,1039.1 L1332.7,1035.2 L1333.0,1037.0 L1333.3,1034.4 L1333.6,1036.6 L1333.9,1038.0 L1334.2,1035.1 L1334.5,1039.0 L1334.8,1039.2 L1335.1,1038.2 L1335.4,1038.5 L1335.7,1039.9 L1336.0,1038.5 L1336.3,1034.0 L1336.6,1036.7 L1336.9,1035.4 L1337.2,1036.9 L1337.5,1033.7 L1337.8,1036.8 L1338.1,1036.1 L1338.4,1037.5 L1338.7,1034.7 L1339.0,1035.9 L1339.3,1032.4 L1339.6,1035.9 L1339.9,1036.0 L1340.2,1033.6 L1340.5,1036.0 L1340.8,1033.4 L1341.1,1036.7 L1341.4,1034.3 L1341.7,1035.0 L1342.0,1038.8 L1342.3,1036.7 L1342.6,1038.4 L1342.9,1037.5 L1343.2,1035.4 L1343.5,1038.4 L1343.8,1036.0 L1344.1,1035.5 L1344.4,1034.7 L1344.7,1033.3 L1345.0,1036.4 L1345.3,1035.0 L1345.6,1036.1 L1345.9,1035.1 L1346.2,1036.4 L1346.5,1034.2 L1346.8,1035.7 L1347.1,1037.0 L1347.4,1037.5 L1347.7,1035.1 L1348.0,1033.4 L1348.3,1037.8 L1348.6,1037.3 L1348.9,1033.8 L1349.2,1037.4 L1349.5,1036.0 L1349.8,1033.3 L1350.1,1035.2 L1350.4,1032.7 L1350.7,1034.2 L1351.0,1034.2 L1351.3,1034.9 L1351.6,1037.1 L1351.9,1032.5 L1352.2,1029.7 L1352.5,1036.7 L1352.8,1035.0 L1353.1,1037.3 L1353.4,1037.3 L1353.7,1038.9 L1354.0,1032.4 L1354.3,1039.0 L1354.6,1036.2 L1354.9,1035.5 L1355.2,1039.3 L1355.5,1038.9 L1355.8,1034.3 L1356.1,1035.8 L1356.4,1039.6 L1356.7,1034.6 L1357.0,1037.9 L1357.3,1038.3 L1357.6,1037.2 L1357.9,1036.7 L1358.2,1039.2 L1358.5,1037.5 L1358.8,1036.3 L1359.1,1039.3 L1359.4,1035.6 L1359.7,1037.5 L1360.0,1039.3 L1360.3,1036.1 L1360.6,1041.4 L1360.9,1039.5 L1361.2,1038.9 L1361.5,1037.2 L1361.8,1039.5 L1362.1,1038.7 L1362.4,1040.1 L1362.7,1038.5 L1363.0,1040.2 L1363.3,1037.1 L1363.6,1037.1 L1363.9,1038.6 L1364.2,1036.5 L1364.5,1039.7 L1364.8,1040.3 L1365.1,1037.3 L1365.4,1040.1 L1365.7,1039.3 L1366.0,1039.4 L1366.3,1042.9 L1366.6,1040.1 L1366.9,1040.9 L1367.2,1040.0 L1367.5,1040.3 L1367.8,1041.1 L1368.1,1041.4 L1368.4,1041.1 L1368.7,1043.5 L1369.0,1041.3 L1369.3,1041.7 L1369.6,1045.1 L1369.9,1042.6 L1370.2,1043.8 L1370.5,1043.6 L1370.8,1041.9 L1371.1,1045.0 L1371.4,1043.3 L1371.7,1043.2 L1372.0,1043.2 L1372.3,1043.8 L1372.6,1044.7 L1372.9,1039.6 L1373.2,1045.8 L1373.5,1039.9 L1373.8,1041.4 L1374.1,1044.7 L1374.4,1043.4 L1374.7,1045.0 L1375.0,1041.8 L1375.3,1044.0 L1375.6,1045.1 L1375.9,1042.7 L1376.2,1043.0 L1376.5,1044.6 L1376.8,1045.3 L1377.1,1040.2 L1377.4,1044.0 L1377.7,1045.2 L1378.0,1047.2 L1378.3,1042.9 L1378.6,1045.1 L1378.9,1043.1 L1379.2,1043.4 L1379.5,1044.1 L1379.8,1048.1 L1380.1,1046.3 L1380.4,1047.1 L1380.7,1045.3 L1381.0,1047.5 L1381.3,1045.8 L1381.6,1047.1 L1381.9,1043.3 L1382.2,1044.4 L1382.5,1047.1 L1382.8,1049.6 L1383.1,1049.0 L1383.4,1043.8 L1383.7,1045.1 L1384.0,1044.8 L1384.3,1049.5 L1384.6,1043.6 L1384.9,1045.1 L1385.2,1046.7 L1385.5,1045.6 L1385.8,1042.0 L1386.1,1047.6 L1386.4,1040.2 L1386.7,1044.1 L1387.0,1042.8 L1387.3,1040.8 L1387.6,1042.5 L1387.9,1042.2 L1388.2,1040.7 L1388.5,1041.6 L1388.8,1042.0 L1389.1,1042.5 L1389.4,1038.2 L1389.7,1040.9 L1390.0,1041.8 L1390.3,1043.3 L1390.6,1043.4 L1390.9,1038.0 L1391.2,1039.9 L1391.5,1041.3 L1391.8,1042.0 L1392.1,1043.6 L1392.4,1039.7 L1392.7,1037.8 L1393.0,1039.9 L1393.3,1040.0 L1393.6,1038.0 L1393.9,1037.2 L1394.2,1039.6 L1394.5,1035.8 L1394.8,1036.7 L1395.1,1037.9 L1395.4,1037.3 L1395.7,1036.8 L1396.0,1034.5 L1396.3,1029.3 L1396.6,1033.9 L1396.9,1036.3 L1397.2,1036.4 L1397.5,1037.2 L1397.8,1035.0 L1398.1,1036.3 L1398.4,1033.2 L1398.7,1033.7 L1399.0,1036.5 L1399.3,1030.8 L1399.6,1030.7 L1399.9,1033.7 L1400.2,1032.7 L1400.5,1027.5 L1400.8,1032.8 L1401.1,1028.4 L1401.4,1028.1 L1401.7,1031.0 L1402.0,1029.6 L1402.3,1029.3 L1402.6,1030.6 L1402.9,1029.4 L1403.2,1022.1 L1403.5,1027.2 L1403.8,1027.6 L1404.1,1025.8 L1404.4,1024.9 L1404.7,1025.5 L1405.0,1025.0 L1405.3,1024.0 L1405.6,1023.5 L1405.9,1021.2 L1406.2,1023.1 L1406.5,1021.1 L1406.8,1023.7 L1407.1,1020.6 L1407.4,1020.4 L1407.7,1018.2 L1408.0,1019.8 L1408.3,1021.1 L1408.6,1017.2 L1408.9,1021.5 L1409.2,1019.0 L1409.5,1018.1 L1409.8,1019.8 L1410.1,1018.7 L1410.4,1013.9 L1410.7,1019.6 L1411.0,1018.5 L1411.3,1017.0 L1411.6,1010.4 L1411.9,1008.7 L1412.2,1012.6 L1412.5,1017.7 L1412.8,1017.8 L1413.1,1015.8 L1413.4,1015.2 L1413.7,1010.5 L1414.0,1014.9 L1414.3,1012.9 L1414.6,1014.6 L1414.9,1013.0 L1415.2,1017.1 L1415.5,1015.3 L1415.8,1017.1 L1416.1,1016.8 L1416.4,1015.9 L1416.7,1014.9 L1417.0,1015.9 L1417.3,1017.1 L1417.6,1019.6 L1417.9,1024.0 L1418.2,1021.3 L1418.5,1020.8 L1418.8,1023.3 L1419.1,1019.7 L1419.4,1023.0 L1419.7,1023.5 L1420.0,1019.0 L1420.3,1024.3 L1420.6,1023.0 L1420.9,1024.4 L1421.2,1024.5 L1421.5,1025.8 L1421.8,1024.4 L1422.1,1028.1 L1422.4,1028.7 L1422.7,1025.3 L1423.0,1028.2 L1423.3,1027.7 L1423.6,1031.0 L1423.9,1027.4 L1424.2,1029.5 L1424.5,1029.1 L1424.8,1026.8 L1425.1,1031.6 L1425.4,1030.0 L1425.7,1027.0 L1426.0,1030.9 L1426.3,1031.0 L1426.6,1026.1 L1426.9,1028.5 L1427.2,1028.3 L1427.5,1028.3 L1427.8,1028.4 L1428.1,1027.6 L1428.4,1024.9 L1428.7,1028.2 L1429.0,1025.5 L1429.3,1026.8 L1429.6,1028.8 L1429.9,1031.3 L1430.2,1030.3 L1430.5,1026.2 L1430.8,1027.0 L1431.1,1030.0 L1431.4,1028.3 L1431.7,1028.8 L1432.0,1025.4 L1432.3,1027.9 L1432.6,1027.9 L1432.9,1029.2 L1433.2,1029.8 L1433.5,1024.8 L1433.8,1028.7 L1434.1,1025.2 L1434.4,1025.7 L1434.7,1028.2 L1435.0,1025.6 L1435.3,1026.1 L1435.6,1028.1 L1435.9,1029.1 L1436.2,1025.8 L1436.5,1022.2 L1436.8,1024.4 L1437.1,1022.7 L1437.4,1022.8 L1437.7,1024.0 L1438.0,1022.5 L1438.3,1022.8 L1438.6,1022.4 L1438.9,1022.1 L1439.2,1018.4 L1439.5,1021.4 L1439.8,1021.4 L1440.1,1024.6 L1440.4,1022.9 L1440.7,1021.6 L1441.0,1019.7 L1441.3,1021.7 L1441.6,1017.7 L1441.9,1021.7 L1442.2,1018.8 L1442.5,1018.8 L1442.8,1022.3 L1443.1,1019.9 L1443.4,1019.4 L1443.7,1017.2 L1444.0,1022.1 L1444.3,1014.1 L1444.6,1020.1 L1444.9,1019.6 L1445.2,1019.8 L1445.5,1017.5 L1445.8,1016.5 L1446.1,1022.0 L1446.4,1019.3 L1446.7,1020.1 L1447.0,1014.7 L1447.3,1019.9 L1447.6,1020.8 L1447.9,1019.3 L1448.2,1014.1 L1448.5,1015.0 L1448.8,1011.9 L1449.1,1017.6 L1449.4,1018.9 L1449.7,1017.4 L1450.0,1015.8 L1450.3,1014.9 L1450.6,1018.7 L1450.9,1015.2 L1451.2,1021.6 L1451.5,1019.3 L1451.8,1021.7 L1452.1,1019.7 L1452.4,1019.4 L1452.7,1021.5 L1453.0,1019.4 L1453.3,1021.2 L1453.6,1021.9 L1453.9,1020.8 L1454.2,1024.2 L1454.5,1021.6 L1454.8,1020.5 L1455.1,1024.2 L1455.4,1025.0 L1455.7,1025.2 L1456.0,1026.3 L1456.3,1027.1 L1456.6,1028.0 L1456.9,1028.0 L1457.2,1028.4 L1457.5,1026.0 L1457.8,1030.5 L1458.1,1032.1 L1458.4,1029.8 L1458.7,1029.5 L1459.0,1033.2 L1459.3,1030.6 L1459.6,1032.5 L1459.9,1033.3 L1460.2,1034.6 L1460.5,1038.6 L1460.8,1032.5 L1461.1,1026.8 L1461.4,1033.4 L1461.7,1031.9 L1462.0,1034.8 L1462.3,1034.4 L1462.6,1035.6 L1462.9,1033.9 L1463.2,1035.9 L1463.5,1033.3 L1463.8,1035.8 L1464.1,1032.5 L1464.4,1032.9 L1464.7,1034.4 L1465.0,1035.7 L1465.3,1032.5 L1465.6,1033.9 L1465.9,1034.2 L1466.2,1033.1 L1466.5,1028.2 L1466.8,1030.0 L1467.1,1022.8 L1467.4,1018.3 L1467.7,1012.1 L1468.0,1000.9 L1468.3,989.3 L1468.6,978.8 L1468.9,963.7 L1469.2,950.5 L1469.5,936.9 L1469.8,926.4 L1470.1,917.3 L1470.4,912.8 L1470.6,911.3 L1471.0,914.7 L1471.3,922.5 L1471.6,932.3 L1471.9,945.1 L1472.2,959.5 L1472.5,973.1 L1472.8,984.9 L1473.1,996.8 L1473.4,1006.4 L1473.7,1012.8 L1474.0,1021.5 L1474.3,1022.6 L1474.6,1027.2 L1474.9,1029.3 L1475.2,1030.8 L1475.5,1025.6 L1475.8,1032.1 L1476.1,1030.9 L1476.4,1034.6 L1476.7,1029.3 L1477.0,1034.0 L1477.3,1033.1 L1477.6,1030.5 L1477.9,1032.4 L1478.2,1033.2 L1478.5,1029.3 L1478.8,1028.3 L1479.1,1030.9 L1479.4,1032.8 L1479.7,1032.2 L1480.0,1031.6 L1480.3,1030.2 L1480.6,1030.3 L1480.9,1032.8 L1481.2,1032.1 L1481.5,1034.2 L1481.8,1032.2 L1482.1,1031.2 L1482.4,1030.1 L1482.7,1030.7 L1483.0,1033.6 L1483.3,1029.6 L1483.6,1029.9 L1483.9,1030.9 L1484.2,1031.3 L1484.5,1032.9 L1484.8,1030.1 L1485.1,1034.6 L1485.4,1030.6 L1485.7,1031.0 L1486.0,1031.3 L1486.3,1033.5 L1486.6,1032.8 L1486.9,1031.6 L1487.2,1029.4 L1487.5,1029.0 L1487.8,1032.2 L1488.1,1032.4 L1488.4,1031.7 L1488.7,1032.6 L1489.0,1031.0 L1489.3,1033.0 L1489.6,1035.2 L1489.9,1033.7 L1490.2,1033.2 L1490.5,1033.5 L1490.8,1035.2 L1491.1,1032.3 L1491.4,1032.8 L1491.7,1032.3 L1492.0,1030.6 L1492.3,1036.6 L1492.6,1035.6 L1492.9,1033.0 L1493.2,1038.1 L1493.5,1033.4 L1493.8,1035.7 L1494.1,1033.7 L1494.4,1037.8 L1494.7,1036.4 L1495.0,1036.9 L1495.3,1037.0 L1495.6,1040.2 L1495.9,1031.9 L1496.2,1035.5 L1496.5,1036.7 L1496.8,1037.7 L1497.1,1036.6 L1497.4,1036.9 L1497.7,1038.6 L1498.0,1038.7 L1498.3,1035.9 L1498.6,1039.1 L1498.9,1036.8 L1499.2,1037.0 L1499.5,1040.4 L1499.8,1039.2 L1500.1,1032.6 L1500.4,1037.5 L1500.7,1037.8 L1501.0,1036.5 L1501.3,1034.5 L1501.6,1038.3 L1501.9,1034.4 L1502.2,1035.2 L1502.5,1033.6 L1502.8,1034.5 L1503.1,1031.9 L1503.4,1036.7 L1503.7,1033.2 L1504.0,1034.3 L1504.3,1033.3 L1504.6,1036.8 L1504.9,1037.8 L1505.2,1034.6 L1505.5,1033.9 L1505.8,1033.8 L1506.1,1031.4 L1506.4,1031.2 L1506.7,1031.8 L1507.0,1032.9 L1507.3,1031.3 L1507.6,1031.9 L1507.9,1032.4 L1508.2,1033.4 L1508.5,1032.2 L1508.8,1030.7 L1509.1,1031.6 L1509.4,1029.0 L1509.7,1033.6 L1510.0,1032.6 L1510.3,1032.0 L1510.6,1027.6 L1510.9,1030.1 L1511.2,1030.9 L1511.5,1029.7 L1511.8,1031.7 L1512.1,1027.4 L1512.4,1031.3 L1512.7,1032.4 L1513.0,1029.3 L1513.3,1029.2 L1513.6,1028.2 L1513.9,1031.5 L1514.2,1030.2 L1514.5,1030.6 L1514.8,1029.4 L1515.1,1031.8 L1515.4,1031.0 L1515.7,1030.7 L1516.0,1030.4 L1516.3,1032.0 L1516.6,1030.6 L1516.9,1030.2 L1517.2,1030.6 L1517.5,1030.7 L1517.8,1029.6 L1518.1,1035.3 L1518.4,1035.0 L1518.7,1029.0 L1519.0,1030.9 L1519.3,1030.5 L1519.6,1035.4 L1519.9,1031.6 L1520.2,1033.4 L1520.5,1031.0 L1520.8,1032.0 L1521.1,1034.0 L1521.4,1036.2 L1521.7,1032.2 L1522.0,1034.2 L1522.3,1034.2 L1522.6,1033.2 L1522.9,1032.8 L1523.2,1028.5 L1523.5,1031.5 L1523.8,1029.4 L1524.1,1024.8 L1524.4,1029.3 L1524.7,1027.9 L1525.0,1025.8 L1525.3,1028.2 L1525.6,1024.9 L1525.9,1025.2 L1526.2,1024.5 L1526.5,1027.9 L1526.8,1023.5 L1527.1,1027.8 L1527.4,1024.9 L1527.7,1026.1 L1528.0,1023.3 L1528.3,1022.8 L1528.6,1022.6 L1528.9,1023.4 L1529.2,1022.1 L1529.5,1022.6 L1529.8,1018.4 L1530.1,1022.3 L1530.4,1022.8 L1530.7,1020.8 L1531.0,1020.2 L1531.3,1019.6 L1531.6,1017.2 L1531.9,1015.8 L1532.2,1017.2 L1532.5,1017.4 L1532.8,1016.3 L1533.1,1017.3 L1533.4,1014.8 L1533.7,1015.5 L1534.0,1013.3 L1534.3,1012.5 L1534.6,1017.5 L1534.9,1014.7 L1535.2,1013.5 L1535.5,1011.4 L1535.8,1013.9 L1536.1,1016.6 L1536.4,1010.8 L1536.7,1011.2 L1537.0,1012.4 L1537.3,1009.3 L1537.6,1006.8 L1537.9,1012.3 L1538.2,1010.4 L1538.5,1013.2 L1538.8,1013.2 L1539.1,1011.9 L1539.4,1009.2 L1539.7,1015.4 L1540.0,1014.3 L1540.3,1014.3 L1540.6,1014.7 L1540.9,1015.1 L1541.2,1016.5 L1541.5,1013.7 L1541.8,1016.9 L1542.1,1015.1 L1542.4,1015.9 L1542.7,1018.1 L1543.0,1017.7 L1543.3,1019.4 L1543.6,1019.6 L1543.9,1019.0 L1544.2,1022.1 L1544.5,1022.3 L1544.8,1021.2 L1545.1,1020.9 L1545.4,1025.8 L1545.7,1020.6 L1546.0,1025.0 L1546.3,1023.0 L1546.6,1026.4 L1546.9,1025.0 L1547.2,1029.3 L1547.5,1027.1 L1547.8,1026.0 L1548.1,1025.7 L1548.4,1028.7 L1548.7,1027.8 L1549.0,1025.2 L1549.3,1026.4 L1549.6,1025.8 L1549.9,1032.7 L1550.2,1032.8 L1550.5,1030.3 L1550.8,1033.1 L1551.1,1031.1 L1551.4,1031.5 L1551.7,1032.0 L1552.0,1033.9 L1552.3,1032.1 L1552.6,1034.3 L1552.9,1034.0 L1553.2,1030.9 L1553.5,1032.2 L1553.8,1036.5 L1554.1,1034.8 L1554.4,1034.4 L1554.7,1035.1 L1555.0,1034.6 L1555.3,1035.0 L1555.6,1036.6 L1555.9,1034.0 L1556.2,1035.4 L1556.5,1036.5 L1556.8,1035.0 L1557.1,1030.5 L1557.4,1036.7 L1557.7,1032.1 L1558.0,1033.2 L1558.3,1035.1 L1558.6,1037.4 L1558.9,1035.1 L1559.2,1033.9 L1559.5,1032.9 L1559.8,1032.4 L1560.1,1031.5 L1560.4,1034.7 L1560.7,1032.9 L1561.0,1033.2 L1561.3,1030.3 L1561.6,1033.1 L1561.9,1029.5 L1562.2,1033.4 L1562.5,1035.8 L1562.8,1030.5 L1563.1,1029.9 L1563.4,1034.5 L1563.7,1030.9 L1564.0,1034.1 L1564.3,1029.2 L1564.6,1032.2 L1564.9,1033.3 L1565.2,1032.1 L1565.5,1029.5 L1565.8,1026.1 L1566.1,1031.0 L1566.4,1029.7 L1566.7,1031.4 L1567.0,1034.5 L1567.3,1028.6 L1567.6,1031.0 L1567.9,1033.1 L1568.2,1035.7 L1568.5,1032.3 L1568.8,1034.5 L1569.1,1030.9 L1569.4,1032.8 L1569.7,1032.8 L1570.0,1034.1 L1570.3,1032.7 L1570.6,1032.3 L1570.9,1033.7 L1571.2,1030.9 L1571.5,1028.7 L1571.8,1026.3 L1572.1,1021.6 L1572.4,1016.9 L1572.7,1008.8 L1573.0,998.3 L1573.3,988.3 L1573.6,975.9 L1573.9,965.2 L1574.2,955.7 L1574.5,948.6 L1574.8,943.9 L1575.0,943.5 L1575.4,946.4 L1575.7,954.2 L1576.0,963.6 L1576.3,974.3 L1576.6,986.1 L1576.9,997.6 L1577.2,1006.7 L1577.5,1015.0 L1577.8,1022.4 L1578.1,1028.7 L1578.4,1031.9 L1578.7,1037.3 L1579.0,1038.0 L1579.3,1036.8 L1579.6,1040.2 L1579.9,1037.9 L1580.2,1038.5 L1580.5,1040.2 L1580.8,1043.9 L1581.1,1039.4 L1581.4,1043.3 L1581.7,1039.7 L1582.0,1042.3 L1582.3,1042.7 L1582.6,1041.9 L1582.9,1042.1 L1583.2,1040.6 L1583.5,1038.2 L1583.8,1041.2 L1584.1,1041.3 L1584.4,1044.5 L1584.7,1041.5 L1585.0,1041.9 L1585.3,1042.3 L1585.6,1040.2 L1585.9,1041.8 L1586.2,1043.3 L1586.5,1041.2 L1586.8,1039.5 L1587.1,1041.6 L1587.4,1043.4 L1587.7,1041.4 L1588.0,1040.7 L1588.3,1043.0 L1588.6,1038.9 L1588.9,1041.7 L1589.2,1041.6 L1589.5,1040.2 L1589.8,1041.5 L1590.1,1043.5 L1590.4,1043.4 L1590.7,1042.1 L1591.0,1043.8 L1591.3,1042.9 L1591.6,1039.7 L1591.9,1043.6 L1592.2,1041.8 L1592.5,1042.1 L1592.8,1042.3 L1593.1,1044.5 L1593.4,1041.2 L1593.7,1043.1 L1594.0,1042.0 L1594.3,1041.2 L1594.6,1039.3 L1594.9,1043.4"/>
</g>
<path d="M1117.2,320.5 L1117.2,132.5" fill="none" stroke="#0000ff" stroke-width="5.2" stroke-linecap="round"/>
<rect x="1114.2" y="300" width="6" height="20.5" fill="#0000ff"/>
<g fill="none" stroke="#000" stroke-width="4.0" stroke-linecap="butt">
<path d="M309.4,320.5 V70.2 H1594.9 V320.5"/>
<path d="M309.4,337.0 V1103.8 H1594.9 V337.0"/>
<path d="M307.4,1103.8 H1596.9"/>
</g>
<g stroke="#000" stroke-width="3.6">
<line x1="345.6" x2="345.6" y1="1103.8" y2="1094.3"/>
<line x1="524.0" x2="524.0" y1="1103.8" y2="1084.3"/>
<line x1="702.3" x2="702.3" y1="1103.8" y2="1094.3"/>
<line x1="880.6" x2="880.6" y1="1103.8" y2="1084.3"/>
<line x1="1058.9" x2="1058.9" y1="1103.8" y2="1094.3"/>
<line x1="1237.2" x2="1237.2" y1="1103.8" y2="1084.3"/>
<line x1="1415.6" x2="1415.6" y1="1103.8" y2="1094.3"/>
</g>
<g stroke="#000" stroke-width="3" stroke-linecap="butt">
<line x1="289.1" y1="328.0" x2="329.7" y2="312.0"/>
<line x1="289.1" y1="345.8" x2="329.7" y2="329.8"/>
<line x1="1574.6" y1="328.0" x2="1615.2" y2="312.0"/>
<line x1="1574.6" y1="345.8" x2="1615.2" y2="329.8"/>
</g>
<rect x="449.5" y="972.7" width="56.6" height="131.6" fill="none" stroke="#ff0000" stroke-width="2.2"/>
<rect x="1234.8" y="81.1" width="335.3" height="325.4" fill="#fff" stroke="#000" stroke-width="1.5"/>
<g stroke-width="4.9" stroke-linecap="round">
<line x1="1241.5" x2="1386.3" y1="124.7" y2="124.7" stroke="#008800"/>
<line x1="1241.5" x2="1386.3" y1="204.2" y2="204.2" stroke="#00e000"/>
<line x1="1241.5" x2="1386.3" y1="283.7" y2="283.7" stroke="#0000ff"/>
<line x1="1241.5" x2="1386.3" y1="363.2" y2="363.2" stroke="#9800ff"/>
</g>
<g font-family="&quot;Liberation Serif&quot;, serif" fill="#000" text-rendering="geometricPrecision">
<text transform="matrix(0.5430 0 0 0.5584 130.53 83.79)" font-size="100" font-weight="bold" stroke="#fff" stroke-width="0.73" paint-order="fill stroke" stroke-linejoin="round">22,000</text>
<text transform="matrix(0.5430 0 0 0.5584 130.53 207.59)" font-size="100" font-weight="bold" stroke="#fff" stroke-width="0.73" paint-order="fill stroke" stroke-linejoin="round">21,000</text>
<text transform="matrix(0.5430 0 0 0.5583 130.53 330.79)" font-size="100" font-weight="bold" stroke="#fff" stroke-width="0.73" paint-order="fill stroke" stroke-linejoin="round">20,000</text>
<text transform="matrix(0.5418 0 0 0.5476 179.05 433.82)" font-size="100" font-weight="bold" stroke="#fff" stroke-width="0.73" paint-order="fill stroke" stroke-linejoin="round">8000</text>
<text transform="matrix(0.5459 0 0 0.5476 178.47 519.50)" font-size="100" font-weight="bold" stroke="#fff" stroke-width="0.73" paint-order="fill stroke" stroke-linejoin="round">7000</text>
<text transform="matrix(0.5440 0 0 0.5478 178.95 604.58)" font-size="100" font-weight="bold" stroke="#fff" stroke-width="0.73" paint-order="fill stroke" stroke-linejoin="round">6000</text>
<text transform="matrix(0.5455 0 0 0.5458 178.70 689.76)" font-size="100" font-weight="bold" stroke="#fff" stroke-width="0.73" paint-order="fill stroke" stroke-linejoin="round">5000</text>
<text transform="matrix(0.5370 0 0 0.5472 180.21 774.62)" font-size="100" font-weight="bold" stroke="#fff" stroke-width="0.74" paint-order="fill stroke" stroke-linejoin="round">4000</text>
<text transform="matrix(0.5450 0 0 0.5476 178.92 859.72)" font-size="100" font-weight="bold" stroke="#fff" stroke-width="0.73" paint-order="fill stroke" stroke-linejoin="round">3000</text>
<text transform="matrix(0.5457 0 0 0.5476 178.69 945.70)" font-size="100" font-weight="bold" stroke="#fff" stroke-width="0.73" paint-order="fill stroke" stroke-linejoin="round">2000</text>
<text transform="matrix(0.5585 0 0 0.5473 176.20 1030.75)" font-size="100" font-weight="bold" stroke="#fff" stroke-width="0.72" paint-order="fill stroke" stroke-linejoin="round">1000</text>
<text transform="matrix(0.5669 0 0 0.5472 259.52 1115.74)" font-size="100" font-weight="bold" stroke="#fff" stroke-width="0.72" paint-order="fill stroke" stroke-linejoin="round">0</text>
<text transform="matrix(0.5854 0 0 0.5510 493.58 1163.59)" font-size="100" font-weight="bold" stroke="#fff" stroke-width="0.70" paint-order="fill stroke" stroke-linejoin="round">10</text>
<text transform="matrix(0.5478 0 0 0.5509 853.47 1163.59)" font-size="100" font-weight="bold" stroke="#fff" stroke-width="0.73" paint-order="fill stroke" stroke-linejoin="round">20</text>
<text transform="matrix(0.5540 0 0 0.5510 1209.53 1163.59)" font-size="100" font-weight="bold" stroke="#fff" stroke-width="0.72" paint-order="fill stroke" stroke-linejoin="round">30</text>
<text transform="matrix(0.5495 0 0 0.5512 1567.14 1163.60)" font-size="100" font-weight="bold" stroke="#fff" stroke-width="0.73" paint-order="fill stroke" stroke-linejoin="round">40</text>
<text transform="matrix(0.6293 0 0 0.6106 651.78 1258.02)" font-size="100" font-weight="bold">Diffraction angle [°2θ]</text>
<text transform="matrix(0 -0.6326 0.6163 0 86.63 797.76)" font-size="100" font-weight="bold">Intensity [counts]</text>
<text transform="matrix(0.5632 0 0 0.5596 1399.42 144.01)" font-size="100">NRC-1</text>
<text transform="matrix(0.5741 0 0 0.5595 1399.31 223.61)" font-size="100">NRC-2</text>
<text transform="matrix(0.5707 0 0 0.5583 1399.37 303.00)" font-size="100">NRC-3</text>
<text transform="matrix(0.5675 0 0 0.5590 1399.37 382.61)" font-size="100">NRC-4</text>
<text transform="matrix(0.6204 0 0 0.5852 376.70 370.93)" font-size="100">S</text>
<text transform="matrix(0.5443 0 0 0.5825 587.23 686.70)" font-size="100">K</text>
<text transform="matrix(0.5935 0 0 0.5713 460.19 783.55)" font-size="100">I</text>
<text transform="matrix(0.5762 0 0 0.5777 554.82 861.75)" font-size="100">G</text>
<text transform="matrix(0.5897 0 0 0.5673 451.39 1100.28)" font-size="100">M</text>
<text transform="matrix(0.5390 0 0 0.5672 855.17 899.63)" font-size="100">K</text>
<text transform="matrix(0.6111 0 0 0.5748 918.58 463.71)" font-size="100">Q</text>
<text transform="matrix(0.5489 0 0 0.5710 1035.46 839.60)" font-size="100">K</text>
<text transform="matrix(0.5997 0 0 0.5665 1129.41 135.77)" font-size="100">Q</text>
<text transform="matrix(0.5460 0 0 0.5717 1450.43 899.50)" font-size="100">K</text>
</g>
</svg>
</body></html>
